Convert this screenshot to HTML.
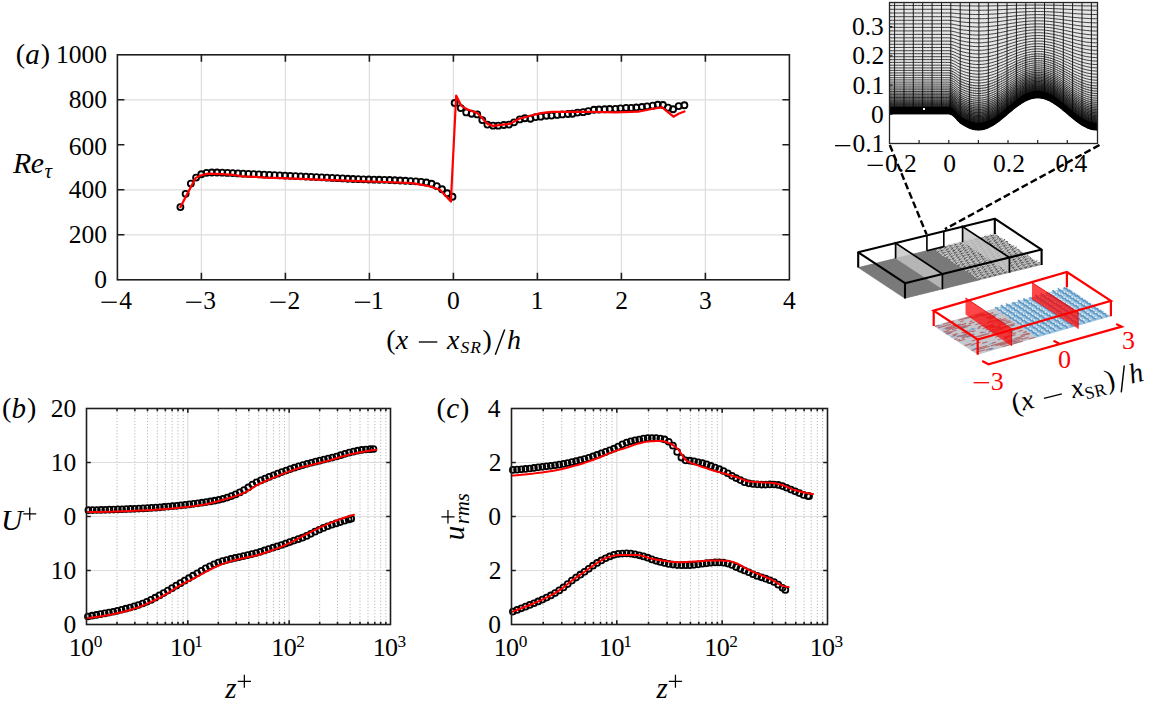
<!DOCTYPE html>
<html><head><meta charset="utf-8"><style>
html,body{margin:0;padding:0;background:#fff;}
svg{display:block;}
</style></head><body>
<svg width="1149" height="706" viewBox="0 0 1149 706" font-family="'Liberation Serif', serif" fill="#000">
<rect width="1149" height="706" fill="#fff"/>
<path d="M201.4 54.8 V279.8 M285.4 54.8 V279.8 M369.4 54.8 V279.8 M453.4 54.8 V279.8 M537.4 54.8 V279.8 M621.4 54.8 V279.8 M705.4 54.8 V279.8 M117.4 234.8 H789.4 M117.4 189.8 H789.4 M117.4 99.8 H789.4" stroke="#dedede" stroke-width="1.2" fill="none"/>
<g fill="none" stroke="#000" stroke-width="1.85"><circle cx="180.4" cy="207.12" r="3.0"/><circle cx="185.63" cy="193.87" r="3.0"/><circle cx="190.86" cy="183.55" r="3.0"/><circle cx="196.1" cy="177.61" r="3.0"/><circle cx="201.33" cy="174.29" r="3.0"/><circle cx="206.56" cy="172.85" r="3.0"/><circle cx="211.79" cy="172.48" r="3.0"/><circle cx="217.03" cy="172.48" r="3.0"/><circle cx="222.26" cy="172.69" r="3.0"/><circle cx="227.49" cy="172.9" r="3.0"/><circle cx="232.72" cy="173.12" r="3.0"/><circle cx="237.95" cy="173.39" r="3.0"/><circle cx="243.19" cy="173.68" r="3.0"/><circle cx="248.42" cy="173.92" r="3.0"/><circle cx="253.65" cy="174.14" r="3.0"/><circle cx="258.88" cy="174.36" r="3.0"/><circle cx="264.12" cy="174.61" r="3.0"/><circle cx="269.35" cy="174.87" r="3.0"/><circle cx="274.58" cy="175.13" r="3.0"/><circle cx="279.81" cy="175.36" r="3.0"/><circle cx="285.04" cy="175.58" r="3.0"/><circle cx="290.28" cy="175.82" r="3.0"/><circle cx="295.51" cy="176.07" r="3.0"/><circle cx="300.74" cy="176.33" r="3.0"/><circle cx="305.97" cy="176.59" r="3.0"/><circle cx="311.21" cy="176.85" r="3.0"/><circle cx="316.44" cy="177.11" r="3.0"/><circle cx="321.67" cy="177.37" r="3.0"/><circle cx="326.9" cy="177.63" r="3.0"/><circle cx="332.13" cy="177.88" r="3.0"/><circle cx="337.37" cy="178.16" r="3.0"/><circle cx="342.6" cy="178.43" r="3.0"/><circle cx="347.83" cy="178.7" r="3.0"/><circle cx="353.06" cy="178.95" r="3.0"/><circle cx="358.3" cy="179.18" r="3.0"/><circle cx="363.53" cy="179.37" r="3.0"/><circle cx="368.76" cy="179.52" r="3.0"/><circle cx="373.99" cy="179.63" r="3.0"/><circle cx="379.22" cy="179.72" r="3.0"/><circle cx="384.46" cy="179.83" r="3.0"/><circle cx="389.69" cy="179.99" r="3.0"/><circle cx="394.92" cy="180.22" r="3.0"/><circle cx="400.15" cy="180.48" r="3.0"/><circle cx="405.39" cy="180.76" r="3.0"/><circle cx="410.62" cy="181.06" r="3.0"/><circle cx="415.85" cy="181.37" r="3.0"/><circle cx="421.08" cy="181.81" r="3.0"/><circle cx="426.31" cy="182.5" r="3.0"/><circle cx="431.55" cy="183.75" r="3.0"/><circle cx="436.78" cy="186.12" r="3.0"/><circle cx="442.01" cy="189.29" r="3.0"/><circle cx="447.24" cy="193.28" r="3.0"/><circle cx="452.48" cy="196.78" r="3.0"/><circle cx="454.66" cy="102.95" r="3.0"/><circle cx="460.79" cy="108.12" r="3.0"/><circle cx="466.25" cy="112.4" r="3.0"/><circle cx="471.63" cy="113.75" r="3.0"/><circle cx="477.26" cy="114.43" r="3.0"/><circle cx="482.3" cy="120.05" r="3.0"/><circle cx="487.42" cy="124.55" r="3.0"/><circle cx="493.13" cy="125.68" r="3.0"/><circle cx="498.26" cy="125.68" r="3.0"/><circle cx="503.8" cy="125" r="3.0"/><circle cx="508.92" cy="124.55" r="3.0"/><circle cx="514.05" cy="122.3" r="3.0"/><circle cx="519.76" cy="119.38" r="3.0"/><circle cx="524.88" cy="118.25" r="3.0"/><circle cx="530.43" cy="118.7" r="3.0"/><circle cx="535.55" cy="117.12" r="3.0"/><circle cx="540.68" cy="116.68" r="3.0"/><circle cx="546.39" cy="115.78" r="3.0"/><circle cx="551.51" cy="115.55" r="3.0"/><circle cx="557.14" cy="114.88" r="3.0"/><circle cx="562.26" cy="114.43" r="3.0"/><circle cx="567.98" cy="113.97" r="3.0"/><circle cx="572.43" cy="113.75" r="3.0"/><circle cx="577.47" cy="112.62" r="3.0"/><circle cx="583.1" cy="112.18" r="3.0"/><circle cx="588.22" cy="111.05" r="3.0"/><circle cx="593.93" cy="109.7" r="3.0"/><circle cx="598.97" cy="109.47" r="3.0"/><circle cx="604.6" cy="109.25" r="3.0"/><circle cx="609.72" cy="109.03" r="3.0"/><circle cx="615.44" cy="108.8" r="3.0"/><circle cx="620.48" cy="108.35" r="3.0"/><circle cx="626.1" cy="107.9" r="3.0"/><circle cx="631.23" cy="107.9" r="3.0"/><circle cx="636.27" cy="107.45" r="3.0"/><circle cx="641.9" cy="107" r="3.0"/><circle cx="647.02" cy="106.33" r="3.0"/><circle cx="652.73" cy="105.65" r="3.0"/><circle cx="657.77" cy="104.75" r="3.0"/><circle cx="662.9" cy="104.97" r="3.0"/><circle cx="668.02" cy="107.68" r="3.0"/><circle cx="673.06" cy="109.25" r="3.0"/><circle cx="678.69" cy="106.1" r="3.0"/><circle cx="684.4" cy="105.2" r="3.0"/></g>
<path d="M180.4 207.12 L195.52 178.1 L200.31 175.51 L208.2 173.6 L221.22 174.21 L233.4 174.79 L242.14 176.3 L256 176.8 L264.74 177.61 L282.04 178.1 L295.06 178.55 L327.4 179.9 L359.82 181.09 L386.2 181.99 L412.24 183.1 L429.46 186.29 L439.96 189.8 L450.88 201.59 L456.17 95.53 L461.3 105.65 L466.84 109.25 L477.26 113.08 L481.71 117.58 L487.42 123.88 L493.13 125.9 L503.38 124.55 L510.18 123.88 L519.17 118.7 L529.42 116 L540.76 113.08 L551.68 111.95 L570.16 111.95 L592.84 111.95 L615.52 112.4 L638.2 111.72 L649.12 109.47 L661.72 107.22 L663.99 108.8 L673.48 116.68 L678.52 113.75 L684.4 111.5" fill="none" stroke="#ff0000" stroke-width="2.2" stroke-linejoin="round" stroke-linecap="round"/>
<path d="M201.4 279.8 v-7 M201.4 54.8 v7 M285.4 279.8 v-7 M285.4 54.8 v7 M369.4 279.8 v-7 M369.4 54.8 v7 M453.4 279.8 v-7 M453.4 54.8 v7 M537.4 279.8 v-7 M537.4 54.8 v7 M621.4 279.8 v-7 M621.4 54.8 v7 M705.4 279.8 v-7 M705.4 54.8 v7 M117.4 234.8 h7 M789.4 234.8 h-7 M117.4 189.8 h7 M789.4 189.8 h-7 M117.4 144.8 h7 M789.4 144.8 h-7 M117.4 99.8 h7 M789.4 99.8 h-7" stroke="#1e1e1e" stroke-width="1.6" fill="none"/>
<rect x="117.4" y="54.8" width="672.0" height="225.0" fill="none" stroke="#1e1e1e" stroke-width="1.6"/>
<text x="94.22" y="288.2" font-size="25.5">0</text>
<text x="68.72" y="243.2" font-size="25.5">200</text>
<text x="68.72" y="198.2" font-size="25.5">400</text>
<text x="68.72" y="155.2" font-size="25.5">600</text>
<text x="68.72" y="108.2" font-size="25.5">800</text>
<text x="55.97" y="63.2" font-size="25.5">1000</text>
<path d="M101.49 302.25 H116.79" stroke="#000" stroke-width="1.3"/><text x="119.36" y="308.5" font-size="25.5">4</text>
<path d="M186.15 302.25 H201.45" stroke="#000" stroke-width="1.3"/><text x="203.29" y="308.5" font-size="25.5">3</text>
<path d="M270.31 302.25 H285.61" stroke="#000" stroke-width="1.3"/><text x="287.55" y="308.5" font-size="25.5">2</text>
<path d="M354.93 302.25 H370.23" stroke="#000" stroke-width="1.3"/><text x="371.05" y="308.5" font-size="25.5">1</text>
<text x="447.02" y="308.5" font-size="25.5">0</text>
<text x="530.67" y="308.5" font-size="25.5">1</text>
<text x="615.17" y="308.5" font-size="25.5">2</text>
<text x="698.91" y="308.5" font-size="25.5">3</text>
<text x="782.98" y="308.5" font-size="25.5">4</text>
<text x="15.67" y="63.4" font-size="28">(</text><text x="25.24" y="63.6" font-size="29" font-style="italic">a</text><text x="40.8" y="63.4" font-size="28">)</text>
<text x="13.06" y="173" font-size="29.8" font-style="italic">R</text><text x="30.68" y="173" font-size="29.8" font-style="italic">e</text><text x="44.44" y="177.6" font-size="21" font-style="italic">τ</text>
<text x="386.27" y="348.8" font-size="28">(</text><text x="395.84" y="348.8" font-size="28" font-style="italic">x</text><path d="M418.8 342 H437.3" stroke="#000" stroke-width="1.35"/><text x="447.04" y="348.8" font-size="28" font-style="italic">x</text><text x="460.59" y="353.4" font-size="17.5" font-style="italic">S</text><text x="470.19" y="353.4" font-size="17.5" font-style="italic">R</text><text x="482.6" y="348.8" font-size="28">)</text><path d="M504.7 329.5 L495.3 354.8" stroke="#000" stroke-width="1.45"/><text x="507.09" y="348.8" font-size="28" font-style="italic">h</text>
<path d="M117 408.5 V624.5 M134.85 408.5 V624.5 M147.51 408.5 V624.5 M157.33 408.5 V624.5 M165.35 408.5 V624.5 M172.13 408.5 V624.5 M178.01 408.5 V624.5 M183.19 408.5 V624.5 M218.33 408.5 V624.5 M236.18 408.5 V624.5 M248.84 408.5 V624.5 M258.66 408.5 V624.5 M266.68 408.5 V624.5 M273.46 408.5 V624.5 M279.34 408.5 V624.5 M284.52 408.5 V624.5 M319.66 408.5 V624.5 M337.51 408.5 V624.5 M350.17 408.5 V624.5 M359.99 408.5 V624.5 M368.01 408.5 V624.5 M374.79 408.5 V624.5 M380.67 408.5 V624.5 M385.85 408.5 V624.5" stroke="#b8b8b8" stroke-width="1" stroke-dasharray="1.2 1.9" fill="none"/>
<path d="M187.83 408.5 V624.5 M289.16 408.5 V624.5 M86.5 462.5 H390.49 M86.5 516.5 H390.49 M86.5 570.5 H390.49" stroke="#dedede" stroke-width="1.2" fill="none"/>
<g fill="none" stroke="#000" stroke-width="1.8"><circle cx="87.92" cy="616.51" r="2.95"/><circle cx="92.12" cy="615.72" r="2.95"/><circle cx="96.33" cy="614.93" r="2.95"/><circle cx="100.53" cy="614.17" r="2.95"/><circle cx="104.74" cy="613.41" r="2.95"/><circle cx="108.94" cy="612.61" r="2.95"/><circle cx="113.15" cy="611.73" r="2.95"/><circle cx="117.35" cy="610.78" r="2.95"/><circle cx="121.56" cy="609.77" r="2.95"/><circle cx="125.77" cy="608.72" r="2.95"/><circle cx="129.97" cy="607.6" r="2.95"/><circle cx="134.18" cy="606.38" r="2.95"/><circle cx="138.38" cy="605.02" r="2.95"/><circle cx="142.59" cy="603.52" r="2.95"/><circle cx="146.79" cy="601.84" r="2.95"/><circle cx="151" cy="599.9" r="2.95"/><circle cx="155.2" cy="597.7" r="2.95"/><circle cx="159.41" cy="595.42" r="2.95"/><circle cx="163.61" cy="593.07" r="2.95"/><circle cx="167.82" cy="590.62" r="2.95"/><circle cx="172.02" cy="588.14" r="2.95"/><circle cx="176.23" cy="585.66" r="2.95"/><circle cx="180.43" cy="583.15" r="2.95"/><circle cx="184.64" cy="580.65" r="2.95"/><circle cx="188.84" cy="578.18" r="2.95"/><circle cx="193.05" cy="575.72" r="2.95"/><circle cx="197.25" cy="573.26" r="2.95"/><circle cx="201.46" cy="570.75" r="2.95"/><circle cx="205.66" cy="568.41" r="2.95"/><circle cx="209.87" cy="566.28" r="2.95"/><circle cx="214.07" cy="564.28" r="2.95"/><circle cx="218.28" cy="562.55" r="2.95"/><circle cx="222.48" cy="561.16" r="2.95"/><circle cx="226.69" cy="560" r="2.95"/><circle cx="230.9" cy="558.95" r="2.95"/><circle cx="235.1" cy="557.95" r="2.95"/><circle cx="239.31" cy="557.03" r="2.95"/><circle cx="243.51" cy="556.1" r="2.95"/><circle cx="247.72" cy="555.11" r="2.95"/><circle cx="251.92" cy="554.09" r="2.95"/><circle cx="256.13" cy="553" r="2.95"/><circle cx="260.33" cy="551.8" r="2.95"/><circle cx="264.54" cy="550.46" r="2.95"/><circle cx="268.74" cy="549.08" r="2.95"/><circle cx="272.95" cy="547.72" r="2.95"/><circle cx="277.15" cy="546.38" r="2.95"/><circle cx="281.36" cy="545.01" r="2.95"/><circle cx="285.56" cy="543.57" r="2.95"/><circle cx="289.77" cy="542.08" r="2.95"/><circle cx="293.97" cy="540.59" r="2.95"/><circle cx="298.18" cy="539.17" r="2.95"/><circle cx="302.38" cy="537.69" r="2.95"/><circle cx="306.59" cy="535.96" r="2.95"/><circle cx="310.79" cy="533.84" r="2.95"/><circle cx="315" cy="531.66" r="2.95"/><circle cx="319.2" cy="529.73" r="2.95"/><circle cx="323.41" cy="527.94" r="2.95"/><circle cx="327.61" cy="526.27" r="2.95"/><circle cx="331.82" cy="524.76" r="2.95"/><circle cx="336.03" cy="523.38" r="2.95"/><circle cx="340.23" cy="522.07" r="2.95"/><circle cx="344.44" cy="520.76" r="2.95"/><circle cx="348.64" cy="519.46" r="2.95"/><circle cx="351.17" cy="518.7" r="2.95"/></g>
<path d="M86.5 618.2 L88.75 617.96 L91 617.7 L93.24 617.42 L95.49 617.11 L97.74 616.78 L99.99 616.44 L102.24 616.08 L104.48 615.7 L106.73 615.3 L108.98 614.9 L111.23 614.48 L113.48 614.03 L115.72 613.56 L117.97 613.06 L120.22 612.53 L122.47 611.98 L124.72 611.41 L126.96 610.8 L129.21 610.17 L131.46 609.51 L133.71 608.83 L135.96 608.11 L138.2 607.32 L140.45 606.48 L142.7 605.58 L144.95 604.64 L147.2 603.66 L149.44 602.64 L151.69 601.59 L153.94 600.51 L156.19 599.42 L158.44 598.31 L160.68 597.17 L162.93 595.94 L165.18 594.65 L167.43 593.29 L169.68 591.89 L171.92 590.47 L174.17 589.05 L176.42 587.64 L178.67 586.26 L180.92 584.93 L183.16 583.67 L185.41 582.49 L187.66 581.45 L189.91 580.42 L192.16 579.29 L194.4 578.09 L196.65 576.86 L198.9 575.61 L201.15 574.37 L203.4 573.16 L205.64 571.98 L207.89 570.79 L210.14 569.6 L212.39 568.42 L214.64 567.29 L216.88 566.23 L219.13 565.27 L221.38 564.4 L223.63 563.58 L225.88 562.81 L228.12 562.08 L230.37 561.38 L232.62 560.73 L234.87 560.11 L237.12 559.52 L239.36 558.99 L241.61 558.49 L243.86 558.02 L246.11 557.56 L248.36 557.11 L250.6 556.64 L252.85 556.16 L255.1 555.63 L257.35 555.06 L259.6 554.44 L261.84 553.77 L264.09 553.07 L266.34 552.33 L268.59 551.56 L270.84 550.75 L273.08 549.93 L275.33 549.08 L277.58 548.21 L279.83 547.33 L282.08 546.42 L284.32 545.46 L286.57 544.45 L288.82 543.41 L291.07 542.33 L293.32 541.22 L295.56 540.04 L297.81 538.81 L300.06 537.57 L302.31 536.34 L304.56 535.15 L306.8 534 L309.05 532.86 L311.3 531.73 L313.55 530.62 L315.8 529.53 L318.04 528.46 L320.29 527.42 L322.54 526.39 L324.79 525.38 L327.04 524.38 L329.28 523.41 L331.53 522.47 L333.78 521.57 L336.03 520.71 L338.28 519.88 L340.52 519.06 L342.77 518.27 L345.02 517.5 L347.27 516.76 L349.52 516.04 L351.76 515.36 L354.01 514.7" fill="none" stroke="#ff0000" stroke-width="2.0" stroke-linejoin="round" stroke-linecap="round"/>
<g fill="none" stroke="#000" stroke-width="1.8"><circle cx="88.43" cy="510.2" r="2.95"/><circle cx="92.63" cy="510.11" r="2.95"/><circle cx="96.84" cy="510.01" r="2.95"/><circle cx="101.04" cy="509.9" r="2.95"/><circle cx="105.25" cy="509.79" r="2.95"/><circle cx="109.45" cy="509.67" r="2.95"/><circle cx="113.66" cy="509.54" r="2.95"/><circle cx="117.86" cy="509.4" r="2.95"/><circle cx="122.07" cy="509.26" r="2.95"/><circle cx="126.27" cy="509.11" r="2.95"/><circle cx="130.48" cy="508.95" r="2.95"/><circle cx="134.68" cy="508.78" r="2.95"/><circle cx="138.89" cy="508.59" r="2.95"/><circle cx="143.09" cy="508.38" r="2.95"/><circle cx="147.3" cy="508.15" r="2.95"/><circle cx="151.5" cy="507.89" r="2.95"/><circle cx="155.71" cy="507.6" r="2.95"/><circle cx="159.91" cy="507.28" r="2.95"/><circle cx="164.12" cy="506.95" r="2.95"/><circle cx="168.32" cy="506.59" r="2.95"/><circle cx="172.53" cy="506.22" r="2.95"/><circle cx="176.73" cy="505.81" r="2.95"/><circle cx="180.94" cy="505.37" r="2.95"/><circle cx="185.14" cy="504.89" r="2.95"/><circle cx="189.35" cy="504.38" r="2.95"/><circle cx="193.56" cy="503.84" r="2.95"/><circle cx="197.76" cy="503.28" r="2.95"/><circle cx="201.97" cy="502.7" r="2.95"/><circle cx="206.17" cy="502.09" r="2.95"/><circle cx="210.38" cy="501.43" r="2.95"/><circle cx="214.58" cy="500.68" r="2.95"/><circle cx="218.79" cy="499.82" r="2.95"/><circle cx="222.99" cy="498.79" r="2.95"/><circle cx="227.2" cy="497.53" r="2.95"/><circle cx="231.4" cy="496.06" r="2.95"/><circle cx="235.61" cy="494.42" r="2.95"/><circle cx="239.81" cy="492.42" r="2.95"/><circle cx="244.02" cy="490.13" r="2.95"/><circle cx="248.22" cy="487.47" r="2.95"/><circle cx="252.43" cy="484.54" r="2.95"/><circle cx="256.63" cy="482.3" r="2.95"/><circle cx="260.84" cy="480.41" r="2.95"/><circle cx="265.04" cy="478.66" r="2.95"/><circle cx="269.25" cy="476.92" r="2.95"/><circle cx="273.45" cy="475.24" r="2.95"/><circle cx="277.66" cy="473.63" r="2.95"/><circle cx="281.86" cy="472.07" r="2.95"/><circle cx="286.07" cy="470.55" r="2.95"/><circle cx="290.27" cy="469.08" r="2.95"/><circle cx="294.48" cy="467.68" r="2.95"/><circle cx="298.69" cy="466.35" r="2.95"/><circle cx="302.89" cy="465.07" r="2.95"/><circle cx="307.1" cy="463.85" r="2.95"/><circle cx="311.3" cy="462.73" r="2.95"/><circle cx="315.51" cy="461.67" r="2.95"/><circle cx="319.71" cy="460.64" r="2.95"/><circle cx="323.92" cy="459.61" r="2.95"/><circle cx="328.12" cy="458.61" r="2.95"/><circle cx="332.33" cy="457.59" r="2.95"/><circle cx="336.53" cy="456.49" r="2.95"/><circle cx="340.74" cy="455.2" r="2.95"/><circle cx="344.94" cy="453.85" r="2.95"/><circle cx="349.15" cy="452.65" r="2.95"/><circle cx="353.35" cy="451.63" r="2.95"/><circle cx="357.56" cy="450.69" r="2.95"/><circle cx="361.76" cy="449.95" r="2.95"/><circle cx="365.97" cy="449.48" r="2.95"/><circle cx="370.17" cy="449.14" r="2.95"/><circle cx="373.47" cy="449" r="2.95"/></g>
<path d="M87.01 512.1 L89.44 512.09 L91.87 512.07 L94.3 512.05 L96.73 512.01 L99.16 511.97 L101.59 511.92 L104.02 511.87 L106.45 511.81 L108.88 511.74 L111.31 511.67 L113.74 511.59 L116.17 511.51 L118.6 511.42 L121.03 511.33 L123.46 511.23 L125.89 511.14 L128.32 511.04 L130.75 510.93 L133.18 510.83 L135.61 510.72 L138.04 510.61 L140.47 510.5 L142.9 510.39 L145.33 510.28 L147.76 510.15 L150.19 510.02 L152.62 509.88 L155.05 509.73 L157.48 509.58 L159.91 509.41 L162.34 509.23 L164.77 509.05 L167.2 508.86 L169.63 508.65 L172.06 508.44 L174.49 508.22 L176.92 507.99 L179.35 507.74 L181.79 507.49 L184.22 507.23 L186.65 506.96 L189.08 506.68 L191.51 506.38 L193.94 506.08 L196.37 505.77 L198.8 505.44 L201.23 505.07 L203.66 504.65 L206.09 504.17 L208.52 503.65 L210.95 503.09 L213.38 502.49 L215.81 501.86 L218.24 501.21 L220.67 500.53 L223.1 499.83 L225.53 499.12 L227.96 498.4 L230.39 497.68 L232.82 496.94 L235.25 496.16 L237.68 495.34 L240.11 494.45 L242.54 493.49 L244.97 492.44 L247.4 491.21 L249.83 489.71 L252.26 488.08 L254.69 486.47 L257.12 484.99 L259.55 483.74 L261.98 482.57 L264.41 481.47 L266.84 480.41 L269.27 479.38 L271.7 478.35 L274.13 477.34 L276.56 476.35 L278.99 475.38 L281.42 474.43 L283.85 473.5 L286.28 472.58 L288.71 471.67 L291.14 470.76 L293.58 469.88 L296.01 469.03 L298.44 468.25 L300.87 467.54 L303.3 466.89 L305.73 466.29 L308.16 465.71 L310.59 465.13 L313.02 464.54 L315.45 463.94 L317.88 463.34 L320.31 462.74 L322.74 462.13 L325.17 461.51 L327.6 460.86 L330.03 460.17 L332.46 459.44 L334.89 458.7 L337.32 457.96 L339.75 457.24 L342.18 456.57 L344.61 455.91 L347.04 455.27 L349.47 454.64 L351.9 454.05 L354.33 453.51 L356.76 453.01 L359.19 452.53 L361.62 452.07 L364.05 451.63 L366.48 451.2 L368.91 450.81 L371.34 450.44 L373.77 450.1 L376.2 449.8" fill="none" stroke="#ff0000" stroke-width="2.0" stroke-linejoin="round" stroke-linecap="round"/>
<path d="M117 624.5 v-2.8 M117 408.5 v2.8 M134.85 624.5 v-2.8 M134.85 408.5 v2.8 M147.51 624.5 v-2.8 M147.51 408.5 v2.8 M157.33 624.5 v-2.8 M157.33 408.5 v2.8 M165.35 624.5 v-2.8 M165.35 408.5 v2.8 M172.13 624.5 v-2.8 M172.13 408.5 v2.8 M178.01 624.5 v-2.8 M178.01 408.5 v2.8 M183.19 624.5 v-2.8 M183.19 408.5 v2.8 M218.33 624.5 v-2.8 M218.33 408.5 v2.8 M236.18 624.5 v-2.8 M236.18 408.5 v2.8 M248.84 624.5 v-2.8 M248.84 408.5 v2.8 M258.66 624.5 v-2.8 M258.66 408.5 v2.8 M266.68 624.5 v-2.8 M266.68 408.5 v2.8 M273.46 624.5 v-2.8 M273.46 408.5 v2.8 M279.34 624.5 v-2.8 M279.34 408.5 v2.8 M284.52 624.5 v-2.8 M284.52 408.5 v2.8 M319.66 624.5 v-2.8 M319.66 408.5 v2.8 M337.51 624.5 v-2.8 M337.51 408.5 v2.8 M350.17 624.5 v-2.8 M350.17 408.5 v2.8 M359.99 624.5 v-2.8 M359.99 408.5 v2.8 M368.01 624.5 v-2.8 M368.01 408.5 v2.8 M374.79 624.5 v-2.8 M374.79 408.5 v2.8 M380.67 624.5 v-2.8 M380.67 408.5 v2.8 M385.85 624.5 v-2.8 M385.85 408.5 v2.8 M187.83 624.5 v-4.3 M187.83 408.5 v4.3 M289.16 624.5 v-4.3 M289.16 408.5 v4.3 M86.5 462.5 h4.3 M390.49 462.5 h-4.3 M86.5 516.5 h4.3 M390.49 516.5 h-4.3 M86.5 570.5 h4.3 M390.49 570.5 h-4.3" stroke="#1e1e1e" stroke-width="1.6" fill="none"/>
<rect x="86.5" y="408.5" width="303.99" height="216" fill="none" stroke="#1e1e1e" stroke-width="1.6"/>
<text x="68.71" y="655.7" font-size="26">1</text><text x="81.11" y="655.7" font-size="26">0</text><text x="93.74" y="646.6" font-size="17.3">0</text>
<text x="170.04" y="655.7" font-size="26">1</text><text x="182.44" y="655.7" font-size="26">0</text><text x="194.21" y="646.6" font-size="17.3">1</text>
<text x="271.37" y="655.7" font-size="26">1</text><text x="283.77" y="655.7" font-size="26">0</text><text x="296.3" y="646.6" font-size="17.3">2</text>
<text x="372.7" y="655.7" font-size="26">1</text><text x="385.1" y="655.7" font-size="26">0</text><text x="397.56" y="646.6" font-size="17.3">3</text>
<text x="50.87" y="416.9" font-size="25.5">20</text>
<text x="50.87" y="470.9" font-size="25.5">10</text>
<text x="63.62" y="524.9" font-size="25.5">0</text>
<text x="50.87" y="578.9" font-size="25.5">10</text>
<text x="63.62" y="632.9" font-size="25.5">0</text>
<text x="1.97" y="416.8" font-size="28">(</text><text x="11.52" y="417.5" font-size="29" font-style="italic">b</text><text x="27.1" y="416.8" font-size="28">)</text>
<text x="0.95" y="530" font-size="30" font-style="italic">U</text><path d="M23.3 513.85 h12.9 M29.75 507.4 v12.9" stroke="#000" stroke-width="1.25"/>
<text x="225.33" y="697.6" font-size="29" font-style="italic">z</text><path d="M237.7 681.3 h13.3 M244.35 674.8 v13" stroke="#000" stroke-width="1.25"/>
<path d="M543.21 408.5 V624.5 M561.76 408.5 V624.5 M574.91 408.5 V624.5 M585.12 408.5 V624.5 M593.46 408.5 V624.5 M600.51 408.5 V624.5 M606.62 408.5 V624.5 M612.01 408.5 V624.5 M648.54 408.5 V624.5 M667.09 408.5 V624.5 M680.24 408.5 V624.5 M690.45 408.5 V624.5 M698.79 408.5 V624.5 M705.84 408.5 V624.5 M711.95 408.5 V624.5 M717.34 408.5 V624.5 M753.87 408.5 V624.5 M772.42 408.5 V624.5 M785.57 408.5 V624.5 M795.78 408.5 V624.5 M804.12 408.5 V624.5 M811.17 408.5 V624.5 M817.28 408.5 V624.5 M822.67 408.5 V624.5" stroke="#b8b8b8" stroke-width="1" stroke-dasharray="1.2 1.9" fill="none"/>
<path d="M616.83 408.5 V624.5 M722.16 408.5 V624.5 M511.5 462.5 H827.49 M511.5 516.5 H827.49 M511.5 570.5 H827.49" stroke="#dedede" stroke-width="1.2" fill="none"/>
<g fill="none" stroke="#000" stroke-width="1.8"><circle cx="512.87" cy="469.9" r="2.95"/><circle cx="517.08" cy="469.63" r="2.95"/><circle cx="521.3" cy="469.3" r="2.95"/><circle cx="525.51" cy="468.93" r="2.95"/><circle cx="529.72" cy="468.49" r="2.95"/><circle cx="533.94" cy="467.96" r="2.95"/><circle cx="538.15" cy="467.37" r="2.95"/><circle cx="542.36" cy="466.79" r="2.95"/><circle cx="546.57" cy="466.28" r="2.95"/><circle cx="550.79" cy="465.79" r="2.95"/><circle cx="555" cy="465.26" r="2.95"/><circle cx="559.21" cy="464.65" r="2.95"/><circle cx="563.43" cy="463.9" r="2.95"/><circle cx="567.64" cy="463.06" r="2.95"/><circle cx="571.85" cy="462.16" r="2.95"/><circle cx="576.07" cy="461.22" r="2.95"/><circle cx="580.28" cy="460.21" r="2.95"/><circle cx="584.49" cy="459.1" r="2.95"/><circle cx="588.71" cy="457.87" r="2.95"/><circle cx="592.92" cy="456.46" r="2.95"/><circle cx="597.13" cy="454.94" r="2.95"/><circle cx="601.35" cy="453.4" r="2.95"/><circle cx="605.56" cy="451.9" r="2.95"/><circle cx="609.77" cy="450.37" r="2.95"/><circle cx="613.98" cy="448.7" r="2.95"/><circle cx="618.2" cy="446.67" r="2.95"/><circle cx="622.41" cy="444.33" r="2.95"/><circle cx="626.62" cy="442.5" r="2.95"/><circle cx="630.84" cy="441.28" r="2.95"/><circle cx="635.05" cy="440.31" r="2.95"/><circle cx="639.26" cy="439.48" r="2.95"/><circle cx="643.48" cy="438.65" r="2.95"/><circle cx="647.69" cy="438.13" r="2.95"/><circle cx="651.9" cy="438.09" r="2.95"/><circle cx="656.12" cy="438.09" r="2.95"/><circle cx="660.33" cy="438.51" r="2.95"/><circle cx="664.54" cy="439.45" r="2.95"/><circle cx="668.76" cy="441.77" r="2.95"/><circle cx="672.97" cy="445.65" r="2.95"/><circle cx="677.18" cy="451.92" r="2.95"/><circle cx="681.4" cy="457.55" r="2.95"/><circle cx="685.61" cy="460.34" r="2.95"/><circle cx="689.82" cy="460.69" r="2.95"/><circle cx="694.03" cy="461.39" r="2.95"/><circle cx="698.25" cy="462.26" r="2.95"/><circle cx="702.46" cy="463.22" r="2.95"/><circle cx="706.67" cy="464.38" r="2.95"/><circle cx="710.89" cy="465.94" r="2.95"/><circle cx="715.1" cy="467.64" r="2.95"/><circle cx="719.31" cy="469.19" r="2.95"/><circle cx="723.53" cy="470.98" r="2.95"/><circle cx="727.74" cy="473.23" r="2.95"/><circle cx="731.95" cy="475.84" r="2.95"/><circle cx="736.17" cy="478.04" r="2.95"/><circle cx="740.38" cy="480.12" r="2.95"/><circle cx="744.59" cy="482.14" r="2.95"/><circle cx="748.81" cy="483.34" r="2.95"/><circle cx="753.02" cy="484" r="2.95"/><circle cx="757.23" cy="484.35" r="2.95"/><circle cx="761.45" cy="484.54" r="2.95"/><circle cx="765.66" cy="484.61" r="2.95"/><circle cx="769.87" cy="484.43" r="2.95"/><circle cx="774.08" cy="484.49" r="2.95"/><circle cx="778.3" cy="484.96" r="2.95"/><circle cx="782.51" cy="486.11" r="2.95"/><circle cx="786.72" cy="487.74" r="2.95"/><circle cx="790.94" cy="489.59" r="2.95"/><circle cx="795.15" cy="491.35" r="2.95"/><circle cx="799.36" cy="493.08" r="2.95"/><circle cx="803.58" cy="494.89" r="2.95"/><circle cx="807.79" cy="495.99" r="2.95"/><circle cx="809.06" cy="496.2" r="2.95"/></g>
<path d="M511.82 475.6 L514.35 475.38 L516.88 475.16 L519.41 474.93 L521.94 474.69 L524.47 474.44 L527 474.18 L529.53 473.92 L532.06 473.65 L534.59 473.37 L537.12 473.07 L539.65 472.76 L542.18 472.43 L544.71 472.09 L547.24 471.73 L549.77 471.36 L552.31 470.96 L554.84 470.53 L557.37 470.07 L559.9 469.57 L562.43 468.99 L564.96 468.37 L567.49 467.7 L570.02 467.02 L572.55 466.32 L575.08 465.64 L577.61 464.93 L580.14 464.21 L582.67 463.45 L585.2 462.66 L587.73 461.82 L590.26 460.92 L592.79 459.96 L595.32 458.97 L597.86 457.97 L600.39 456.96 L602.92 455.96 L605.45 454.92 L607.98 453.85 L610.51 452.81 L613.04 451.83 L615.57 450.93 L618.1 450.13 L620.63 449.39 L623.16 448.67 L625.69 447.9 L628.22 447.04 L630.75 446.08 L633.28 445.12 L635.81 444.24 L638.34 443.54 L640.88 442.92 L643.41 442.34 L645.94 441.87 L648.47 441.54 L651 441.33 L653.53 441.15 L656.06 441.01 L658.59 440.92 L661.12 440.93 L663.65 441.32 L666.18 442.04 L668.71 442.95 L671.24 444.05 L673.77 445.64 L676.3 447.59 L678.83 450.16 L681.36 454.09 L683.9 457.94 L686.43 460.54 L688.96 462.08 L691.49 463.09 L694.02 463.97 L696.55 464.91 L699.08 465.83 L701.61 466.71 L704.14 467.57 L706.67 468.39 L709.2 469.18 L711.73 469.95 L714.26 470.7 L716.79 471.43 L719.32 472.15 L721.85 472.84 L724.38 473.53 L726.91 474.23 L729.45 474.97 L731.98 475.72 L734.51 476.49 L737.04 477.28 L739.57 478.16 L742.1 479.2 L744.63 480.22 L747.16 481.03 L749.69 481.48 L752.22 481.75 L754.75 481.95 L757.28 482.12 L759.81 482.26 L762.34 482.39 L764.87 482.48 L767.4 482.57 L769.93 482.69 L772.47 482.88 L775 483.27 L777.53 483.84 L780.06 484.53 L782.59 485.26 L785.12 486.1 L787.65 487.16 L790.18 488.29 L792.71 489.35 L795.24 490.19 L797.77 490.91 L800.3 491.57 L802.83 492.17 L805.36 492.73 L807.89 493.23 L810.42 493.69 L812.95 494.09" fill="none" stroke="#ff0000" stroke-width="2.0" stroke-linejoin="round" stroke-linecap="round"/>
<g fill="none" stroke="#000" stroke-width="1.8"><circle cx="512.87" cy="611.59" r="2.95"/><circle cx="517.08" cy="609.95" r="2.95"/><circle cx="521.3" cy="608.29" r="2.95"/><circle cx="525.51" cy="606.63" r="2.95"/><circle cx="529.72" cy="604.96" r="2.95"/><circle cx="533.94" cy="603.23" r="2.95"/><circle cx="538.15" cy="601.47" r="2.95"/><circle cx="542.36" cy="599.6" r="2.95"/><circle cx="546.57" cy="597.59" r="2.95"/><circle cx="550.79" cy="595.43" r="2.95"/><circle cx="555" cy="593.07" r="2.95"/><circle cx="559.21" cy="590.42" r="2.95"/><circle cx="563.43" cy="587.45" r="2.95"/><circle cx="567.64" cy="584.03" r="2.95"/><circle cx="571.85" cy="580.58" r="2.95"/><circle cx="576.07" cy="577.55" r="2.95"/><circle cx="580.28" cy="574.72" r="2.95"/><circle cx="584.49" cy="571.86" r="2.95"/><circle cx="588.71" cy="568.78" r="2.95"/><circle cx="592.92" cy="565.7" r="2.95"/><circle cx="597.13" cy="562.95" r="2.95"/><circle cx="601.35" cy="560.43" r="2.95"/><circle cx="605.56" cy="558.24" r="2.95"/><circle cx="609.77" cy="556.45" r="2.95"/><circle cx="613.98" cy="554.86" r="2.95"/><circle cx="618.2" cy="553.92" r="2.95"/><circle cx="622.41" cy="553.58" r="2.95"/><circle cx="626.62" cy="553.41" r="2.95"/><circle cx="630.84" cy="553.67" r="2.95"/><circle cx="635.05" cy="554.42" r="2.95"/><circle cx="639.26" cy="555.28" r="2.95"/><circle cx="643.48" cy="556.38" r="2.95"/><circle cx="647.69" cy="557.72" r="2.95"/><circle cx="651.9" cy="559.4" r="2.95"/><circle cx="656.12" cy="560.8" r="2.95"/><circle cx="660.33" cy="561.9" r="2.95"/><circle cx="664.54" cy="562.9" r="2.95"/><circle cx="668.76" cy="563.88" r="2.95"/><circle cx="672.97" cy="564.57" r="2.95"/><circle cx="677.18" cy="565.06" r="2.95"/><circle cx="681.4" cy="565.21" r="2.95"/><circle cx="685.61" cy="565.21" r="2.95"/><circle cx="689.82" cy="565.19" r="2.95"/><circle cx="694.03" cy="564.83" r="2.95"/><circle cx="698.25" cy="564.34" r="2.95"/><circle cx="702.46" cy="563.77" r="2.95"/><circle cx="706.67" cy="563.22" r="2.95"/><circle cx="710.89" cy="562.73" r="2.95"/><circle cx="715.1" cy="562.41" r="2.95"/><circle cx="719.31" cy="562.46" r="2.95"/><circle cx="723.53" cy="562.67" r="2.95"/><circle cx="727.74" cy="563.55" r="2.95"/><circle cx="731.95" cy="565.02" r="2.95"/><circle cx="736.17" cy="567.04" r="2.95"/><circle cx="740.38" cy="568.82" r="2.95"/><circle cx="744.59" cy="570.5" r="2.95"/><circle cx="748.81" cy="572.27" r="2.95"/><circle cx="753.02" cy="574.26" r="2.95"/><circle cx="757.23" cy="575.97" r="2.95"/><circle cx="761.45" cy="577.29" r="2.95"/><circle cx="765.66" cy="578.72" r="2.95"/><circle cx="769.87" cy="580.27" r="2.95"/><circle cx="774.08" cy="582.01" r="2.95"/><circle cx="778.3" cy="584.63" r="2.95"/><circle cx="782.51" cy="587.83" r="2.95"/><circle cx="785.36" cy="589.91" r="2.95"/></g>
<path d="M512.87 611.59 L515.19 610.69 L517.5 609.79 L519.82 608.88 L522.14 607.96 L524.46 607.05 L526.77 606.13 L529.09 605.21 L531.41 604.27 L533.72 603.32 L536.04 602.35 L538.36 601.37 L540.68 600.37 L542.99 599.31 L545.31 598.21 L547.63 597.07 L549.95 595.88 L552.26 594.63 L554.58 593.31 L556.9 591.91 L559.21 590.42 L561.53 588.85 L563.85 587.13 L566.17 585.26 L568.48 583.32 L570.8 581.42 L573.12 579.63 L575.44 577.98 L577.75 576.4 L580.07 574.86 L582.39 573.31 L584.7 571.72 L587.02 570.03 L589.34 568.31 L591.66 566.6 L593.97 564.97 L596.29 563.47 L598.61 562 L600.93 560.55 L603.24 559.23 L605.56 558.13 L607.88 557.33 L610.19 556.62 L612.51 555.98 L614.83 555.47 L617.15 555.17 L619.46 555.1 L621.78 555.07 L624.1 555.05 L626.42 555.03 L628.73 555.02 L631.05 555.01 L633.37 555.01 L635.68 555 L638 555.07 L640.32 555.4 L642.64 555.94 L644.95 556.63 L647.27 557.39 L649.59 558.13 L651.9 558.8 L654.22 559.32 L656.54 559.68 L658.86 560.04 L661.17 560.4 L663.49 560.75 L665.81 561.08 L668.13 561.38 L670.44 561.64 L672.76 561.87 L675.08 562.04 L677.39 562.16 L679.71 562.21 L682.03 562.19 L684.35 562.12 L686.66 562.01 L688.98 561.87 L691.3 561.72 L693.62 561.56 L695.93 561.42 L698.25 561.29 L700.57 561.16 L702.88 561.02 L705.2 560.87 L707.52 560.73 L709.84 560.6 L712.15 560.5 L714.47 560.43 L716.79 560.4 L719.11 560.43 L721.42 560.5 L723.74 560.63 L726.06 560.79 L728.37 560.98 L730.69 561.34 L733.01 562 L735.33 562.85 L737.64 563.76 L739.96 564.81 L742.28 566.11 L744.6 567.5 L746.91 568.88 L749.23 570.09 L751.55 571.14 L753.86 572.13 L756.18 573.08 L758.5 574.04 L760.82 575.02 L763.13 576 L765.45 576.98 L767.77 577.97 L770.09 579.01 L772.4 580.13 L774.72 581.48 L777.04 582.93 L779.35 584.31 L781.67 585.42 L783.99 586.14 L786.31 586.67 L788.62 587" fill="none" stroke="#ff0000" stroke-width="2.0" stroke-linejoin="round" stroke-linecap="round"/>
<path d="M543.21 624.5 v-2.8 M543.21 408.5 v2.8 M561.76 624.5 v-2.8 M561.76 408.5 v2.8 M574.91 624.5 v-2.8 M574.91 408.5 v2.8 M585.12 624.5 v-2.8 M585.12 408.5 v2.8 M593.46 624.5 v-2.8 M593.46 408.5 v2.8 M600.51 624.5 v-2.8 M600.51 408.5 v2.8 M606.62 624.5 v-2.8 M606.62 408.5 v2.8 M612.01 624.5 v-2.8 M612.01 408.5 v2.8 M648.54 624.5 v-2.8 M648.54 408.5 v2.8 M667.09 624.5 v-2.8 M667.09 408.5 v2.8 M680.24 624.5 v-2.8 M680.24 408.5 v2.8 M690.45 624.5 v-2.8 M690.45 408.5 v2.8 M698.79 624.5 v-2.8 M698.79 408.5 v2.8 M705.84 624.5 v-2.8 M705.84 408.5 v2.8 M711.95 624.5 v-2.8 M711.95 408.5 v2.8 M717.34 624.5 v-2.8 M717.34 408.5 v2.8 M753.87 624.5 v-2.8 M753.87 408.5 v2.8 M772.42 624.5 v-2.8 M772.42 408.5 v2.8 M785.57 624.5 v-2.8 M785.57 408.5 v2.8 M795.78 624.5 v-2.8 M795.78 408.5 v2.8 M804.12 624.5 v-2.8 M804.12 408.5 v2.8 M811.17 624.5 v-2.8 M811.17 408.5 v2.8 M817.28 624.5 v-2.8 M817.28 408.5 v2.8 M822.67 624.5 v-2.8 M822.67 408.5 v2.8 M616.83 624.5 v-4.3 M616.83 408.5 v4.3 M722.16 624.5 v-4.3 M722.16 408.5 v4.3 M511.5 462.5 h4.3 M827.49 462.5 h-4.3 M511.5 516.5 h4.3 M827.49 516.5 h-4.3 M511.5 570.5 h4.3 M827.49 570.5 h-4.3" stroke="#1e1e1e" stroke-width="1.6" fill="none"/>
<rect x="511.5" y="408.5" width="315.99" height="216" fill="none" stroke="#1e1e1e" stroke-width="1.6"/>
<text x="493.71" y="655.7" font-size="26">1</text><text x="506.11" y="655.7" font-size="26">0</text><text x="518.74" y="646.6" font-size="17.3">0</text>
<text x="599.04" y="655.7" font-size="26">1</text><text x="611.44" y="655.7" font-size="26">0</text><text x="623.21" y="646.6" font-size="17.3">1</text>
<text x="704.37" y="655.7" font-size="26">1</text><text x="716.77" y="655.7" font-size="26">0</text><text x="729.3" y="646.6" font-size="17.3">2</text>
<text x="809.7" y="655.7" font-size="26">1</text><text x="822.1" y="655.7" font-size="26">0</text><text x="834.56" y="646.6" font-size="17.3">3</text>
<text x="487.65" y="416.9" font-size="25.5">4</text>
<text x="488.66" y="470.9" font-size="25.5">2</text>
<text x="488.22" y="524.9" font-size="25.5">0</text>
<text x="488.66" y="578.9" font-size="25.5">2</text>
<text x="488.22" y="632.9" font-size="25.5">0</text>
<text x="436.47" y="416.8" font-size="28">(</text><text x="446.21" y="417.5" font-size="29" font-style="italic">c</text><text x="460.1" y="416.8" font-size="28">)</text>
<text x="656.43" y="697.6" font-size="29" font-style="italic">z</text><path d="M668.8 681.3 h13.3 M675.45 674.8 v13" stroke="#000" stroke-width="1.25"/>
<g transform="translate(464.3 540.3) rotate(-90)"><text x="-0.04" y="0" font-size="29" font-style="italic">u</text><text x="16.27" y="4.7" font-size="20.5" font-style="italic">rms</text></g>
<path d="M441.4 516.8 h13.1 M447.95 510 v13.6" stroke="#000" stroke-width="1.25"/>
<defs><clipPath id="ic"><rect x="889.5" y="2.5" width="208" height="141"/></clipPath></defs>
<g clip-path="url(#ic)">
<rect x="889.5" y="2.5" width="208" height="141" fill="#e6e6e6"/>
<path d="M889.5 114.3 L891 114.3 L892.5 114.3 L893.9 114.3 L895.4 114.3 L896.9 114.3 L898.4 114.3 L899.9 114.3 L901.4 114.3 L902.8 114.3 L904.3 114.3 L905.8 114.3 L907.3 114.3 L908.8 114.3 L910.2 114.3 L911.7 114.3 L913.2 114.3 L914.7 114.3 L916.2 114.3 L917.6 114.3 L919.1 114.3 L920.6 114.3 L922.1 114.3 L923.6 114.3 L925.1 114.3 L926.5 114.3 L928 114.3 L929.5 114.3 L931 114.3 L932.5 114.3 L933.9 114.3 L935.4 114.3 L936.9 114.3 L938.4 114.3 L939.9 114.3 L941.4 114.3 L942.8 114.3 L944.3 114.3 L945.8 114.3 L947.3 114.3 L948.8 114.3 L950.2 114.6 L951.7 115.3 L953.2 116.4 L954.7 117.8 L956.2 119.4 L957.6 121.1 L959.1 122.6 L960.6 123.7 L962.1 124.7 L963.6 125.7 L965.1 126.5 L966.5 127.3 L968 128 L969.5 128.6 L971 129.1 L972.5 129.6 L973.9 129.9 L975.4 130.2 L976.9 130.3 L978.4 130.4 L979.9 130.3 L981.4 130.2 L982.8 129.9 L984.3 129.6 L985.8 129.1 L987.3 128.6 L988.8 128 L990.2 127.3 L991.7 126.5 L993.2 125.7 L994.7 124.7 L996.2 123.7 L997.6 122.7 L999.1 121.6 L1000.6 120.4 L1002.1 119.3 L1003.6 118 L1005.1 116.8 L1006.5 115.6 L1008 114.3 L1009.5 113 L1011 111.8 L1012.5 110.6 L1013.9 109.3 L1015.4 108.2 L1016.9 107 L1018.4 105.9 L1019.9 104.9 L1021.4 103.9 L1022.8 102.9 L1024.3 102.1 L1025.8 101.3 L1027.3 100.6 L1028.8 100 L1030.2 99.5 L1031.7 99 L1033.2 98.7 L1034.7 98.4 L1036.2 98.3 L1037.7 98.2 L1039.1 98.3 L1040.6 98.4 L1042.1 98.7 L1043.6 99 L1045.1 99.5 L1046.5 100 L1048 100.6 L1049.5 101.3 L1051 102.1 L1052.5 102.9 L1053.9 103.9 L1055.4 104.9 L1056.9 105.9 L1058.4 107 L1059.9 108.2 L1061.4 109.3 L1062.8 110.6 L1064.3 111.8 L1065.8 113 L1067.3 114.3 L1068.8 115.6 L1070.2 116.8 L1071.7 118 L1073.2 119.3 L1074.7 120.4 L1076.2 121.6 L1077.7 122.7 L1079.1 123.7 L1080.6 124.7 L1082.1 125.7 L1083.6 126.5 L1085.1 127.3 L1086.5 128 L1088 128.6 L1089.5 129.1 L1091 129.6 L1092.5 129.9 L1093.9 130.2 L1095.4 130.3 L1096.9 130.4 M889.5 114.1 L891 114.1 L892.5 114.1 L893.9 114.1 L895.4 114.1 L896.9 114.1 L898.4 114.1 L899.9 114.1 L901.4 114.1 L902.8 114.1 L904.3 114.1 L905.8 114.1 L907.3 114.1 L908.8 114.1 L910.2 114.1 L911.7 114.1 L913.2 114.1 L914.7 114.1 L916.2 114.1 L917.6 114.1 L919.1 114.1 L920.6 114.1 L922.1 114.1 L923.6 114.1 L925.1 114.1 L926.5 114.1 L928 114.1 L929.5 114.1 L931 114.1 L932.5 114.1 L933.9 114.1 L935.4 114.1 L936.9 114.1 L938.4 114.1 L939.9 114.1 L941.4 114.1 L942.8 114.1 L944.3 114.1 L945.8 114.1 L947.3 114.1 L948.8 114.1 L950.2 114.4 L951.7 115.1 L953.2 116.1 L954.7 117.5 L956.2 119.2 L957.6 120.8 L959.1 122.3 L960.6 123.5 L962.1 124.5 L963.6 125.4 L965.1 126.2 L966.5 127 L968 127.7 L969.5 128.3 L971 128.9 L972.5 129.3 L973.9 129.6 L975.4 129.9 L976.9 130 L978.4 130.1 L979.9 130 L981.4 129.9 L982.8 129.6 L984.3 129.3 L985.8 128.9 L987.3 128.3 L988.8 127.7 L990.2 127 L991.7 126.2 L993.2 125.4 L994.7 124.5 L996.2 123.5 L997.6 122.4 L999.1 121.3 L1000.6 120.2 L1002.1 119 L1003.6 117.8 L1005.1 116.6 L1006.5 115.3 L1008 114.1 L1009.5 112.8 L1011 111.5 L1012.5 110.3 L1013.9 109.1 L1015.4 107.9 L1016.9 106.8 L1018.4 105.7 L1019.9 104.6 L1021.4 103.6 L1022.8 102.7 L1024.3 101.9 L1025.8 101.1 L1027.3 100.4 L1028.8 99.8 L1030.2 99.2 L1031.7 98.8 L1033.2 98.5 L1034.7 98.2 L1036.2 98.1 L1037.7 98 L1039.1 98.1 L1040.6 98.2 L1042.1 98.5 L1043.6 98.8 L1045.1 99.2 L1046.5 99.8 L1048 100.4 L1049.5 101.1 L1051 101.9 L1052.5 102.7 L1053.9 103.6 L1055.4 104.6 L1056.9 105.7 L1058.4 106.8 L1059.9 107.9 L1061.4 109.1 L1062.8 110.3 L1064.3 111.5 L1065.8 112.8 L1067.3 114.1 L1068.8 115.3 L1070.2 116.6 L1071.7 117.8 L1073.2 119 L1074.7 120.2 L1076.2 121.3 L1077.7 122.4 L1079.1 123.5 L1080.6 124.5 L1082.1 125.4 L1083.6 126.2 L1085.1 127 L1086.5 127.7 L1088 128.3 L1089.5 128.9 L1091 129.3 L1092.5 129.6 L1093.9 129.9 L1095.4 130 L1096.9 130.1 M889.5 113.8 L891 113.8 L892.5 113.8 L893.9 113.8 L895.4 113.8 L896.9 113.8 L898.4 113.8 L899.9 113.8 L901.4 113.8 L902.8 113.8 L904.3 113.8 L905.8 113.8 L907.3 113.8 L908.8 113.8 L910.2 113.8 L911.7 113.8 L913.2 113.8 L914.7 113.8 L916.2 113.8 L917.6 113.8 L919.1 113.8 L920.6 113.8 L922.1 113.8 L923.6 113.8 L925.1 113.8 L926.5 113.8 L928 113.8 L929.5 113.8 L931 113.8 L932.5 113.8 L933.9 113.8 L935.4 113.8 L936.9 113.8 L938.4 113.8 L939.9 113.8 L941.4 113.8 L942.8 113.8 L944.3 113.8 L945.8 113.8 L947.3 113.8 L948.8 113.8 L950.2 114.1 L951.7 114.8 L953.2 115.9 L954.7 117.3 L956.2 118.9 L957.6 120.5 L959.1 122 L960.6 123.2 L962.1 124.2 L963.6 125.1 L965.1 125.9 L966.5 126.7 L968 127.4 L969.5 128 L971 128.5 L972.5 129 L973.9 129.3 L975.4 129.6 L976.9 129.7 L978.4 129.8 L979.9 129.7 L981.4 129.6 L982.8 129.3 L984.3 129 L985.8 128.5 L987.3 128 L988.8 127.4 L990.2 126.7 L991.7 125.9 L993.2 125.1 L994.7 124.2 L996.2 123.2 L997.6 122.1 L999.1 121 L1000.6 119.9 L1002.1 118.7 L1003.6 117.5 L1005.1 116.3 L1006.5 115 L1008 113.8 L1009.5 112.5 L1011 111.3 L1012.5 110 L1013.9 108.8 L1015.4 107.7 L1016.9 106.5 L1018.4 105.4 L1019.9 104.4 L1021.4 103.4 L1022.8 102.5 L1024.3 101.6 L1025.8 100.8 L1027.3 100.2 L1028.8 99.5 L1030.2 99 L1031.7 98.6 L1033.2 98.2 L1034.7 98 L1036.2 97.8 L1037.7 97.8 L1039.1 97.8 L1040.6 98 L1042.1 98.2 L1043.6 98.6 L1045.1 99 L1046.5 99.5 L1048 100.2 L1049.5 100.8 L1051 101.6 L1052.5 102.5 L1053.9 103.4 L1055.4 104.4 L1056.9 105.4 L1058.4 106.5 L1059.9 107.7 L1061.4 108.8 L1062.8 110 L1064.3 111.3 L1065.8 112.5 L1067.3 113.8 L1068.8 115 L1070.2 116.3 L1071.7 117.5 L1073.2 118.7 L1074.7 119.9 L1076.2 121 L1077.7 122.1 L1079.1 123.2 L1080.6 124.2 L1082.1 125.1 L1083.6 125.9 L1085.1 126.7 L1086.5 127.4 L1088 128 L1089.5 128.5 L1091 129 L1092.5 129.3 L1093.9 129.6 L1095.4 129.7 L1096.9 129.8 M889.5 113.5 L891 113.5 L892.5 113.5 L893.9 113.5 L895.4 113.5 L896.9 113.5 L898.4 113.5 L899.9 113.5 L901.4 113.5 L902.8 113.5 L904.3 113.5 L905.8 113.5 L907.3 113.5 L908.8 113.5 L910.2 113.5 L911.7 113.5 L913.2 113.5 L914.7 113.5 L916.2 113.5 L917.6 113.5 L919.1 113.5 L920.6 113.5 L922.1 113.5 L923.6 113.5 L925.1 113.5 L926.5 113.5 L928 113.5 L929.5 113.5 L931 113.5 L932.5 113.5 L933.9 113.5 L935.4 113.5 L936.9 113.5 L938.4 113.5 L939.9 113.5 L941.4 113.5 L942.8 113.5 L944.3 113.5 L945.8 113.5 L947.3 113.5 L948.8 113.5 L950.2 113.8 L951.7 114.5 L953.2 115.6 L954.7 117 L956.2 118.6 L957.6 120.2 L959.1 121.7 L960.6 122.9 L962.1 123.8 L963.6 124.8 L965.1 125.6 L966.5 126.4 L968 127.1 L969.5 127.7 L971 128.2 L972.5 128.7 L973.9 129 L975.4 129.2 L976.9 129.4 L978.4 129.4 L979.9 129.4 L981.4 129.2 L982.8 129 L984.3 128.7 L985.8 128.2 L987.3 127.7 L988.8 127.1 L990.2 126.4 L991.7 125.6 L993.2 124.8 L994.7 123.8 L996.2 122.9 L997.6 121.8 L999.1 120.7 L1000.6 119.6 L1002.1 118.4 L1003.6 117.2 L1005.1 116 L1006.5 114.7 L1008 113.5 L1009.5 112.2 L1011 111 L1012.5 109.8 L1013.9 108.6 L1015.4 107.4 L1016.9 106.3 L1018.4 105.2 L1019.9 104.1 L1021.4 103.1 L1022.8 102.2 L1024.3 101.4 L1025.8 100.6 L1027.3 99.9 L1028.8 99.3 L1030.2 98.8 L1031.7 98.3 L1033.2 98 L1034.7 97.7 L1036.2 97.6 L1037.7 97.5 L1039.1 97.6 L1040.6 97.7 L1042.1 98 L1043.6 98.3 L1045.1 98.8 L1046.5 99.3 L1048 99.9 L1049.5 100.6 L1051 101.4 L1052.5 102.2 L1053.9 103.1 L1055.4 104.1 L1056.9 105.2 L1058.4 106.3 L1059.9 107.4 L1061.4 108.6 L1062.8 109.8 L1064.3 111 L1065.8 112.2 L1067.3 113.5 L1068.8 114.7 L1070.2 116 L1071.7 117.2 L1073.2 118.4 L1074.7 119.6 L1076.2 120.7 L1077.7 121.8 L1079.1 122.9 L1080.6 123.8 L1082.1 124.8 L1083.6 125.6 L1085.1 126.4 L1086.5 127.1 L1088 127.7 L1089.5 128.2 L1091 128.7 L1092.5 129 L1093.9 129.2 L1095.4 129.4 L1096.9 129.4 M889.5 113.2 L891 113.2 L892.5 113.2 L893.9 113.2 L895.4 113.2 L896.9 113.2 L898.4 113.2 L899.9 113.2 L901.4 113.2 L902.8 113.2 L904.3 113.2 L905.8 113.2 L907.3 113.2 L908.8 113.2 L910.2 113.2 L911.7 113.2 L913.2 113.2 L914.7 113.2 L916.2 113.2 L917.6 113.2 L919.1 113.2 L920.6 113.2 L922.1 113.2 L923.6 113.2 L925.1 113.2 L926.5 113.2 L928 113.2 L929.5 113.2 L931 113.2 L932.5 113.2 L933.9 113.2 L935.4 113.2 L936.9 113.2 L938.4 113.2 L939.9 113.2 L941.4 113.2 L942.8 113.2 L944.3 113.2 L945.8 113.2 L947.3 113.2 L948.8 113.2 L950.2 113.5 L951.7 114.2 L953.2 115.3 L954.7 116.6 L956.2 118.2 L957.6 119.9 L959.1 121.4 L960.6 122.5 L962.1 123.5 L963.6 124.4 L965.1 125.3 L966.5 126 L968 126.7 L969.5 127.3 L971 127.9 L972.5 128.3 L973.9 128.6 L975.4 128.9 L976.9 129 L978.4 129.1 L979.9 129 L981.4 128.9 L982.8 128.6 L984.3 128.3 L985.8 127.9 L987.3 127.3 L988.8 126.7 L990.2 126 L991.7 125.3 L993.2 124.4 L994.7 123.5 L996.2 122.5 L997.6 121.5 L999.1 120.4 L1000.6 119.3 L1002.1 118.1 L1003.6 116.9 L1005.1 115.7 L1006.5 114.4 L1008 113.2 L1009.5 111.9 L1011 110.7 L1012.5 109.5 L1013.9 108.3 L1015.4 107.1 L1016.9 106 L1018.4 104.9 L1019.9 103.8 L1021.4 102.9 L1022.8 101.9 L1024.3 101.1 L1025.8 100.3 L1027.3 99.6 L1028.8 99 L1030.2 98.5 L1031.7 98.1 L1033.2 97.7 L1034.7 97.5 L1036.2 97.3 L1037.7 97.3 L1039.1 97.3 L1040.6 97.5 L1042.1 97.7 L1043.6 98.1 L1045.1 98.5 L1046.5 99 L1048 99.6 L1049.5 100.3 L1051 101.1 L1052.5 101.9 L1053.9 102.9 L1055.4 103.8 L1056.9 104.9 L1058.4 106 L1059.9 107.1 L1061.4 108.3 L1062.8 109.5 L1064.3 110.7 L1065.8 111.9 L1067.3 113.2 L1068.8 114.4 L1070.2 115.7 L1071.7 116.9 L1073.2 118.1 L1074.7 119.3 L1076.2 120.4 L1077.7 121.5 L1079.1 122.5 L1080.6 123.5 L1082.1 124.4 L1083.6 125.3 L1085.1 126 L1086.5 126.7 L1088 127.3 L1089.5 127.9 L1091 128.3 L1092.5 128.6 L1093.9 128.9 L1095.4 129 L1096.9 129.1 M889.5 112.8 L891 112.8 L892.5 112.8 L893.9 112.8 L895.4 112.8 L896.9 112.8 L898.4 112.8 L899.9 112.8 L901.4 112.8 L902.8 112.8 L904.3 112.8 L905.8 112.8 L907.3 112.8 L908.8 112.8 L910.2 112.8 L911.7 112.8 L913.2 112.8 L914.7 112.8 L916.2 112.8 L917.6 112.8 L919.1 112.8 L920.6 112.8 L922.1 112.8 L923.6 112.8 L925.1 112.8 L926.5 112.8 L928 112.8 L929.5 112.8 L931 112.8 L932.5 112.8 L933.9 112.8 L935.4 112.8 L936.9 112.8 L938.4 112.8 L939.9 112.8 L941.4 112.8 L942.8 112.8 L944.3 112.8 L945.8 112.8 L947.3 112.8 L948.8 112.8 L950.2 113.2 L951.7 113.9 L953.2 114.9 L954.7 116.3 L956.2 117.9 L957.6 119.5 L959.1 121 L960.6 122.2 L962.1 123.1 L963.6 124 L965.1 124.9 L966.5 125.7 L968 126.4 L969.5 127 L971 127.5 L972.5 127.9 L973.9 128.2 L975.4 128.5 L976.9 128.6 L978.4 128.7 L979.9 128.6 L981.4 128.5 L982.8 128.2 L984.3 127.9 L985.8 127.5 L987.3 127 L988.8 126.4 L990.2 125.7 L991.7 124.9 L993.2 124 L994.7 123.1 L996.2 122.2 L997.6 121.1 L999.1 120 L1000.6 118.9 L1002.1 117.7 L1003.6 116.5 L1005.1 115.3 L1006.5 114.1 L1008 112.8 L1009.5 111.6 L1011 110.4 L1012.5 109.1 L1013.9 107.9 L1015.4 106.8 L1016.9 105.6 L1018.4 104.6 L1019.9 103.5 L1021.4 102.5 L1022.8 101.6 L1024.3 100.8 L1025.8 100 L1027.3 99.3 L1028.8 98.7 L1030.2 98.2 L1031.7 97.8 L1033.2 97.4 L1034.7 97.2 L1036.2 97 L1037.7 97 L1039.1 97 L1040.6 97.2 L1042.1 97.4 L1043.6 97.8 L1045.1 98.2 L1046.5 98.7 L1048 99.3 L1049.5 100 L1051 100.8 L1052.5 101.6 L1053.9 102.5 L1055.4 103.5 L1056.9 104.6 L1058.4 105.6 L1059.9 106.8 L1061.4 107.9 L1062.8 109.1 L1064.3 110.4 L1065.8 111.6 L1067.3 112.8 L1068.8 114.1 L1070.2 115.3 L1071.7 116.5 L1073.2 117.7 L1074.7 118.9 L1076.2 120 L1077.7 121.1 L1079.1 122.2 L1080.6 123.1 L1082.1 124 L1083.6 124.9 L1085.1 125.7 L1086.5 126.4 L1088 127 L1089.5 127.5 L1091 127.9 L1092.5 128.2 L1093.9 128.5 L1095.4 128.6 L1096.9 128.7 M889.5 112.5 L891 112.5 L892.5 112.5 L893.9 112.5 L895.4 112.5 L896.9 112.5 L898.4 112.5 L899.9 112.5 L901.4 112.5 L902.8 112.5 L904.3 112.5 L905.8 112.5 L907.3 112.5 L908.8 112.5 L910.2 112.5 L911.7 112.5 L913.2 112.5 L914.7 112.5 L916.2 112.5 L917.6 112.5 L919.1 112.5 L920.6 112.5 L922.1 112.5 L923.6 112.5 L925.1 112.5 L926.5 112.5 L928 112.5 L929.5 112.5 L931 112.5 L932.5 112.5 L933.9 112.5 L935.4 112.5 L936.9 112.5 L938.4 112.5 L939.9 112.5 L941.4 112.5 L942.8 112.5 L944.3 112.5 L945.8 112.5 L947.3 112.5 L948.8 112.5 L950.2 112.8 L951.7 113.5 L953.2 114.5 L954.7 115.9 L956.2 117.5 L957.6 119.2 L959.1 120.6 L960.6 121.8 L962.1 122.7 L963.6 123.6 L965.1 124.5 L966.5 125.3 L968 125.9 L969.5 126.5 L971 127.1 L972.5 127.5 L973.9 127.8 L975.4 128.1 L976.9 128.2 L978.4 128.3 L979.9 128.2 L981.4 128.1 L982.8 127.8 L984.3 127.5 L985.8 127.1 L987.3 126.5 L988.8 125.9 L990.2 125.3 L991.7 124.5 L993.2 123.6 L994.7 122.7 L996.2 121.8 L997.6 120.7 L999.1 119.6 L1000.6 118.5 L1002.1 117.4 L1003.6 116.2 L1005.1 114.9 L1006.5 113.7 L1008 112.5 L1009.5 111.2 L1011 110 L1012.5 108.8 L1013.9 107.6 L1015.4 106.4 L1016.9 105.3 L1018.4 104.2 L1019.9 103.2 L1021.4 102.2 L1022.8 101.3 L1024.3 100.5 L1025.8 99.7 L1027.3 99 L1028.8 98.4 L1030.2 97.9 L1031.7 97.4 L1033.2 97.1 L1034.7 96.9 L1036.2 96.7 L1037.7 96.7 L1039.1 96.7 L1040.6 96.9 L1042.1 97.1 L1043.6 97.4 L1045.1 97.9 L1046.5 98.4 L1048 99 L1049.5 99.7 L1051 100.5 L1052.5 101.3 L1053.9 102.2 L1055.4 103.2 L1056.9 104.2 L1058.4 105.3 L1059.9 106.4 L1061.4 107.6 L1062.8 108.8 L1064.3 110 L1065.8 111.2 L1067.3 112.5 L1068.8 113.7 L1070.2 114.9 L1071.7 116.2 L1073.2 117.4 L1074.7 118.5 L1076.2 119.6 L1077.7 120.7 L1079.1 121.8 L1080.6 122.7 L1082.1 123.6 L1083.6 124.5 L1085.1 125.3 L1086.5 125.9 L1088 126.5 L1089.5 127.1 L1091 127.5 L1092.5 127.8 L1093.9 128.1 L1095.4 128.2 L1096.9 128.3 M889.5 112.1 L891 112.1 L892.5 112.1 L893.9 112.1 L895.4 112.1 L896.9 112.1 L898.4 112.1 L899.9 112.1 L901.4 112.1 L902.8 112.1 L904.3 112.1 L905.8 112.1 L907.3 112.1 L908.8 112.1 L910.2 112.1 L911.7 112.1 L913.2 112.1 L914.7 112.1 L916.2 112.1 L917.6 112.1 L919.1 112.1 L920.6 112.1 L922.1 112.1 L923.6 112.1 L925.1 112.1 L926.5 112.1 L928 112.1 L929.5 112.1 L931 112.1 L932.5 112.1 L933.9 112.1 L935.4 112.1 L936.9 112.1 L938.4 112.1 L939.9 112.1 L941.4 112.1 L942.8 112.1 L944.3 112.1 L945.8 112.1 L947.3 112.1 L948.8 112.1 L950.2 112.4 L951.7 113.1 L953.2 114.1 L954.7 115.5 L956.2 117.1 L957.6 118.7 L959.1 120.2 L960.6 121.3 L962.1 122.3 L963.6 123.2 L965.1 124 L966.5 124.8 L968 125.5 L969.5 126.1 L971 126.6 L972.5 127.1 L973.9 127.4 L975.4 127.6 L976.9 127.8 L978.4 127.8 L979.9 127.8 L981.4 127.6 L982.8 127.4 L984.3 127.1 L985.8 126.6 L987.3 126.1 L988.8 125.5 L990.2 124.8 L991.7 124 L993.2 123.2 L994.7 122.3 L996.2 121.3 L997.6 120.3 L999.1 119.2 L1000.6 118.1 L1002.1 116.9 L1003.6 115.8 L1005.1 114.5 L1006.5 113.3 L1008 112.1 L1009.5 110.8 L1011 109.6 L1012.5 108.4 L1013.9 107.2 L1015.4 106.1 L1016.9 104.9 L1018.4 103.9 L1019.9 102.8 L1021.4 101.9 L1022.8 100.9 L1024.3 100.1 L1025.8 99.3 L1027.3 98.7 L1028.8 98.1 L1030.2 97.5 L1031.7 97.1 L1033.2 96.8 L1034.7 96.5 L1036.2 96.4 L1037.7 96.3 L1039.1 96.4 L1040.6 96.5 L1042.1 96.8 L1043.6 97.1 L1045.1 97.5 L1046.5 98.1 L1048 98.7 L1049.5 99.3 L1051 100.1 L1052.5 100.9 L1053.9 101.9 L1055.4 102.8 L1056.9 103.9 L1058.4 104.9 L1059.9 106.1 L1061.4 107.2 L1062.8 108.4 L1064.3 109.6 L1065.8 110.8 L1067.3 112.1 L1068.8 113.3 L1070.2 114.5 L1071.7 115.8 L1073.2 116.9 L1074.7 118.1 L1076.2 119.2 L1077.7 120.3 L1079.1 121.3 L1080.6 122.3 L1082.1 123.2 L1083.6 124 L1085.1 124.8 L1086.5 125.5 L1088 126.1 L1089.5 126.6 L1091 127.1 L1092.5 127.4 L1093.9 127.6 L1095.4 127.8 L1096.9 127.8 M889.5 111.7 L891 111.7 L892.5 111.7 L893.9 111.7 L895.4 111.7 L896.9 111.7 L898.4 111.7 L899.9 111.7 L901.4 111.7 L902.8 111.7 L904.3 111.7 L905.8 111.7 L907.3 111.7 L908.8 111.7 L910.2 111.7 L911.7 111.7 L913.2 111.7 L914.7 111.7 L916.2 111.7 L917.6 111.7 L919.1 111.7 L920.6 111.7 L922.1 111.7 L923.6 111.7 L925.1 111.7 L926.5 111.7 L928 111.7 L929.5 111.7 L931 111.7 L932.5 111.7 L933.9 111.7 L935.4 111.7 L936.9 111.7 L938.4 111.7 L939.9 111.7 L941.4 111.7 L942.8 111.7 L944.3 111.7 L945.8 111.7 L947.3 111.7 L948.8 111.7 L950.2 112 L951.7 112.7 L953.2 113.7 L954.7 115.1 L956.2 116.7 L957.6 118.3 L959.1 119.8 L960.6 120.9 L962.1 121.8 L963.6 122.7 L965.1 123.6 L966.5 124.3 L968 125 L969.5 125.6 L971 126.1 L972.5 126.6 L973.9 126.9 L975.4 127.1 L976.9 127.3 L978.4 127.3 L979.9 127.3 L981.4 127.1 L982.8 126.9 L984.3 126.6 L985.8 126.1 L987.3 125.6 L988.8 125 L990.2 124.3 L991.7 123.6 L993.2 122.7 L994.7 121.8 L996.2 120.9 L997.6 119.8 L999.1 118.8 L1000.6 117.7 L1002.1 116.5 L1003.6 115.3 L1005.1 114.1 L1006.5 112.9 L1008 111.7 L1009.5 110.4 L1011 109.2 L1012.5 108 L1013.9 106.8 L1015.4 105.7 L1016.9 104.5 L1018.4 103.5 L1019.9 102.4 L1021.4 101.5 L1022.8 100.6 L1024.3 99.7 L1025.8 99 L1027.3 98.3 L1028.8 97.7 L1030.2 97.2 L1031.7 96.7 L1033.2 96.4 L1034.7 96.2 L1036.2 96 L1037.7 96 L1039.1 96 L1040.6 96.2 L1042.1 96.4 L1043.6 96.7 L1045.1 97.2 L1046.5 97.7 L1048 98.3 L1049.5 99 L1051 99.7 L1052.5 100.6 L1053.9 101.5 L1055.4 102.4 L1056.9 103.5 L1058.4 104.5 L1059.9 105.7 L1061.4 106.8 L1062.8 108 L1064.3 109.2 L1065.8 110.4 L1067.3 111.7 L1068.8 112.9 L1070.2 114.1 L1071.7 115.3 L1073.2 116.5 L1074.7 117.7 L1076.2 118.8 L1077.7 119.8 L1079.1 120.9 L1080.6 121.8 L1082.1 122.7 L1083.6 123.6 L1085.1 124.3 L1086.5 125 L1088 125.6 L1089.5 126.1 L1091 126.6 L1092.5 126.9 L1093.9 127.1 L1095.4 127.3 L1096.9 127.3 M889.5 111.2 L891 111.2 L892.5 111.2 L893.9 111.2 L895.4 111.2 L896.9 111.2 L898.4 111.2 L899.9 111.2 L901.4 111.2 L902.8 111.2 L904.3 111.2 L905.8 111.2 L907.3 111.2 L908.8 111.2 L910.2 111.2 L911.7 111.2 L913.2 111.2 L914.7 111.2 L916.2 111.2 L917.6 111.2 L919.1 111.2 L920.6 111.2 L922.1 111.2 L923.6 111.2 L925.1 111.2 L926.5 111.2 L928 111.2 L929.5 111.2 L931 111.2 L932.5 111.2 L933.9 111.2 L935.4 111.2 L936.9 111.2 L938.4 111.2 L939.9 111.2 L941.4 111.2 L942.8 111.2 L944.3 111.2 L945.8 111.2 L947.3 111.2 L948.8 111.2 L950.2 111.5 L951.7 112.2 L953.2 113.2 L954.7 114.6 L956.2 116.2 L957.6 117.8 L959.1 119.3 L960.6 120.4 L962.1 121.3 L963.6 122.2 L965.1 123.1 L966.5 123.8 L968 124.5 L969.5 125.1 L971 125.6 L972.5 126.1 L973.9 126.4 L975.4 126.6 L976.9 126.8 L978.4 126.8 L979.9 126.8 L981.4 126.6 L982.8 126.4 L984.3 126.1 L985.8 125.6 L987.3 125.1 L988.8 124.5 L990.2 123.8 L991.7 123.1 L993.2 122.2 L994.7 121.3 L996.2 120.4 L997.6 119.4 L999.1 118.3 L1000.6 117.2 L1002.1 116 L1003.6 114.8 L1005.1 113.6 L1006.5 112.4 L1008 111.2 L1009.5 110 L1011 108.8 L1012.5 107.6 L1013.9 106.4 L1015.4 105.2 L1016.9 104.1 L1018.4 103 L1019.9 102 L1021.4 101.1 L1022.8 100.2 L1024.3 99.3 L1025.8 98.6 L1027.3 97.9 L1028.8 97.3 L1030.2 96.8 L1031.7 96.4 L1033.2 96 L1034.7 95.8 L1036.2 95.6 L1037.7 95.6 L1039.1 95.6 L1040.6 95.8 L1042.1 96 L1043.6 96.4 L1045.1 96.8 L1046.5 97.3 L1048 97.9 L1049.5 98.6 L1051 99.3 L1052.5 100.2 L1053.9 101.1 L1055.4 102 L1056.9 103 L1058.4 104.1 L1059.9 105.2 L1061.4 106.4 L1062.8 107.6 L1064.3 108.8 L1065.8 110 L1067.3 111.2 L1068.8 112.4 L1070.2 113.6 L1071.7 114.8 L1073.2 116 L1074.7 117.2 L1076.2 118.3 L1077.7 119.4 L1079.1 120.4 L1080.6 121.3 L1082.1 122.2 L1083.6 123.1 L1085.1 123.8 L1086.5 124.5 L1088 125.1 L1089.5 125.6 L1091 126.1 L1092.5 126.4 L1093.9 126.6 L1095.4 126.8 L1096.9 126.8 M889.5 110.7 L891 110.7 L892.5 110.7 L893.9 110.7 L895.4 110.7 L896.9 110.7 L898.4 110.7 L899.9 110.7 L901.4 110.7 L902.8 110.7 L904.3 110.7 L905.8 110.7 L907.3 110.7 L908.8 110.7 L910.2 110.7 L911.7 110.7 L913.2 110.7 L914.7 110.7 L916.2 110.7 L917.6 110.7 L919.1 110.7 L920.6 110.7 L922.1 110.7 L923.6 110.7 L925.1 110.7 L926.5 110.7 L928 110.7 L929.5 110.7 L931 110.7 L932.5 110.7 L933.9 110.7 L935.4 110.7 L936.9 110.7 L938.4 110.7 L939.9 110.7 L941.4 110.7 L942.8 110.7 L944.3 110.7 L945.8 110.7 L947.3 110.7 L948.8 110.7 L950.2 111 L951.7 111.7 L953.2 112.7 L954.7 114.1 L956.2 115.7 L957.6 117.3 L959.1 118.7 L960.6 119.8 L962.1 120.8 L963.6 121.7 L965.1 122.5 L966.5 123.3 L968 124 L969.5 124.6 L971 125.1 L972.5 125.5 L973.9 125.8 L975.4 126.1 L976.9 126.2 L978.4 126.3 L979.9 126.2 L981.4 126.1 L982.8 125.8 L984.3 125.5 L985.8 125.1 L987.3 124.6 L988.8 124 L990.2 123.3 L991.7 122.5 L993.2 121.7 L994.7 120.8 L996.2 119.8 L997.6 118.8 L999.1 117.8 L1000.6 116.7 L1002.1 115.5 L1003.6 114.3 L1005.1 113.1 L1006.5 111.9 L1008 110.7 L1009.5 109.5 L1011 108.3 L1012.5 107.1 L1013.9 105.9 L1015.4 104.8 L1016.9 103.7 L1018.4 102.6 L1019.9 101.6 L1021.4 100.6 L1022.8 99.7 L1024.3 98.9 L1025.8 98.1 L1027.3 97.5 L1028.8 96.9 L1030.2 96.4 L1031.7 95.9 L1033.2 95.6 L1034.7 95.4 L1036.2 95.2 L1037.7 95.2 L1039.1 95.2 L1040.6 95.4 L1042.1 95.6 L1043.6 95.9 L1045.1 96.4 L1046.5 96.9 L1048 97.5 L1049.5 98.1 L1051 98.9 L1052.5 99.7 L1053.9 100.6 L1055.4 101.6 L1056.9 102.6 L1058.4 103.7 L1059.9 104.8 L1061.4 105.9 L1062.8 107.1 L1064.3 108.3 L1065.8 109.5 L1067.3 110.7 L1068.8 111.9 L1070.2 113.1 L1071.7 114.3 L1073.2 115.5 L1074.7 116.7 L1076.2 117.8 L1077.7 118.8 L1079.1 119.8 L1080.6 120.8 L1082.1 121.7 L1083.6 122.5 L1085.1 123.3 L1086.5 124 L1088 124.6 L1089.5 125.1 L1091 125.5 L1092.5 125.8 L1093.9 126.1 L1095.4 126.2 L1096.9 126.3 M889.5 110.2 L891 110.2 L892.5 110.2 L893.9 110.2 L895.4 110.2 L896.9 110.2 L898.4 110.2 L899.9 110.2 L901.4 110.2 L902.8 110.2 L904.3 110.2 L905.8 110.2 L907.3 110.2 L908.8 110.2 L910.2 110.2 L911.7 110.2 L913.2 110.2 L914.7 110.2 L916.2 110.2 L917.6 110.2 L919.1 110.2 L920.6 110.2 L922.1 110.2 L923.6 110.2 L925.1 110.2 L926.5 110.2 L928 110.2 L929.5 110.2 L931 110.2 L932.5 110.2 L933.9 110.2 L935.4 110.2 L936.9 110.2 L938.4 110.2 L939.9 110.2 L941.4 110.2 L942.8 110.2 L944.3 110.2 L945.8 110.2 L947.3 110.2 L948.8 110.2 L950.2 110.5 L951.7 111.2 L953.2 112.2 L954.7 113.6 L956.2 115.1 L957.6 116.7 L959.1 118.2 L960.6 119.3 L962.1 120.2 L963.6 121.1 L965.1 121.9 L966.5 122.7 L968 123.4 L969.5 124 L971 124.5 L972.5 124.9 L973.9 125.2 L975.4 125.5 L976.9 125.6 L978.4 125.7 L979.9 125.6 L981.4 125.5 L982.8 125.2 L984.3 124.9 L985.8 124.5 L987.3 124 L988.8 123.4 L990.2 122.7 L991.7 121.9 L993.2 121.1 L994.7 120.2 L996.2 119.3 L997.6 118.3 L999.1 117.2 L1000.6 116.1 L1002.1 115 L1003.6 113.8 L1005.1 112.6 L1006.5 111.4 L1008 110.2 L1009.5 109 L1011 107.8 L1012.5 106.6 L1013.9 105.4 L1015.4 104.3 L1016.9 103.2 L1018.4 102.1 L1019.9 101.1 L1021.4 100.1 L1022.8 99.2 L1024.3 98.4 L1025.8 97.7 L1027.3 97 L1028.8 96.4 L1030.2 95.9 L1031.7 95.5 L1033.2 95.1 L1034.7 94.9 L1036.2 94.8 L1037.7 94.7 L1039.1 94.8 L1040.6 94.9 L1042.1 95.1 L1043.6 95.5 L1045.1 95.9 L1046.5 96.4 L1048 97 L1049.5 97.7 L1051 98.4 L1052.5 99.2 L1053.9 100.1 L1055.4 101.1 L1056.9 102.1 L1058.4 103.2 L1059.9 104.3 L1061.4 105.4 L1062.8 106.6 L1064.3 107.8 L1065.8 109 L1067.3 110.2 L1068.8 111.4 L1070.2 112.6 L1071.7 113.8 L1073.2 115 L1074.7 116.1 L1076.2 117.2 L1077.7 118.3 L1079.1 119.3 L1080.6 120.2 L1082.1 121.1 L1083.6 121.9 L1085.1 122.7 L1086.5 123.4 L1088 124 L1089.5 124.5 L1091 124.9 L1092.5 125.2 L1093.9 125.5 L1095.4 125.6 L1096.9 125.7 M889.5 109.6 L891 109.6 L892.5 109.6 L893.9 109.6 L895.4 109.6 L896.9 109.6 L898.4 109.6 L899.9 109.6 L901.4 109.6 L902.8 109.6 L904.3 109.6 L905.8 109.6 L907.3 109.6 L908.8 109.6 L910.2 109.6 L911.7 109.6 L913.2 109.6 L914.7 109.6 L916.2 109.6 L917.6 109.6 L919.1 109.6 L920.6 109.6 L922.1 109.6 L923.6 109.6 L925.1 109.6 L926.5 109.6 L928 109.6 L929.5 109.6 L931 109.6 L932.5 109.6 L933.9 109.6 L935.4 109.6 L936.9 109.6 L938.4 109.6 L939.9 109.6 L941.4 109.6 L942.8 109.6 L944.3 109.6 L945.8 109.6 L947.3 109.6 L948.8 109.6 L950.2 109.9 L951.7 110.6 L953.2 111.6 L954.7 113 L956.2 114.5 L957.6 116.1 L959.1 117.6 L960.6 118.7 L962.1 119.6 L963.6 120.5 L965.1 121.3 L966.5 122.1 L968 122.7 L969.5 123.3 L971 123.8 L972.5 124.3 L973.9 124.6 L975.4 124.8 L976.9 125 L978.4 125 L979.9 125 L981.4 124.8 L982.8 124.6 L984.3 124.3 L985.8 123.8 L987.3 123.3 L988.8 122.7 L990.2 122.1 L991.7 121.3 L993.2 120.5 L994.7 119.6 L996.2 118.7 L997.6 117.7 L999.1 116.6 L1000.6 115.5 L1002.1 114.4 L1003.6 113.2 L1005.1 112 L1006.5 110.8 L1008 109.6 L1009.5 108.4 L1011 107.2 L1012.5 106 L1013.9 104.9 L1015.4 103.7 L1016.9 102.6 L1018.4 101.6 L1019.9 100.6 L1021.4 99.6 L1022.8 98.7 L1024.3 97.9 L1025.8 97.2 L1027.3 96.5 L1028.8 95.9 L1030.2 95.4 L1031.7 95 L1033.2 94.7 L1034.7 94.4 L1036.2 94.3 L1037.7 94.2 L1039.1 94.3 L1040.6 94.4 L1042.1 94.7 L1043.6 95 L1045.1 95.4 L1046.5 95.9 L1048 96.5 L1049.5 97.2 L1051 97.9 L1052.5 98.7 L1053.9 99.6 L1055.4 100.6 L1056.9 101.6 L1058.4 102.6 L1059.9 103.7 L1061.4 104.9 L1062.8 106 L1064.3 107.2 L1065.8 108.4 L1067.3 109.6 L1068.8 110.8 L1070.2 112 L1071.7 113.2 L1073.2 114.4 L1074.7 115.5 L1076.2 116.6 L1077.7 117.7 L1079.1 118.7 L1080.6 119.6 L1082.1 120.5 L1083.6 121.3 L1085.1 122.1 L1086.5 122.7 L1088 123.3 L1089.5 123.8 L1091 124.3 L1092.5 124.6 L1093.9 124.8 L1095.4 125 L1096.9 125 M889.5 109 L891 109 L892.5 109 L893.9 109 L895.4 109 L896.9 109 L898.4 109 L899.9 109 L901.4 109 L902.8 109 L904.3 109 L905.8 109 L907.3 109 L908.8 109 L910.2 109 L911.7 109 L913.2 109 L914.7 109 L916.2 109 L917.6 109 L919.1 109 L920.6 109 L922.1 109 L923.6 109 L925.1 109 L926.5 109 L928 109 L929.5 109 L931 109 L932.5 109 L933.9 109 L935.4 109 L936.9 109 L938.4 109 L939.9 109 L941.4 109 L942.8 109 L944.3 109 L945.8 109 L947.3 109 L948.8 109 L950.2 109.3 L951.7 110 L953.2 111 L954.7 112.3 L956.2 113.9 L957.6 115.5 L959.1 116.9 L960.6 118 L962.1 118.9 L963.6 119.8 L965.1 120.6 L966.5 121.4 L968 122.1 L969.5 122.6 L971 123.1 L972.5 123.6 L973.9 123.9 L975.4 124.1 L976.9 124.3 L978.4 124.3 L979.9 124.3 L981.4 124.1 L982.8 123.9 L984.3 123.6 L985.8 123.1 L987.3 122.6 L988.8 122.1 L990.2 121.4 L991.7 120.6 L993.2 119.8 L994.7 118.9 L996.2 118 L997.6 117 L999.1 116 L1000.6 114.9 L1002.1 113.7 L1003.6 112.6 L1005.1 111.4 L1006.5 110.2 L1008 109 L1009.5 107.8 L1011 106.6 L1012.5 105.4 L1013.9 104.3 L1015.4 103.2 L1016.9 102.1 L1018.4 101 L1019.9 100 L1021.4 99.1 L1022.8 98.2 L1024.3 97.4 L1025.8 96.6 L1027.3 96 L1028.8 95.4 L1030.2 94.9 L1031.7 94.5 L1033.2 94.1 L1034.7 93.9 L1036.2 93.8 L1037.7 93.7 L1039.1 93.8 L1040.6 93.9 L1042.1 94.1 L1043.6 94.5 L1045.1 94.9 L1046.5 95.4 L1048 96 L1049.5 96.6 L1051 97.4 L1052.5 98.2 L1053.9 99.1 L1055.4 100 L1056.9 101 L1058.4 102.1 L1059.9 103.2 L1061.4 104.3 L1062.8 105.4 L1064.3 106.6 L1065.8 107.8 L1067.3 109 L1068.8 110.2 L1070.2 111.4 L1071.7 112.6 L1073.2 113.7 L1074.7 114.9 L1076.2 116 L1077.7 117 L1079.1 118 L1080.6 118.9 L1082.1 119.8 L1083.6 120.6 L1085.1 121.4 L1086.5 122.1 L1088 122.6 L1089.5 123.1 L1091 123.6 L1092.5 123.9 L1093.9 124.1 L1095.4 124.3 L1096.9 124.3 M889.5 108.4 L891 108.4 L892.5 108.4 L893.9 108.4 L895.4 108.4 L896.9 108.4 L898.4 108.4 L899.9 108.4 L901.4 108.4 L902.8 108.4 L904.3 108.4 L905.8 108.4 L907.3 108.4 L908.8 108.4 L910.2 108.4 L911.7 108.4 L913.2 108.4 L914.7 108.4 L916.2 108.4 L917.6 108.4 L919.1 108.4 L920.6 108.4 L922.1 108.4 L923.6 108.4 L925.1 108.4 L926.5 108.4 L928 108.4 L929.5 108.4 L931 108.4 L932.5 108.4 L933.9 108.4 L935.4 108.4 L936.9 108.4 L938.4 108.4 L939.9 108.4 L941.4 108.4 L942.8 108.4 L944.3 108.4 L945.8 108.4 L947.3 108.4 L948.8 108.4 L950.2 108.7 L951.7 109.3 L953.2 110.3 L954.7 111.7 L956.2 113.2 L957.6 114.8 L959.1 116.2 L960.6 117.3 L962.1 118.2 L963.6 119.1 L965.1 119.9 L966.5 120.7 L968 121.3 L969.5 121.9 L971 122.4 L972.5 122.8 L973.9 123.1 L975.4 123.4 L976.9 123.5 L978.4 123.6 L979.9 123.5 L981.4 123.4 L982.8 123.1 L984.3 122.8 L985.8 122.4 L987.3 121.9 L988.8 121.3 L990.2 120.7 L991.7 119.9 L993.2 119.1 L994.7 118.2 L996.2 117.3 L997.6 116.3 L999.1 115.3 L1000.6 114.2 L1002.1 113.1 L1003.6 111.9 L1005.1 110.7 L1006.5 109.6 L1008 108.4 L1009.5 107.2 L1011 106 L1012.5 104.8 L1013.9 103.7 L1015.4 102.5 L1016.9 101.5 L1018.4 100.4 L1019.9 99.4 L1021.4 98.5 L1022.8 97.6 L1024.3 96.8 L1025.8 96.1 L1027.3 95.4 L1028.8 94.8 L1030.2 94.3 L1031.7 93.9 L1033.2 93.6 L1034.7 93.3 L1036.2 93.2 L1037.7 93.2 L1039.1 93.2 L1040.6 93.3 L1042.1 93.6 L1043.6 93.9 L1045.1 94.3 L1046.5 94.8 L1048 95.4 L1049.5 96.1 L1051 96.8 L1052.5 97.6 L1053.9 98.5 L1055.4 99.4 L1056.9 100.4 L1058.4 101.5 L1059.9 102.5 L1061.4 103.7 L1062.8 104.8 L1064.3 106 L1065.8 107.2 L1067.3 108.4 L1068.8 109.6 L1070.2 110.7 L1071.7 111.9 L1073.2 113.1 L1074.7 114.2 L1076.2 115.3 L1077.7 116.3 L1079.1 117.3 L1080.6 118.2 L1082.1 119.1 L1083.6 119.9 L1085.1 120.7 L1086.5 121.3 L1088 121.9 L1089.5 122.4 L1091 122.8 L1092.5 123.1 L1093.9 123.4 L1095.4 123.5 L1096.9 123.6 M889.5 107.7 L891 107.7 L892.5 107.7 L893.9 107.7 L895.4 107.7 L896.9 107.7 L898.4 107.7 L899.9 107.7 L901.4 107.7 L902.8 107.7 L904.3 107.7 L905.8 107.7 L907.3 107.7 L908.8 107.7 L910.2 107.7 L911.7 107.7 L913.2 107.7 L914.7 107.7 L916.2 107.7 L917.6 107.7 L919.1 107.7 L920.6 107.7 L922.1 107.7 L923.6 107.7 L925.1 107.7 L926.5 107.7 L928 107.7 L929.5 107.7 L931 107.7 L932.5 107.7 L933.9 107.7 L935.4 107.7 L936.9 107.7 L938.4 107.7 L939.9 107.7 L941.4 107.7 L942.8 107.7 L944.3 107.7 L945.8 107.7 L947.3 107.7 L948.8 107.7 L950.2 108 L951.7 108.6 L953.2 109.6 L954.7 111 L956.2 112.5 L957.6 114.1 L959.1 115.5 L960.6 116.5 L962.1 117.5 L963.6 118.3 L965.1 119.2 L966.5 119.9 L968 120.5 L969.5 121.1 L971 121.6 L972.5 122 L973.9 122.4 L975.4 122.6 L976.9 122.7 L978.4 122.8 L979.9 122.7 L981.4 122.6 L982.8 122.4 L984.3 122 L985.8 121.6 L987.3 121.1 L988.8 120.5 L990.2 119.9 L991.7 119.2 L993.2 118.3 L994.7 117.5 L996.2 116.5 L997.6 115.6 L999.1 114.5 L1000.6 113.4 L1002.1 112.3 L1003.6 111.2 L1005.1 110 L1006.5 108.8 L1008 107.7 L1009.5 106.5 L1011 105.3 L1012.5 104.1 L1013.9 103 L1015.4 101.9 L1016.9 100.8 L1018.4 99.8 L1019.9 98.8 L1021.4 97.9 L1022.8 97 L1024.3 96.2 L1025.8 95.4 L1027.3 94.8 L1028.8 94.2 L1030.2 93.7 L1031.7 93.3 L1033.2 93 L1034.7 92.7 L1036.2 92.6 L1037.7 92.6 L1039.1 92.6 L1040.6 92.7 L1042.1 93 L1043.6 93.3 L1045.1 93.7 L1046.5 94.2 L1048 94.8 L1049.5 95.4 L1051 96.2 L1052.5 97 L1053.9 97.9 L1055.4 98.8 L1056.9 99.8 L1058.4 100.8 L1059.9 101.9 L1061.4 103 L1062.8 104.1 L1064.3 105.3 L1065.8 106.5 L1067.3 107.7 L1068.8 108.8 L1070.2 110 L1071.7 111.2 L1073.2 112.3 L1074.7 113.4 L1076.2 114.5 L1077.7 115.6 L1079.1 116.5 L1080.6 117.5 L1082.1 118.3 L1083.6 119.2 L1085.1 119.9 L1086.5 120.5 L1088 121.1 L1089.5 121.6 L1091 122 L1092.5 122.4 L1093.9 122.6 L1095.4 122.7 L1096.9 122.8 M889.5 106.9 L891 106.9 L892.5 106.9 L893.9 106.9 L895.4 106.9 L896.9 106.9 L898.4 106.9 L899.9 106.9 L901.4 106.9 L902.8 106.9 L904.3 106.9 L905.8 106.9 L907.3 106.9 L908.8 106.9 L910.2 106.9 L911.7 106.9 L913.2 106.9 L914.7 106.9 L916.2 106.9 L917.6 106.9 L919.1 106.9 L920.6 106.9 L922.1 106.9 L923.6 106.9 L925.1 106.9 L926.5 106.9 L928 106.9 L929.5 106.9 L931 106.9 L932.5 106.9 L933.9 106.9 L935.4 106.9 L936.9 106.9 L938.4 106.9 L939.9 106.9 L941.4 106.9 L942.8 106.9 L944.3 106.9 L945.8 106.9 L947.3 106.9 L948.8 106.9 L950.2 107.2 L951.7 107.9 L953.2 108.9 L954.7 110.2 L956.2 111.7 L957.6 113.3 L959.1 114.7 L960.6 115.7 L962.1 116.7 L963.6 117.5 L965.1 118.3 L966.5 119.1 L968 119.7 L969.5 120.3 L971 120.8 L972.5 121.2 L973.9 121.5 L975.4 121.7 L976.9 121.9 L978.4 121.9 L979.9 121.9 L981.4 121.7 L982.8 121.5 L984.3 121.2 L985.8 120.8 L987.3 120.3 L988.8 119.7 L990.2 119.1 L991.7 118.3 L993.2 117.5 L994.7 116.7 L996.2 115.7 L997.6 114.8 L999.1 113.7 L1000.6 112.7 L1002.1 111.6 L1003.6 110.4 L1005.1 109.3 L1006.5 108.1 L1008 106.9 L1009.5 105.7 L1011 104.6 L1012.5 103.4 L1013.9 102.3 L1015.4 101.2 L1016.9 100.1 L1018.4 99.1 L1019.9 98.1 L1021.4 97.2 L1022.8 96.3 L1024.3 95.5 L1025.8 94.8 L1027.3 94.1 L1028.8 93.6 L1030.2 93.1 L1031.7 92.7 L1033.2 92.3 L1034.7 92.1 L1036.2 92 L1037.7 91.9 L1039.1 92 L1040.6 92.1 L1042.1 92.3 L1043.6 92.7 L1045.1 93.1 L1046.5 93.6 L1048 94.1 L1049.5 94.8 L1051 95.5 L1052.5 96.3 L1053.9 97.2 L1055.4 98.1 L1056.9 99.1 L1058.4 100.1 L1059.9 101.2 L1061.4 102.3 L1062.8 103.4 L1064.3 104.6 L1065.8 105.7 L1067.3 106.9 L1068.8 108.1 L1070.2 109.3 L1071.7 110.4 L1073.2 111.6 L1074.7 112.7 L1076.2 113.7 L1077.7 114.8 L1079.1 115.7 L1080.6 116.7 L1082.1 117.5 L1083.6 118.3 L1085.1 119.1 L1086.5 119.7 L1088 120.3 L1089.5 120.8 L1091 121.2 L1092.5 121.5 L1093.9 121.7 L1095.4 121.9 L1096.9 121.9 M889.5 106.1 L891 106.1 L892.5 106.1 L893.9 106.1 L895.4 106.1 L896.9 106.1 L898.4 106.1 L899.9 106.1 L901.4 106.1 L902.8 106.1 L904.3 106.1 L905.8 106.1 L907.3 106.1 L908.8 106.1 L910.2 106.1 L911.7 106.1 L913.2 106.1 L914.7 106.1 L916.2 106.1 L917.6 106.1 L919.1 106.1 L920.6 106.1 L922.1 106.1 L923.6 106.1 L925.1 106.1 L926.5 106.1 L928 106.1 L929.5 106.1 L931 106.1 L932.5 106.1 L933.9 106.1 L935.4 106.1 L936.9 106.1 L938.4 106.1 L939.9 106.1 L941.4 106.1 L942.8 106.1 L944.3 106.1 L945.8 106.1 L947.3 106.1 L948.8 106.1 L950.2 106.4 L951.7 107.1 L953.2 108.1 L954.7 109.4 L956.2 110.9 L957.6 112.4 L959.1 113.8 L960.6 114.9 L962.1 115.8 L963.6 116.6 L965.1 117.4 L966.5 118.2 L968 118.8 L969.5 119.4 L971 119.9 L972.5 120.3 L973.9 120.6 L975.4 120.8 L976.9 121 L978.4 121 L979.9 121 L981.4 120.8 L982.8 120.6 L984.3 120.3 L985.8 119.9 L987.3 119.4 L988.8 118.8 L990.2 118.2 L991.7 117.4 L993.2 116.6 L994.7 115.8 L996.2 114.9 L997.6 113.9 L999.1 112.9 L1000.6 111.8 L1002.1 110.7 L1003.6 109.6 L1005.1 108.4 L1006.5 107.3 L1008 106.1 L1009.5 105 L1011 103.8 L1012.5 102.6 L1013.9 101.5 L1015.4 100.4 L1016.9 99.4 L1018.4 98.3 L1019.9 97.4 L1021.4 96.5 L1022.8 95.6 L1024.3 94.8 L1025.8 94.1 L1027.3 93.4 L1028.8 92.9 L1030.2 92.4 L1031.7 92 L1033.2 91.6 L1034.7 91.4 L1036.2 91.3 L1037.7 91.2 L1039.1 91.3 L1040.6 91.4 L1042.1 91.6 L1043.6 92 L1045.1 92.4 L1046.5 92.9 L1048 93.4 L1049.5 94.1 L1051 94.8 L1052.5 95.6 L1053.9 96.5 L1055.4 97.4 L1056.9 98.3 L1058.4 99.4 L1059.9 100.4 L1061.4 101.5 L1062.8 102.6 L1064.3 103.8 L1065.8 105 L1067.3 106.1 L1068.8 107.3 L1070.2 108.4 L1071.7 109.6 L1073.2 110.7 L1074.7 111.8 L1076.2 112.9 L1077.7 113.9 L1079.1 114.9 L1080.6 115.8 L1082.1 116.6 L1083.6 117.4 L1085.1 118.2 L1086.5 118.8 L1088 119.4 L1089.5 119.9 L1091 120.3 L1092.5 120.6 L1093.9 120.8 L1095.4 121 L1096.9 121 M889.5 105.3 L891 105.3 L892.5 105.3 L893.9 105.3 L895.4 105.3 L896.9 105.3 L898.4 105.3 L899.9 105.3 L901.4 105.3 L902.8 105.3 L904.3 105.3 L905.8 105.3 L907.3 105.3 L908.8 105.3 L910.2 105.3 L911.7 105.3 L913.2 105.3 L914.7 105.3 L916.2 105.3 L917.6 105.3 L919.1 105.3 L920.6 105.3 L922.1 105.3 L923.6 105.3 L925.1 105.3 L926.5 105.3 L928 105.3 L929.5 105.3 L931 105.3 L932.5 105.3 L933.9 105.3 L935.4 105.3 L936.9 105.3 L938.4 105.3 L939.9 105.3 L941.4 105.3 L942.8 105.3 L944.3 105.3 L945.8 105.3 L947.3 105.3 L948.8 105.3 L950.2 105.6 L951.7 106.2 L953.2 107.2 L954.7 108.5 L956.2 110 L957.6 111.5 L959.1 112.9 L960.6 113.9 L962.1 114.9 L963.6 115.7 L965.1 116.5 L966.5 117.2 L968 117.9 L969.5 118.4 L971 118.9 L972.5 119.3 L973.9 119.6 L975.4 119.8 L976.9 120 L978.4 120 L979.9 120 L981.4 119.8 L982.8 119.6 L984.3 119.3 L985.8 118.9 L987.3 118.4 L988.8 117.9 L990.2 117.2 L991.7 116.5 L993.2 115.7 L994.7 114.9 L996.2 113.9 L997.6 113 L999.1 112 L1000.6 110.9 L1002.1 109.8 L1003.6 108.7 L1005.1 107.6 L1006.5 106.4 L1008 105.3 L1009.5 104.1 L1011 103 L1012.5 101.8 L1013.9 100.7 L1015.4 99.6 L1016.9 98.6 L1018.4 97.6 L1019.9 96.6 L1021.4 95.7 L1022.8 94.8 L1024.3 94 L1025.8 93.3 L1027.3 92.7 L1028.8 92.1 L1030.2 91.6 L1031.7 91.2 L1033.2 90.9 L1034.7 90.7 L1036.2 90.5 L1037.7 90.5 L1039.1 90.5 L1040.6 90.7 L1042.1 90.9 L1043.6 91.2 L1045.1 91.6 L1046.5 92.1 L1048 92.7 L1049.5 93.3 L1051 94 L1052.5 94.8 L1053.9 95.7 L1055.4 96.6 L1056.9 97.6 L1058.4 98.6 L1059.9 99.6 L1061.4 100.7 L1062.8 101.8 L1064.3 103 L1065.8 104.1 L1067.3 105.3 L1068.8 106.4 L1070.2 107.6 L1071.7 108.7 L1073.2 109.8 L1074.7 110.9 L1076.2 112 L1077.7 113 L1079.1 113.9 L1080.6 114.9 L1082.1 115.7 L1083.6 116.5 L1085.1 117.2 L1086.5 117.9 L1088 118.4 L1089.5 118.9 L1091 119.3 L1092.5 119.6 L1093.9 119.8 L1095.4 120 L1096.9 120 M889.5 104.4 L891 104.4 L892.5 104.4 L893.9 104.4 L895.4 104.4 L896.9 104.4 L898.4 104.4 L899.9 104.4 L901.4 104.4 L902.8 104.4 L904.3 104.4 L905.8 104.4 L907.3 104.4 L908.8 104.4 L910.2 104.4 L911.7 104.4 L913.2 104.4 L914.7 104.4 L916.2 104.4 L917.6 104.4 L919.1 104.4 L920.6 104.4 L922.1 104.4 L923.6 104.4 L925.1 104.4 L926.5 104.4 L928 104.4 L929.5 104.4 L931 104.4 L932.5 104.4 L933.9 104.4 L935.4 104.4 L936.9 104.4 L938.4 104.4 L939.9 104.4 L941.4 104.4 L942.8 104.4 L944.3 104.4 L945.8 104.4 L947.3 104.4 L948.8 104.4 L950.2 104.7 L951.7 105.3 L953.2 106.3 L954.7 107.5 L956.2 109 L957.6 110.5 L959.1 111.9 L960.6 113 L962.1 113.9 L963.6 114.7 L965.1 115.5 L966.5 116.2 L968 116.8 L969.5 117.4 L971 117.9 L972.5 118.3 L973.9 118.6 L975.4 118.8 L976.9 118.9 L978.4 119 L979.9 118.9 L981.4 118.8 L982.8 118.6 L984.3 118.3 L985.8 117.9 L987.3 117.4 L988.8 116.8 L990.2 116.2 L991.7 115.5 L993.2 114.7 L994.7 113.9 L996.2 113 L997.6 112 L999.1 111 L1000.6 110 L1002.1 108.9 L1003.6 107.8 L1005.1 106.6 L1006.5 105.5 L1008 104.4 L1009.5 103.2 L1011 102.1 L1012.5 100.9 L1013.9 99.8 L1015.4 98.8 L1016.9 97.7 L1018.4 96.7 L1019.9 95.8 L1021.4 94.9 L1022.8 94 L1024.3 93.2 L1025.8 92.5 L1027.3 91.9 L1028.8 91.3 L1030.2 90.8 L1031.7 90.4 L1033.2 90.1 L1034.7 89.9 L1036.2 89.8 L1037.7 89.7 L1039.1 89.8 L1040.6 89.9 L1042.1 90.1 L1043.6 90.4 L1045.1 90.8 L1046.5 91.3 L1048 91.9 L1049.5 92.5 L1051 93.2 L1052.5 94 L1053.9 94.9 L1055.4 95.8 L1056.9 96.7 L1058.4 97.7 L1059.9 98.8 L1061.4 99.8 L1062.8 100.9 L1064.3 102.1 L1065.8 103.2 L1067.3 104.4 L1068.8 105.5 L1070.2 106.6 L1071.7 107.8 L1073.2 108.9 L1074.7 110 L1076.2 111 L1077.7 112 L1079.1 113 L1080.6 113.9 L1082.1 114.7 L1083.6 115.5 L1085.1 116.2 L1086.5 116.8 L1088 117.4 L1089.5 117.9 L1091 118.3 L1092.5 118.6 L1093.9 118.8 L1095.4 118.9 L1096.9 119 M889.5 103.4 L891 103.4 L892.5 103.4 L893.9 103.4 L895.4 103.4 L896.9 103.4 L898.4 103.4 L899.9 103.4 L901.4 103.4 L902.8 103.4 L904.3 103.4 L905.8 103.4 L907.3 103.4 L908.8 103.4 L910.2 103.4 L911.7 103.4 L913.2 103.4 L914.7 103.4 L916.2 103.4 L917.6 103.4 L919.1 103.4 L920.6 103.4 L922.1 103.4 L923.6 103.4 L925.1 103.4 L926.5 103.4 L928 103.4 L929.5 103.4 L931 103.4 L932.5 103.4 L933.9 103.4 L935.4 103.4 L936.9 103.4 L938.4 103.4 L939.9 103.4 L941.4 103.4 L942.8 103.4 L944.3 103.4 L945.8 103.4 L947.3 103.4 L948.8 103.4 L950.2 103.7 L951.7 104.3 L953.2 105.3 L954.7 106.5 L956.2 108 L957.6 109.5 L959.1 110.9 L960.6 111.9 L962.1 112.8 L963.6 113.6 L965.1 114.4 L966.5 115.1 L968 115.7 L969.5 116.3 L971 116.8 L972.5 117.2 L973.9 117.5 L975.4 117.7 L976.9 117.8 L978.4 117.9 L979.9 117.8 L981.4 117.7 L982.8 117.5 L984.3 117.2 L985.8 116.8 L987.3 116.3 L988.8 115.7 L990.2 115.1 L991.7 114.4 L993.2 113.6 L994.7 112.8 L996.2 111.9 L997.6 111 L999.1 110 L1000.6 108.9 L1002.1 107.9 L1003.6 106.8 L1005.1 105.7 L1006.5 104.5 L1008 103.4 L1009.5 102.2 L1011 101.1 L1012.5 100 L1013.9 98.9 L1015.4 97.8 L1016.9 96.8 L1018.4 95.8 L1019.9 94.9 L1021.4 94 L1022.8 93.1 L1024.3 92.4 L1025.8 91.7 L1027.3 91 L1028.8 90.5 L1030.2 90 L1031.7 89.6 L1033.2 89.3 L1034.7 89.1 L1036.2 88.9 L1037.7 88.9 L1039.1 88.9 L1040.6 89.1 L1042.1 89.3 L1043.6 89.6 L1045.1 90 L1046.5 90.5 L1048 91 L1049.5 91.7 L1051 92.4 L1052.5 93.1 L1053.9 94 L1055.4 94.9 L1056.9 95.8 L1058.4 96.8 L1059.9 97.8 L1061.4 98.9 L1062.8 100 L1064.3 101.1 L1065.8 102.2 L1067.3 103.4 L1068.8 104.5 L1070.2 105.7 L1071.7 106.8 L1073.2 107.9 L1074.7 108.9 L1076.2 110 L1077.7 111 L1079.1 111.9 L1080.6 112.8 L1082.1 113.6 L1083.6 114.4 L1085.1 115.1 L1086.5 115.7 L1088 116.3 L1089.5 116.8 L1091 117.2 L1092.5 117.5 L1093.9 117.7 L1095.4 117.8 L1096.9 117.9 M889.5 102.3 L891 102.3 L892.5 102.3 L893.9 102.3 L895.4 102.3 L896.9 102.3 L898.4 102.3 L899.9 102.3 L901.4 102.3 L902.8 102.3 L904.3 102.3 L905.8 102.3 L907.3 102.3 L908.8 102.3 L910.2 102.3 L911.7 102.3 L913.2 102.3 L914.7 102.3 L916.2 102.3 L917.6 102.3 L919.1 102.3 L920.6 102.3 L922.1 102.3 L923.6 102.3 L925.1 102.3 L926.5 102.3 L928 102.3 L929.5 102.3 L931 102.3 L932.5 102.3 L933.9 102.3 L935.4 102.3 L936.9 102.3 L938.4 102.3 L939.9 102.3 L941.4 102.3 L942.8 102.3 L944.3 102.3 L945.8 102.3 L947.3 102.3 L948.8 102.3 L950.2 102.7 L951.7 103.3 L953.2 104.2 L954.7 105.5 L956.2 106.9 L957.6 108.4 L959.1 109.8 L960.6 110.8 L962.1 111.7 L963.6 112.5 L965.1 113.3 L966.5 114 L968 114.6 L969.5 115.1 L971 115.6 L972.5 116 L973.9 116.3 L975.4 116.5 L976.9 116.6 L978.4 116.7 L979.9 116.6 L981.4 116.5 L982.8 116.3 L984.3 116 L985.8 115.6 L987.3 115.1 L988.8 114.6 L990.2 114 L991.7 113.3 L993.2 112.5 L994.7 111.7 L996.2 110.8 L997.6 109.8 L999.1 108.9 L1000.6 107.8 L1002.1 106.8 L1003.6 105.7 L1005.1 104.6 L1006.5 103.5 L1008 102.3 L1009.5 101.2 L1011 100.1 L1012.5 99 L1013.9 97.9 L1015.4 96.9 L1016.9 95.8 L1018.4 94.9 L1019.9 93.9 L1021.4 93 L1022.8 92.2 L1024.3 91.4 L1025.8 90.7 L1027.3 90.1 L1028.8 89.6 L1030.2 89.1 L1031.7 88.7 L1033.2 88.4 L1034.7 88.2 L1036.2 88.1 L1037.7 88 L1039.1 88.1 L1040.6 88.2 L1042.1 88.4 L1043.6 88.7 L1045.1 89.1 L1046.5 89.6 L1048 90.1 L1049.5 90.7 L1051 91.4 L1052.5 92.2 L1053.9 93 L1055.4 93.9 L1056.9 94.9 L1058.4 95.8 L1059.9 96.9 L1061.4 97.9 L1062.8 99 L1064.3 100.1 L1065.8 101.2 L1067.3 102.3 L1068.8 103.5 L1070.2 104.6 L1071.7 105.7 L1073.2 106.8 L1074.7 107.8 L1076.2 108.9 L1077.7 109.8 L1079.1 110.8 L1080.6 111.7 L1082.1 112.5 L1083.6 113.3 L1085.1 114 L1086.5 114.6 L1088 115.1 L1089.5 115.6 L1091 116 L1092.5 116.3 L1093.9 116.5 L1095.4 116.6 L1096.9 116.7 M889.5 101.2 L891 101.2 L892.5 101.2 L893.9 101.2 L895.4 101.2 L896.9 101.2 L898.4 101.2 L899.9 101.2 L901.4 101.2 L902.8 101.2 L904.3 101.2 L905.8 101.2 L907.3 101.2 L908.8 101.2 L910.2 101.2 L911.7 101.2 L913.2 101.2 L914.7 101.2 L916.2 101.2 L917.6 101.2 L919.1 101.2 L920.6 101.2 L922.1 101.2 L923.6 101.2 L925.1 101.2 L926.5 101.2 L928 101.2 L929.5 101.2 L931 101.2 L932.5 101.2 L933.9 101.2 L935.4 101.2 L936.9 101.2 L938.4 101.2 L939.9 101.2 L941.4 101.2 L942.8 101.2 L944.3 101.2 L945.8 101.2 L947.3 101.2 L948.8 101.2 L950.2 101.5 L951.7 102.2 L953.2 103.1 L954.7 104.3 L956.2 105.8 L957.6 107.2 L959.1 108.6 L960.6 109.6 L962.1 110.5 L963.6 111.3 L965.1 112 L966.5 112.7 L968 113.3 L969.5 113.9 L971 114.4 L972.5 114.7 L973.9 115 L975.4 115.3 L976.9 115.4 L978.4 115.4 L979.9 115.4 L981.4 115.3 L982.8 115 L984.3 114.7 L985.8 114.4 L987.3 113.9 L988.8 113.3 L990.2 112.7 L991.7 112 L993.2 111.3 L994.7 110.5 L996.2 109.6 L997.6 108.7 L999.1 107.7 L1000.6 106.7 L1002.1 105.6 L1003.6 104.6 L1005.1 103.5 L1006.5 102.4 L1008 101.2 L1009.5 100.1 L1011 99 L1012.5 97.9 L1013.9 96.9 L1015.4 95.8 L1016.9 94.8 L1018.4 93.8 L1019.9 92.9 L1021.4 92 L1022.8 91.2 L1024.3 90.5 L1025.8 89.8 L1027.3 89.2 L1028.8 88.6 L1030.2 88.1 L1031.7 87.8 L1033.2 87.5 L1034.7 87.2 L1036.2 87.1 L1037.7 87.1 L1039.1 87.1 L1040.6 87.2 L1042.1 87.5 L1043.6 87.8 L1045.1 88.1 L1046.5 88.6 L1048 89.2 L1049.5 89.8 L1051 90.5 L1052.5 91.2 L1053.9 92 L1055.4 92.9 L1056.9 93.8 L1058.4 94.8 L1059.9 95.8 L1061.4 96.9 L1062.8 97.9 L1064.3 99 L1065.8 100.1 L1067.3 101.2 L1068.8 102.4 L1070.2 103.5 L1071.7 104.6 L1073.2 105.6 L1074.7 106.7 L1076.2 107.7 L1077.7 108.7 L1079.1 109.6 L1080.6 110.5 L1082.1 111.3 L1083.6 112 L1085.1 112.7 L1086.5 113.3 L1088 113.9 L1089.5 114.4 L1091 114.7 L1092.5 115 L1093.9 115.3 L1095.4 115.4 L1096.9 115.4 M889.5 100.1 L891 100.1 L892.5 100.1 L893.9 100.1 L895.4 100.1 L896.9 100.1 L898.4 100.1 L899.9 100.1 L901.4 100.1 L902.8 100.1 L904.3 100.1 L905.8 100.1 L907.3 100.1 L908.8 100.1 L910.2 100.1 L911.7 100.1 L913.2 100.1 L914.7 100.1 L916.2 100.1 L917.6 100.1 L919.1 100.1 L920.6 100.1 L922.1 100.1 L923.6 100.1 L925.1 100.1 L926.5 100.1 L928 100.1 L929.5 100.1 L931 100.1 L932.5 100.1 L933.9 100.1 L935.4 100.1 L936.9 100.1 L938.4 100.1 L939.9 100.1 L941.4 100.1 L942.8 100.1 L944.3 100.1 L945.8 100.1 L947.3 100.1 L948.8 100.1 L950.2 100.4 L951.7 101 L953.2 101.9 L954.7 103.1 L956.2 104.5 L957.6 106 L959.1 107.3 L960.6 108.3 L962.1 109.2 L963.6 110 L965.1 110.7 L966.5 111.4 L968 112 L969.5 112.6 L971 113 L972.5 113.4 L973.9 113.7 L975.4 113.9 L976.9 114.1 L978.4 114.1 L979.9 114.1 L981.4 113.9 L982.8 113.7 L984.3 113.4 L985.8 113 L987.3 112.6 L988.8 112 L990.2 111.4 L991.7 110.7 L993.2 110 L994.7 109.2 L996.2 108.3 L997.6 107.4 L999.1 106.4 L1000.6 105.4 L1002.1 104.4 L1003.6 103.4 L1005.1 102.3 L1006.5 101.2 L1008 100.1 L1009.5 99 L1011 97.9 L1012.5 96.8 L1013.9 95.7 L1015.4 94.7 L1016.9 93.7 L1018.4 92.8 L1019.9 91.8 L1021.4 91 L1022.8 90.2 L1024.3 89.4 L1025.8 88.7 L1027.3 88.1 L1028.8 87.6 L1030.2 87.1 L1031.7 86.8 L1033.2 86.5 L1034.7 86.2 L1036.2 86.1 L1037.7 86.1 L1039.1 86.1 L1040.6 86.2 L1042.1 86.5 L1043.6 86.8 L1045.1 87.1 L1046.5 87.6 L1048 88.1 L1049.5 88.7 L1051 89.4 L1052.5 90.2 L1053.9 91 L1055.4 91.8 L1056.9 92.8 L1058.4 93.7 L1059.9 94.7 L1061.4 95.7 L1062.8 96.8 L1064.3 97.9 L1065.8 99 L1067.3 100.1 L1068.8 101.2 L1070.2 102.3 L1071.7 103.4 L1073.2 104.4 L1074.7 105.4 L1076.2 106.4 L1077.7 107.4 L1079.1 108.3 L1080.6 109.2 L1082.1 110 L1083.6 110.7 L1085.1 111.4 L1086.5 112 L1088 112.6 L1089.5 113 L1091 113.4 L1092.5 113.7 L1093.9 113.9 L1095.4 114.1 L1096.9 114.1 M889.5 98.8 L891 98.8 L892.5 98.8 L893.9 98.8 L895.4 98.8 L896.9 98.8 L898.4 98.8 L899.9 98.8 L901.4 98.8 L902.8 98.8 L904.3 98.8 L905.8 98.8 L907.3 98.8 L908.8 98.8 L910.2 98.8 L911.7 98.8 L913.2 98.8 L914.7 98.8 L916.2 98.8 L917.6 98.8 L919.1 98.8 L920.6 98.8 L922.1 98.8 L923.6 98.8 L925.1 98.8 L926.5 98.8 L928 98.8 L929.5 98.8 L931 98.8 L932.5 98.8 L933.9 98.8 L935.4 98.8 L936.9 98.8 L938.4 98.8 L939.9 98.8 L941.4 98.8 L942.8 98.8 L944.3 98.8 L945.8 98.8 L947.3 98.8 L948.8 98.8 L950.2 99.1 L951.7 99.7 L953.2 100.7 L954.7 101.9 L956.2 103.3 L957.6 104.7 L959.1 106 L960.6 107 L962.1 107.8 L963.6 108.6 L965.1 109.4 L966.5 110 L968 110.6 L969.5 111.2 L971 111.6 L972.5 112 L973.9 112.3 L975.4 112.5 L976.9 112.6 L978.4 112.7 L979.9 112.6 L981.4 112.5 L982.8 112.3 L984.3 112 L985.8 111.6 L987.3 111.2 L988.8 110.6 L990.2 110 L991.7 109.4 L993.2 108.6 L994.7 107.8 L996.2 107 L997.6 106.1 L999.1 105.1 L1000.6 104.1 L1002.1 103.1 L1003.6 102.1 L1005.1 101 L1006.5 99.9 L1008 98.8 L1009.5 97.8 L1011 96.7 L1012.5 95.6 L1013.9 94.6 L1015.4 93.5 L1016.9 92.6 L1018.4 91.6 L1019.9 90.7 L1021.4 89.9 L1022.8 89.1 L1024.3 88.3 L1025.8 87.6 L1027.3 87 L1028.8 86.5 L1030.2 86.1 L1031.7 85.7 L1033.2 85.4 L1034.7 85.2 L1036.2 85 L1037.7 85 L1039.1 85 L1040.6 85.2 L1042.1 85.4 L1043.6 85.7 L1045.1 86.1 L1046.5 86.5 L1048 87 L1049.5 87.6 L1051 88.3 L1052.5 89.1 L1053.9 89.9 L1055.4 90.7 L1056.9 91.6 L1058.4 92.6 L1059.9 93.5 L1061.4 94.6 L1062.8 95.6 L1064.3 96.7 L1065.8 97.8 L1067.3 98.8 L1068.8 99.9 L1070.2 101 L1071.7 102.1 L1073.2 103.1 L1074.7 104.1 L1076.2 105.1 L1077.7 106.1 L1079.1 107 L1080.6 107.8 L1082.1 108.6 L1083.6 109.4 L1085.1 110 L1086.5 110.6 L1088 111.2 L1089.5 111.6 L1091 112 L1092.5 112.3 L1093.9 112.5 L1095.4 112.6 L1096.9 112.7 M889.5 97.5 L891 97.5 L892.5 97.5 L893.9 97.5 L895.4 97.5 L896.9 97.5 L898.4 97.5 L899.9 97.5 L901.4 97.5 L902.8 97.5 L904.3 97.5 L905.8 97.5 L907.3 97.5 L908.8 97.5 L910.2 97.5 L911.7 97.5 L913.2 97.5 L914.7 97.5 L916.2 97.5 L917.6 97.5 L919.1 97.5 L920.6 97.5 L922.1 97.5 L923.6 97.5 L925.1 97.5 L926.5 97.5 L928 97.5 L929.5 97.5 L931 97.5 L932.5 97.5 L933.9 97.5 L935.4 97.5 L936.9 97.5 L938.4 97.5 L939.9 97.5 L941.4 97.5 L942.8 97.5 L944.3 97.5 L945.8 97.5 L947.3 97.5 L948.8 97.5 L950.2 97.8 L951.7 98.4 L953.2 99.3 L954.7 100.5 L956.2 101.9 L957.6 103.3 L959.1 104.6 L960.6 105.6 L962.1 106.4 L963.6 107.2 L965.1 107.9 L966.5 108.6 L968 109.2 L969.5 109.7 L971 110.1 L972.5 110.5 L973.9 110.8 L975.4 111 L976.9 111.1 L978.4 111.2 L979.9 111.1 L981.4 111 L982.8 110.8 L984.3 110.5 L985.8 110.1 L987.3 109.7 L988.8 109.2 L990.2 108.6 L991.7 107.9 L993.2 107.2 L994.7 106.4 L996.2 105.6 L997.6 104.7 L999.1 103.7 L1000.6 102.8 L1002.1 101.7 L1003.6 100.7 L1005.1 99.7 L1006.5 98.6 L1008 97.5 L1009.5 96.5 L1011 95.4 L1012.5 94.3 L1013.9 93.3 L1015.4 92.3 L1016.9 91.3 L1018.4 90.4 L1019.9 89.5 L1021.4 88.7 L1022.8 87.9 L1024.3 87.1 L1025.8 86.5 L1027.3 85.9 L1028.8 85.4 L1030.2 84.9 L1031.7 84.5 L1033.2 84.3 L1034.7 84 L1036.2 83.9 L1037.7 83.9 L1039.1 83.9 L1040.6 84 L1042.1 84.3 L1043.6 84.5 L1045.1 84.9 L1046.5 85.4 L1048 85.9 L1049.5 86.5 L1051 87.1 L1052.5 87.9 L1053.9 88.7 L1055.4 89.5 L1056.9 90.4 L1058.4 91.3 L1059.9 92.3 L1061.4 93.3 L1062.8 94.3 L1064.3 95.4 L1065.8 96.5 L1067.3 97.5 L1068.8 98.6 L1070.2 99.7 L1071.7 100.7 L1073.2 101.7 L1074.7 102.8 L1076.2 103.7 L1077.7 104.7 L1079.1 105.6 L1080.6 106.4 L1082.1 107.2 L1083.6 107.9 L1085.1 108.6 L1086.5 109.2 L1088 109.7 L1089.5 110.1 L1091 110.5 L1092.5 110.8 L1093.9 111 L1095.4 111.1 L1096.9 111.2 M889.5 96.1 L891 96.1 L892.5 96.1 L893.9 96.1 L895.4 96.1 L896.9 96.1 L898.4 96.1 L899.9 96.1 L901.4 96.1 L902.8 96.1 L904.3 96.1 L905.8 96.1 L907.3 96.1 L908.8 96.1 L910.2 96.1 L911.7 96.1 L913.2 96.1 L914.7 96.1 L916.2 96.1 L917.6 96.1 L919.1 96.1 L920.6 96.1 L922.1 96.1 L923.6 96.1 L925.1 96.1 L926.5 96.1 L928 96.1 L929.5 96.1 L931 96.1 L932.5 96.1 L933.9 96.1 L935.4 96.1 L936.9 96.1 L938.4 96.1 L939.9 96.1 L941.4 96.1 L942.8 96.1 L944.3 96.1 L945.8 96.1 L947.3 96.1 L948.8 96.1 L950.2 96.4 L951.7 97 L953.2 97.9 L954.7 99.1 L956.2 100.4 L957.6 101.8 L959.1 103.1 L960.6 104 L962.1 104.9 L963.6 105.7 L965.1 106.4 L966.5 107 L968 107.6 L969.5 108.1 L971 108.6 L972.5 108.9 L973.9 109.2 L975.4 109.4 L976.9 109.6 L978.4 109.6 L979.9 109.6 L981.4 109.4 L982.8 109.2 L984.3 108.9 L985.8 108.6 L987.3 108.1 L988.8 107.6 L990.2 107 L991.7 106.4 L993.2 105.7 L994.7 104.9 L996.2 104 L997.6 103.2 L999.1 102.2 L1000.6 101.3 L1002.1 100.3 L1003.6 99.3 L1005.1 98.2 L1006.5 97.2 L1008 96.1 L1009.5 95.1 L1011 94 L1012.5 93 L1013.9 92 L1015.4 91 L1016.9 90 L1018.4 89.1 L1019.9 88.2 L1021.4 87.4 L1022.8 86.6 L1024.3 85.9 L1025.8 85.3 L1027.3 84.7 L1028.8 84.2 L1030.2 83.7 L1031.7 83.3 L1033.2 83.1 L1034.7 82.9 L1036.2 82.7 L1037.7 82.7 L1039.1 82.7 L1040.6 82.9 L1042.1 83.1 L1043.6 83.3 L1045.1 83.7 L1046.5 84.2 L1048 84.7 L1049.5 85.3 L1051 85.9 L1052.5 86.6 L1053.9 87.4 L1055.4 88.2 L1056.9 89.1 L1058.4 90 L1059.9 91 L1061.4 92 L1062.8 93 L1064.3 94 L1065.8 95.1 L1067.3 96.1 L1068.8 97.2 L1070.2 98.2 L1071.7 99.3 L1073.2 100.3 L1074.7 101.3 L1076.2 102.2 L1077.7 103.2 L1079.1 104 L1080.6 104.9 L1082.1 105.7 L1083.6 106.4 L1085.1 107 L1086.5 107.6 L1088 108.1 L1089.5 108.6 L1091 108.9 L1092.5 109.2 L1093.9 109.4 L1095.4 109.6 L1096.9 109.6 M889.5 94.7 L891 94.7 L892.5 94.7 L893.9 94.7 L895.4 94.7 L896.9 94.7 L898.4 94.7 L899.9 94.7 L901.4 94.7 L902.8 94.7 L904.3 94.7 L905.8 94.7 L907.3 94.7 L908.8 94.7 L910.2 94.7 L911.7 94.7 L913.2 94.7 L914.7 94.7 L916.2 94.7 L917.6 94.7 L919.1 94.7 L920.6 94.7 L922.1 94.7 L923.6 94.7 L925.1 94.7 L926.5 94.7 L928 94.7 L929.5 94.7 L931 94.7 L932.5 94.7 L933.9 94.7 L935.4 94.7 L936.9 94.7 L938.4 94.7 L939.9 94.7 L941.4 94.7 L942.8 94.7 L944.3 94.7 L945.8 94.7 L947.3 94.7 L948.8 94.7 L950.2 95 L951.7 95.5 L953.2 96.4 L954.7 97.6 L956.2 98.9 L957.6 100.3 L959.1 101.5 L960.6 102.5 L962.1 103.3 L963.6 104 L965.1 104.7 L966.5 105.4 L968 106 L969.5 106.5 L971 106.9 L972.5 107.3 L973.9 107.5 L975.4 107.8 L976.9 107.9 L978.4 107.9 L979.9 107.9 L981.4 107.8 L982.8 107.5 L984.3 107.3 L985.8 106.9 L987.3 106.5 L988.8 106 L990.2 105.4 L991.7 104.7 L993.2 104 L994.7 103.3 L996.2 102.5 L997.6 101.6 L999.1 100.7 L1000.6 99.7 L1002.1 98.8 L1003.6 97.8 L1005.1 96.7 L1006.5 95.7 L1008 94.7 L1009.5 93.6 L1011 92.6 L1012.5 91.6 L1013.9 90.6 L1015.4 89.6 L1016.9 88.7 L1018.4 87.8 L1019.9 86.9 L1021.4 86.1 L1022.8 85.3 L1024.3 84.6 L1025.8 84 L1027.3 83.4 L1028.8 82.9 L1030.2 82.4 L1031.7 82.1 L1033.2 81.8 L1034.7 81.6 L1036.2 81.5 L1037.7 81.4 L1039.1 81.5 L1040.6 81.6 L1042.1 81.8 L1043.6 82.1 L1045.1 82.4 L1046.5 82.9 L1048 83.4 L1049.5 84 L1051 84.6 L1052.5 85.3 L1053.9 86.1 L1055.4 86.9 L1056.9 87.8 L1058.4 88.7 L1059.9 89.6 L1061.4 90.6 L1062.8 91.6 L1064.3 92.6 L1065.8 93.6 L1067.3 94.7 L1068.8 95.7 L1070.2 96.7 L1071.7 97.8 L1073.2 98.8 L1074.7 99.7 L1076.2 100.7 L1077.7 101.6 L1079.1 102.5 L1080.6 103.3 L1082.1 104 L1083.6 104.7 L1085.1 105.4 L1086.5 106 L1088 106.5 L1089.5 106.9 L1091 107.3 L1092.5 107.5 L1093.9 107.8 L1095.4 107.9 L1096.9 107.9 M889.5 93.1 L891 93.1 L892.5 93.1 L893.9 93.1 L895.4 93.1 L896.9 93.1 L898.4 93.1 L899.9 93.1 L901.4 93.1 L902.8 93.1 L904.3 93.1 L905.8 93.1 L907.3 93.1 L908.8 93.1 L910.2 93.1 L911.7 93.1 L913.2 93.1 L914.7 93.1 L916.2 93.1 L917.6 93.1 L919.1 93.1 L920.6 93.1 L922.1 93.1 L923.6 93.1 L925.1 93.1 L926.5 93.1 L928 93.1 L929.5 93.1 L931 93.1 L932.5 93.1 L933.9 93.1 L935.4 93.1 L936.9 93.1 L938.4 93.1 L939.9 93.1 L941.4 93.1 L942.8 93.1 L944.3 93.1 L945.8 93.1 L947.3 93.1 L948.8 93.1 L950.2 93.4 L951.7 94 L953.2 94.8 L954.7 96 L956.2 97.3 L957.6 98.6 L959.1 99.9 L960.6 100.8 L962.1 101.6 L963.6 102.3 L965.1 103 L966.5 103.7 L968 104.2 L969.5 104.7 L971 105.2 L972.5 105.5 L973.9 105.8 L975.4 106 L976.9 106.1 L978.4 106.1 L979.9 106.1 L981.4 106 L982.8 105.8 L984.3 105.5 L985.8 105.2 L987.3 104.7 L988.8 104.2 L990.2 103.7 L991.7 103 L993.2 102.3 L994.7 101.6 L996.2 100.8 L997.6 99.9 L999.1 99 L1000.6 98.1 L1002.1 97.1 L1003.6 96.2 L1005.1 95.2 L1006.5 94.1 L1008 93.1 L1009.5 92.1 L1011 91.1 L1012.5 90.1 L1013.9 89.1 L1015.4 88.1 L1016.9 87.2 L1018.4 86.3 L1019.9 85.5 L1021.4 84.7 L1022.8 83.9 L1024.3 83.2 L1025.8 82.6 L1027.3 82 L1028.8 81.5 L1030.2 81.1 L1031.7 80.7 L1033.2 80.5 L1034.7 80.3 L1036.2 80.1 L1037.7 80.1 L1039.1 80.1 L1040.6 80.3 L1042.1 80.5 L1043.6 80.7 L1045.1 81.1 L1046.5 81.5 L1048 82 L1049.5 82.6 L1051 83.2 L1052.5 83.9 L1053.9 84.7 L1055.4 85.5 L1056.9 86.3 L1058.4 87.2 L1059.9 88.1 L1061.4 89.1 L1062.8 90.1 L1064.3 91.1 L1065.8 92.1 L1067.3 93.1 L1068.8 94.1 L1070.2 95.2 L1071.7 96.2 L1073.2 97.1 L1074.7 98.1 L1076.2 99 L1077.7 99.9 L1079.1 100.8 L1080.6 101.6 L1082.1 102.3 L1083.6 103 L1085.1 103.7 L1086.5 104.2 L1088 104.7 L1089.5 105.2 L1091 105.5 L1092.5 105.8 L1093.9 106 L1095.4 106.1 L1096.9 106.1 M889.5 91.5 L891 91.5 L892.5 91.5 L893.9 91.5 L895.4 91.5 L896.9 91.5 L898.4 91.5 L899.9 91.5 L901.4 91.5 L902.8 91.5 L904.3 91.5 L905.8 91.5 L907.3 91.5 L908.8 91.5 L910.2 91.5 L911.7 91.5 L913.2 91.5 L914.7 91.5 L916.2 91.5 L917.6 91.5 L919.1 91.5 L920.6 91.5 L922.1 91.5 L923.6 91.5 L925.1 91.5 L926.5 91.5 L928 91.5 L929.5 91.5 L931 91.5 L932.5 91.5 L933.9 91.5 L935.4 91.5 L936.9 91.5 L938.4 91.5 L939.9 91.5 L941.4 91.5 L942.8 91.5 L944.3 91.5 L945.8 91.5 L947.3 91.5 L948.8 91.5 L950.2 91.8 L951.7 92.3 L953.2 93.2 L954.7 94.3 L956.2 95.6 L957.6 96.9 L959.1 98.1 L960.6 99 L962.1 99.8 L963.6 100.5 L965.1 101.2 L966.5 101.8 L968 102.4 L969.5 102.9 L971 103.3 L972.5 103.7 L973.9 103.9 L975.4 104.1 L976.9 104.2 L978.4 104.3 L979.9 104.2 L981.4 104.1 L982.8 103.9 L984.3 103.7 L985.8 103.3 L987.3 102.9 L988.8 102.4 L990.2 101.8 L991.7 101.2 L993.2 100.5 L994.7 99.8 L996.2 99 L997.6 98.2 L999.1 97.3 L1000.6 96.4 L1002.1 95.4 L1003.6 94.5 L1005.1 93.5 L1006.5 92.5 L1008 91.5 L1009.5 90.5 L1011 89.5 L1012.5 88.5 L1013.9 87.5 L1015.4 86.6 L1016.9 85.7 L1018.4 84.8 L1019.9 84 L1021.4 83.2 L1022.8 82.5 L1024.3 81.8 L1025.8 81.2 L1027.3 80.6 L1028.8 80.1 L1030.2 79.7 L1031.7 79.3 L1033.2 79.1 L1034.7 78.9 L1036.2 78.8 L1037.7 78.7 L1039.1 78.8 L1040.6 78.9 L1042.1 79.1 L1043.6 79.3 L1045.1 79.7 L1046.5 80.1 L1048 80.6 L1049.5 81.2 L1051 81.8 L1052.5 82.5 L1053.9 83.2 L1055.4 84 L1056.9 84.8 L1058.4 85.7 L1059.9 86.6 L1061.4 87.5 L1062.8 88.5 L1064.3 89.5 L1065.8 90.5 L1067.3 91.5 L1068.8 92.5 L1070.2 93.5 L1071.7 94.5 L1073.2 95.4 L1074.7 96.4 L1076.2 97.3 L1077.7 98.2 L1079.1 99 L1080.6 99.8 L1082.1 100.5 L1083.6 101.2 L1085.1 101.8 L1086.5 102.4 L1088 102.9 L1089.5 103.3 L1091 103.7 L1092.5 103.9 L1093.9 104.1 L1095.4 104.2 L1096.9 104.3 M889.5 89.8 L891 89.8 L892.5 89.8 L893.9 89.8 L895.4 89.8 L896.9 89.8 L898.4 89.8 L899.9 89.8 L901.4 89.8 L902.8 89.8 L904.3 89.8 L905.8 89.8 L907.3 89.8 L908.8 89.8 L910.2 89.8 L911.7 89.8 L913.2 89.8 L914.7 89.8 L916.2 89.8 L917.6 89.8 L919.1 89.8 L920.6 89.8 L922.1 89.8 L923.6 89.8 L925.1 89.8 L926.5 89.8 L928 89.8 L929.5 89.8 L931 89.8 L932.5 89.8 L933.9 89.8 L935.4 89.8 L936.9 89.8 L938.4 89.8 L939.9 89.8 L941.4 89.8 L942.8 89.8 L944.3 89.8 L945.8 89.8 L947.3 89.8 L948.8 89.8 L950.2 90 L951.7 90.6 L953.2 91.4 L954.7 92.5 L956.2 93.8 L957.6 95.1 L959.1 96.3 L960.6 97.2 L962.1 97.9 L963.6 98.6 L965.1 99.3 L966.5 99.9 L968 100.5 L969.5 101 L971 101.4 L972.5 101.7 L973.9 102 L975.4 102.2 L976.9 102.3 L978.4 102.3 L979.9 102.3 L981.4 102.2 L982.8 102 L984.3 101.7 L985.8 101.4 L987.3 101 L988.8 100.5 L990.2 99.9 L991.7 99.3 L993.2 98.6 L994.7 97.9 L996.2 97.2 L997.6 96.3 L999.1 95.5 L1000.6 94.6 L1002.1 93.7 L1003.6 92.7 L1005.1 91.7 L1006.5 90.8 L1008 89.8 L1009.5 88.8 L1011 87.8 L1012.5 86.9 L1013.9 85.9 L1015.4 85 L1016.9 84.1 L1018.4 83.2 L1019.9 82.4 L1021.4 81.6 L1022.8 80.9 L1024.3 80.2 L1025.8 79.6 L1027.3 79.1 L1028.8 78.6 L1030.2 78.2 L1031.7 77.9 L1033.2 77.6 L1034.7 77.4 L1036.2 77.3 L1037.7 77.2 L1039.1 77.3 L1040.6 77.4 L1042.1 77.6 L1043.6 77.9 L1045.1 78.2 L1046.5 78.6 L1048 79.1 L1049.5 79.6 L1051 80.2 L1052.5 80.9 L1053.9 81.6 L1055.4 82.4 L1056.9 83.2 L1058.4 84.1 L1059.9 85 L1061.4 85.9 L1062.8 86.9 L1064.3 87.8 L1065.8 88.8 L1067.3 89.8 L1068.8 90.8 L1070.2 91.7 L1071.7 92.7 L1073.2 93.7 L1074.7 94.6 L1076.2 95.5 L1077.7 96.3 L1079.1 97.2 L1080.6 97.9 L1082.1 98.6 L1083.6 99.3 L1085.1 99.9 L1086.5 100.5 L1088 101 L1089.5 101.4 L1091 101.7 L1092.5 102 L1093.9 102.2 L1095.4 102.3 L1096.9 102.3 M889.5 88 L891 88 L892.5 88 L893.9 88 L895.4 88 L896.9 88 L898.4 88 L899.9 88 L901.4 88 L902.8 88 L904.3 88 L905.8 88 L907.3 88 L908.8 88 L910.2 88 L911.7 88 L913.2 88 L914.7 88 L916.2 88 L917.6 88 L919.1 88 L920.6 88 L922.1 88 L923.6 88 L925.1 88 L926.5 88 L928 88 L929.5 88 L931 88 L932.5 88 L933.9 88 L935.4 88 L936.9 88 L938.4 88 L939.9 88 L941.4 88 L942.8 88 L944.3 88 L945.8 88 L947.3 88 L948.8 88 L950.2 88.2 L951.7 88.8 L953.2 89.6 L954.7 90.7 L956.2 91.9 L957.6 93.2 L959.1 94.3 L960.6 95.2 L962.1 96 L963.6 96.7 L965.1 97.3 L966.5 97.9 L968 98.5 L969.5 98.9 L971 99.3 L972.5 99.7 L973.9 99.9 L975.4 100.1 L976.9 100.2 L978.4 100.3 L979.9 100.2 L981.4 100.1 L982.8 99.9 L984.3 99.7 L985.8 99.3 L987.3 98.9 L988.8 98.5 L990.2 97.9 L991.7 97.3 L993.2 96.7 L994.7 96 L996.2 95.2 L997.6 94.4 L999.1 93.6 L1000.6 92.7 L1002.1 91.8 L1003.6 90.8 L1005.1 89.9 L1006.5 88.9 L1008 88 L1009.5 87 L1011 86.1 L1012.5 85.1 L1013.9 84.2 L1015.4 83.3 L1016.9 82.4 L1018.4 81.6 L1019.9 80.8 L1021.4 80 L1022.8 79.3 L1024.3 78.6 L1025.8 78 L1027.3 77.5 L1028.8 77 L1030.2 76.6 L1031.7 76.3 L1033.2 76 L1034.7 75.9 L1036.2 75.7 L1037.7 75.7 L1039.1 75.7 L1040.6 75.9 L1042.1 76 L1043.6 76.3 L1045.1 76.6 L1046.5 77 L1048 77.5 L1049.5 78 L1051 78.6 L1052.5 79.3 L1053.9 80 L1055.4 80.8 L1056.9 81.6 L1058.4 82.4 L1059.9 83.3 L1061.4 84.2 L1062.8 85.1 L1064.3 86.1 L1065.8 87 L1067.3 88 L1068.8 88.9 L1070.2 89.9 L1071.7 90.8 L1073.2 91.8 L1074.7 92.7 L1076.2 93.6 L1077.7 94.4 L1079.1 95.2 L1080.6 96 L1082.1 96.7 L1083.6 97.3 L1085.1 97.9 L1086.5 98.5 L1088 98.9 L1089.5 99.3 L1091 99.7 L1092.5 99.9 L1093.9 100.1 L1095.4 100.2 L1096.9 100.3 M889.5 86.1 L891 86.1 L892.5 86.1 L893.9 86.1 L895.4 86.1 L896.9 86.1 L898.4 86.1 L899.9 86.1 L901.4 86.1 L902.8 86.1 L904.3 86.1 L905.8 86.1 L907.3 86.1 L908.8 86.1 L910.2 86.1 L911.7 86.1 L913.2 86.1 L914.7 86.1 L916.2 86.1 L917.6 86.1 L919.1 86.1 L920.6 86.1 L922.1 86.1 L923.6 86.1 L925.1 86.1 L926.5 86.1 L928 86.1 L929.5 86.1 L931 86.1 L932.5 86.1 L933.9 86.1 L935.4 86.1 L936.9 86.1 L938.4 86.1 L939.9 86.1 L941.4 86.1 L942.8 86.1 L944.3 86.1 L945.8 86.1 L947.3 86.1 L948.8 86.1 L950.2 86.3 L951.7 86.9 L953.2 87.7 L954.7 88.7 L956.2 89.9 L957.6 91.2 L959.1 92.3 L960.6 93.2 L962.1 93.9 L963.6 94.6 L965.1 95.2 L966.5 95.8 L968 96.3 L969.5 96.8 L971 97.2 L972.5 97.5 L973.9 97.8 L975.4 98 L976.9 98.1 L978.4 98.1 L979.9 98.1 L981.4 98 L982.8 97.8 L984.3 97.5 L985.8 97.2 L987.3 96.8 L988.8 96.3 L990.2 95.8 L991.7 95.2 L993.2 94.6 L994.7 93.9 L996.2 93.2 L997.6 92.4 L999.1 91.5 L1000.6 90.7 L1002.1 89.8 L1003.6 88.9 L1005.1 88 L1006.5 87 L1008 86.1 L1009.5 85.2 L1011 84.2 L1012.5 83.3 L1013.9 82.4 L1015.4 81.5 L1016.9 80.6 L1018.4 79.8 L1019.9 79 L1021.4 78.3 L1022.8 77.6 L1024.3 77 L1025.8 76.4 L1027.3 75.9 L1028.8 75.4 L1030.2 75 L1031.7 74.7 L1033.2 74.4 L1034.7 74.2 L1036.2 74.1 L1037.7 74.1 L1039.1 74.1 L1040.6 74.2 L1042.1 74.4 L1043.6 74.7 L1045.1 75 L1046.5 75.4 L1048 75.9 L1049.5 76.4 L1051 77 L1052.5 77.6 L1053.9 78.3 L1055.4 79 L1056.9 79.8 L1058.4 80.6 L1059.9 81.5 L1061.4 82.4 L1062.8 83.3 L1064.3 84.2 L1065.8 85.2 L1067.3 86.1 L1068.8 87 L1070.2 88 L1071.7 88.9 L1073.2 89.8 L1074.7 90.7 L1076.2 91.5 L1077.7 92.4 L1079.1 93.2 L1080.6 93.9 L1082.1 94.6 L1083.6 95.2 L1085.1 95.8 L1086.5 96.3 L1088 96.8 L1089.5 97.2 L1091 97.5 L1092.5 97.8 L1093.9 98 L1095.4 98.1 L1096.9 98.1 M889.5 84.1 L891 84.1 L892.5 84.1 L893.9 84.1 L895.4 84.1 L896.9 84.1 L898.4 84.1 L899.9 84.1 L901.4 84.1 L902.8 84.1 L904.3 84.1 L905.8 84.1 L907.3 84.1 L908.8 84.1 L910.2 84.1 L911.7 84.1 L913.2 84.1 L914.7 84.1 L916.2 84.1 L917.6 84.1 L919.1 84.1 L920.6 84.1 L922.1 84.1 L923.6 84.1 L925.1 84.1 L926.5 84.1 L928 84.1 L929.5 84.1 L931 84.1 L932.5 84.1 L933.9 84.1 L935.4 84.1 L936.9 84.1 L938.4 84.1 L939.9 84.1 L941.4 84.1 L942.8 84.1 L944.3 84.1 L945.8 84.1 L947.3 84.1 L948.8 84.1 L950.2 84.4 L951.7 84.9 L953.2 85.7 L954.7 86.7 L956.2 87.9 L957.6 89.1 L959.1 90.2 L960.6 91 L962.1 91.7 L963.6 92.4 L965.1 93 L966.5 93.6 L968 94.1 L969.5 94.6 L971 95 L972.5 95.3 L973.9 95.5 L975.4 95.7 L976.9 95.8 L978.4 95.8 L979.9 95.8 L981.4 95.7 L982.8 95.5 L984.3 95.3 L985.8 95 L987.3 94.6 L988.8 94.1 L990.2 93.6 L991.7 93 L993.2 92.4 L994.7 91.7 L996.2 91 L997.6 90.2 L999.1 89.4 L1000.6 88.6 L1002.1 87.7 L1003.6 86.9 L1005.1 86 L1006.5 85 L1008 84.1 L1009.5 83.2 L1011 82.3 L1012.5 81.4 L1013.9 80.5 L1015.4 79.6 L1016.9 78.8 L1018.4 78 L1019.9 77.2 L1021.4 76.5 L1022.8 75.8 L1024.3 75.2 L1025.8 74.6 L1027.3 74.1 L1028.8 73.7 L1030.2 73.3 L1031.7 73 L1033.2 72.7 L1034.7 72.5 L1036.2 72.4 L1037.7 72.4 L1039.1 72.4 L1040.6 72.5 L1042.1 72.7 L1043.6 73 L1045.1 73.3 L1046.5 73.7 L1048 74.1 L1049.5 74.6 L1051 75.2 L1052.5 75.8 L1053.9 76.5 L1055.4 77.2 L1056.9 78 L1058.4 78.8 L1059.9 79.6 L1061.4 80.5 L1062.8 81.4 L1064.3 82.3 L1065.8 83.2 L1067.3 84.1 L1068.8 85 L1070.2 86 L1071.7 86.9 L1073.2 87.7 L1074.7 88.6 L1076.2 89.4 L1077.7 90.2 L1079.1 91 L1080.6 91.7 L1082.1 92.4 L1083.6 93 L1085.1 93.6 L1086.5 94.1 L1088 94.6 L1089.5 95 L1091 95.3 L1092.5 95.5 L1093.9 95.7 L1095.4 95.8 L1096.9 95.8 M889.5 82.1 L891 82.1 L892.5 82.1 L893.9 82.1 L895.4 82.1 L896.9 82.1 L898.4 82.1 L899.9 82.1 L901.4 82.1 L902.8 82.1 L904.3 82.1 L905.8 82.1 L907.3 82.1 L908.8 82.1 L910.2 82.1 L911.7 82.1 L913.2 82.1 L914.7 82.1 L916.2 82.1 L917.6 82.1 L919.1 82.1 L920.6 82.1 L922.1 82.1 L923.6 82.1 L925.1 82.1 L926.5 82.1 L928 82.1 L929.5 82.1 L931 82.1 L932.5 82.1 L933.9 82.1 L935.4 82.1 L936.9 82.1 L938.4 82.1 L939.9 82.1 L941.4 82.1 L942.8 82.1 L944.3 82.1 L945.8 82.1 L947.3 82.1 L948.8 82.1 L950.2 82.3 L951.7 82.8 L953.2 83.6 L954.7 84.5 L956.2 85.7 L957.6 86.9 L959.1 88 L960.6 88.8 L962.1 89.5 L963.6 90.1 L965.1 90.8 L966.5 91.3 L968 91.8 L969.5 92.2 L971 92.6 L972.5 92.9 L973.9 93.2 L975.4 93.3 L976.9 93.5 L978.4 93.5 L979.9 93.5 L981.4 93.3 L982.8 93.2 L984.3 92.9 L985.8 92.6 L987.3 92.2 L988.8 91.8 L990.2 91.3 L991.7 90.8 L993.2 90.1 L994.7 89.5 L996.2 88.8 L997.6 88 L999.1 87.2 L1000.6 86.4 L1002.1 85.6 L1003.6 84.7 L1005.1 83.8 L1006.5 83 L1008 82.1 L1009.5 81.2 L1011 80.3 L1012.5 79.4 L1013.9 78.5 L1015.4 77.7 L1016.9 76.9 L1018.4 76.1 L1019.9 75.3 L1021.4 74.6 L1022.8 74 L1024.3 73.4 L1025.8 72.8 L1027.3 72.3 L1028.8 71.9 L1030.2 71.5 L1031.7 71.2 L1033.2 70.9 L1034.7 70.8 L1036.2 70.7 L1037.7 70.6 L1039.1 70.7 L1040.6 70.8 L1042.1 70.9 L1043.6 71.2 L1045.1 71.5 L1046.5 71.9 L1048 72.3 L1049.5 72.8 L1051 73.4 L1052.5 74 L1053.9 74.6 L1055.4 75.3 L1056.9 76.1 L1058.4 76.9 L1059.9 77.7 L1061.4 78.5 L1062.8 79.4 L1064.3 80.3 L1065.8 81.2 L1067.3 82.1 L1068.8 83 L1070.2 83.8 L1071.7 84.7 L1073.2 85.6 L1074.7 86.4 L1076.2 87.2 L1077.7 88 L1079.1 88.8 L1080.6 89.5 L1082.1 90.1 L1083.6 90.8 L1085.1 91.3 L1086.5 91.8 L1088 92.2 L1089.5 92.6 L1091 92.9 L1092.5 93.2 L1093.9 93.3 L1095.4 93.5 L1096.9 93.5 M889.5 79.9 L891 79.9 L892.5 79.9 L893.9 79.9 L895.4 79.9 L896.9 79.9 L898.4 79.9 L899.9 79.9 L901.4 79.9 L902.8 79.9 L904.3 79.9 L905.8 79.9 L907.3 79.9 L908.8 79.9 L910.2 79.9 L911.7 79.9 L913.2 79.9 L914.7 79.9 L916.2 79.9 L917.6 79.9 L919.1 79.9 L920.6 79.9 L922.1 79.9 L923.6 79.9 L925.1 79.9 L926.5 79.9 L928 79.9 L929.5 79.9 L931 79.9 L932.5 79.9 L933.9 79.9 L935.4 79.9 L936.9 79.9 L938.4 79.9 L939.9 79.9 L941.4 79.9 L942.8 79.9 L944.3 79.9 L945.8 79.9 L947.3 79.9 L948.8 79.9 L950.2 80.1 L951.7 80.6 L953.2 81.4 L954.7 82.3 L956.2 83.5 L957.6 84.6 L959.1 85.7 L960.6 86.4 L962.1 87.1 L963.6 87.8 L965.1 88.4 L966.5 88.9 L968 89.4 L969.5 89.8 L971 90.2 L972.5 90.5 L973.9 90.7 L975.4 90.9 L976.9 91 L978.4 91 L979.9 91 L981.4 90.9 L982.8 90.7 L984.3 90.5 L985.8 90.2 L987.3 89.8 L988.8 89.4 L990.2 88.9 L991.7 88.4 L993.2 87.8 L994.7 87.1 L996.2 86.4 L997.6 85.7 L999.1 85 L1000.6 84.2 L1002.1 83.3 L1003.6 82.5 L1005.1 81.7 L1006.5 80.8 L1008 79.9 L1009.5 79 L1011 78.2 L1012.5 77.3 L1013.9 76.5 L1015.4 75.7 L1016.9 74.9 L1018.4 74.1 L1019.9 73.4 L1021.4 72.7 L1022.8 72 L1024.3 71.5 L1025.8 70.9 L1027.3 70.4 L1028.8 70 L1030.2 69.6 L1031.7 69.3 L1033.2 69.1 L1034.7 68.9 L1036.2 68.8 L1037.7 68.8 L1039.1 68.8 L1040.6 68.9 L1042.1 69.1 L1043.6 69.3 L1045.1 69.6 L1046.5 70 L1048 70.4 L1049.5 70.9 L1051 71.5 L1052.5 72 L1053.9 72.7 L1055.4 73.4 L1056.9 74.1 L1058.4 74.9 L1059.9 75.7 L1061.4 76.5 L1062.8 77.3 L1064.3 78.2 L1065.8 79 L1067.3 79.9 L1068.8 80.8 L1070.2 81.7 L1071.7 82.5 L1073.2 83.3 L1074.7 84.2 L1076.2 85 L1077.7 85.7 L1079.1 86.4 L1080.6 87.1 L1082.1 87.8 L1083.6 88.4 L1085.1 88.9 L1086.5 89.4 L1088 89.8 L1089.5 90.2 L1091 90.5 L1092.5 90.7 L1093.9 90.9 L1095.4 91 L1096.9 91 M889.5 77.7 L891 77.7 L892.5 77.7 L893.9 77.7 L895.4 77.7 L896.9 77.7 L898.4 77.7 L899.9 77.7 L901.4 77.7 L902.8 77.7 L904.3 77.7 L905.8 77.7 L907.3 77.7 L908.8 77.7 L910.2 77.7 L911.7 77.7 L913.2 77.7 L914.7 77.7 L916.2 77.7 L917.6 77.7 L919.1 77.7 L920.6 77.7 L922.1 77.7 L923.6 77.7 L925.1 77.7 L926.5 77.7 L928 77.7 L929.5 77.7 L931 77.7 L932.5 77.7 L933.9 77.7 L935.4 77.7 L936.9 77.7 L938.4 77.7 L939.9 77.7 L941.4 77.7 L942.8 77.7 L944.3 77.7 L945.8 77.7 L947.3 77.7 L948.8 77.7 L950.2 77.9 L951.7 78.4 L953.2 79.1 L954.7 80 L956.2 81.1 L957.6 82.2 L959.1 83.3 L960.6 84 L962.1 84.7 L963.6 85.3 L965.1 85.9 L966.5 86.4 L968 86.9 L969.5 87.3 L971 87.7 L972.5 87.9 L973.9 88.2 L975.4 88.3 L976.9 88.4 L978.4 88.5 L979.9 88.4 L981.4 88.3 L982.8 88.2 L984.3 87.9 L985.8 87.7 L987.3 87.3 L988.8 86.9 L990.2 86.4 L991.7 85.9 L993.2 85.3 L994.7 84.7 L996.2 84 L997.6 83.3 L999.1 82.6 L1000.6 81.8 L1002.1 81 L1003.6 80.2 L1005.1 79.4 L1006.5 78.5 L1008 77.7 L1009.5 76.8 L1011 76 L1012.5 75.2 L1013.9 74.3 L1015.4 73.5 L1016.9 72.8 L1018.4 72 L1019.9 71.3 L1021.4 70.7 L1022.8 70 L1024.3 69.5 L1025.8 68.9 L1027.3 68.5 L1028.8 68.1 L1030.2 67.7 L1031.7 67.4 L1033.2 67.2 L1034.7 67 L1036.2 66.9 L1037.7 66.9 L1039.1 66.9 L1040.6 67 L1042.1 67.2 L1043.6 67.4 L1045.1 67.7 L1046.5 68.1 L1048 68.5 L1049.5 68.9 L1051 69.5 L1052.5 70 L1053.9 70.7 L1055.4 71.3 L1056.9 72 L1058.4 72.8 L1059.9 73.5 L1061.4 74.3 L1062.8 75.2 L1064.3 76 L1065.8 76.8 L1067.3 77.7 L1068.8 78.5 L1070.2 79.4 L1071.7 80.2 L1073.2 81 L1074.7 81.8 L1076.2 82.6 L1077.7 83.3 L1079.1 84 L1080.6 84.7 L1082.1 85.3 L1083.6 85.9 L1085.1 86.4 L1086.5 86.9 L1088 87.3 L1089.5 87.7 L1091 87.9 L1092.5 88.2 L1093.9 88.3 L1095.4 88.4 L1096.9 88.5 M889.5 75.3 L891 75.3 L892.5 75.3 L893.9 75.3 L895.4 75.3 L896.9 75.3 L898.4 75.3 L899.9 75.3 L901.4 75.3 L902.8 75.3 L904.3 75.3 L905.8 75.3 L907.3 75.3 L908.8 75.3 L910.2 75.3 L911.7 75.3 L913.2 75.3 L914.7 75.3 L916.2 75.3 L917.6 75.3 L919.1 75.3 L920.6 75.3 L922.1 75.3 L923.6 75.3 L925.1 75.3 L926.5 75.3 L928 75.3 L929.5 75.3 L931 75.3 L932.5 75.3 L933.9 75.3 L935.4 75.3 L936.9 75.3 L938.4 75.3 L939.9 75.3 L941.4 75.3 L942.8 75.3 L944.3 75.3 L945.8 75.3 L947.3 75.3 L948.8 75.3 L950.2 75.6 L951.7 76 L953.2 76.7 L954.7 77.6 L956.2 78.7 L957.6 79.8 L959.1 80.8 L960.6 81.5 L962.1 82.1 L963.6 82.7 L965.1 83.3 L966.5 83.8 L968 84.3 L969.5 84.7 L971 85 L972.5 85.3 L973.9 85.5 L975.4 85.7 L976.9 85.8 L978.4 85.8 L979.9 85.8 L981.4 85.7 L982.8 85.5 L984.3 85.3 L985.8 85 L987.3 84.7 L988.8 84.3 L990.2 83.8 L991.7 83.3 L993.2 82.7 L994.7 82.1 L996.2 81.5 L997.6 80.8 L999.1 80.1 L1000.6 79.4 L1002.1 78.6 L1003.6 77.8 L1005.1 77 L1006.5 76.2 L1008 75.3 L1009.5 74.5 L1011 73.7 L1012.5 72.9 L1013.9 72.1 L1015.4 71.3 L1016.9 70.6 L1018.4 69.9 L1019.9 69.2 L1021.4 68.6 L1022.8 67.9 L1024.3 67.4 L1025.8 66.9 L1027.3 66.4 L1028.8 66 L1030.2 65.7 L1031.7 65.4 L1033.2 65.2 L1034.7 65 L1036.2 64.9 L1037.7 64.9 L1039.1 64.9 L1040.6 65 L1042.1 65.2 L1043.6 65.4 L1045.1 65.7 L1046.5 66 L1048 66.4 L1049.5 66.9 L1051 67.4 L1052.5 67.9 L1053.9 68.6 L1055.4 69.2 L1056.9 69.9 L1058.4 70.6 L1059.9 71.3 L1061.4 72.1 L1062.8 72.9 L1064.3 73.7 L1065.8 74.5 L1067.3 75.3 L1068.8 76.2 L1070.2 77 L1071.7 77.8 L1073.2 78.6 L1074.7 79.4 L1076.2 80.1 L1077.7 80.8 L1079.1 81.5 L1080.6 82.1 L1082.1 82.7 L1083.6 83.3 L1085.1 83.8 L1086.5 84.3 L1088 84.7 L1089.5 85 L1091 85.3 L1092.5 85.5 L1093.9 85.7 L1095.4 85.8 L1096.9 85.8 M889.5 72.9 L891 72.9 L892.5 72.9 L893.9 72.9 L895.4 72.9 L896.9 72.9 L898.4 72.9 L899.9 72.9 L901.4 72.9 L902.8 72.9 L904.3 72.9 L905.8 72.9 L907.3 72.9 L908.8 72.9 L910.2 72.9 L911.7 72.9 L913.2 72.9 L914.7 72.9 L916.2 72.9 L917.6 72.9 L919.1 72.9 L920.6 72.9 L922.1 72.9 L923.6 72.9 L925.1 72.9 L926.5 72.9 L928 72.9 L929.5 72.9 L931 72.9 L932.5 72.9 L933.9 72.9 L935.4 72.9 L936.9 72.9 L938.4 72.9 L939.9 72.9 L941.4 72.9 L942.8 72.9 L944.3 72.9 L945.8 72.9 L947.3 72.9 L948.8 72.9 L950.2 73.1 L951.7 73.6 L953.2 74.3 L954.7 75.1 L956.2 76.2 L957.6 77.2 L959.1 78.2 L960.6 78.9 L962.1 79.5 L963.6 80.1 L965.1 80.6 L966.5 81.1 L968 81.6 L969.5 82 L971 82.3 L972.5 82.6 L973.9 82.8 L975.4 82.9 L976.9 83 L978.4 83.1 L979.9 83 L981.4 82.9 L982.8 82.8 L984.3 82.6 L985.8 82.3 L987.3 82 L988.8 81.6 L990.2 81.1 L991.7 80.6 L993.2 80.1 L994.7 79.5 L996.2 78.9 L997.6 78.2 L999.1 77.5 L1000.6 76.8 L1002.1 76.1 L1003.6 75.3 L1005.1 74.5 L1006.5 73.7 L1008 72.9 L1009.5 72.1 L1011 71.4 L1012.5 70.6 L1013.9 69.8 L1015.4 69.1 L1016.9 68.3 L1018.4 67.6 L1019.9 67 L1021.4 66.4 L1022.8 65.8 L1024.3 65.2 L1025.8 64.8 L1027.3 64.3 L1028.8 63.9 L1030.2 63.6 L1031.7 63.3 L1033.2 63.1 L1034.7 62.9 L1036.2 62.8 L1037.7 62.8 L1039.1 62.8 L1040.6 62.9 L1042.1 63.1 L1043.6 63.3 L1045.1 63.6 L1046.5 63.9 L1048 64.3 L1049.5 64.8 L1051 65.2 L1052.5 65.8 L1053.9 66.4 L1055.4 67 L1056.9 67.6 L1058.4 68.3 L1059.9 69.1 L1061.4 69.8 L1062.8 70.6 L1064.3 71.4 L1065.8 72.1 L1067.3 72.9 L1068.8 73.7 L1070.2 74.5 L1071.7 75.3 L1073.2 76.1 L1074.7 76.8 L1076.2 77.5 L1077.7 78.2 L1079.1 78.9 L1080.6 79.5 L1082.1 80.1 L1083.6 80.6 L1085.1 81.1 L1086.5 81.6 L1088 82 L1089.5 82.3 L1091 82.6 L1092.5 82.8 L1093.9 82.9 L1095.4 83 L1096.9 83.1 M889.5 70.4 L891 70.4 L892.5 70.4 L893.9 70.4 L895.4 70.4 L896.9 70.4 L898.4 70.4 L899.9 70.4 L901.4 70.4 L902.8 70.4 L904.3 70.4 L905.8 70.4 L907.3 70.4 L908.8 70.4 L910.2 70.4 L911.7 70.4 L913.2 70.4 L914.7 70.4 L916.2 70.4 L917.6 70.4 L919.1 70.4 L920.6 70.4 L922.1 70.4 L923.6 70.4 L925.1 70.4 L926.5 70.4 L928 70.4 L929.5 70.4 L931 70.4 L932.5 70.4 L933.9 70.4 L935.4 70.4 L936.9 70.4 L938.4 70.4 L939.9 70.4 L941.4 70.4 L942.8 70.4 L944.3 70.4 L945.8 70.4 L947.3 70.4 L948.8 70.4 L950.2 70.6 L951.7 71.1 L953.2 71.7 L954.7 72.6 L956.2 73.5 L957.6 74.6 L959.1 75.5 L960.6 76.2 L962.1 76.8 L963.6 77.3 L965.1 77.9 L966.5 78.3 L968 78.8 L969.5 79.1 L971 79.5 L972.5 79.7 L973.9 79.9 L975.4 80.1 L976.9 80.2 L978.4 80.2 L979.9 80.2 L981.4 80.1 L982.8 79.9 L984.3 79.7 L985.8 79.5 L987.3 79.1 L988.8 78.8 L990.2 78.3 L991.7 77.9 L993.2 77.3 L994.7 76.8 L996.2 76.2 L997.6 75.5 L999.1 74.9 L1000.6 74.2 L1002.1 73.5 L1003.6 72.7 L1005.1 72 L1006.5 71.2 L1008 70.4 L1009.5 69.7 L1011 68.9 L1012.5 68.2 L1013.9 67.4 L1015.4 66.7 L1016.9 66 L1018.4 65.3 L1019.9 64.7 L1021.4 64.1 L1022.8 63.5 L1024.3 63 L1025.8 62.5 L1027.3 62.1 L1028.8 61.7 L1030.2 61.4 L1031.7 61.2 L1033.2 60.9 L1034.7 60.8 L1036.2 60.7 L1037.7 60.7 L1039.1 60.7 L1040.6 60.8 L1042.1 60.9 L1043.6 61.2 L1045.1 61.4 L1046.5 61.7 L1048 62.1 L1049.5 62.5 L1051 63 L1052.5 63.5 L1053.9 64.1 L1055.4 64.7 L1056.9 65.3 L1058.4 66 L1059.9 66.7 L1061.4 67.4 L1062.8 68.2 L1064.3 68.9 L1065.8 69.7 L1067.3 70.4 L1068.8 71.2 L1070.2 72 L1071.7 72.7 L1073.2 73.5 L1074.7 74.2 L1076.2 74.9 L1077.7 75.5 L1079.1 76.2 L1080.6 76.8 L1082.1 77.3 L1083.6 77.9 L1085.1 78.3 L1086.5 78.8 L1088 79.1 L1089.5 79.5 L1091 79.7 L1092.5 79.9 L1093.9 80.1 L1095.4 80.2 L1096.9 80.2 M889.5 67.9 L891 67.9 L892.5 67.9 L893.9 67.9 L895.4 67.9 L896.9 67.9 L898.4 67.9 L899.9 67.9 L901.4 67.9 L902.8 67.9 L904.3 67.9 L905.8 67.9 L907.3 67.9 L908.8 67.9 L910.2 67.9 L911.7 67.9 L913.2 67.9 L914.7 67.9 L916.2 67.9 L917.6 67.9 L919.1 67.9 L920.6 67.9 L922.1 67.9 L923.6 67.9 L925.1 67.9 L926.5 67.9 L928 67.9 L929.5 67.9 L931 67.9 L932.5 67.9 L933.9 67.9 L935.4 67.9 L936.9 67.9 L938.4 67.9 L939.9 67.9 L941.4 67.9 L942.8 67.9 L944.3 67.9 L945.8 67.9 L947.3 67.9 L948.8 67.9 L950.2 68 L951.7 68.5 L953.2 69.1 L954.7 69.9 L956.2 70.8 L957.6 71.8 L959.1 72.7 L960.6 73.4 L962.1 73.9 L963.6 74.5 L965.1 75 L966.5 75.4 L968 75.9 L969.5 76.2 L971 76.5 L972.5 76.8 L973.9 77 L975.4 77.1 L976.9 77.2 L978.4 77.2 L979.9 77.2 L981.4 77.1 L982.8 77 L984.3 76.8 L985.8 76.5 L987.3 76.2 L988.8 75.9 L990.2 75.4 L991.7 75 L993.2 74.5 L994.7 73.9 L996.2 73.4 L997.6 72.8 L999.1 72.1 L1000.6 71.4 L1002.1 70.8 L1003.6 70 L1005.1 69.3 L1006.5 68.6 L1008 67.9 L1009.5 67.1 L1011 66.4 L1012.5 65.7 L1013.9 65 L1015.4 64.3 L1016.9 63.6 L1018.4 62.9 L1019.9 62.3 L1021.4 61.8 L1022.8 61.2 L1024.3 60.7 L1025.8 60.3 L1027.3 59.8 L1028.8 59.5 L1030.2 59.2 L1031.7 58.9 L1033.2 58.7 L1034.7 58.6 L1036.2 58.5 L1037.7 58.5 L1039.1 58.5 L1040.6 58.6 L1042.1 58.7 L1043.6 58.9 L1045.1 59.2 L1046.5 59.5 L1048 59.8 L1049.5 60.3 L1051 60.7 L1052.5 61.2 L1053.9 61.8 L1055.4 62.3 L1056.9 62.9 L1058.4 63.6 L1059.9 64.3 L1061.4 65 L1062.8 65.7 L1064.3 66.4 L1065.8 67.1 L1067.3 67.9 L1068.8 68.6 L1070.2 69.3 L1071.7 70 L1073.2 70.8 L1074.7 71.4 L1076.2 72.1 L1077.7 72.8 L1079.1 73.4 L1080.6 73.9 L1082.1 74.5 L1083.6 75 L1085.1 75.4 L1086.5 75.9 L1088 76.2 L1089.5 76.5 L1091 76.8 L1092.5 77 L1093.9 77.1 L1095.4 77.2 L1096.9 77.2 M889.5 65.2 L891 65.2 L892.5 65.2 L893.9 65.2 L895.4 65.2 L896.9 65.2 L898.4 65.2 L899.9 65.2 L901.4 65.2 L902.8 65.2 L904.3 65.2 L905.8 65.2 L907.3 65.2 L908.8 65.2 L910.2 65.2 L911.7 65.2 L913.2 65.2 L914.7 65.2 L916.2 65.2 L917.6 65.2 L919.1 65.2 L920.6 65.2 L922.1 65.2 L923.6 65.2 L925.1 65.2 L926.5 65.2 L928 65.2 L929.5 65.2 L931 65.2 L932.5 65.2 L933.9 65.2 L935.4 65.2 L936.9 65.2 L938.4 65.2 L939.9 65.2 L941.4 65.2 L942.8 65.2 L944.3 65.2 L945.8 65.2 L947.3 65.2 L948.8 65.2 L950.2 65.4 L951.7 65.8 L953.2 66.4 L954.7 67.1 L956.2 68.1 L957.6 69 L959.1 69.8 L960.6 70.5 L962.1 71 L963.6 71.6 L965.1 72 L966.5 72.5 L968 72.9 L969.5 73.2 L971 73.5 L972.5 73.7 L973.9 73.9 L975.4 74.1 L976.9 74.2 L978.4 74.2 L979.9 74.2 L981.4 74.1 L982.8 73.9 L984.3 73.7 L985.8 73.5 L987.3 73.2 L988.8 72.9 L990.2 72.5 L991.7 72 L993.2 71.6 L994.7 71 L996.2 70.5 L997.6 69.9 L999.1 69.3 L1000.6 68.6 L1002.1 68 L1003.6 67.3 L1005.1 66.6 L1006.5 65.9 L1008 65.2 L1009.5 64.5 L1011 63.8 L1012.5 63.1 L1013.9 62.4 L1015.4 61.7 L1016.9 61.1 L1018.4 60.5 L1019.9 59.9 L1021.4 59.3 L1022.8 58.8 L1024.3 58.3 L1025.8 57.9 L1027.3 57.5 L1028.8 57.2 L1030.2 56.9 L1031.7 56.6 L1033.2 56.4 L1034.7 56.3 L1036.2 56.2 L1037.7 56.2 L1039.1 56.2 L1040.6 56.3 L1042.1 56.4 L1043.6 56.6 L1045.1 56.9 L1046.5 57.2 L1048 57.5 L1049.5 57.9 L1051 58.3 L1052.5 58.8 L1053.9 59.3 L1055.4 59.9 L1056.9 60.5 L1058.4 61.1 L1059.9 61.7 L1061.4 62.4 L1062.8 63.1 L1064.3 63.8 L1065.8 64.5 L1067.3 65.2 L1068.8 65.9 L1070.2 66.6 L1071.7 67.3 L1073.2 68 L1074.7 68.6 L1076.2 69.3 L1077.7 69.9 L1079.1 70.5 L1080.6 71 L1082.1 71.6 L1083.6 72 L1085.1 72.5 L1086.5 72.9 L1088 73.2 L1089.5 73.5 L1091 73.7 L1092.5 73.9 L1093.9 74.1 L1095.4 74.2 L1096.9 74.2 M889.5 62.4 L891 62.4 L892.5 62.4 L893.9 62.4 L895.4 62.4 L896.9 62.4 L898.4 62.4 L899.9 62.4 L901.4 62.4 L902.8 62.4 L904.3 62.4 L905.8 62.4 L907.3 62.4 L908.8 62.4 L910.2 62.4 L911.7 62.4 L913.2 62.4 L914.7 62.4 L916.2 62.4 L917.6 62.4 L919.1 62.4 L920.6 62.4 L922.1 62.4 L923.6 62.4 L925.1 62.4 L926.5 62.4 L928 62.4 L929.5 62.4 L931 62.4 L932.5 62.4 L933.9 62.4 L935.4 62.4 L936.9 62.4 L938.4 62.4 L939.9 62.4 L941.4 62.4 L942.8 62.4 L944.3 62.4 L945.8 62.4 L947.3 62.4 L948.8 62.4 L950.2 62.6 L951.7 63 L953.2 63.6 L954.7 64.3 L956.2 65.2 L957.6 66.1 L959.1 66.9 L960.6 67.5 L962.1 68 L963.6 68.5 L965.1 69 L966.5 69.4 L968 69.8 L969.5 70.1 L971 70.4 L972.5 70.6 L973.9 70.8 L975.4 70.9 L976.9 71 L978.4 71 L979.9 71 L981.4 70.9 L982.8 70.8 L984.3 70.6 L985.8 70.4 L987.3 70.1 L988.8 69.8 L990.2 69.4 L991.7 69 L993.2 68.5 L994.7 68 L996.2 67.5 L997.6 66.9 L999.1 66.3 L1000.6 65.7 L1002.1 65.1 L1003.6 64.4 L1005.1 63.8 L1006.5 63.1 L1008 62.4 L1009.5 61.8 L1011 61.1 L1012.5 60.4 L1013.9 59.8 L1015.4 59.1 L1016.9 58.5 L1018.4 57.9 L1019.9 57.4 L1021.4 56.8 L1022.8 56.3 L1024.3 55.9 L1025.8 55.5 L1027.3 55.1 L1028.8 54.8 L1030.2 54.5 L1031.7 54.2 L1033.2 54.1 L1034.7 53.9 L1036.2 53.9 L1037.7 53.8 L1039.1 53.9 L1040.6 53.9 L1042.1 54.1 L1043.6 54.2 L1045.1 54.5 L1046.5 54.8 L1048 55.1 L1049.5 55.5 L1051 55.9 L1052.5 56.3 L1053.9 56.8 L1055.4 57.4 L1056.9 57.9 L1058.4 58.5 L1059.9 59.1 L1061.4 59.8 L1062.8 60.4 L1064.3 61.1 L1065.8 61.8 L1067.3 62.4 L1068.8 63.1 L1070.2 63.8 L1071.7 64.4 L1073.2 65.1 L1074.7 65.7 L1076.2 66.3 L1077.7 66.9 L1079.1 67.5 L1080.6 68 L1082.1 68.5 L1083.6 69 L1085.1 69.4 L1086.5 69.8 L1088 70.1 L1089.5 70.4 L1091 70.6 L1092.5 70.8 L1093.9 70.9 L1095.4 71 L1096.9 71 M889.5 59.6 L891 59.6 L892.5 59.6 L893.9 59.6 L895.4 59.6 L896.9 59.6 L898.4 59.6 L899.9 59.6 L901.4 59.6 L902.8 59.6 L904.3 59.6 L905.8 59.6 L907.3 59.6 L908.8 59.6 L910.2 59.6 L911.7 59.6 L913.2 59.6 L914.7 59.6 L916.2 59.6 L917.6 59.6 L919.1 59.6 L920.6 59.6 L922.1 59.6 L923.6 59.6 L925.1 59.6 L926.5 59.6 L928 59.6 L929.5 59.6 L931 59.6 L932.5 59.6 L933.9 59.6 L935.4 59.6 L936.9 59.6 L938.4 59.6 L939.9 59.6 L941.4 59.6 L942.8 59.6 L944.3 59.6 L945.8 59.6 L947.3 59.6 L948.8 59.6 L950.2 59.8 L951.7 60.1 L953.2 60.7 L954.7 61.4 L956.2 62.2 L957.6 63.1 L959.1 63.8 L960.6 64.4 L962.1 64.9 L963.6 65.4 L965.1 65.8 L966.5 66.2 L968 66.6 L969.5 66.9 L971 67.2 L972.5 67.4 L973.9 67.6 L975.4 67.7 L976.9 67.8 L978.4 67.8 L979.9 67.8 L981.4 67.7 L982.8 67.6 L984.3 67.4 L985.8 67.2 L987.3 66.9 L988.8 66.6 L990.2 66.2 L991.7 65.8 L993.2 65.4 L994.7 64.9 L996.2 64.4 L997.6 63.9 L999.1 63.3 L1000.6 62.7 L1002.1 62.1 L1003.6 61.5 L1005.1 60.9 L1006.5 60.2 L1008 59.6 L1009.5 59 L1011 58.3 L1012.5 57.7 L1013.9 57.1 L1015.4 56.5 L1016.9 55.9 L1018.4 55.3 L1019.9 54.8 L1021.4 54.3 L1022.8 53.8 L1024.3 53.4 L1025.8 53 L1027.3 52.6 L1028.8 52.3 L1030.2 52 L1031.7 51.8 L1033.2 51.6 L1034.7 51.5 L1036.2 51.4 L1037.7 51.4 L1039.1 51.4 L1040.6 51.5 L1042.1 51.6 L1043.6 51.8 L1045.1 52 L1046.5 52.3 L1048 52.6 L1049.5 53 L1051 53.4 L1052.5 53.8 L1053.9 54.3 L1055.4 54.8 L1056.9 55.3 L1058.4 55.9 L1059.9 56.5 L1061.4 57.1 L1062.8 57.7 L1064.3 58.3 L1065.8 59 L1067.3 59.6 L1068.8 60.2 L1070.2 60.9 L1071.7 61.5 L1073.2 62.1 L1074.7 62.7 L1076.2 63.3 L1077.7 63.9 L1079.1 64.4 L1080.6 64.9 L1082.1 65.4 L1083.6 65.8 L1085.1 66.2 L1086.5 66.6 L1088 66.9 L1089.5 67.2 L1091 67.4 L1092.5 67.6 L1093.9 67.7 L1095.4 67.8 L1096.9 67.8 M889.5 56.7 L891 56.7 L892.5 56.7 L893.9 56.7 L895.4 56.7 L896.9 56.7 L898.4 56.7 L899.9 56.7 L901.4 56.7 L902.8 56.7 L904.3 56.7 L905.8 56.7 L907.3 56.7 L908.8 56.7 L910.2 56.7 L911.7 56.7 L913.2 56.7 L914.7 56.7 L916.2 56.7 L917.6 56.7 L919.1 56.7 L920.6 56.7 L922.1 56.7 L923.6 56.7 L925.1 56.7 L926.5 56.7 L928 56.7 L929.5 56.7 L931 56.7 L932.5 56.7 L933.9 56.7 L935.4 56.7 L936.9 56.7 L938.4 56.7 L939.9 56.7 L941.4 56.7 L942.8 56.7 L944.3 56.7 L945.8 56.7 L947.3 56.7 L948.8 56.7 L950.2 56.9 L951.7 57.2 L953.2 57.7 L954.7 58.4 L956.2 59.2 L957.6 60 L959.1 60.7 L960.6 61.3 L962.1 61.8 L963.6 62.2 L965.1 62.6 L966.5 63 L968 63.3 L969.5 63.6 L971 63.9 L972.5 64.1 L973.9 64.3 L975.4 64.4 L976.9 64.5 L978.4 64.5 L979.9 64.5 L981.4 64.4 L982.8 64.3 L984.3 64.1 L985.8 63.9 L987.3 63.6 L988.8 63.3 L990.2 63 L991.7 62.6 L993.2 62.2 L994.7 61.8 L996.2 61.3 L997.6 60.8 L999.1 60.2 L1000.6 59.7 L1002.1 59.1 L1003.6 58.5 L1005.1 57.9 L1006.5 57.3 L1008 56.7 L1009.5 56.1 L1011 55.5 L1012.5 54.9 L1013.9 54.3 L1015.4 53.7 L1016.9 53.2 L1018.4 52.6 L1019.9 52.1 L1021.4 51.6 L1022.8 51.2 L1024.3 50.8 L1025.8 50.4 L1027.3 50.1 L1028.8 49.8 L1030.2 49.5 L1031.7 49.3 L1033.2 49.1 L1034.7 49 L1036.2 48.9 L1037.7 48.9 L1039.1 48.9 L1040.6 49 L1042.1 49.1 L1043.6 49.3 L1045.1 49.5 L1046.5 49.8 L1048 50.1 L1049.5 50.4 L1051 50.8 L1052.5 51.2 L1053.9 51.6 L1055.4 52.1 L1056.9 52.6 L1058.4 53.2 L1059.9 53.7 L1061.4 54.3 L1062.8 54.9 L1064.3 55.5 L1065.8 56.1 L1067.3 56.7 L1068.8 57.3 L1070.2 57.9 L1071.7 58.5 L1073.2 59.1 L1074.7 59.7 L1076.2 60.2 L1077.7 60.8 L1079.1 61.3 L1080.6 61.8 L1082.1 62.2 L1083.6 62.6 L1085.1 63 L1086.5 63.3 L1088 63.6 L1089.5 63.9 L1091 64.1 L1092.5 64.3 L1093.9 64.4 L1095.4 64.5 L1096.9 64.5 M889.5 53.7 L891 53.7 L892.5 53.7 L893.9 53.7 L895.4 53.7 L896.9 53.7 L898.4 53.7 L899.9 53.7 L901.4 53.7 L902.8 53.7 L904.3 53.7 L905.8 53.7 L907.3 53.7 L908.8 53.7 L910.2 53.7 L911.7 53.7 L913.2 53.7 L914.7 53.7 L916.2 53.7 L917.6 53.7 L919.1 53.7 L920.6 53.7 L922.1 53.7 L923.6 53.7 L925.1 53.7 L926.5 53.7 L928 53.7 L929.5 53.7 L931 53.7 L932.5 53.7 L933.9 53.7 L935.4 53.7 L936.9 53.7 L938.4 53.7 L939.9 53.7 L941.4 53.7 L942.8 53.7 L944.3 53.7 L945.8 53.7 L947.3 53.7 L948.8 53.7 L950.2 53.9 L951.7 54.2 L953.2 54.7 L954.7 55.3 L956.2 56.1 L957.6 56.8 L959.1 57.5 L960.6 58 L962.1 58.5 L963.6 58.9 L965.1 59.3 L966.5 59.7 L968 60 L969.5 60.3 L971 60.5 L972.5 60.7 L973.9 60.9 L975.4 61 L976.9 61 L978.4 61.1 L979.9 61 L981.4 61 L982.8 60.9 L984.3 60.7 L985.8 60.5 L987.3 60.3 L988.8 60 L990.2 59.7 L991.7 59.3 L993.2 58.9 L994.7 58.5 L996.2 58 L997.6 57.6 L999.1 57.1 L1000.6 56.5 L1002.1 56 L1003.6 55.4 L1005.1 54.9 L1006.5 54.3 L1008 53.7 L1009.5 53.1 L1011 52.6 L1012.5 52 L1013.9 51.4 L1015.4 50.9 L1016.9 50.4 L1018.4 49.9 L1019.9 49.4 L1021.4 48.9 L1022.8 48.5 L1024.3 48.1 L1025.8 47.8 L1027.3 47.4 L1028.8 47.2 L1030.2 46.9 L1031.7 46.7 L1033.2 46.6 L1034.7 46.4 L1036.2 46.4 L1037.7 46.4 L1039.1 46.4 L1040.6 46.4 L1042.1 46.6 L1043.6 46.7 L1045.1 46.9 L1046.5 47.2 L1048 47.4 L1049.5 47.8 L1051 48.1 L1052.5 48.5 L1053.9 48.9 L1055.4 49.4 L1056.9 49.9 L1058.4 50.4 L1059.9 50.9 L1061.4 51.4 L1062.8 52 L1064.3 52.6 L1065.8 53.1 L1067.3 53.7 L1068.8 54.3 L1070.2 54.9 L1071.7 55.4 L1073.2 56 L1074.7 56.5 L1076.2 57.1 L1077.7 57.6 L1079.1 58 L1080.6 58.5 L1082.1 58.9 L1083.6 59.3 L1085.1 59.7 L1086.5 60 L1088 60.3 L1089.5 60.5 L1091 60.7 L1092.5 60.9 L1093.9 61 L1095.4 61 L1096.9 61.1 M889.5 50.7 L891 50.7 L892.5 50.7 L893.9 50.7 L895.4 50.7 L896.9 50.7 L898.4 50.7 L899.9 50.7 L901.4 50.7 L902.8 50.7 L904.3 50.7 L905.8 50.7 L907.3 50.7 L908.8 50.7 L910.2 50.7 L911.7 50.7 L913.2 50.7 L914.7 50.7 L916.2 50.7 L917.6 50.7 L919.1 50.7 L920.6 50.7 L922.1 50.7 L923.6 50.7 L925.1 50.7 L926.5 50.7 L928 50.7 L929.5 50.7 L931 50.7 L932.5 50.7 L933.9 50.7 L935.4 50.7 L936.9 50.7 L938.4 50.7 L939.9 50.7 L941.4 50.7 L942.8 50.7 L944.3 50.7 L945.8 50.7 L947.3 50.7 L948.8 50.7 L950.2 50.8 L951.7 51.1 L953.2 51.6 L954.7 52.2 L956.2 52.9 L957.6 53.6 L959.1 54.2 L960.6 54.7 L962.1 55.1 L963.6 55.5 L965.1 55.9 L966.5 56.3 L968 56.6 L969.5 56.8 L971 57 L972.5 57.2 L973.9 57.4 L975.4 57.5 L976.9 57.6 L978.4 57.6 L979.9 57.6 L981.4 57.5 L982.8 57.4 L984.3 57.2 L985.8 57 L987.3 56.8 L988.8 56.6 L990.2 56.3 L991.7 55.9 L993.2 55.5 L994.7 55.1 L996.2 54.7 L997.6 54.3 L999.1 53.8 L1000.6 53.3 L1002.1 52.8 L1003.6 52.3 L1005.1 51.7 L1006.5 51.2 L1008 50.7 L1009.5 50.1 L1011 49.6 L1012.5 49 L1013.9 48.5 L1015.4 48 L1016.9 47.5 L1018.4 47 L1019.9 46.6 L1021.4 46.2 L1022.8 45.8 L1024.3 45.4 L1025.8 45.1 L1027.3 44.8 L1028.8 44.5 L1030.2 44.3 L1031.7 44.1 L1033.2 43.9 L1034.7 43.8 L1036.2 43.8 L1037.7 43.7 L1039.1 43.8 L1040.6 43.8 L1042.1 43.9 L1043.6 44.1 L1045.1 44.3 L1046.5 44.5 L1048 44.8 L1049.5 45.1 L1051 45.4 L1052.5 45.8 L1053.9 46.2 L1055.4 46.6 L1056.9 47 L1058.4 47.5 L1059.9 48 L1061.4 48.5 L1062.8 49 L1064.3 49.6 L1065.8 50.1 L1067.3 50.7 L1068.8 51.2 L1070.2 51.7 L1071.7 52.3 L1073.2 52.8 L1074.7 53.3 L1076.2 53.8 L1077.7 54.3 L1079.1 54.7 L1080.6 55.1 L1082.1 55.5 L1083.6 55.9 L1085.1 56.3 L1086.5 56.6 L1088 56.8 L1089.5 57 L1091 57.2 L1092.5 57.4 L1093.9 57.5 L1095.4 57.6 L1096.9 57.6 M889.5 47.5 L891 47.5 L892.5 47.5 L893.9 47.5 L895.4 47.5 L896.9 47.5 L898.4 47.5 L899.9 47.5 L901.4 47.5 L902.8 47.5 L904.3 47.5 L905.8 47.5 L907.3 47.5 L908.8 47.5 L910.2 47.5 L911.7 47.5 L913.2 47.5 L914.7 47.5 L916.2 47.5 L917.6 47.5 L919.1 47.5 L920.6 47.5 L922.1 47.5 L923.6 47.5 L925.1 47.5 L926.5 47.5 L928 47.5 L929.5 47.5 L931 47.5 L932.5 47.5 L933.9 47.5 L935.4 47.5 L936.9 47.5 L938.4 47.5 L939.9 47.5 L941.4 47.5 L942.8 47.5 L944.3 47.5 L945.8 47.5 L947.3 47.5 L948.8 47.5 L950.2 47.7 L951.7 47.9 L953.2 48.4 L954.7 48.9 L956.2 49.6 L957.6 50.3 L959.1 50.9 L960.6 51.3 L962.1 51.7 L963.6 52.1 L965.1 52.4 L966.5 52.8 L968 53 L969.5 53.3 L971 53.5 L972.5 53.7 L973.9 53.8 L975.4 53.9 L976.9 54 L978.4 54 L979.9 54 L981.4 53.9 L982.8 53.8 L984.3 53.7 L985.8 53.5 L987.3 53.3 L988.8 53 L990.2 52.8 L991.7 52.4 L993.2 52.1 L994.7 51.7 L996.2 51.3 L997.6 50.9 L999.1 50.5 L1000.6 50 L1002.1 49.5 L1003.6 49 L1005.1 48.5 L1006.5 48 L1008 47.5 L1009.5 47 L1011 46.5 L1012.5 46 L1013.9 45.5 L1015.4 45.1 L1016.9 44.6 L1018.4 44.2 L1019.9 43.7 L1021.4 43.3 L1022.8 43 L1024.3 42.6 L1025.8 42.3 L1027.3 42 L1028.8 41.8 L1030.2 41.6 L1031.7 41.4 L1033.2 41.2 L1034.7 41.1 L1036.2 41.1 L1037.7 41.1 L1039.1 41.1 L1040.6 41.1 L1042.1 41.2 L1043.6 41.4 L1045.1 41.6 L1046.5 41.8 L1048 42 L1049.5 42.3 L1051 42.6 L1052.5 43 L1053.9 43.3 L1055.4 43.7 L1056.9 44.2 L1058.4 44.6 L1059.9 45.1 L1061.4 45.5 L1062.8 46 L1064.3 46.5 L1065.8 47 L1067.3 47.5 L1068.8 48 L1070.2 48.5 L1071.7 49 L1073.2 49.5 L1074.7 50 L1076.2 50.5 L1077.7 50.9 L1079.1 51.3 L1080.6 51.7 L1082.1 52.1 L1083.6 52.4 L1085.1 52.8 L1086.5 53 L1088 53.3 L1089.5 53.5 L1091 53.7 L1092.5 53.8 L1093.9 53.9 L1095.4 54 L1096.9 54 M889.5 44.3 L891 44.3 L892.5 44.3 L893.9 44.3 L895.4 44.3 L896.9 44.3 L898.4 44.3 L899.9 44.3 L901.4 44.3 L902.8 44.3 L904.3 44.3 L905.8 44.3 L907.3 44.3 L908.8 44.3 L910.2 44.3 L911.7 44.3 L913.2 44.3 L914.7 44.3 L916.2 44.3 L917.6 44.3 L919.1 44.3 L920.6 44.3 L922.1 44.3 L923.6 44.3 L925.1 44.3 L926.5 44.3 L928 44.3 L929.5 44.3 L931 44.3 L932.5 44.3 L933.9 44.3 L935.4 44.3 L936.9 44.3 L938.4 44.3 L939.9 44.3 L941.4 44.3 L942.8 44.3 L944.3 44.3 L945.8 44.3 L947.3 44.3 L948.8 44.3 L950.2 44.5 L951.7 44.7 L953.2 45.1 L954.7 45.6 L956.2 46.2 L957.6 46.9 L959.1 47.4 L960.6 47.9 L962.1 48.2 L963.6 48.6 L965.1 48.9 L966.5 49.2 L968 49.5 L969.5 49.7 L971 49.9 L972.5 50.1 L973.9 50.2 L975.4 50.3 L976.9 50.3 L978.4 50.3 L979.9 50.3 L981.4 50.3 L982.8 50.2 L984.3 50.1 L985.8 49.9 L987.3 49.7 L988.8 49.5 L990.2 49.2 L991.7 48.9 L993.2 48.6 L994.7 48.2 L996.2 47.9 L997.6 47.5 L999.1 47.1 L1000.6 46.6 L1002.1 46.2 L1003.6 45.7 L1005.1 45.3 L1006.5 44.8 L1008 44.3 L1009.5 43.9 L1011 43.4 L1012.5 42.9 L1013.9 42.5 L1015.4 42 L1016.9 41.6 L1018.4 41.2 L1019.9 40.8 L1021.4 40.4 L1022.8 40.1 L1024.3 39.8 L1025.8 39.5 L1027.3 39.2 L1028.8 39 L1030.2 38.8 L1031.7 38.6 L1033.2 38.5 L1034.7 38.4 L1036.2 38.3 L1037.7 38.3 L1039.1 38.3 L1040.6 38.4 L1042.1 38.5 L1043.6 38.6 L1045.1 38.8 L1046.5 39 L1048 39.2 L1049.5 39.5 L1051 39.8 L1052.5 40.1 L1053.9 40.4 L1055.4 40.8 L1056.9 41.2 L1058.4 41.6 L1059.9 42 L1061.4 42.5 L1062.8 42.9 L1064.3 43.4 L1065.8 43.9 L1067.3 44.3 L1068.8 44.8 L1070.2 45.3 L1071.7 45.7 L1073.2 46.2 L1074.7 46.6 L1076.2 47.1 L1077.7 47.5 L1079.1 47.9 L1080.6 48.2 L1082.1 48.6 L1083.6 48.9 L1085.1 49.2 L1086.5 49.5 L1088 49.7 L1089.5 49.9 L1091 50.1 L1092.5 50.2 L1093.9 50.3 L1095.4 50.3 L1096.9 50.3 M889.5 41.1 L891 41.1 L892.5 41.1 L893.9 41.1 L895.4 41.1 L896.9 41.1 L898.4 41.1 L899.9 41.1 L901.4 41.1 L902.8 41.1 L904.3 41.1 L905.8 41.1 L907.3 41.1 L908.8 41.1 L910.2 41.1 L911.7 41.1 L913.2 41.1 L914.7 41.1 L916.2 41.1 L917.6 41.1 L919.1 41.1 L920.6 41.1 L922.1 41.1 L923.6 41.1 L925.1 41.1 L926.5 41.1 L928 41.1 L929.5 41.1 L931 41.1 L932.5 41.1 L933.9 41.1 L935.4 41.1 L936.9 41.1 L938.4 41.1 L939.9 41.1 L941.4 41.1 L942.8 41.1 L944.3 41.1 L945.8 41.1 L947.3 41.1 L948.8 41.1 L950.2 41.2 L951.7 41.4 L953.2 41.8 L954.7 42.3 L956.2 42.8 L957.6 43.4 L959.1 43.9 L960.6 44.3 L962.1 44.7 L963.6 45 L965.1 45.3 L966.5 45.6 L968 45.8 L969.5 46 L971 46.2 L972.5 46.3 L973.9 46.5 L975.4 46.5 L976.9 46.6 L978.4 46.6 L979.9 46.6 L981.4 46.5 L982.8 46.5 L984.3 46.3 L985.8 46.2 L987.3 46 L988.8 45.8 L990.2 45.6 L991.7 45.3 L993.2 45 L994.7 44.7 L996.2 44.3 L997.6 44 L999.1 43.6 L1000.6 43.2 L1002.1 42.8 L1003.6 42.4 L1005.1 41.9 L1006.5 41.5 L1008 41.1 L1009.5 40.6 L1011 40.2 L1012.5 39.8 L1013.9 39.4 L1015.4 39 L1016.9 38.6 L1018.4 38.2 L1019.9 37.8 L1021.4 37.5 L1022.8 37.2 L1024.3 36.9 L1025.8 36.6 L1027.3 36.4 L1028.8 36.1 L1030.2 36 L1031.7 35.8 L1033.2 35.7 L1034.7 35.6 L1036.2 35.6 L1037.7 35.5 L1039.1 35.6 L1040.6 35.6 L1042.1 35.7 L1043.6 35.8 L1045.1 36 L1046.5 36.1 L1048 36.4 L1049.5 36.6 L1051 36.9 L1052.5 37.2 L1053.9 37.5 L1055.4 37.8 L1056.9 38.2 L1058.4 38.6 L1059.9 39 L1061.4 39.4 L1062.8 39.8 L1064.3 40.2 L1065.8 40.6 L1067.3 41.1 L1068.8 41.5 L1070.2 41.9 L1071.7 42.4 L1073.2 42.8 L1074.7 43.2 L1076.2 43.6 L1077.7 44 L1079.1 44.3 L1080.6 44.7 L1082.1 45 L1083.6 45.3 L1085.1 45.6 L1086.5 45.8 L1088 46 L1089.5 46.2 L1091 46.3 L1092.5 46.5 L1093.9 46.5 L1095.4 46.6 L1096.9 46.6 M889.5 37.8 L891 37.8 L892.5 37.8 L893.9 37.8 L895.4 37.8 L896.9 37.8 L898.4 37.8 L899.9 37.8 L901.4 37.8 L902.8 37.8 L904.3 37.8 L905.8 37.8 L907.3 37.8 L908.8 37.8 L910.2 37.8 L911.7 37.8 L913.2 37.8 L914.7 37.8 L916.2 37.8 L917.6 37.8 L919.1 37.8 L920.6 37.8 L922.1 37.8 L923.6 37.8 L925.1 37.8 L926.5 37.8 L928 37.8 L929.5 37.8 L931 37.8 L932.5 37.8 L933.9 37.8 L935.4 37.8 L936.9 37.8 L938.4 37.8 L939.9 37.8 L941.4 37.8 L942.8 37.8 L944.3 37.8 L945.8 37.8 L947.3 37.8 L948.8 37.8 L950.2 37.9 L951.7 38.1 L953.2 38.4 L954.7 38.9 L956.2 39.4 L957.6 39.9 L959.1 40.4 L960.6 40.7 L962.1 41 L963.6 41.3 L965.1 41.6 L966.5 41.9 L968 42.1 L969.5 42.3 L971 42.4 L972.5 42.6 L973.9 42.7 L975.4 42.8 L976.9 42.8 L978.4 42.8 L979.9 42.8 L981.4 42.8 L982.8 42.7 L984.3 42.6 L985.8 42.4 L987.3 42.3 L988.8 42.1 L990.2 41.9 L991.7 41.6 L993.2 41.3 L994.7 41 L996.2 40.7 L997.6 40.4 L999.1 40.1 L1000.6 39.7 L1002.1 39.3 L1003.6 38.9 L1005.1 38.5 L1006.5 38.2 L1008 37.8 L1009.5 37.4 L1011 37 L1012.5 36.6 L1013.9 36.2 L1015.4 35.8 L1016.9 35.5 L1018.4 35.1 L1019.9 34.8 L1021.4 34.5 L1022.8 34.2 L1024.3 33.9 L1025.8 33.7 L1027.3 33.4 L1028.8 33.2 L1030.2 33.1 L1031.7 32.9 L1033.2 32.8 L1034.7 32.8 L1036.2 32.7 L1037.7 32.7 L1039.1 32.7 L1040.6 32.8 L1042.1 32.8 L1043.6 32.9 L1045.1 33.1 L1046.5 33.2 L1048 33.4 L1049.5 33.7 L1051 33.9 L1052.5 34.2 L1053.9 34.5 L1055.4 34.8 L1056.9 35.1 L1058.4 35.5 L1059.9 35.8 L1061.4 36.2 L1062.8 36.6 L1064.3 37 L1065.8 37.4 L1067.3 37.8 L1068.8 38.2 L1070.2 38.5 L1071.7 38.9 L1073.2 39.3 L1074.7 39.7 L1076.2 40.1 L1077.7 40.4 L1079.1 40.7 L1080.6 41 L1082.1 41.3 L1083.6 41.6 L1085.1 41.9 L1086.5 42.1 L1088 42.3 L1089.5 42.4 L1091 42.6 L1092.5 42.7 L1093.9 42.8 L1095.4 42.8 L1096.9 42.8 M889.5 34.4 L891 34.4 L892.5 34.4 L893.9 34.4 L895.4 34.4 L896.9 34.4 L898.4 34.4 L899.9 34.4 L901.4 34.4 L902.8 34.4 L904.3 34.4 L905.8 34.4 L907.3 34.4 L908.8 34.4 L910.2 34.4 L911.7 34.4 L913.2 34.4 L914.7 34.4 L916.2 34.4 L917.6 34.4 L919.1 34.4 L920.6 34.4 L922.1 34.4 L923.6 34.4 L925.1 34.4 L926.5 34.4 L928 34.4 L929.5 34.4 L931 34.4 L932.5 34.4 L933.9 34.4 L935.4 34.4 L936.9 34.4 L938.4 34.4 L939.9 34.4 L941.4 34.4 L942.8 34.4 L944.3 34.4 L945.8 34.4 L947.3 34.4 L948.8 34.4 L950.2 34.5 L951.7 34.7 L953.2 35 L954.7 35.4 L956.2 35.8 L957.6 36.3 L959.1 36.7 L960.6 37.1 L962.1 37.3 L963.6 37.6 L965.1 37.9 L966.5 38.1 L968 38.3 L969.5 38.5 L971 38.6 L972.5 38.7 L973.9 38.8 L975.4 38.9 L976.9 38.9 L978.4 39 L979.9 38.9 L981.4 38.9 L982.8 38.8 L984.3 38.7 L985.8 38.6 L987.3 38.5 L988.8 38.3 L990.2 38.1 L991.7 37.9 L993.2 37.6 L994.7 37.3 L996.2 37.1 L997.6 36.8 L999.1 36.5 L1000.6 36.1 L1002.1 35.8 L1003.6 35.4 L1005.1 35.1 L1006.5 34.7 L1008 34.4 L1009.5 34 L1011 33.7 L1012.5 33.3 L1013.9 33 L1015.4 32.6 L1016.9 32.3 L1018.4 32 L1019.9 31.7 L1021.4 31.4 L1022.8 31.1 L1024.3 30.9 L1025.8 30.7 L1027.3 30.5 L1028.8 30.3 L1030.2 30.1 L1031.7 30 L1033.2 29.9 L1034.7 29.9 L1036.2 29.8 L1037.7 29.8 L1039.1 29.8 L1040.6 29.9 L1042.1 29.9 L1043.6 30 L1045.1 30.1 L1046.5 30.3 L1048 30.5 L1049.5 30.7 L1051 30.9 L1052.5 31.1 L1053.9 31.4 L1055.4 31.7 L1056.9 32 L1058.4 32.3 L1059.9 32.6 L1061.4 33 L1062.8 33.3 L1064.3 33.7 L1065.8 34 L1067.3 34.4 L1068.8 34.7 L1070.2 35.1 L1071.7 35.4 L1073.2 35.8 L1074.7 36.1 L1076.2 36.5 L1077.7 36.8 L1079.1 37.1 L1080.6 37.3 L1082.1 37.6 L1083.6 37.9 L1085.1 38.1 L1086.5 38.3 L1088 38.5 L1089.5 38.6 L1091 38.7 L1092.5 38.8 L1093.9 38.9 L1095.4 38.9 L1096.9 39 M889.5 30.9 L891 30.9 L892.5 30.9 L893.9 30.9 L895.4 30.9 L896.9 30.9 L898.4 30.9 L899.9 30.9 L901.4 30.9 L902.8 30.9 L904.3 30.9 L905.8 30.9 L907.3 30.9 L908.8 30.9 L910.2 30.9 L911.7 30.9 L913.2 30.9 L914.7 30.9 L916.2 30.9 L917.6 30.9 L919.1 30.9 L920.6 30.9 L922.1 30.9 L923.6 30.9 L925.1 30.9 L926.5 30.9 L928 30.9 L929.5 30.9 L931 30.9 L932.5 30.9 L933.9 30.9 L935.4 30.9 L936.9 30.9 L938.4 30.9 L939.9 30.9 L941.4 30.9 L942.8 30.9 L944.3 30.9 L945.8 30.9 L947.3 30.9 L948.8 30.9 L950.2 31 L951.7 31.2 L953.2 31.5 L954.7 31.8 L956.2 32.2 L957.6 32.7 L959.1 33 L960.6 33.3 L962.1 33.6 L963.6 33.8 L965.1 34 L966.5 34.2 L968 34.4 L969.5 34.6 L971 34.7 L972.5 34.8 L973.9 34.9 L975.4 35 L976.9 35 L978.4 35 L979.9 35 L981.4 35 L982.8 34.9 L984.3 34.8 L985.8 34.7 L987.3 34.6 L988.8 34.4 L990.2 34.2 L991.7 34 L993.2 33.8 L994.7 33.6 L996.2 33.3 L997.6 33.1 L999.1 32.8 L1000.6 32.5 L1002.1 32.2 L1003.6 31.9 L1005.1 31.6 L1006.5 31.3 L1008 30.9 L1009.5 30.6 L1011 30.3 L1012.5 30 L1013.9 29.7 L1015.4 29.4 L1016.9 29.1 L1018.4 28.8 L1019.9 28.5 L1021.4 28.3 L1022.8 28 L1024.3 27.8 L1025.8 27.6 L1027.3 27.5 L1028.8 27.3 L1030.2 27.2 L1031.7 27.1 L1033.2 27 L1034.7 26.9 L1036.2 26.9 L1037.7 26.9 L1039.1 26.9 L1040.6 26.9 L1042.1 27 L1043.6 27.1 L1045.1 27.2 L1046.5 27.3 L1048 27.5 L1049.5 27.6 L1051 27.8 L1052.5 28 L1053.9 28.3 L1055.4 28.5 L1056.9 28.8 L1058.4 29.1 L1059.9 29.4 L1061.4 29.7 L1062.8 30 L1064.3 30.3 L1065.8 30.6 L1067.3 30.9 L1068.8 31.3 L1070.2 31.6 L1071.7 31.9 L1073.2 32.2 L1074.7 32.5 L1076.2 32.8 L1077.7 33.1 L1079.1 33.3 L1080.6 33.6 L1082.1 33.8 L1083.6 34 L1085.1 34.2 L1086.5 34.4 L1088 34.6 L1089.5 34.7 L1091 34.8 L1092.5 34.9 L1093.9 35 L1095.4 35 L1096.9 35 M889.5 27.4 L891 27.4 L892.5 27.4 L893.9 27.4 L895.4 27.4 L896.9 27.4 L898.4 27.4 L899.9 27.4 L901.4 27.4 L902.8 27.4 L904.3 27.4 L905.8 27.4 L907.3 27.4 L908.8 27.4 L910.2 27.4 L911.7 27.4 L913.2 27.4 L914.7 27.4 L916.2 27.4 L917.6 27.4 L919.1 27.4 L920.6 27.4 L922.1 27.4 L923.6 27.4 L925.1 27.4 L926.5 27.4 L928 27.4 L929.5 27.4 L931 27.4 L932.5 27.4 L933.9 27.4 L935.4 27.4 L936.9 27.4 L938.4 27.4 L939.9 27.4 L941.4 27.4 L942.8 27.4 L944.3 27.4 L945.8 27.4 L947.3 27.4 L948.8 27.4 L950.2 27.5 L951.7 27.7 L953.2 27.9 L954.7 28.2 L956.2 28.6 L957.6 29 L959.1 29.3 L960.6 29.6 L962.1 29.8 L963.6 30 L965.1 30.2 L966.5 30.3 L968 30.5 L969.5 30.6 L971 30.8 L972.5 30.9 L973.9 30.9 L975.4 31 L976.9 31 L978.4 31 L979.9 31 L981.4 31 L982.8 30.9 L984.3 30.9 L985.8 30.8 L987.3 30.6 L988.8 30.5 L990.2 30.3 L991.7 30.2 L993.2 30 L994.7 29.8 L996.2 29.6 L997.6 29.3 L999.1 29.1 L1000.6 28.8 L1002.1 28.6 L1003.6 28.3 L1005.1 28 L1006.5 27.7 L1008 27.4 L1009.5 27.2 L1011 26.9 L1012.5 26.6 L1013.9 26.3 L1015.4 26.1 L1016.9 25.8 L1018.4 25.6 L1019.9 25.3 L1021.4 25.1 L1022.8 24.9 L1024.3 24.7 L1025.8 24.5 L1027.3 24.4 L1028.8 24.3 L1030.2 24.1 L1031.7 24 L1033.2 24 L1034.7 23.9 L1036.2 23.9 L1037.7 23.9 L1039.1 23.9 L1040.6 23.9 L1042.1 24 L1043.6 24 L1045.1 24.1 L1046.5 24.3 L1048 24.4 L1049.5 24.5 L1051 24.7 L1052.5 24.9 L1053.9 25.1 L1055.4 25.3 L1056.9 25.6 L1058.4 25.8 L1059.9 26.1 L1061.4 26.3 L1062.8 26.6 L1064.3 26.9 L1065.8 27.2 L1067.3 27.4 L1068.8 27.7 L1070.2 28 L1071.7 28.3 L1073.2 28.6 L1074.7 28.8 L1076.2 29.1 L1077.7 29.3 L1079.1 29.6 L1080.6 29.8 L1082.1 30 L1083.6 30.2 L1085.1 30.3 L1086.5 30.5 L1088 30.6 L1089.5 30.8 L1091 30.9 L1092.5 30.9 L1093.9 31 L1095.4 31 L1096.9 31 M889.5 23.9 L891 23.9 L892.5 23.9 L893.9 23.9 L895.4 23.9 L896.9 23.9 L898.4 23.9 L899.9 23.9 L901.4 23.9 L902.8 23.9 L904.3 23.9 L905.8 23.9 L907.3 23.9 L908.8 23.9 L910.2 23.9 L911.7 23.9 L913.2 23.9 L914.7 23.9 L916.2 23.9 L917.6 23.9 L919.1 23.9 L920.6 23.9 L922.1 23.9 L923.6 23.9 L925.1 23.9 L926.5 23.9 L928 23.9 L929.5 23.9 L931 23.9 L932.5 23.9 L933.9 23.9 L935.4 23.9 L936.9 23.9 L938.4 23.9 L939.9 23.9 L941.4 23.9 L942.8 23.9 L944.3 23.9 L945.8 23.9 L947.3 23.9 L948.8 23.9 L950.2 24 L951.7 24.1 L953.2 24.3 L954.7 24.6 L956.2 24.9 L957.6 25.2 L959.1 25.5 L960.6 25.7 L962.1 25.9 L963.6 26.1 L965.1 26.2 L966.5 26.4 L968 26.5 L969.5 26.6 L971 26.7 L972.5 26.8 L973.9 26.9 L975.4 26.9 L976.9 27 L978.4 27 L979.9 27 L981.4 26.9 L982.8 26.9 L984.3 26.8 L985.8 26.7 L987.3 26.6 L988.8 26.5 L990.2 26.4 L991.7 26.2 L993.2 26.1 L994.7 25.9 L996.2 25.7 L997.6 25.5 L999.1 25.3 L1000.6 25.1 L1002.1 24.9 L1003.6 24.6 L1005.1 24.4 L1006.5 24.1 L1008 23.9 L1009.5 23.7 L1011 23.4 L1012.5 23.2 L1013.9 23 L1015.4 22.7 L1016.9 22.5 L1018.4 22.3 L1019.9 22.1 L1021.4 21.9 L1022.8 21.7 L1024.3 21.6 L1025.8 21.4 L1027.3 21.3 L1028.8 21.2 L1030.2 21.1 L1031.7 21 L1033.2 20.9 L1034.7 20.9 L1036.2 20.8 L1037.7 20.8 L1039.1 20.8 L1040.6 20.9 L1042.1 20.9 L1043.6 21 L1045.1 21.1 L1046.5 21.2 L1048 21.3 L1049.5 21.4 L1051 21.6 L1052.5 21.7 L1053.9 21.9 L1055.4 22.1 L1056.9 22.3 L1058.4 22.5 L1059.9 22.7 L1061.4 23 L1062.8 23.2 L1064.3 23.4 L1065.8 23.7 L1067.3 23.9 L1068.8 24.1 L1070.2 24.4 L1071.7 24.6 L1073.2 24.9 L1074.7 25.1 L1076.2 25.3 L1077.7 25.5 L1079.1 25.7 L1080.6 25.9 L1082.1 26.1 L1083.6 26.2 L1085.1 26.4 L1086.5 26.5 L1088 26.6 L1089.5 26.7 L1091 26.8 L1092.5 26.9 L1093.9 26.9 L1095.4 27 L1096.9 27 M889.5 20.3 L891 20.3 L892.5 20.3 L893.9 20.3 L895.4 20.3 L896.9 20.3 L898.4 20.3 L899.9 20.3 L901.4 20.3 L902.8 20.3 L904.3 20.3 L905.8 20.3 L907.3 20.3 L908.8 20.3 L910.2 20.3 L911.7 20.3 L913.2 20.3 L914.7 20.3 L916.2 20.3 L917.6 20.3 L919.1 20.3 L920.6 20.3 L922.1 20.3 L923.6 20.3 L925.1 20.3 L926.5 20.3 L928 20.3 L929.5 20.3 L931 20.3 L932.5 20.3 L933.9 20.3 L935.4 20.3 L936.9 20.3 L938.4 20.3 L939.9 20.3 L941.4 20.3 L942.8 20.3 L944.3 20.3 L945.8 20.3 L947.3 20.3 L948.8 20.3 L950.2 20.4 L951.7 20.5 L953.2 20.6 L954.7 20.9 L956.2 21.1 L957.6 21.4 L959.1 21.6 L960.6 21.8 L962.1 22 L963.6 22.1 L965.1 22.3 L966.5 22.4 L968 22.5 L969.5 22.6 L971 22.7 L972.5 22.7 L973.9 22.8 L975.4 22.8 L976.9 22.9 L978.4 22.9 L979.9 22.9 L981.4 22.8 L982.8 22.8 L984.3 22.7 L985.8 22.7 L987.3 22.6 L988.8 22.5 L990.2 22.4 L991.7 22.3 L993.2 22.1 L994.7 22 L996.2 21.8 L997.6 21.7 L999.1 21.5 L1000.6 21.3 L1002.1 21.1 L1003.6 20.9 L1005.1 20.7 L1006.5 20.5 L1008 20.3 L1009.5 20.1 L1011 19.9 L1012.5 19.7 L1013.9 19.5 L1015.4 19.3 L1016.9 19.2 L1018.4 19 L1019.9 18.8 L1021.4 18.7 L1022.8 18.5 L1024.3 18.4 L1025.8 18.2 L1027.3 18.1 L1028.8 18 L1030.2 17.9 L1031.7 17.9 L1033.2 17.8 L1034.7 17.8 L1036.2 17.8 L1037.7 17.8 L1039.1 17.8 L1040.6 17.8 L1042.1 17.8 L1043.6 17.9 L1045.1 17.9 L1046.5 18 L1048 18.1 L1049.5 18.2 L1051 18.4 L1052.5 18.5 L1053.9 18.7 L1055.4 18.8 L1056.9 19 L1058.4 19.2 L1059.9 19.3 L1061.4 19.5 L1062.8 19.7 L1064.3 19.9 L1065.8 20.1 L1067.3 20.3 L1068.8 20.5 L1070.2 20.7 L1071.7 20.9 L1073.2 21.1 L1074.7 21.3 L1076.2 21.5 L1077.7 21.7 L1079.1 21.8 L1080.6 22 L1082.1 22.1 L1083.6 22.3 L1085.1 22.4 L1086.5 22.5 L1088 22.6 L1089.5 22.7 L1091 22.7 L1092.5 22.8 L1093.9 22.8 L1095.4 22.9 L1096.9 22.9 M889.5 16.7 L891 16.7 L892.5 16.7 L893.9 16.7 L895.4 16.7 L896.9 16.7 L898.4 16.7 L899.9 16.7 L901.4 16.7 L902.8 16.7 L904.3 16.7 L905.8 16.7 L907.3 16.7 L908.8 16.7 L910.2 16.7 L911.7 16.7 L913.2 16.7 L914.7 16.7 L916.2 16.7 L917.6 16.7 L919.1 16.7 L920.6 16.7 L922.1 16.7 L923.6 16.7 L925.1 16.7 L926.5 16.7 L928 16.7 L929.5 16.7 L931 16.7 L932.5 16.7 L933.9 16.7 L935.4 16.7 L936.9 16.7 L938.4 16.7 L939.9 16.7 L941.4 16.7 L942.8 16.7 L944.3 16.7 L945.8 16.7 L947.3 16.7 L948.8 16.7 L950.2 16.7 L951.7 16.8 L953.2 16.9 L954.7 17.1 L956.2 17.3 L957.6 17.5 L959.1 17.7 L960.6 17.9 L962.1 18 L963.6 18.1 L965.1 18.2 L966.5 18.3 L968 18.4 L969.5 18.5 L971 18.6 L972.5 18.6 L973.9 18.7 L975.4 18.7 L976.9 18.7 L978.4 18.7 L979.9 18.7 L981.4 18.7 L982.8 18.7 L984.3 18.6 L985.8 18.6 L987.3 18.5 L988.8 18.4 L990.2 18.3 L991.7 18.2 L993.2 18.1 L994.7 18 L996.2 17.9 L997.6 17.7 L999.1 17.6 L1000.6 17.5 L1002.1 17.3 L1003.6 17.2 L1005.1 17 L1006.5 16.8 L1008 16.7 L1009.5 16.5 L1011 16.4 L1012.5 16.2 L1013.9 16 L1015.4 15.9 L1016.9 15.8 L1018.4 15.6 L1019.9 15.5 L1021.4 15.4 L1022.8 15.2 L1024.3 15.1 L1025.8 15 L1027.3 14.9 L1028.8 14.9 L1030.2 14.8 L1031.7 14.7 L1033.2 14.7 L1034.7 14.7 L1036.2 14.6 L1037.7 14.6 L1039.1 14.6 L1040.6 14.7 L1042.1 14.7 L1043.6 14.7 L1045.1 14.8 L1046.5 14.9 L1048 14.9 L1049.5 15 L1051 15.1 L1052.5 15.2 L1053.9 15.4 L1055.4 15.5 L1056.9 15.6 L1058.4 15.8 L1059.9 15.9 L1061.4 16 L1062.8 16.2 L1064.3 16.4 L1065.8 16.5 L1067.3 16.7 L1068.8 16.8 L1070.2 17 L1071.7 17.2 L1073.2 17.3 L1074.7 17.5 L1076.2 17.6 L1077.7 17.7 L1079.1 17.9 L1080.6 18 L1082.1 18.1 L1083.6 18.2 L1085.1 18.3 L1086.5 18.4 L1088 18.5 L1089.5 18.6 L1091 18.6 L1092.5 18.7 L1093.9 18.7 L1095.4 18.7 L1096.9 18.7 M889.5 13 L891 13 L892.5 13 L893.9 13 L895.4 13 L896.9 13 L898.4 13 L899.9 13 L901.4 13 L902.8 13 L904.3 13 L905.8 13 L907.3 13 L908.8 13 L910.2 13 L911.7 13 L913.2 13 L914.7 13 L916.2 13 L917.6 13 L919.1 13 L920.6 13 L922.1 13 L923.6 13 L925.1 13 L926.5 13 L928 13 L929.5 13 L931 13 L932.5 13 L933.9 13 L935.4 13 L936.9 13 L938.4 13 L939.9 13 L941.4 13 L942.8 13 L944.3 13 L945.8 13 L947.3 13 L948.8 13 L950.2 13 L951.7 13.1 L953.2 13.2 L954.7 13.3 L956.2 13.5 L957.6 13.6 L959.1 13.8 L960.6 13.9 L962.1 14 L963.6 14.1 L965.1 14.1 L966.5 14.2 L968 14.3 L969.5 14.3 L971 14.4 L972.5 14.4 L973.9 14.5 L975.4 14.5 L976.9 14.5 L978.4 14.5 L979.9 14.5 L981.4 14.5 L982.8 14.5 L984.3 14.4 L985.8 14.4 L987.3 14.3 L988.8 14.3 L990.2 14.2 L991.7 14.1 L993.2 14.1 L994.7 14 L996.2 13.9 L997.6 13.8 L999.1 13.7 L1000.6 13.6 L1002.1 13.5 L1003.6 13.4 L1005.1 13.2 L1006.5 13.1 L1008 13 L1009.5 12.9 L1011 12.8 L1012.5 12.6 L1013.9 12.5 L1015.4 12.4 L1016.9 12.3 L1018.4 12.2 L1019.9 12.1 L1021.4 12 L1022.8 11.9 L1024.3 11.9 L1025.8 11.8 L1027.3 11.7 L1028.8 11.7 L1030.2 11.6 L1031.7 11.6 L1033.2 11.5 L1034.7 11.5 L1036.2 11.5 L1037.7 11.5 L1039.1 11.5 L1040.6 11.5 L1042.1 11.5 L1043.6 11.6 L1045.1 11.6 L1046.5 11.7 L1048 11.7 L1049.5 11.8 L1051 11.9 L1052.5 11.9 L1053.9 12 L1055.4 12.1 L1056.9 12.2 L1058.4 12.3 L1059.9 12.4 L1061.4 12.5 L1062.8 12.6 L1064.3 12.8 L1065.8 12.9 L1067.3 13 L1068.8 13.1 L1070.2 13.2 L1071.7 13.4 L1073.2 13.5 L1074.7 13.6 L1076.2 13.7 L1077.7 13.8 L1079.1 13.9 L1080.6 14 L1082.1 14.1 L1083.6 14.1 L1085.1 14.2 L1086.5 14.3 L1088 14.3 L1089.5 14.4 L1091 14.4 L1092.5 14.5 L1093.9 14.5 L1095.4 14.5 L1096.9 14.5 M889.5 9.3 L891 9.3 L892.5 9.3 L893.9 9.3 L895.4 9.3 L896.9 9.3 L898.4 9.3 L899.9 9.3 L901.4 9.3 L902.8 9.3 L904.3 9.3 L905.8 9.3 L907.3 9.3 L908.8 9.3 L910.2 9.3 L911.7 9.3 L913.2 9.3 L914.7 9.3 L916.2 9.3 L917.6 9.3 L919.1 9.3 L920.6 9.3 L922.1 9.3 L923.6 9.3 L925.1 9.3 L926.5 9.3 L928 9.3 L929.5 9.3 L931 9.3 L932.5 9.3 L933.9 9.3 L935.4 9.3 L936.9 9.3 L938.4 9.3 L939.9 9.3 L941.4 9.3 L942.8 9.3 L944.3 9.3 L945.8 9.3 L947.3 9.3 L948.8 9.3 L950.2 9.3 L951.7 9.3 L953.2 9.4 L954.7 9.5 L956.2 9.6 L957.6 9.7 L959.1 9.8 L960.6 9.9 L962.1 9.9 L963.6 10 L965.1 10 L966.5 10.1 L968 10.1 L969.5 10.2 L971 10.2 L972.5 10.2 L973.9 10.2 L975.4 10.2 L976.9 10.3 L978.4 10.3 L979.9 10.3 L981.4 10.2 L982.8 10.2 L984.3 10.2 L985.8 10.2 L987.3 10.2 L988.8 10.1 L990.2 10.1 L991.7 10 L993.2 10 L994.7 9.9 L996.2 9.9 L997.6 9.8 L999.1 9.7 L1000.6 9.7 L1002.1 9.6 L1003.6 9.5 L1005.1 9.4 L1006.5 9.4 L1008 9.3 L1009.5 9.2 L1011 9.1 L1012.5 9.1 L1013.9 9 L1015.4 8.9 L1016.9 8.8 L1018.4 8.8 L1019.9 8.7 L1021.4 8.7 L1022.8 8.6 L1024.3 8.5 L1025.8 8.5 L1027.3 8.5 L1028.8 8.4 L1030.2 8.4 L1031.7 8.4 L1033.2 8.3 L1034.7 8.3 L1036.2 8.3 L1037.7 8.3 L1039.1 8.3 L1040.6 8.3 L1042.1 8.3 L1043.6 8.4 L1045.1 8.4 L1046.5 8.4 L1048 8.5 L1049.5 8.5 L1051 8.5 L1052.5 8.6 L1053.9 8.7 L1055.4 8.7 L1056.9 8.8 L1058.4 8.8 L1059.9 8.9 L1061.4 9 L1062.8 9.1 L1064.3 9.1 L1065.8 9.2 L1067.3 9.3 L1068.8 9.4 L1070.2 9.4 L1071.7 9.5 L1073.2 9.6 L1074.7 9.7 L1076.2 9.7 L1077.7 9.8 L1079.1 9.9 L1080.6 9.9 L1082.1 10 L1083.6 10 L1085.1 10.1 L1086.5 10.1 L1088 10.2 L1089.5 10.2 L1091 10.2 L1092.5 10.2 L1093.9 10.2 L1095.4 10.3 L1096.9 10.3 M889.5 5.5 L891 5.5 L892.5 5.5 L893.9 5.5 L895.4 5.5 L896.9 5.5 L898.4 5.5 L899.9 5.5 L901.4 5.5 L902.8 5.5 L904.3 5.5 L905.8 5.5 L907.3 5.5 L908.8 5.5 L910.2 5.5 L911.7 5.5 L913.2 5.5 L914.7 5.5 L916.2 5.5 L917.6 5.5 L919.1 5.5 L920.6 5.5 L922.1 5.5 L923.6 5.5 L925.1 5.5 L926.5 5.5 L928 5.5 L929.5 5.5 L931 5.5 L932.5 5.5 L933.9 5.5 L935.4 5.5 L936.9 5.5 L938.4 5.5 L939.9 5.5 L941.4 5.5 L942.8 5.5 L944.3 5.5 L945.8 5.5 L947.3 5.5 L948.8 5.5 L950.2 5.5 L951.7 5.6 L953.2 5.6 L954.7 5.6 L956.2 5.7 L957.6 5.7 L959.1 5.8 L960.6 5.8 L962.1 5.8 L963.6 5.8 L965.1 5.9 L966.5 5.9 L968 5.9 L969.5 5.9 L971 5.9 L972.5 5.9 L973.9 6 L975.4 6 L976.9 6 L978.4 6 L979.9 6 L981.4 6 L982.8 6 L984.3 5.9 L985.8 5.9 L987.3 5.9 L988.8 5.9 L990.2 5.9 L991.7 5.9 L993.2 5.8 L994.7 5.8 L996.2 5.8 L997.6 5.8 L999.1 5.7 L1000.6 5.7 L1002.1 5.7 L1003.6 5.6 L1005.1 5.6 L1006.5 5.6 L1008 5.5 L1009.5 5.5 L1011 5.5 L1012.5 5.4 L1013.9 5.4 L1015.4 5.4 L1016.9 5.3 L1018.4 5.3 L1019.9 5.3 L1021.4 5.2 L1022.8 5.2 L1024.3 5.2 L1025.8 5.2 L1027.3 5.2 L1028.8 5.1 L1030.2 5.1 L1031.7 5.1 L1033.2 5.1 L1034.7 5.1 L1036.2 5.1 L1037.7 5.1 L1039.1 5.1 L1040.6 5.1 L1042.1 5.1 L1043.6 5.1 L1045.1 5.1 L1046.5 5.1 L1048 5.2 L1049.5 5.2 L1051 5.2 L1052.5 5.2 L1053.9 5.2 L1055.4 5.3 L1056.9 5.3 L1058.4 5.3 L1059.9 5.4 L1061.4 5.4 L1062.8 5.4 L1064.3 5.5 L1065.8 5.5 L1067.3 5.5 L1068.8 5.6 L1070.2 5.6 L1071.7 5.6 L1073.2 5.7 L1074.7 5.7 L1076.2 5.7 L1077.7 5.8 L1079.1 5.8 L1080.6 5.8 L1082.1 5.8 L1083.6 5.9 L1085.1 5.9 L1086.5 5.9 L1088 5.9 L1089.5 5.9 L1091 5.9 L1092.5 6 L1093.9 6 L1095.4 6 L1096.9 6" stroke="#1c1c1c" stroke-width="0.85" fill="none"/>
<path d="M894.6 2.5 V114.3 M904 2.5 V114.3 M913.3 2.5 V114.3 M922.7 2.5 V114.3 M932.1 2.5 V114.3 M941.5 2.5 V114.3 M950.8 2.5 V114.9 M960.2 2.5 V123.4 M969.6 2.5 V128.6 M978.9 2.5 V130.4 M988.3 2.5 V128.2 M997.7 2.5 V122.7 M1007 2.5 V115.1 M1016.4 2.5 V107.4 M1025.8 2.5 V101.3 M1035.1 2.5 V98.4 M1044.5 2.5 V99.3 M1053.9 2.5 V103.8 M1063.3 2.5 V110.9 M1072.6 2.5 V118.8 M1082 2.5 V125.6 M1091.4 2.5 V129.7" stroke="#111" stroke-width="0.95" fill="none"/>
<path d="M950 69.6 V114.6 M952.3 70.7 V115.7 M954.7 72.8 V117.8 M957 75.4 V120.4 M959.4 77.8 V122.8 M961.7 79.5 V124.5 M964 80.9 V125.9 M966.4 82.2 V127.2 M968.7 83.3 V128.3 M971.1 84.2 V129.2 M973.4 84.8 V129.8 M975.7 85.2 V130.2 M978.1 85.4 V130.4 M980.4 85.3 V130.3 M982.8 84.9 V129.9 M985.1 84.4 V129.4 M987.4 83.5 V128.5 M989.8 82.5 V127.5 M992.1 81.3 V126.3 M994.5 79.9 V124.9 M996.8 78.3 V123.3 M999.1 76.6 V121.6 M1001.5 74.8 V119.8 M1003.8 72.8 V117.8 M1006.2 70.9 V115.9 M1008.5 68.9 V113.9 M1010.8 66.9 V111.9 M1013.2 65 V110 M1015.5 63.1 V108.1 M1017.9 61.3 V106.3 M1020.2 59.6 V104.6 M1022.5 58.1 V103.1 M1024.9 56.8 V101.8 M1027.2 55.6 V100.6 M1029.6 54.7 V99.7 M1031.9 54 V99 M1034.2 53.5 V98.5 M1036.6 53.3 V98.3 M1038.9 53.3 V98.3 M1041.3 53.5 V98.5 M1043.6 54 V99 M1045.9 54.8 V99.8 M1048.3 55.7 V100.7 M1050.6 56.9 V101.9 M1053 58.2 V103.2 M1055.3 59.8 V104.8 M1057.6 61.4 V106.4 M1060 63.2 V108.2 M1062.3 65.1 V110.1 M1064.7 67.1 V112.1 M1067 69.1 V114.1 M1069.3 71.1 V116.1 M1071.7 73 V118 M1074 74.9 V119.9 M1076.4 76.7 V121.7 M1078.7 78.4 V123.4 M1081 80 V125 M1083.4 81.4 V126.4 M1085.7 82.6 V127.6 M1088.1 83.6 V128.6 M1090.4 84.4 V129.4 M1092.7 85 V130 M1095.1 85.3 V130.3 M1097.4 85.4 V130.4" stroke="#000" stroke-width="0.5" stroke-opacity="0.35" fill="none"/>
<path d="M889.5 114.3 L891 114.3 L892.5 114.3 L893.9 114.3 L895.4 114.3 L896.9 114.3 L898.4 114.3 L899.9 114.3 L901.4 114.3 L902.8 114.3 L904.3 114.3 L905.8 114.3 L907.3 114.3 L908.8 114.3 L910.2 114.3 L911.7 114.3 L913.2 114.3 L914.7 114.3 L916.2 114.3 L917.6 114.3 L919.1 114.3 L920.6 114.3 L922.1 114.3 L923.6 114.3 L925.1 114.3 L926.5 114.3 L928 114.3 L929.5 114.3 L931 114.3 L932.5 114.3 L933.9 114.3 L935.4 114.3 L936.9 114.3 L938.4 114.3 L939.9 114.3 L941.4 114.3 L942.8 114.3 L944.3 114.3 L945.8 114.3 L947.3 114.3 L948.8 114.3 L950.2 114.6 L951.7 115.3 L953.2 116.4 L954.7 117.8 L956.2 119.4 L957.6 121.1 L959.1 122.6 L960.6 123.7 L962.1 124.7 L963.6 125.7 L965.1 126.5 L966.5 127.3 L968 128 L969.5 128.6 L971 129.1 L972.5 129.6 L973.9 129.9 L975.4 130.2 L976.9 130.3 L978.4 130.4 L979.9 130.3 L981.4 130.2 L982.8 129.9 L984.3 129.6 L985.8 129.1 L987.3 128.6 L988.8 128 L990.2 127.3 L991.7 126.5 L993.2 125.7 L994.7 124.7 L996.2 123.7 L997.6 122.7 L999.1 121.6 L1000.6 120.4 L1002.1 119.3 L1003.6 118 L1005.1 116.8 L1006.5 115.6 L1008 114.3 L1009.5 113 L1011 111.8 L1012.5 110.6 L1013.9 109.3 L1015.4 108.2 L1016.9 107 L1018.4 105.9 L1019.9 104.9 L1021.4 103.9 L1022.8 102.9 L1024.3 102.1 L1025.8 101.3 L1027.3 100.6 L1028.8 100 L1030.2 99.5 L1031.7 99 L1033.2 98.7 L1034.7 98.4 L1036.2 98.3 L1037.7 98.2 L1039.1 98.3 L1040.6 98.4 L1042.1 98.7 L1043.6 99 L1045.1 99.5 L1046.5 100 L1048 100.6 L1049.5 101.3 L1051 102.1 L1052.5 102.9 L1053.9 103.9 L1055.4 104.9 L1056.9 105.9 L1058.4 107 L1059.9 108.2 L1061.4 109.3 L1062.8 110.6 L1064.3 111.8 L1065.8 113 L1067.3 114.3 L1068.8 115.6 L1070.2 116.8 L1071.7 118 L1073.2 119.3 L1074.7 120.4 L1076.2 121.6 L1077.7 122.7 L1079.1 123.7 L1080.6 124.7 L1082.1 125.7 L1083.6 126.5 L1085.1 127.3 L1086.5 128 L1088 128.6 L1089.5 129.1 L1091 129.6 L1092.5 129.9 L1093.9 130.2 L1095.4 130.3 L1096.9 130.4 L1096.9 122.6 L1095.4 122.5 L1093.9 122.4 L1092.5 122.1 L1091 121.8 L1089.5 121.3 L1088 120.8 L1086.5 120.2 L1085.1 119.5 L1083.6 118.7 L1082.1 117.9 L1080.6 116.9 L1079.1 115.9 L1077.7 114.9 L1076.2 113.8 L1074.7 112.6 L1073.2 111.5 L1071.7 110.2 L1070.2 109 L1068.8 107.8 L1067.3 106.5 L1065.8 105.2 L1064.3 104 L1062.8 102.8 L1061.4 101.5 L1059.9 100.4 L1058.4 99.2 L1056.9 98.1 L1055.4 97.1 L1053.9 96.1 L1052.5 95.1 L1051 94.3 L1049.5 93.5 L1048 92.8 L1046.5 92.2 L1045.1 91.7 L1043.6 91.2 L1042.1 90.9 L1040.6 90.6 L1039.1 90.5 L1037.7 90.4 L1036.2 90.5 L1034.7 90.6 L1033.2 90.9 L1031.7 91.2 L1030.2 91.7 L1028.8 92.2 L1027.3 92.8 L1025.8 93.5 L1024.3 94.3 L1022.8 95.1 L1021.4 96.1 L1019.9 97.1 L1018.4 98.1 L1016.9 99.2 L1015.4 100.4 L1013.9 101.5 L1012.5 102.8 L1011 104 L1009.5 105.2 L1008 106.5 L1006.5 107.8 L1005.1 109 L1003.6 110.2 L1002.1 111.5 L1000.6 112.6 L999.1 113.8 L997.6 114.9 L996.2 115.9 L994.7 116.9 L993.2 117.9 L991.7 118.7 L990.2 119.5 L988.8 120.2 L987.3 120.8 L985.8 121.3 L984.3 121.8 L982.8 122.1 L981.4 122.4 L979.9 122.5 L978.4 122.6 L976.9 122.5 L975.4 122.4 L973.9 122.1 L972.5 121.8 L971 121.3 L969.5 120.8 L968 120.2 L966.5 119.5 L965.1 118.7 L963.6 117.9 L962.1 116.9 L960.6 115.9 L959.1 114.8 L957.6 113.3 L956.2 111.6 L954.7 110 L953.2 108.6 L951.7 107.5 L950.2 106.8 L948.8 106.5 L947.3 106.5 L945.8 106.5 L944.3 106.5 L942.8 106.5 L941.4 106.5 L939.9 106.5 L938.4 106.5 L936.9 106.5 L935.4 106.5 L933.9 106.5 L932.5 106.5 L931 106.5 L929.5 106.5 L928 106.5 L926.5 106.5 L925.1 106.5 L923.6 106.5 L922.1 106.5 L920.6 106.5 L919.1 106.5 L917.6 106.5 L916.2 106.5 L914.7 106.5 L913.2 106.5 L911.7 106.5 L910.2 106.5 L908.8 106.5 L907.3 106.5 L905.8 106.5 L904.3 106.5 L902.8 106.5 L901.4 106.5 L899.9 106.5 L898.4 106.5 L896.9 106.5 L895.4 106.5 L893.9 106.5 L892.5 106.5 L891 106.5 L889.5 106.5 Z" fill="#000"/>
<path d="M889.5 106.7 L891 106.7 L892.5 106.7 L893.9 106.7 L895.4 106.7 L896.9 106.7 L898.4 106.7 L899.9 106.7 L901.4 106.7 L902.8 106.7 L904.3 106.7 L905.8 106.7 L907.3 106.7 L908.8 106.7 L910.2 106.7 L911.7 106.7 L913.2 106.7 L914.7 106.7 L916.2 106.7 L917.6 106.7 L919.1 106.7 L920.6 106.7 L922.1 106.7 L923.6 106.7 L925.1 106.7 L926.5 106.7 L928 106.7 L929.5 106.7 L931 106.7 L932.5 106.7 L933.9 106.7 L935.4 106.7 L936.9 106.7 L938.4 106.7 L939.9 106.7 L941.4 106.7 L942.8 106.7 L944.3 106.7 L945.8 106.7 L947.3 106.7 L948.8 106.7 L950.2 107 L951.7 107.7 L953.2 108.8 L954.7 110.2 L956.2 111.8 L957.6 113.5 L959.1 115 L960.6 116.1 L962.1 117.1 L963.6 118.1 L965.1 118.9 L966.5 119.7 L968 120.4 L969.5 121 L971 121.5 L972.5 122 L973.9 122.3 L975.4 122.6 L976.9 122.7 L978.4 122.8 L979.9 122.7 L981.4 122.6 L982.8 122.3 L984.3 122 L985.8 121.5 L987.3 121 L988.8 120.4 L990.2 119.7 L991.7 118.9 L993.2 118.1 L994.7 117.1 L996.2 116.1 L997.6 115.1 L999.1 114 L1000.6 112.8 L1002.1 111.7 L1003.6 110.4 L1005.1 109.2 L1006.5 108 L1008 106.7 L1009.5 105.4 L1011 104.2 L1012.5 103 L1013.9 101.7 L1015.4 100.6 L1016.9 99.4 L1018.4 98.3 L1019.9 97.3 L1021.4 96.3 L1022.8 95.3 L1024.3 94.5 L1025.8 93.7 L1027.3 93 L1028.8 92.4 L1030.2 91.9 L1031.7 91.4 L1033.2 91.1 L1034.7 90.8 L1036.2 90.7 L1037.7 90.6 L1039.1 90.7 L1040.6 90.8 L1042.1 91.1 L1043.6 91.4 L1045.1 91.9 L1046.5 92.4 L1048 93 L1049.5 93.7 L1051 94.5 L1052.5 95.3 L1053.9 96.3 L1055.4 97.3 L1056.9 98.3 L1058.4 99.4 L1059.9 100.6 L1061.4 101.7 L1062.8 103 L1064.3 104.2 L1065.8 105.4 L1067.3 106.7 L1068.8 108 L1070.2 109.2 L1071.7 110.4 L1073.2 111.7 L1074.7 112.8 L1076.2 114 L1077.7 115.1 L1079.1 116.1 L1080.6 117.1 L1082.1 118.1 L1083.6 118.9 L1085.1 119.7 L1086.5 120.4 L1088 121 L1089.5 121.5 L1091 122 L1092.5 122.3 L1093.9 122.6 L1095.4 122.7 L1096.9 122.8 L1096.9 120.6 L1095.4 120.5 L1093.9 120.4 L1092.5 120.1 L1091 119.8 L1089.5 119.3 L1088 118.8 L1086.5 118.2 L1085.1 117.5 L1083.6 116.7 L1082.1 115.9 L1080.6 114.9 L1079.1 113.9 L1077.7 112.9 L1076.2 111.8 L1074.7 110.6 L1073.2 109.5 L1071.7 108.2 L1070.2 107 L1068.8 105.8 L1067.3 104.5 L1065.8 103.2 L1064.3 102 L1062.8 100.8 L1061.4 99.5 L1059.9 98.4 L1058.4 97.2 L1056.9 96.1 L1055.4 95.1 L1053.9 94.1 L1052.5 93.1 L1051 92.3 L1049.5 91.5 L1048 90.8 L1046.5 90.2 L1045.1 89.7 L1043.6 89.2 L1042.1 88.9 L1040.6 88.6 L1039.1 88.5 L1037.7 88.4 L1036.2 88.5 L1034.7 88.6 L1033.2 88.9 L1031.7 89.2 L1030.2 89.7 L1028.8 90.2 L1027.3 90.8 L1025.8 91.5 L1024.3 92.3 L1022.8 93.1 L1021.4 94.1 L1019.9 95.1 L1018.4 96.1 L1016.9 97.2 L1015.4 98.4 L1013.9 99.5 L1012.5 100.8 L1011 102 L1009.5 103.2 L1008 104.5 L1006.5 105.8 L1005.1 107 L1003.6 108.2 L1002.1 109.5 L1000.6 110.6 L999.1 111.8 L997.6 112.9 L996.2 113.9 L994.7 114.9 L993.2 115.9 L991.7 116.7 L990.2 117.5 L988.8 118.2 L987.3 118.8 L985.8 119.3 L984.3 119.8 L982.8 120.1 L981.4 120.4 L979.9 120.5 L978.4 120.6 L976.9 120.5 L975.4 120.4 L973.9 120.1 L972.5 119.8 L971 119.3 L969.5 118.8 L968 118.2 L966.5 117.5 L965.1 116.7 L963.6 115.9 L962.1 114.9 L960.6 113.9 L959.1 112.8 L957.6 111.3 L956.2 109.6 L954.7 108 L953.2 106.6 L951.7 105.5 L950.2 104.8 L948.8 104.5 L947.3 104.5 L945.8 104.5 L944.3 104.5 L942.8 104.5 L941.4 104.5 L939.9 104.5 L938.4 104.5 L936.9 104.5 L935.4 104.5 L933.9 104.5 L932.5 104.5 L931 104.5 L929.5 104.5 L928 104.5 L926.5 104.5 L925.1 104.5 L923.6 104.5 L922.1 104.5 L920.6 104.5 L919.1 104.5 L917.6 104.5 L916.2 104.5 L914.7 104.5 L913.2 104.5 L911.7 104.5 L910.2 104.5 L908.8 104.5 L907.3 104.5 L905.8 104.5 L904.3 104.5 L902.8 104.5 L901.4 104.5 L899.9 104.5 L898.4 104.5 L896.9 104.5 L895.4 104.5 L893.9 104.5 L892.5 104.5 L891 104.5 L889.5 104.5 Z" fill="#000" fill-opacity="0.420"/>
<path d="M889.5 104.7 L891 104.7 L892.5 104.7 L893.9 104.7 L895.4 104.7 L896.9 104.7 L898.4 104.7 L899.9 104.7 L901.4 104.7 L902.8 104.7 L904.3 104.7 L905.8 104.7 L907.3 104.7 L908.8 104.7 L910.2 104.7 L911.7 104.7 L913.2 104.7 L914.7 104.7 L916.2 104.7 L917.6 104.7 L919.1 104.7 L920.6 104.7 L922.1 104.7 L923.6 104.7 L925.1 104.7 L926.5 104.7 L928 104.7 L929.5 104.7 L931 104.7 L932.5 104.7 L933.9 104.7 L935.4 104.7 L936.9 104.7 L938.4 104.7 L939.9 104.7 L941.4 104.7 L942.8 104.7 L944.3 104.7 L945.8 104.7 L947.3 104.7 L948.8 104.7 L950.2 105 L951.7 105.7 L953.2 106.8 L954.7 108.2 L956.2 109.8 L957.6 111.5 L959.1 113 L960.6 114.1 L962.1 115.1 L963.6 116.1 L965.1 116.9 L966.5 117.7 L968 118.4 L969.5 119 L971 119.5 L972.5 120 L973.9 120.3 L975.4 120.6 L976.9 120.7 L978.4 120.8 L979.9 120.7 L981.4 120.6 L982.8 120.3 L984.3 120 L985.8 119.5 L987.3 119 L988.8 118.4 L990.2 117.7 L991.7 116.9 L993.2 116.1 L994.7 115.1 L996.2 114.1 L997.6 113.1 L999.1 112 L1000.6 110.8 L1002.1 109.7 L1003.6 108.4 L1005.1 107.2 L1006.5 106 L1008 104.7 L1009.5 103.4 L1011 102.2 L1012.5 101 L1013.9 99.7 L1015.4 98.6 L1016.9 97.4 L1018.4 96.3 L1019.9 95.3 L1021.4 94.3 L1022.8 93.3 L1024.3 92.5 L1025.8 91.7 L1027.3 91 L1028.8 90.4 L1030.2 89.9 L1031.7 89.4 L1033.2 89.1 L1034.7 88.8 L1036.2 88.7 L1037.7 88.6 L1039.1 88.7 L1040.6 88.8 L1042.1 89.1 L1043.6 89.4 L1045.1 89.9 L1046.5 90.4 L1048 91 L1049.5 91.7 L1051 92.5 L1052.5 93.3 L1053.9 94.3 L1055.4 95.3 L1056.9 96.3 L1058.4 97.4 L1059.9 98.6 L1061.4 99.7 L1062.8 101 L1064.3 102.2 L1065.8 103.4 L1067.3 104.7 L1068.8 106 L1070.2 107.2 L1071.7 108.4 L1073.2 109.7 L1074.7 110.8 L1076.2 112 L1077.7 113.1 L1079.1 114.1 L1080.6 115.1 L1082.1 116.1 L1083.6 116.9 L1085.1 117.7 L1086.5 118.4 L1088 119 L1089.5 119.5 L1091 120 L1092.5 120.3 L1093.9 120.6 L1095.4 120.7 L1096.9 120.8 L1096.9 118.6 L1095.4 118.5 L1093.9 118.4 L1092.5 118.1 L1091 117.8 L1089.5 117.3 L1088 116.8 L1086.5 116.2 L1085.1 115.5 L1083.6 114.7 L1082.1 113.9 L1080.6 112.9 L1079.1 111.9 L1077.7 110.9 L1076.2 109.8 L1074.7 108.6 L1073.2 107.5 L1071.7 106.2 L1070.2 105 L1068.8 103.8 L1067.3 102.5 L1065.8 101.2 L1064.3 100 L1062.8 98.8 L1061.4 97.5 L1059.9 96.4 L1058.4 95.2 L1056.9 94.1 L1055.4 93.1 L1053.9 92.1 L1052.5 91.1 L1051 90.3 L1049.5 89.5 L1048 88.8 L1046.5 88.2 L1045.1 87.7 L1043.6 87.2 L1042.1 86.9 L1040.6 86.6 L1039.1 86.5 L1037.7 86.4 L1036.2 86.5 L1034.7 86.6 L1033.2 86.9 L1031.7 87.2 L1030.2 87.7 L1028.8 88.2 L1027.3 88.8 L1025.8 89.5 L1024.3 90.3 L1022.8 91.1 L1021.4 92.1 L1019.9 93.1 L1018.4 94.1 L1016.9 95.2 L1015.4 96.4 L1013.9 97.5 L1012.5 98.8 L1011 100 L1009.5 101.2 L1008 102.5 L1006.5 103.8 L1005.1 105 L1003.6 106.2 L1002.1 107.5 L1000.6 108.6 L999.1 109.8 L997.6 110.9 L996.2 111.9 L994.7 112.9 L993.2 113.9 L991.7 114.7 L990.2 115.5 L988.8 116.2 L987.3 116.8 L985.8 117.3 L984.3 117.8 L982.8 118.1 L981.4 118.4 L979.9 118.5 L978.4 118.6 L976.9 118.5 L975.4 118.4 L973.9 118.1 L972.5 117.8 L971 117.3 L969.5 116.8 L968 116.2 L966.5 115.5 L965.1 114.7 L963.6 113.9 L962.1 112.9 L960.6 111.9 L959.1 110.8 L957.6 109.3 L956.2 107.6 L954.7 106 L953.2 104.6 L951.7 103.5 L950.2 102.8 L948.8 102.5 L947.3 102.5 L945.8 102.5 L944.3 102.5 L942.8 102.5 L941.4 102.5 L939.9 102.5 L938.4 102.5 L936.9 102.5 L935.4 102.5 L933.9 102.5 L932.5 102.5 L931 102.5 L929.5 102.5 L928 102.5 L926.5 102.5 L925.1 102.5 L923.6 102.5 L922.1 102.5 L920.6 102.5 L919.1 102.5 L917.6 102.5 L916.2 102.5 L914.7 102.5 L913.2 102.5 L911.7 102.5 L910.2 102.5 L908.8 102.5 L907.3 102.5 L905.8 102.5 L904.3 102.5 L902.8 102.5 L901.4 102.5 L899.9 102.5 L898.4 102.5 L896.9 102.5 L895.4 102.5 L893.9 102.5 L892.5 102.5 L891 102.5 L889.5 102.5 Z" fill="#000" fill-opacity="0.375"/>
<path d="M889.5 102.7 L891 102.7 L892.5 102.7 L893.9 102.7 L895.4 102.7 L896.9 102.7 L898.4 102.7 L899.9 102.7 L901.4 102.7 L902.8 102.7 L904.3 102.7 L905.8 102.7 L907.3 102.7 L908.8 102.7 L910.2 102.7 L911.7 102.7 L913.2 102.7 L914.7 102.7 L916.2 102.7 L917.6 102.7 L919.1 102.7 L920.6 102.7 L922.1 102.7 L923.6 102.7 L925.1 102.7 L926.5 102.7 L928 102.7 L929.5 102.7 L931 102.7 L932.5 102.7 L933.9 102.7 L935.4 102.7 L936.9 102.7 L938.4 102.7 L939.9 102.7 L941.4 102.7 L942.8 102.7 L944.3 102.7 L945.8 102.7 L947.3 102.7 L948.8 102.7 L950.2 103 L951.7 103.7 L953.2 104.8 L954.7 106.2 L956.2 107.8 L957.6 109.5 L959.1 111 L960.6 112.1 L962.1 113.1 L963.6 114.1 L965.1 114.9 L966.5 115.7 L968 116.4 L969.5 117 L971 117.5 L972.5 118 L973.9 118.3 L975.4 118.6 L976.9 118.7 L978.4 118.8 L979.9 118.7 L981.4 118.6 L982.8 118.3 L984.3 118 L985.8 117.5 L987.3 117 L988.8 116.4 L990.2 115.7 L991.7 114.9 L993.2 114.1 L994.7 113.1 L996.2 112.1 L997.6 111.1 L999.1 110 L1000.6 108.8 L1002.1 107.7 L1003.6 106.4 L1005.1 105.2 L1006.5 104 L1008 102.7 L1009.5 101.4 L1011 100.2 L1012.5 99 L1013.9 97.7 L1015.4 96.6 L1016.9 95.4 L1018.4 94.3 L1019.9 93.3 L1021.4 92.3 L1022.8 91.3 L1024.3 90.5 L1025.8 89.7 L1027.3 89 L1028.8 88.4 L1030.2 87.9 L1031.7 87.4 L1033.2 87.1 L1034.7 86.8 L1036.2 86.7 L1037.7 86.6 L1039.1 86.7 L1040.6 86.8 L1042.1 87.1 L1043.6 87.4 L1045.1 87.9 L1046.5 88.4 L1048 89 L1049.5 89.7 L1051 90.5 L1052.5 91.3 L1053.9 92.3 L1055.4 93.3 L1056.9 94.3 L1058.4 95.4 L1059.9 96.6 L1061.4 97.7 L1062.8 99 L1064.3 100.2 L1065.8 101.4 L1067.3 102.7 L1068.8 104 L1070.2 105.2 L1071.7 106.4 L1073.2 107.7 L1074.7 108.8 L1076.2 110 L1077.7 111.1 L1079.1 112.1 L1080.6 113.1 L1082.1 114.1 L1083.6 114.9 L1085.1 115.7 L1086.5 116.4 L1088 117 L1089.5 117.5 L1091 118 L1092.5 118.3 L1093.9 118.6 L1095.4 118.7 L1096.9 118.8 L1096.9 116.6 L1095.4 116.5 L1093.9 116.4 L1092.5 116.1 L1091 115.8 L1089.5 115.3 L1088 114.8 L1086.5 114.2 L1085.1 113.5 L1083.6 112.7 L1082.1 111.9 L1080.6 110.9 L1079.1 109.9 L1077.7 108.9 L1076.2 107.8 L1074.7 106.6 L1073.2 105.5 L1071.7 104.2 L1070.2 103 L1068.8 101.8 L1067.3 100.5 L1065.8 99.2 L1064.3 98 L1062.8 96.8 L1061.4 95.5 L1059.9 94.4 L1058.4 93.2 L1056.9 92.1 L1055.4 91.1 L1053.9 90.1 L1052.5 89.1 L1051 88.3 L1049.5 87.5 L1048 86.8 L1046.5 86.2 L1045.1 85.7 L1043.6 85.2 L1042.1 84.9 L1040.6 84.6 L1039.1 84.5 L1037.7 84.4 L1036.2 84.5 L1034.7 84.6 L1033.2 84.9 L1031.7 85.2 L1030.2 85.7 L1028.8 86.2 L1027.3 86.8 L1025.8 87.5 L1024.3 88.3 L1022.8 89.1 L1021.4 90.1 L1019.9 91.1 L1018.4 92.1 L1016.9 93.2 L1015.4 94.4 L1013.9 95.5 L1012.5 96.8 L1011 98 L1009.5 99.2 L1008 100.5 L1006.5 101.8 L1005.1 103 L1003.6 104.2 L1002.1 105.5 L1000.6 106.6 L999.1 107.8 L997.6 108.9 L996.2 109.9 L994.7 110.9 L993.2 111.9 L991.7 112.7 L990.2 113.5 L988.8 114.2 L987.3 114.8 L985.8 115.3 L984.3 115.8 L982.8 116.1 L981.4 116.4 L979.9 116.5 L978.4 116.6 L976.9 116.5 L975.4 116.4 L973.9 116.1 L972.5 115.8 L971 115.3 L969.5 114.8 L968 114.2 L966.5 113.5 L965.1 112.7 L963.6 111.9 L962.1 110.9 L960.6 109.9 L959.1 108.8 L957.6 107.3 L956.2 105.6 L954.7 104 L953.2 102.6 L951.7 101.5 L950.2 100.8 L948.8 100.5 L947.3 100.5 L945.8 100.5 L944.3 100.5 L942.8 100.5 L941.4 100.5 L939.9 100.5 L938.4 100.5 L936.9 100.5 L935.4 100.5 L933.9 100.5 L932.5 100.5 L931 100.5 L929.5 100.5 L928 100.5 L926.5 100.5 L925.1 100.5 L923.6 100.5 L922.1 100.5 L920.6 100.5 L919.1 100.5 L917.6 100.5 L916.2 100.5 L914.7 100.5 L913.2 100.5 L911.7 100.5 L910.2 100.5 L908.8 100.5 L907.3 100.5 L905.8 100.5 L904.3 100.5 L902.8 100.5 L901.4 100.5 L899.9 100.5 L898.4 100.5 L896.9 100.5 L895.4 100.5 L893.9 100.5 L892.5 100.5 L891 100.5 L889.5 100.5 Z" fill="#000" fill-opacity="0.331"/>
<path d="M889.5 100.7 L891 100.7 L892.5 100.7 L893.9 100.7 L895.4 100.7 L896.9 100.7 L898.4 100.7 L899.9 100.7 L901.4 100.7 L902.8 100.7 L904.3 100.7 L905.8 100.7 L907.3 100.7 L908.8 100.7 L910.2 100.7 L911.7 100.7 L913.2 100.7 L914.7 100.7 L916.2 100.7 L917.6 100.7 L919.1 100.7 L920.6 100.7 L922.1 100.7 L923.6 100.7 L925.1 100.7 L926.5 100.7 L928 100.7 L929.5 100.7 L931 100.7 L932.5 100.7 L933.9 100.7 L935.4 100.7 L936.9 100.7 L938.4 100.7 L939.9 100.7 L941.4 100.7 L942.8 100.7 L944.3 100.7 L945.8 100.7 L947.3 100.7 L948.8 100.7 L950.2 101 L951.7 101.7 L953.2 102.8 L954.7 104.2 L956.2 105.8 L957.6 107.5 L959.1 109 L960.6 110.1 L962.1 111.1 L963.6 112.1 L965.1 112.9 L966.5 113.7 L968 114.4 L969.5 115 L971 115.5 L972.5 116 L973.9 116.3 L975.4 116.6 L976.9 116.7 L978.4 116.8 L979.9 116.7 L981.4 116.6 L982.8 116.3 L984.3 116 L985.8 115.5 L987.3 115 L988.8 114.4 L990.2 113.7 L991.7 112.9 L993.2 112.1 L994.7 111.1 L996.2 110.1 L997.6 109.1 L999.1 108 L1000.6 106.8 L1002.1 105.7 L1003.6 104.4 L1005.1 103.2 L1006.5 102 L1008 100.7 L1009.5 99.4 L1011 98.2 L1012.5 97 L1013.9 95.7 L1015.4 94.6 L1016.9 93.4 L1018.4 92.3 L1019.9 91.3 L1021.4 90.3 L1022.8 89.3 L1024.3 88.5 L1025.8 87.7 L1027.3 87 L1028.8 86.4 L1030.2 85.9 L1031.7 85.4 L1033.2 85.1 L1034.7 84.8 L1036.2 84.7 L1037.7 84.6 L1039.1 84.7 L1040.6 84.8 L1042.1 85.1 L1043.6 85.4 L1045.1 85.9 L1046.5 86.4 L1048 87 L1049.5 87.7 L1051 88.5 L1052.5 89.3 L1053.9 90.3 L1055.4 91.3 L1056.9 92.3 L1058.4 93.4 L1059.9 94.6 L1061.4 95.7 L1062.8 97 L1064.3 98.2 L1065.8 99.4 L1067.3 100.7 L1068.8 102 L1070.2 103.2 L1071.7 104.4 L1073.2 105.7 L1074.7 106.8 L1076.2 108 L1077.7 109.1 L1079.1 110.1 L1080.6 111.1 L1082.1 112.1 L1083.6 112.9 L1085.1 113.7 L1086.5 114.4 L1088 115 L1089.5 115.5 L1091 116 L1092.5 116.3 L1093.9 116.6 L1095.4 116.7 L1096.9 116.8 L1096.9 114.6 L1095.4 114.5 L1093.9 114.4 L1092.5 114.1 L1091 113.8 L1089.5 113.3 L1088 112.8 L1086.5 112.2 L1085.1 111.5 L1083.6 110.7 L1082.1 109.9 L1080.6 108.9 L1079.1 107.9 L1077.7 106.9 L1076.2 105.8 L1074.7 104.6 L1073.2 103.5 L1071.7 102.2 L1070.2 101 L1068.8 99.8 L1067.3 98.5 L1065.8 97.2 L1064.3 96 L1062.8 94.8 L1061.4 93.5 L1059.9 92.4 L1058.4 91.2 L1056.9 90.1 L1055.4 89.1 L1053.9 88.1 L1052.5 87.1 L1051 86.3 L1049.5 85.5 L1048 84.8 L1046.5 84.2 L1045.1 83.7 L1043.6 83.2 L1042.1 82.9 L1040.6 82.6 L1039.1 82.5 L1037.7 82.4 L1036.2 82.5 L1034.7 82.6 L1033.2 82.9 L1031.7 83.2 L1030.2 83.7 L1028.8 84.2 L1027.3 84.8 L1025.8 85.5 L1024.3 86.3 L1022.8 87.1 L1021.4 88.1 L1019.9 89.1 L1018.4 90.1 L1016.9 91.2 L1015.4 92.4 L1013.9 93.5 L1012.5 94.8 L1011 96 L1009.5 97.2 L1008 98.5 L1006.5 99.8 L1005.1 101 L1003.6 102.2 L1002.1 103.5 L1000.6 104.6 L999.1 105.8 L997.6 106.9 L996.2 107.9 L994.7 108.9 L993.2 109.9 L991.7 110.7 L990.2 111.5 L988.8 112.2 L987.3 112.8 L985.8 113.3 L984.3 113.8 L982.8 114.1 L981.4 114.4 L979.9 114.5 L978.4 114.6 L976.9 114.5 L975.4 114.4 L973.9 114.1 L972.5 113.8 L971 113.3 L969.5 112.8 L968 112.2 L966.5 111.5 L965.1 110.7 L963.6 109.9 L962.1 108.9 L960.6 107.9 L959.1 106.8 L957.6 105.3 L956.2 103.6 L954.7 102 L953.2 100.6 L951.7 99.5 L950.2 98.8 L948.8 98.5 L947.3 98.5 L945.8 98.5 L944.3 98.5 L942.8 98.5 L941.4 98.5 L939.9 98.5 L938.4 98.5 L936.9 98.5 L935.4 98.5 L933.9 98.5 L932.5 98.5 L931 98.5 L929.5 98.5 L928 98.5 L926.5 98.5 L925.1 98.5 L923.6 98.5 L922.1 98.5 L920.6 98.5 L919.1 98.5 L917.6 98.5 L916.2 98.5 L914.7 98.5 L913.2 98.5 L911.7 98.5 L910.2 98.5 L908.8 98.5 L907.3 98.5 L905.8 98.5 L904.3 98.5 L902.8 98.5 L901.4 98.5 L899.9 98.5 L898.4 98.5 L896.9 98.5 L895.4 98.5 L893.9 98.5 L892.5 98.5 L891 98.5 L889.5 98.5 Z" fill="#000" fill-opacity="0.289"/>
<path d="M889.5 98.7 L891 98.7 L892.5 98.7 L893.9 98.7 L895.4 98.7 L896.9 98.7 L898.4 98.7 L899.9 98.7 L901.4 98.7 L902.8 98.7 L904.3 98.7 L905.8 98.7 L907.3 98.7 L908.8 98.7 L910.2 98.7 L911.7 98.7 L913.2 98.7 L914.7 98.7 L916.2 98.7 L917.6 98.7 L919.1 98.7 L920.6 98.7 L922.1 98.7 L923.6 98.7 L925.1 98.7 L926.5 98.7 L928 98.7 L929.5 98.7 L931 98.7 L932.5 98.7 L933.9 98.7 L935.4 98.7 L936.9 98.7 L938.4 98.7 L939.9 98.7 L941.4 98.7 L942.8 98.7 L944.3 98.7 L945.8 98.7 L947.3 98.7 L948.8 98.7 L950.2 99 L951.7 99.7 L953.2 100.8 L954.7 102.2 L956.2 103.8 L957.6 105.5 L959.1 107 L960.6 108.1 L962.1 109.1 L963.6 110.1 L965.1 110.9 L966.5 111.7 L968 112.4 L969.5 113 L971 113.5 L972.5 114 L973.9 114.3 L975.4 114.6 L976.9 114.7 L978.4 114.8 L979.9 114.7 L981.4 114.6 L982.8 114.3 L984.3 114 L985.8 113.5 L987.3 113 L988.8 112.4 L990.2 111.7 L991.7 110.9 L993.2 110.1 L994.7 109.1 L996.2 108.1 L997.6 107.1 L999.1 106 L1000.6 104.8 L1002.1 103.7 L1003.6 102.4 L1005.1 101.2 L1006.5 100 L1008 98.7 L1009.5 97.4 L1011 96.2 L1012.5 95 L1013.9 93.7 L1015.4 92.6 L1016.9 91.4 L1018.4 90.3 L1019.9 89.3 L1021.4 88.3 L1022.8 87.3 L1024.3 86.5 L1025.8 85.7 L1027.3 85 L1028.8 84.4 L1030.2 83.9 L1031.7 83.4 L1033.2 83.1 L1034.7 82.8 L1036.2 82.7 L1037.7 82.6 L1039.1 82.7 L1040.6 82.8 L1042.1 83.1 L1043.6 83.4 L1045.1 83.9 L1046.5 84.4 L1048 85 L1049.5 85.7 L1051 86.5 L1052.5 87.3 L1053.9 88.3 L1055.4 89.3 L1056.9 90.3 L1058.4 91.4 L1059.9 92.6 L1061.4 93.7 L1062.8 95 L1064.3 96.2 L1065.8 97.4 L1067.3 98.7 L1068.8 100 L1070.2 101.2 L1071.7 102.4 L1073.2 103.7 L1074.7 104.8 L1076.2 106 L1077.7 107.1 L1079.1 108.1 L1080.6 109.1 L1082.1 110.1 L1083.6 110.9 L1085.1 111.7 L1086.5 112.4 L1088 113 L1089.5 113.5 L1091 114 L1092.5 114.3 L1093.9 114.6 L1095.4 114.7 L1096.9 114.8 L1096.9 112.6 L1095.4 112.5 L1093.9 112.4 L1092.5 112.1 L1091 111.8 L1089.5 111.3 L1088 110.8 L1086.5 110.2 L1085.1 109.5 L1083.6 108.7 L1082.1 107.9 L1080.6 106.9 L1079.1 105.9 L1077.7 104.9 L1076.2 103.8 L1074.7 102.6 L1073.2 101.5 L1071.7 100.2 L1070.2 99 L1068.8 97.8 L1067.3 96.5 L1065.8 95.2 L1064.3 94 L1062.8 92.8 L1061.4 91.5 L1059.9 90.4 L1058.4 89.2 L1056.9 88.1 L1055.4 87.1 L1053.9 86.1 L1052.5 85.1 L1051 84.3 L1049.5 83.5 L1048 82.8 L1046.5 82.2 L1045.1 81.7 L1043.6 81.2 L1042.1 80.9 L1040.6 80.6 L1039.1 80.5 L1037.7 80.4 L1036.2 80.5 L1034.7 80.6 L1033.2 80.9 L1031.7 81.2 L1030.2 81.7 L1028.8 82.2 L1027.3 82.8 L1025.8 83.5 L1024.3 84.3 L1022.8 85.1 L1021.4 86.1 L1019.9 87.1 L1018.4 88.1 L1016.9 89.2 L1015.4 90.4 L1013.9 91.5 L1012.5 92.8 L1011 94 L1009.5 95.2 L1008 96.5 L1006.5 97.8 L1005.1 99 L1003.6 100.2 L1002.1 101.5 L1000.6 102.6 L999.1 103.8 L997.6 104.9 L996.2 105.9 L994.7 106.9 L993.2 107.9 L991.7 108.7 L990.2 109.5 L988.8 110.2 L987.3 110.8 L985.8 111.3 L984.3 111.8 L982.8 112.1 L981.4 112.4 L979.9 112.5 L978.4 112.6 L976.9 112.5 L975.4 112.4 L973.9 112.1 L972.5 111.8 L971 111.3 L969.5 110.8 L968 110.2 L966.5 109.5 L965.1 108.7 L963.6 107.9 L962.1 106.9 L960.6 105.9 L959.1 104.8 L957.6 103.3 L956.2 101.6 L954.7 100 L953.2 98.6 L951.7 97.5 L950.2 96.8 L948.8 96.5 L947.3 96.5 L945.8 96.5 L944.3 96.5 L942.8 96.5 L941.4 96.5 L939.9 96.5 L938.4 96.5 L936.9 96.5 L935.4 96.5 L933.9 96.5 L932.5 96.5 L931 96.5 L929.5 96.5 L928 96.5 L926.5 96.5 L925.1 96.5 L923.6 96.5 L922.1 96.5 L920.6 96.5 L919.1 96.5 L917.6 96.5 L916.2 96.5 L914.7 96.5 L913.2 96.5 L911.7 96.5 L910.2 96.5 L908.8 96.5 L907.3 96.5 L905.8 96.5 L904.3 96.5 L902.8 96.5 L901.4 96.5 L899.9 96.5 L898.4 96.5 L896.9 96.5 L895.4 96.5 L893.9 96.5 L892.5 96.5 L891 96.5 L889.5 96.5 Z" fill="#000" fill-opacity="0.248"/>
<path d="M889.5 96.7 L891 96.7 L892.5 96.7 L893.9 96.7 L895.4 96.7 L896.9 96.7 L898.4 96.7 L899.9 96.7 L901.4 96.7 L902.8 96.7 L904.3 96.7 L905.8 96.7 L907.3 96.7 L908.8 96.7 L910.2 96.7 L911.7 96.7 L913.2 96.7 L914.7 96.7 L916.2 96.7 L917.6 96.7 L919.1 96.7 L920.6 96.7 L922.1 96.7 L923.6 96.7 L925.1 96.7 L926.5 96.7 L928 96.7 L929.5 96.7 L931 96.7 L932.5 96.7 L933.9 96.7 L935.4 96.7 L936.9 96.7 L938.4 96.7 L939.9 96.7 L941.4 96.7 L942.8 96.7 L944.3 96.7 L945.8 96.7 L947.3 96.7 L948.8 96.7 L950.2 97 L951.7 97.7 L953.2 98.8 L954.7 100.2 L956.2 101.8 L957.6 103.5 L959.1 105 L960.6 106.1 L962.1 107.1 L963.6 108.1 L965.1 108.9 L966.5 109.7 L968 110.4 L969.5 111 L971 111.5 L972.5 112 L973.9 112.3 L975.4 112.6 L976.9 112.7 L978.4 112.8 L979.9 112.7 L981.4 112.6 L982.8 112.3 L984.3 112 L985.8 111.5 L987.3 111 L988.8 110.4 L990.2 109.7 L991.7 108.9 L993.2 108.1 L994.7 107.1 L996.2 106.1 L997.6 105.1 L999.1 104 L1000.6 102.8 L1002.1 101.7 L1003.6 100.4 L1005.1 99.2 L1006.5 98 L1008 96.7 L1009.5 95.4 L1011 94.2 L1012.5 93 L1013.9 91.7 L1015.4 90.6 L1016.9 89.4 L1018.4 88.3 L1019.9 87.3 L1021.4 86.3 L1022.8 85.3 L1024.3 84.5 L1025.8 83.7 L1027.3 83 L1028.8 82.4 L1030.2 81.9 L1031.7 81.4 L1033.2 81.1 L1034.7 80.8 L1036.2 80.7 L1037.7 80.6 L1039.1 80.7 L1040.6 80.8 L1042.1 81.1 L1043.6 81.4 L1045.1 81.9 L1046.5 82.4 L1048 83 L1049.5 83.7 L1051 84.5 L1052.5 85.3 L1053.9 86.3 L1055.4 87.3 L1056.9 88.3 L1058.4 89.4 L1059.9 90.6 L1061.4 91.7 L1062.8 93 L1064.3 94.2 L1065.8 95.4 L1067.3 96.7 L1068.8 98 L1070.2 99.2 L1071.7 100.4 L1073.2 101.7 L1074.7 102.8 L1076.2 104 L1077.7 105.1 L1079.1 106.1 L1080.6 107.1 L1082.1 108.1 L1083.6 108.9 L1085.1 109.7 L1086.5 110.4 L1088 111 L1089.5 111.5 L1091 112 L1092.5 112.3 L1093.9 112.6 L1095.4 112.7 L1096.9 112.8 L1096.9 110.6 L1095.4 110.5 L1093.9 110.4 L1092.5 110.1 L1091 109.8 L1089.5 109.3 L1088 108.8 L1086.5 108.2 L1085.1 107.5 L1083.6 106.7 L1082.1 105.9 L1080.6 104.9 L1079.1 103.9 L1077.7 102.9 L1076.2 101.8 L1074.7 100.6 L1073.2 99.5 L1071.7 98.2 L1070.2 97 L1068.8 95.8 L1067.3 94.5 L1065.8 93.2 L1064.3 92 L1062.8 90.8 L1061.4 89.5 L1059.9 88.4 L1058.4 87.2 L1056.9 86.1 L1055.4 85.1 L1053.9 84.1 L1052.5 83.1 L1051 82.3 L1049.5 81.5 L1048 80.8 L1046.5 80.2 L1045.1 79.7 L1043.6 79.2 L1042.1 78.9 L1040.6 78.6 L1039.1 78.5 L1037.7 78.4 L1036.2 78.5 L1034.7 78.6 L1033.2 78.9 L1031.7 79.2 L1030.2 79.7 L1028.8 80.2 L1027.3 80.8 L1025.8 81.5 L1024.3 82.3 L1022.8 83.1 L1021.4 84.1 L1019.9 85.1 L1018.4 86.1 L1016.9 87.2 L1015.4 88.4 L1013.9 89.5 L1012.5 90.8 L1011 92 L1009.5 93.2 L1008 94.5 L1006.5 95.8 L1005.1 97 L1003.6 98.2 L1002.1 99.5 L1000.6 100.6 L999.1 101.8 L997.6 102.9 L996.2 103.9 L994.7 104.9 L993.2 105.9 L991.7 106.7 L990.2 107.5 L988.8 108.2 L987.3 108.8 L985.8 109.3 L984.3 109.8 L982.8 110.1 L981.4 110.4 L979.9 110.5 L978.4 110.6 L976.9 110.5 L975.4 110.4 L973.9 110.1 L972.5 109.8 L971 109.3 L969.5 108.8 L968 108.2 L966.5 107.5 L965.1 106.7 L963.6 105.9 L962.1 104.9 L960.6 103.9 L959.1 102.8 L957.6 101.3 L956.2 99.6 L954.7 98 L953.2 96.6 L951.7 95.5 L950.2 94.8 L948.8 94.5 L947.3 94.5 L945.8 94.5 L944.3 94.5 L942.8 94.5 L941.4 94.5 L939.9 94.5 L938.4 94.5 L936.9 94.5 L935.4 94.5 L933.9 94.5 L932.5 94.5 L931 94.5 L929.5 94.5 L928 94.5 L926.5 94.5 L925.1 94.5 L923.6 94.5 L922.1 94.5 L920.6 94.5 L919.1 94.5 L917.6 94.5 L916.2 94.5 L914.7 94.5 L913.2 94.5 L911.7 94.5 L910.2 94.5 L908.8 94.5 L907.3 94.5 L905.8 94.5 L904.3 94.5 L902.8 94.5 L901.4 94.5 L899.9 94.5 L898.4 94.5 L896.9 94.5 L895.4 94.5 L893.9 94.5 L892.5 94.5 L891 94.5 L889.5 94.5 Z" fill="#000" fill-opacity="0.208"/>
<path d="M889.5 94.7 L891 94.7 L892.5 94.7 L893.9 94.7 L895.4 94.7 L896.9 94.7 L898.4 94.7 L899.9 94.7 L901.4 94.7 L902.8 94.7 L904.3 94.7 L905.8 94.7 L907.3 94.7 L908.8 94.7 L910.2 94.7 L911.7 94.7 L913.2 94.7 L914.7 94.7 L916.2 94.7 L917.6 94.7 L919.1 94.7 L920.6 94.7 L922.1 94.7 L923.6 94.7 L925.1 94.7 L926.5 94.7 L928 94.7 L929.5 94.7 L931 94.7 L932.5 94.7 L933.9 94.7 L935.4 94.7 L936.9 94.7 L938.4 94.7 L939.9 94.7 L941.4 94.7 L942.8 94.7 L944.3 94.7 L945.8 94.7 L947.3 94.7 L948.8 94.7 L950.2 95 L951.7 95.7 L953.2 96.8 L954.7 98.2 L956.2 99.8 L957.6 101.5 L959.1 103 L960.6 104.1 L962.1 105.1 L963.6 106.1 L965.1 106.9 L966.5 107.7 L968 108.4 L969.5 109 L971 109.5 L972.5 110 L973.9 110.3 L975.4 110.6 L976.9 110.7 L978.4 110.8 L979.9 110.7 L981.4 110.6 L982.8 110.3 L984.3 110 L985.8 109.5 L987.3 109 L988.8 108.4 L990.2 107.7 L991.7 106.9 L993.2 106.1 L994.7 105.1 L996.2 104.1 L997.6 103.1 L999.1 102 L1000.6 100.8 L1002.1 99.7 L1003.6 98.4 L1005.1 97.2 L1006.5 96 L1008 94.7 L1009.5 93.4 L1011 92.2 L1012.5 91 L1013.9 89.7 L1015.4 88.6 L1016.9 87.4 L1018.4 86.3 L1019.9 85.3 L1021.4 84.3 L1022.8 83.3 L1024.3 82.5 L1025.8 81.7 L1027.3 81 L1028.8 80.4 L1030.2 79.9 L1031.7 79.4 L1033.2 79.1 L1034.7 78.8 L1036.2 78.7 L1037.7 78.6 L1039.1 78.7 L1040.6 78.8 L1042.1 79.1 L1043.6 79.4 L1045.1 79.9 L1046.5 80.4 L1048 81 L1049.5 81.7 L1051 82.5 L1052.5 83.3 L1053.9 84.3 L1055.4 85.3 L1056.9 86.3 L1058.4 87.4 L1059.9 88.6 L1061.4 89.7 L1062.8 91 L1064.3 92.2 L1065.8 93.4 L1067.3 94.7 L1068.8 96 L1070.2 97.2 L1071.7 98.4 L1073.2 99.7 L1074.7 100.8 L1076.2 102 L1077.7 103.1 L1079.1 104.1 L1080.6 105.1 L1082.1 106.1 L1083.6 106.9 L1085.1 107.7 L1086.5 108.4 L1088 109 L1089.5 109.5 L1091 110 L1092.5 110.3 L1093.9 110.6 L1095.4 110.7 L1096.9 110.8 L1096.9 108.6 L1095.4 108.5 L1093.9 108.4 L1092.5 108.1 L1091 107.8 L1089.5 107.3 L1088 106.8 L1086.5 106.2 L1085.1 105.5 L1083.6 104.7 L1082.1 103.9 L1080.6 102.9 L1079.1 101.9 L1077.7 100.9 L1076.2 99.8 L1074.7 98.6 L1073.2 97.5 L1071.7 96.2 L1070.2 95 L1068.8 93.8 L1067.3 92.5 L1065.8 91.2 L1064.3 90 L1062.8 88.8 L1061.4 87.5 L1059.9 86.4 L1058.4 85.2 L1056.9 84.1 L1055.4 83.1 L1053.9 82.1 L1052.5 81.1 L1051 80.3 L1049.5 79.5 L1048 78.8 L1046.5 78.2 L1045.1 77.7 L1043.6 77.2 L1042.1 76.9 L1040.6 76.6 L1039.1 76.5 L1037.7 76.4 L1036.2 76.5 L1034.7 76.6 L1033.2 76.9 L1031.7 77.2 L1030.2 77.7 L1028.8 78.2 L1027.3 78.8 L1025.8 79.5 L1024.3 80.3 L1022.8 81.1 L1021.4 82.1 L1019.9 83.1 L1018.4 84.1 L1016.9 85.2 L1015.4 86.4 L1013.9 87.5 L1012.5 88.8 L1011 90 L1009.5 91.2 L1008 92.5 L1006.5 93.8 L1005.1 95 L1003.6 96.2 L1002.1 97.5 L1000.6 98.6 L999.1 99.8 L997.6 100.9 L996.2 101.9 L994.7 102.9 L993.2 103.9 L991.7 104.7 L990.2 105.5 L988.8 106.2 L987.3 106.8 L985.8 107.3 L984.3 107.8 L982.8 108.1 L981.4 108.4 L979.9 108.5 L978.4 108.6 L976.9 108.5 L975.4 108.4 L973.9 108.1 L972.5 107.8 L971 107.3 L969.5 106.8 L968 106.2 L966.5 105.5 L965.1 104.7 L963.6 103.9 L962.1 102.9 L960.6 101.9 L959.1 100.8 L957.6 99.3 L956.2 97.6 L954.7 96 L953.2 94.6 L951.7 93.5 L950.2 92.8 L948.8 92.5 L947.3 92.5 L945.8 92.5 L944.3 92.5 L942.8 92.5 L941.4 92.5 L939.9 92.5 L938.4 92.5 L936.9 92.5 L935.4 92.5 L933.9 92.5 L932.5 92.5 L931 92.5 L929.5 92.5 L928 92.5 L926.5 92.5 L925.1 92.5 L923.6 92.5 L922.1 92.5 L920.6 92.5 L919.1 92.5 L917.6 92.5 L916.2 92.5 L914.7 92.5 L913.2 92.5 L911.7 92.5 L910.2 92.5 L908.8 92.5 L907.3 92.5 L905.8 92.5 L904.3 92.5 L902.8 92.5 L901.4 92.5 L899.9 92.5 L898.4 92.5 L896.9 92.5 L895.4 92.5 L893.9 92.5 L892.5 92.5 L891 92.5 L889.5 92.5 Z" fill="#000" fill-opacity="0.171"/>
<path d="M889.5 92.7 L891 92.7 L892.5 92.7 L893.9 92.7 L895.4 92.7 L896.9 92.7 L898.4 92.7 L899.9 92.7 L901.4 92.7 L902.8 92.7 L904.3 92.7 L905.8 92.7 L907.3 92.7 L908.8 92.7 L910.2 92.7 L911.7 92.7 L913.2 92.7 L914.7 92.7 L916.2 92.7 L917.6 92.7 L919.1 92.7 L920.6 92.7 L922.1 92.7 L923.6 92.7 L925.1 92.7 L926.5 92.7 L928 92.7 L929.5 92.7 L931 92.7 L932.5 92.7 L933.9 92.7 L935.4 92.7 L936.9 92.7 L938.4 92.7 L939.9 92.7 L941.4 92.7 L942.8 92.7 L944.3 92.7 L945.8 92.7 L947.3 92.7 L948.8 92.7 L950.2 93 L951.7 93.7 L953.2 94.8 L954.7 96.2 L956.2 97.8 L957.6 99.5 L959.1 101 L960.6 102.1 L962.1 103.1 L963.6 104.1 L965.1 104.9 L966.5 105.7 L968 106.4 L969.5 107 L971 107.5 L972.5 108 L973.9 108.3 L975.4 108.6 L976.9 108.7 L978.4 108.8 L979.9 108.7 L981.4 108.6 L982.8 108.3 L984.3 108 L985.8 107.5 L987.3 107 L988.8 106.4 L990.2 105.7 L991.7 104.9 L993.2 104.1 L994.7 103.1 L996.2 102.1 L997.6 101.1 L999.1 100 L1000.6 98.8 L1002.1 97.7 L1003.6 96.4 L1005.1 95.2 L1006.5 94 L1008 92.7 L1009.5 91.4 L1011 90.2 L1012.5 89 L1013.9 87.7 L1015.4 86.6 L1016.9 85.4 L1018.4 84.3 L1019.9 83.3 L1021.4 82.3 L1022.8 81.3 L1024.3 80.5 L1025.8 79.7 L1027.3 79 L1028.8 78.4 L1030.2 77.9 L1031.7 77.4 L1033.2 77.1 L1034.7 76.8 L1036.2 76.7 L1037.7 76.6 L1039.1 76.7 L1040.6 76.8 L1042.1 77.1 L1043.6 77.4 L1045.1 77.9 L1046.5 78.4 L1048 79 L1049.5 79.7 L1051 80.5 L1052.5 81.3 L1053.9 82.3 L1055.4 83.3 L1056.9 84.3 L1058.4 85.4 L1059.9 86.6 L1061.4 87.7 L1062.8 89 L1064.3 90.2 L1065.8 91.4 L1067.3 92.7 L1068.8 94 L1070.2 95.2 L1071.7 96.4 L1073.2 97.7 L1074.7 98.8 L1076.2 100 L1077.7 101.1 L1079.1 102.1 L1080.6 103.1 L1082.1 104.1 L1083.6 104.9 L1085.1 105.7 L1086.5 106.4 L1088 107 L1089.5 107.5 L1091 108 L1092.5 108.3 L1093.9 108.6 L1095.4 108.7 L1096.9 108.8 L1096.9 106.6 L1095.4 106.5 L1093.9 106.4 L1092.5 106.1 L1091 105.8 L1089.5 105.3 L1088 104.8 L1086.5 104.2 L1085.1 103.5 L1083.6 102.7 L1082.1 101.9 L1080.6 100.9 L1079.1 99.9 L1077.7 98.9 L1076.2 97.8 L1074.7 96.6 L1073.2 95.5 L1071.7 94.2 L1070.2 93 L1068.8 91.8 L1067.3 90.5 L1065.8 89.2 L1064.3 88 L1062.8 86.8 L1061.4 85.5 L1059.9 84.4 L1058.4 83.2 L1056.9 82.1 L1055.4 81.1 L1053.9 80.1 L1052.5 79.1 L1051 78.3 L1049.5 77.5 L1048 76.8 L1046.5 76.2 L1045.1 75.7 L1043.6 75.2 L1042.1 74.9 L1040.6 74.6 L1039.1 74.5 L1037.7 74.4 L1036.2 74.5 L1034.7 74.6 L1033.2 74.9 L1031.7 75.2 L1030.2 75.7 L1028.8 76.2 L1027.3 76.8 L1025.8 77.5 L1024.3 78.3 L1022.8 79.1 L1021.4 80.1 L1019.9 81.1 L1018.4 82.1 L1016.9 83.2 L1015.4 84.4 L1013.9 85.5 L1012.5 86.8 L1011 88 L1009.5 89.2 L1008 90.5 L1006.5 91.8 L1005.1 93 L1003.6 94.2 L1002.1 95.5 L1000.6 96.6 L999.1 97.8 L997.6 98.9 L996.2 99.9 L994.7 100.9 L993.2 101.9 L991.7 102.7 L990.2 103.5 L988.8 104.2 L987.3 104.8 L985.8 105.3 L984.3 105.8 L982.8 106.1 L981.4 106.4 L979.9 106.5 L978.4 106.6 L976.9 106.5 L975.4 106.4 L973.9 106.1 L972.5 105.8 L971 105.3 L969.5 104.8 L968 104.2 L966.5 103.5 L965.1 102.7 L963.6 101.9 L962.1 100.9 L960.6 99.9 L959.1 98.8 L957.6 97.3 L956.2 95.6 L954.7 94 L953.2 92.6 L951.7 91.5 L950.2 90.8 L948.8 90.5 L947.3 90.5 L945.8 90.5 L944.3 90.5 L942.8 90.5 L941.4 90.5 L939.9 90.5 L938.4 90.5 L936.9 90.5 L935.4 90.5 L933.9 90.5 L932.5 90.5 L931 90.5 L929.5 90.5 L928 90.5 L926.5 90.5 L925.1 90.5 L923.6 90.5 L922.1 90.5 L920.6 90.5 L919.1 90.5 L917.6 90.5 L916.2 90.5 L914.7 90.5 L913.2 90.5 L911.7 90.5 L910.2 90.5 L908.8 90.5 L907.3 90.5 L905.8 90.5 L904.3 90.5 L902.8 90.5 L901.4 90.5 L899.9 90.5 L898.4 90.5 L896.9 90.5 L895.4 90.5 L893.9 90.5 L892.5 90.5 L891 90.5 L889.5 90.5 Z" fill="#000" fill-opacity="0.135"/>
<path d="M889.5 90.7 L891 90.7 L892.5 90.7 L893.9 90.7 L895.4 90.7 L896.9 90.7 L898.4 90.7 L899.9 90.7 L901.4 90.7 L902.8 90.7 L904.3 90.7 L905.8 90.7 L907.3 90.7 L908.8 90.7 L910.2 90.7 L911.7 90.7 L913.2 90.7 L914.7 90.7 L916.2 90.7 L917.6 90.7 L919.1 90.7 L920.6 90.7 L922.1 90.7 L923.6 90.7 L925.1 90.7 L926.5 90.7 L928 90.7 L929.5 90.7 L931 90.7 L932.5 90.7 L933.9 90.7 L935.4 90.7 L936.9 90.7 L938.4 90.7 L939.9 90.7 L941.4 90.7 L942.8 90.7 L944.3 90.7 L945.8 90.7 L947.3 90.7 L948.8 90.7 L950.2 91 L951.7 91.7 L953.2 92.8 L954.7 94.2 L956.2 95.8 L957.6 97.5 L959.1 99 L960.6 100.1 L962.1 101.1 L963.6 102.1 L965.1 102.9 L966.5 103.7 L968 104.4 L969.5 105 L971 105.5 L972.5 106 L973.9 106.3 L975.4 106.6 L976.9 106.7 L978.4 106.8 L979.9 106.7 L981.4 106.6 L982.8 106.3 L984.3 106 L985.8 105.5 L987.3 105 L988.8 104.4 L990.2 103.7 L991.7 102.9 L993.2 102.1 L994.7 101.1 L996.2 100.1 L997.6 99.1 L999.1 98 L1000.6 96.8 L1002.1 95.7 L1003.6 94.4 L1005.1 93.2 L1006.5 92 L1008 90.7 L1009.5 89.4 L1011 88.2 L1012.5 87 L1013.9 85.7 L1015.4 84.6 L1016.9 83.4 L1018.4 82.3 L1019.9 81.3 L1021.4 80.3 L1022.8 79.3 L1024.3 78.5 L1025.8 77.7 L1027.3 77 L1028.8 76.4 L1030.2 75.9 L1031.7 75.4 L1033.2 75.1 L1034.7 74.8 L1036.2 74.7 L1037.7 74.6 L1039.1 74.7 L1040.6 74.8 L1042.1 75.1 L1043.6 75.4 L1045.1 75.9 L1046.5 76.4 L1048 77 L1049.5 77.7 L1051 78.5 L1052.5 79.3 L1053.9 80.3 L1055.4 81.3 L1056.9 82.3 L1058.4 83.4 L1059.9 84.6 L1061.4 85.7 L1062.8 87 L1064.3 88.2 L1065.8 89.4 L1067.3 90.7 L1068.8 92 L1070.2 93.2 L1071.7 94.4 L1073.2 95.7 L1074.7 96.8 L1076.2 98 L1077.7 99.1 L1079.1 100.1 L1080.6 101.1 L1082.1 102.1 L1083.6 102.9 L1085.1 103.7 L1086.5 104.4 L1088 105 L1089.5 105.5 L1091 106 L1092.5 106.3 L1093.9 106.6 L1095.4 106.7 L1096.9 106.8 L1096.9 104.6 L1095.4 104.5 L1093.9 104.4 L1092.5 104.1 L1091 103.8 L1089.5 103.3 L1088 102.8 L1086.5 102.2 L1085.1 101.5 L1083.6 100.7 L1082.1 99.9 L1080.6 98.9 L1079.1 97.9 L1077.7 96.9 L1076.2 95.8 L1074.7 94.6 L1073.2 93.5 L1071.7 92.2 L1070.2 91 L1068.8 89.8 L1067.3 88.5 L1065.8 87.2 L1064.3 86 L1062.8 84.8 L1061.4 83.5 L1059.9 82.4 L1058.4 81.2 L1056.9 80.1 L1055.4 79.1 L1053.9 78.1 L1052.5 77.1 L1051 76.3 L1049.5 75.5 L1048 74.8 L1046.5 74.2 L1045.1 73.7 L1043.6 73.2 L1042.1 72.9 L1040.6 72.6 L1039.1 72.5 L1037.7 72.4 L1036.2 72.5 L1034.7 72.6 L1033.2 72.9 L1031.7 73.2 L1030.2 73.7 L1028.8 74.2 L1027.3 74.8 L1025.8 75.5 L1024.3 76.3 L1022.8 77.1 L1021.4 78.1 L1019.9 79.1 L1018.4 80.1 L1016.9 81.2 L1015.4 82.4 L1013.9 83.5 L1012.5 84.8 L1011 86 L1009.5 87.2 L1008 88.5 L1006.5 89.8 L1005.1 91 L1003.6 92.2 L1002.1 93.5 L1000.6 94.6 L999.1 95.8 L997.6 96.9 L996.2 97.9 L994.7 98.9 L993.2 99.9 L991.7 100.7 L990.2 101.5 L988.8 102.2 L987.3 102.8 L985.8 103.3 L984.3 103.8 L982.8 104.1 L981.4 104.4 L979.9 104.5 L978.4 104.6 L976.9 104.5 L975.4 104.4 L973.9 104.1 L972.5 103.8 L971 103.3 L969.5 102.8 L968 102.2 L966.5 101.5 L965.1 100.7 L963.6 99.9 L962.1 98.9 L960.6 97.9 L959.1 96.8 L957.6 95.3 L956.2 93.6 L954.7 92 L953.2 90.6 L951.7 89.5 L950.2 88.8 L948.8 88.5 L947.3 88.5 L945.8 88.5 L944.3 88.5 L942.8 88.5 L941.4 88.5 L939.9 88.5 L938.4 88.5 L936.9 88.5 L935.4 88.5 L933.9 88.5 L932.5 88.5 L931 88.5 L929.5 88.5 L928 88.5 L926.5 88.5 L925.1 88.5 L923.6 88.5 L922.1 88.5 L920.6 88.5 L919.1 88.5 L917.6 88.5 L916.2 88.5 L914.7 88.5 L913.2 88.5 L911.7 88.5 L910.2 88.5 L908.8 88.5 L907.3 88.5 L905.8 88.5 L904.3 88.5 L902.8 88.5 L901.4 88.5 L899.9 88.5 L898.4 88.5 L896.9 88.5 L895.4 88.5 L893.9 88.5 L892.5 88.5 L891 88.5 L889.5 88.5 Z" fill="#000" fill-opacity="0.101"/>
<path d="M889.5 88.7 L891 88.7 L892.5 88.7 L893.9 88.7 L895.4 88.7 L896.9 88.7 L898.4 88.7 L899.9 88.7 L901.4 88.7 L902.8 88.7 L904.3 88.7 L905.8 88.7 L907.3 88.7 L908.8 88.7 L910.2 88.7 L911.7 88.7 L913.2 88.7 L914.7 88.7 L916.2 88.7 L917.6 88.7 L919.1 88.7 L920.6 88.7 L922.1 88.7 L923.6 88.7 L925.1 88.7 L926.5 88.7 L928 88.7 L929.5 88.7 L931 88.7 L932.5 88.7 L933.9 88.7 L935.4 88.7 L936.9 88.7 L938.4 88.7 L939.9 88.7 L941.4 88.7 L942.8 88.7 L944.3 88.7 L945.8 88.7 L947.3 88.7 L948.8 88.7 L950.2 89 L951.7 89.7 L953.2 90.8 L954.7 92.2 L956.2 93.8 L957.6 95.5 L959.1 97 L960.6 98.1 L962.1 99.1 L963.6 100.1 L965.1 100.9 L966.5 101.7 L968 102.4 L969.5 103 L971 103.5 L972.5 104 L973.9 104.3 L975.4 104.6 L976.9 104.7 L978.4 104.8 L979.9 104.7 L981.4 104.6 L982.8 104.3 L984.3 104 L985.8 103.5 L987.3 103 L988.8 102.4 L990.2 101.7 L991.7 100.9 L993.2 100.1 L994.7 99.1 L996.2 98.1 L997.6 97.1 L999.1 96 L1000.6 94.8 L1002.1 93.7 L1003.6 92.4 L1005.1 91.2 L1006.5 90 L1008 88.7 L1009.5 87.4 L1011 86.2 L1012.5 85 L1013.9 83.7 L1015.4 82.6 L1016.9 81.4 L1018.4 80.3 L1019.9 79.3 L1021.4 78.3 L1022.8 77.3 L1024.3 76.5 L1025.8 75.7 L1027.3 75 L1028.8 74.4 L1030.2 73.9 L1031.7 73.4 L1033.2 73.1 L1034.7 72.8 L1036.2 72.7 L1037.7 72.6 L1039.1 72.7 L1040.6 72.8 L1042.1 73.1 L1043.6 73.4 L1045.1 73.9 L1046.5 74.4 L1048 75 L1049.5 75.7 L1051 76.5 L1052.5 77.3 L1053.9 78.3 L1055.4 79.3 L1056.9 80.3 L1058.4 81.4 L1059.9 82.6 L1061.4 83.7 L1062.8 85 L1064.3 86.2 L1065.8 87.4 L1067.3 88.7 L1068.8 90 L1070.2 91.2 L1071.7 92.4 L1073.2 93.7 L1074.7 94.8 L1076.2 96 L1077.7 97.1 L1079.1 98.1 L1080.6 99.1 L1082.1 100.1 L1083.6 100.9 L1085.1 101.7 L1086.5 102.4 L1088 103 L1089.5 103.5 L1091 104 L1092.5 104.3 L1093.9 104.6 L1095.4 104.7 L1096.9 104.8 L1096.9 102.6 L1095.4 102.5 L1093.9 102.4 L1092.5 102.1 L1091 101.8 L1089.5 101.3 L1088 100.8 L1086.5 100.2 L1085.1 99.5 L1083.6 98.7 L1082.1 97.9 L1080.6 96.9 L1079.1 95.9 L1077.7 94.9 L1076.2 93.8 L1074.7 92.6 L1073.2 91.5 L1071.7 90.2 L1070.2 89 L1068.8 87.8 L1067.3 86.5 L1065.8 85.2 L1064.3 84 L1062.8 82.8 L1061.4 81.5 L1059.9 80.4 L1058.4 79.2 L1056.9 78.1 L1055.4 77.1 L1053.9 76.1 L1052.5 75.1 L1051 74.3 L1049.5 73.5 L1048 72.8 L1046.5 72.2 L1045.1 71.7 L1043.6 71.2 L1042.1 70.9 L1040.6 70.6 L1039.1 70.5 L1037.7 70.4 L1036.2 70.5 L1034.7 70.6 L1033.2 70.9 L1031.7 71.2 L1030.2 71.7 L1028.8 72.2 L1027.3 72.8 L1025.8 73.5 L1024.3 74.3 L1022.8 75.1 L1021.4 76.1 L1019.9 77.1 L1018.4 78.1 L1016.9 79.2 L1015.4 80.4 L1013.9 81.5 L1012.5 82.8 L1011 84 L1009.5 85.2 L1008 86.5 L1006.5 87.8 L1005.1 89 L1003.6 90.2 L1002.1 91.5 L1000.6 92.6 L999.1 93.8 L997.6 94.9 L996.2 95.9 L994.7 96.9 L993.2 97.9 L991.7 98.7 L990.2 99.5 L988.8 100.2 L987.3 100.8 L985.8 101.3 L984.3 101.8 L982.8 102.1 L981.4 102.4 L979.9 102.5 L978.4 102.6 L976.9 102.5 L975.4 102.4 L973.9 102.1 L972.5 101.8 L971 101.3 L969.5 100.8 L968 100.2 L966.5 99.5 L965.1 98.7 L963.6 97.9 L962.1 96.9 L960.6 95.9 L959.1 94.8 L957.6 93.3 L956.2 91.6 L954.7 90 L953.2 88.6 L951.7 87.5 L950.2 86.8 L948.8 86.5 L947.3 86.5 L945.8 86.5 L944.3 86.5 L942.8 86.5 L941.4 86.5 L939.9 86.5 L938.4 86.5 L936.9 86.5 L935.4 86.5 L933.9 86.5 L932.5 86.5 L931 86.5 L929.5 86.5 L928 86.5 L926.5 86.5 L925.1 86.5 L923.6 86.5 L922.1 86.5 L920.6 86.5 L919.1 86.5 L917.6 86.5 L916.2 86.5 L914.7 86.5 L913.2 86.5 L911.7 86.5 L910.2 86.5 L908.8 86.5 L907.3 86.5 L905.8 86.5 L904.3 86.5 L902.8 86.5 L901.4 86.5 L899.9 86.5 L898.4 86.5 L896.9 86.5 L895.4 86.5 L893.9 86.5 L892.5 86.5 L891 86.5 L889.5 86.5 Z" fill="#000" fill-opacity="0.069"/>
<path d="M889.5 86.7 L891 86.7 L892.5 86.7 L893.9 86.7 L895.4 86.7 L896.9 86.7 L898.4 86.7 L899.9 86.7 L901.4 86.7 L902.8 86.7 L904.3 86.7 L905.8 86.7 L907.3 86.7 L908.8 86.7 L910.2 86.7 L911.7 86.7 L913.2 86.7 L914.7 86.7 L916.2 86.7 L917.6 86.7 L919.1 86.7 L920.6 86.7 L922.1 86.7 L923.6 86.7 L925.1 86.7 L926.5 86.7 L928 86.7 L929.5 86.7 L931 86.7 L932.5 86.7 L933.9 86.7 L935.4 86.7 L936.9 86.7 L938.4 86.7 L939.9 86.7 L941.4 86.7 L942.8 86.7 L944.3 86.7 L945.8 86.7 L947.3 86.7 L948.8 86.7 L950.2 87 L951.7 87.7 L953.2 88.8 L954.7 90.2 L956.2 91.8 L957.6 93.5 L959.1 95 L960.6 96.1 L962.1 97.1 L963.6 98.1 L965.1 98.9 L966.5 99.7 L968 100.4 L969.5 101 L971 101.5 L972.5 102 L973.9 102.3 L975.4 102.6 L976.9 102.7 L978.4 102.8 L979.9 102.7 L981.4 102.6 L982.8 102.3 L984.3 102 L985.8 101.5 L987.3 101 L988.8 100.4 L990.2 99.7 L991.7 98.9 L993.2 98.1 L994.7 97.1 L996.2 96.1 L997.6 95.1 L999.1 94 L1000.6 92.8 L1002.1 91.7 L1003.6 90.4 L1005.1 89.2 L1006.5 88 L1008 86.7 L1009.5 85.4 L1011 84.2 L1012.5 83 L1013.9 81.7 L1015.4 80.6 L1016.9 79.4 L1018.4 78.3 L1019.9 77.3 L1021.4 76.3 L1022.8 75.3 L1024.3 74.5 L1025.8 73.7 L1027.3 73 L1028.8 72.4 L1030.2 71.9 L1031.7 71.4 L1033.2 71.1 L1034.7 70.8 L1036.2 70.7 L1037.7 70.6 L1039.1 70.7 L1040.6 70.8 L1042.1 71.1 L1043.6 71.4 L1045.1 71.9 L1046.5 72.4 L1048 73 L1049.5 73.7 L1051 74.5 L1052.5 75.3 L1053.9 76.3 L1055.4 77.3 L1056.9 78.3 L1058.4 79.4 L1059.9 80.6 L1061.4 81.7 L1062.8 83 L1064.3 84.2 L1065.8 85.4 L1067.3 86.7 L1068.8 88 L1070.2 89.2 L1071.7 90.4 L1073.2 91.7 L1074.7 92.8 L1076.2 94 L1077.7 95.1 L1079.1 96.1 L1080.6 97.1 L1082.1 98.1 L1083.6 98.9 L1085.1 99.7 L1086.5 100.4 L1088 101 L1089.5 101.5 L1091 102 L1092.5 102.3 L1093.9 102.6 L1095.4 102.7 L1096.9 102.8 L1096.9 100.6 L1095.4 100.5 L1093.9 100.4 L1092.5 100.1 L1091 99.8 L1089.5 99.3 L1088 98.8 L1086.5 98.2 L1085.1 97.5 L1083.6 96.7 L1082.1 95.9 L1080.6 94.9 L1079.1 93.9 L1077.7 92.9 L1076.2 91.8 L1074.7 90.6 L1073.2 89.5 L1071.7 88.2 L1070.2 87 L1068.8 85.8 L1067.3 84.5 L1065.8 83.2 L1064.3 82 L1062.8 80.8 L1061.4 79.5 L1059.9 78.4 L1058.4 77.2 L1056.9 76.1 L1055.4 75.1 L1053.9 74.1 L1052.5 73.1 L1051 72.3 L1049.5 71.5 L1048 70.8 L1046.5 70.2 L1045.1 69.7 L1043.6 69.2 L1042.1 68.9 L1040.6 68.6 L1039.1 68.5 L1037.7 68.4 L1036.2 68.5 L1034.7 68.6 L1033.2 68.9 L1031.7 69.2 L1030.2 69.7 L1028.8 70.2 L1027.3 70.8 L1025.8 71.5 L1024.3 72.3 L1022.8 73.1 L1021.4 74.1 L1019.9 75.1 L1018.4 76.1 L1016.9 77.2 L1015.4 78.4 L1013.9 79.5 L1012.5 80.8 L1011 82 L1009.5 83.2 L1008 84.5 L1006.5 85.8 L1005.1 87 L1003.6 88.2 L1002.1 89.5 L1000.6 90.6 L999.1 91.8 L997.6 92.9 L996.2 93.9 L994.7 94.9 L993.2 95.9 L991.7 96.7 L990.2 97.5 L988.8 98.2 L987.3 98.8 L985.8 99.3 L984.3 99.8 L982.8 100.1 L981.4 100.4 L979.9 100.5 L978.4 100.6 L976.9 100.5 L975.4 100.4 L973.9 100.1 L972.5 99.8 L971 99.3 L969.5 98.8 L968 98.2 L966.5 97.5 L965.1 96.7 L963.6 95.9 L962.1 94.9 L960.6 93.9 L959.1 92.8 L957.6 91.3 L956.2 89.6 L954.7 88 L953.2 86.6 L951.7 85.5 L950.2 84.8 L948.8 84.5 L947.3 84.5 L945.8 84.5 L944.3 84.5 L942.8 84.5 L941.4 84.5 L939.9 84.5 L938.4 84.5 L936.9 84.5 L935.4 84.5 L933.9 84.5 L932.5 84.5 L931 84.5 L929.5 84.5 L928 84.5 L926.5 84.5 L925.1 84.5 L923.6 84.5 L922.1 84.5 L920.6 84.5 L919.1 84.5 L917.6 84.5 L916.2 84.5 L914.7 84.5 L913.2 84.5 L911.7 84.5 L910.2 84.5 L908.8 84.5 L907.3 84.5 L905.8 84.5 L904.3 84.5 L902.8 84.5 L901.4 84.5 L899.9 84.5 L898.4 84.5 L896.9 84.5 L895.4 84.5 L893.9 84.5 L892.5 84.5 L891 84.5 L889.5 84.5 Z" fill="#000" fill-opacity="0.041"/>
<path d="M889.5 84.7 L891 84.7 L892.5 84.7 L893.9 84.7 L895.4 84.7 L896.9 84.7 L898.4 84.7 L899.9 84.7 L901.4 84.7 L902.8 84.7 L904.3 84.7 L905.8 84.7 L907.3 84.7 L908.8 84.7 L910.2 84.7 L911.7 84.7 L913.2 84.7 L914.7 84.7 L916.2 84.7 L917.6 84.7 L919.1 84.7 L920.6 84.7 L922.1 84.7 L923.6 84.7 L925.1 84.7 L926.5 84.7 L928 84.7 L929.5 84.7 L931 84.7 L932.5 84.7 L933.9 84.7 L935.4 84.7 L936.9 84.7 L938.4 84.7 L939.9 84.7 L941.4 84.7 L942.8 84.7 L944.3 84.7 L945.8 84.7 L947.3 84.7 L948.8 84.7 L950.2 85 L951.7 85.7 L953.2 86.8 L954.7 88.2 L956.2 89.8 L957.6 91.5 L959.1 93 L960.6 94.1 L962.1 95.1 L963.6 96.1 L965.1 96.9 L966.5 97.7 L968 98.4 L969.5 99 L971 99.5 L972.5 100 L973.9 100.3 L975.4 100.6 L976.9 100.7 L978.4 100.8 L979.9 100.7 L981.4 100.6 L982.8 100.3 L984.3 100 L985.8 99.5 L987.3 99 L988.8 98.4 L990.2 97.7 L991.7 96.9 L993.2 96.1 L994.7 95.1 L996.2 94.1 L997.6 93.1 L999.1 92 L1000.6 90.8 L1002.1 89.7 L1003.6 88.4 L1005.1 87.2 L1006.5 86 L1008 84.7 L1009.5 83.4 L1011 82.2 L1012.5 81 L1013.9 79.7 L1015.4 78.6 L1016.9 77.4 L1018.4 76.3 L1019.9 75.3 L1021.4 74.3 L1022.8 73.3 L1024.3 72.5 L1025.8 71.7 L1027.3 71 L1028.8 70.4 L1030.2 69.9 L1031.7 69.4 L1033.2 69.1 L1034.7 68.8 L1036.2 68.7 L1037.7 68.6 L1039.1 68.7 L1040.6 68.8 L1042.1 69.1 L1043.6 69.4 L1045.1 69.9 L1046.5 70.4 L1048 71 L1049.5 71.7 L1051 72.5 L1052.5 73.3 L1053.9 74.3 L1055.4 75.3 L1056.9 76.3 L1058.4 77.4 L1059.9 78.6 L1061.4 79.7 L1062.8 81 L1064.3 82.2 L1065.8 83.4 L1067.3 84.7 L1068.8 86 L1070.2 87.2 L1071.7 88.4 L1073.2 89.7 L1074.7 90.8 L1076.2 92 L1077.7 93.1 L1079.1 94.1 L1080.6 95.1 L1082.1 96.1 L1083.6 96.9 L1085.1 97.7 L1086.5 98.4 L1088 99 L1089.5 99.5 L1091 100 L1092.5 100.3 L1093.9 100.6 L1095.4 100.7 L1096.9 100.8 L1096.9 98.6 L1095.4 98.5 L1093.9 98.4 L1092.5 98.1 L1091 97.8 L1089.5 97.3 L1088 96.8 L1086.5 96.2 L1085.1 95.5 L1083.6 94.7 L1082.1 93.9 L1080.6 92.9 L1079.1 91.9 L1077.7 90.9 L1076.2 89.8 L1074.7 88.6 L1073.2 87.5 L1071.7 86.2 L1070.2 85 L1068.8 83.8 L1067.3 82.5 L1065.8 81.2 L1064.3 80 L1062.8 78.8 L1061.4 77.5 L1059.9 76.4 L1058.4 75.2 L1056.9 74.1 L1055.4 73.1 L1053.9 72.1 L1052.5 71.1 L1051 70.3 L1049.5 69.5 L1048 68.8 L1046.5 68.2 L1045.1 67.7 L1043.6 67.2 L1042.1 66.9 L1040.6 66.6 L1039.1 66.5 L1037.7 66.4 L1036.2 66.5 L1034.7 66.6 L1033.2 66.9 L1031.7 67.2 L1030.2 67.7 L1028.8 68.2 L1027.3 68.8 L1025.8 69.5 L1024.3 70.3 L1022.8 71.1 L1021.4 72.1 L1019.9 73.1 L1018.4 74.1 L1016.9 75.2 L1015.4 76.4 L1013.9 77.5 L1012.5 78.8 L1011 80 L1009.5 81.2 L1008 82.5 L1006.5 83.8 L1005.1 85 L1003.6 86.2 L1002.1 87.5 L1000.6 88.6 L999.1 89.8 L997.6 90.9 L996.2 91.9 L994.7 92.9 L993.2 93.9 L991.7 94.7 L990.2 95.5 L988.8 96.2 L987.3 96.8 L985.8 97.3 L984.3 97.8 L982.8 98.1 L981.4 98.4 L979.9 98.5 L978.4 98.6 L976.9 98.5 L975.4 98.4 L973.9 98.1 L972.5 97.8 L971 97.3 L969.5 96.8 L968 96.2 L966.5 95.5 L965.1 94.7 L963.6 93.9 L962.1 92.9 L960.6 91.9 L959.1 90.8 L957.6 89.3 L956.2 87.6 L954.7 86 L953.2 84.6 L951.7 83.5 L950.2 82.8 L948.8 82.5 L947.3 82.5 L945.8 82.5 L944.3 82.5 L942.8 82.5 L941.4 82.5 L939.9 82.5 L938.4 82.5 L936.9 82.5 L935.4 82.5 L933.9 82.5 L932.5 82.5 L931 82.5 L929.5 82.5 L928 82.5 L926.5 82.5 L925.1 82.5 L923.6 82.5 L922.1 82.5 L920.6 82.5 L919.1 82.5 L917.6 82.5 L916.2 82.5 L914.7 82.5 L913.2 82.5 L911.7 82.5 L910.2 82.5 L908.8 82.5 L907.3 82.5 L905.8 82.5 L904.3 82.5 L902.8 82.5 L901.4 82.5 L899.9 82.5 L898.4 82.5 L896.9 82.5 L895.4 82.5 L893.9 82.5 L892.5 82.5 L891 82.5 L889.5 82.5 Z" fill="#000" fill-opacity="0.017"/>
<path d="M948.8 106.7 L950.2 107 L951.7 107.7 L953.2 108.8 L954.7 110.2 L956.2 111.8 L957.6 113.5 L959.1 115 L960.6 116.1 L962.1 117.1 L963.6 118.1 L965.1 118.9 L966.5 119.7 L968 120.4 L969.5 121 L971 121.5 L972.5 122 L973.9 122.3 L975.4 122.6 L976.9 122.7 L978.4 122.8 L979.9 122.7 L981.4 122.6 L982.8 122.3 L984.3 122 L985.8 121.5 L987.3 121 L988.8 120.4 L990.2 119.7 L991.7 118.9 L993.2 118.1 L994.7 117.1 L996.2 116.1 L997.6 115.1 L999.1 114 L1000.6 112.8 L1002.1 111.7 L1003.6 110.4 L1005.1 109.2 L1006.5 108 L1008 106.7 L1009.5 105.4 L1011 104.2 L1012.5 103 L1013.9 101.7 L1015.4 100.6 L1016.9 99.4 L1018.4 98.3 L1019.9 97.3 L1021.4 96.3 L1022.8 95.3 L1024.3 94.5 L1025.8 93.7 L1027.3 93 L1028.8 92.4 L1030.2 91.9 L1031.7 91.4 L1033.2 91.1 L1034.7 90.8 L1036.2 90.7 L1037.7 90.6 L1039.1 90.7 L1040.6 90.8 L1042.1 91.1 L1043.6 91.4 L1045.1 91.9 L1046.5 92.4 L1048 93 L1049.5 93.7 L1051 94.5 L1052.5 95.3 L1053.9 96.3 L1055.4 97.3 L1056.9 98.3 L1058.4 99.4 L1059.9 100.6 L1061.4 101.7 L1062.8 103 L1064.3 104.2 L1065.8 105.4 L1067.3 106.7 L1068.8 108 L1070.2 109.2 L1071.7 110.4 L1073.2 111.7 L1074.7 112.8 L1076.2 114 L1077.7 115.1 L1079.1 116.1 L1080.6 117.1 L1082.1 118.1 L1083.6 118.9 L1085.1 119.7 L1086.5 120.4 L1088 121 L1089.5 121.5 L1091 122 L1092.5 122.3 L1093.9 122.6 L1095.4 122.7 L1096.9 122.8 L1096.9 120.4 L1095.4 120.3 L1093.9 120.2 L1092.5 119.9 L1091 119.6 L1089.5 119.1 L1088 118.6 L1086.5 118 L1085.1 117.3 L1083.6 116.5 L1082.1 115.7 L1080.6 114.7 L1079.1 113.7 L1077.7 112.7 L1076.2 111.6 L1074.7 110.4 L1073.2 109.3 L1071.7 108 L1070.2 106.8 L1068.8 105.6 L1067.3 104.3 L1065.8 103 L1064.3 101.8 L1062.8 100.6 L1061.4 99.3 L1059.9 98.2 L1058.4 97 L1056.9 95.9 L1055.4 94.9 L1053.9 93.9 L1052.5 92.9 L1051 92.1 L1049.5 91.3 L1048 90.6 L1046.5 90 L1045.1 89.5 L1043.6 89 L1042.1 88.7 L1040.6 88.4 L1039.1 88.3 L1037.7 88.2 L1036.2 88.3 L1034.7 88.4 L1033.2 88.7 L1031.7 89 L1030.2 89.5 L1028.8 90 L1027.3 90.6 L1025.8 91.3 L1024.3 92.1 L1022.8 92.9 L1021.4 93.9 L1019.9 94.9 L1018.4 95.9 L1016.9 97 L1015.4 98.2 L1013.9 99.3 L1012.5 100.6 L1011 101.8 L1009.5 103 L1008 104.3 L1006.5 105.6 L1005.1 106.8 L1003.6 108 L1002.1 109.3 L1000.6 110.4 L999.1 111.6 L997.6 112.7 L996.2 113.7 L994.7 114.7 L993.2 115.7 L991.7 116.5 L990.2 117.3 L988.8 118 L987.3 118.6 L985.8 119.1 L984.3 119.6 L982.8 119.9 L981.4 120.2 L979.9 120.3 L978.4 120.4 L976.9 120.3 L975.4 120.2 L973.9 119.9 L972.5 119.6 L971 119.1 L969.5 118.6 L968 118 L966.5 117.3 L965.1 116.5 L963.6 115.7 L962.1 114.7 L960.6 113.7 L959.1 112.6 L957.6 111.1 L956.2 109.4 L954.7 107.8 L953.2 106.4 L951.7 105.3 L950.2 104.6 L948.8 104.3 Z" fill="#000" fill-opacity="0.380"/>
<path d="M948.8 104.5 L950.2 104.8 L951.7 105.5 L953.2 106.6 L954.7 108 L956.2 109.6 L957.6 111.3 L959.1 112.8 L960.6 113.9 L962.1 114.9 L963.6 115.9 L965.1 116.7 L966.5 117.5 L968 118.2 L969.5 118.8 L971 119.3 L972.5 119.8 L973.9 120.1 L975.4 120.4 L976.9 120.5 L978.4 120.6 L979.9 120.5 L981.4 120.4 L982.8 120.1 L984.3 119.8 L985.8 119.3 L987.3 118.8 L988.8 118.2 L990.2 117.5 L991.7 116.7 L993.2 115.9 L994.7 114.9 L996.2 113.9 L997.6 112.9 L999.1 111.8 L1000.6 110.6 L1002.1 109.5 L1003.6 108.2 L1005.1 107 L1006.5 105.8 L1008 104.5 L1009.5 103.2 L1011 102 L1012.5 100.8 L1013.9 99.5 L1015.4 98.4 L1016.9 97.2 L1018.4 96.1 L1019.9 95.1 L1021.4 94.1 L1022.8 93.1 L1024.3 92.3 L1025.8 91.5 L1027.3 90.8 L1028.8 90.2 L1030.2 89.7 L1031.7 89.2 L1033.2 88.9 L1034.7 88.6 L1036.2 88.5 L1037.7 88.4 L1039.1 88.5 L1040.6 88.6 L1042.1 88.9 L1043.6 89.2 L1045.1 89.7 L1046.5 90.2 L1048 90.8 L1049.5 91.5 L1051 92.3 L1052.5 93.1 L1053.9 94.1 L1055.4 95.1 L1056.9 96.1 L1058.4 97.2 L1059.9 98.4 L1061.4 99.5 L1062.8 100.8 L1064.3 102 L1065.8 103.2 L1067.3 104.5 L1068.8 105.8 L1070.2 107 L1071.7 108.2 L1073.2 109.5 L1074.7 110.6 L1076.2 111.8 L1077.7 112.9 L1079.1 113.9 L1080.6 114.9 L1082.1 115.9 L1083.6 116.7 L1085.1 117.5 L1086.5 118.2 L1088 118.8 L1089.5 119.3 L1091 119.8 L1092.5 120.1 L1093.9 120.4 L1095.4 120.5 L1096.9 120.6 L1096.9 118.2 L1095.4 118.1 L1093.9 118 L1092.5 117.7 L1091 117.4 L1089.5 116.9 L1088 116.4 L1086.5 115.8 L1085.1 115.1 L1083.6 114.3 L1082.1 113.5 L1080.6 112.5 L1079.1 111.5 L1077.7 110.5 L1076.2 109.4 L1074.7 108.2 L1073.2 107.1 L1071.7 105.8 L1070.2 104.6 L1068.8 103.4 L1067.3 102.1 L1065.8 100.8 L1064.3 99.6 L1062.8 98.4 L1061.4 97.1 L1059.9 96 L1058.4 94.8 L1056.9 93.7 L1055.4 92.7 L1053.9 91.7 L1052.5 90.7 L1051 89.9 L1049.5 89.1 L1048 88.4 L1046.5 87.8 L1045.1 87.3 L1043.6 86.8 L1042.1 86.5 L1040.6 86.2 L1039.1 86.1 L1037.7 86 L1036.2 86.1 L1034.7 86.2 L1033.2 86.5 L1031.7 86.8 L1030.2 87.3 L1028.8 87.8 L1027.3 88.4 L1025.8 89.1 L1024.3 89.9 L1022.8 90.7 L1021.4 91.7 L1019.9 92.7 L1018.4 93.7 L1016.9 94.8 L1015.4 96 L1013.9 97.1 L1012.5 98.4 L1011 99.6 L1009.5 100.8 L1008 102.1 L1006.5 103.4 L1005.1 104.6 L1003.6 105.8 L1002.1 107.1 L1000.6 108.2 L999.1 109.4 L997.6 110.5 L996.2 111.5 L994.7 112.5 L993.2 113.5 L991.7 114.3 L990.2 115.1 L988.8 115.8 L987.3 116.4 L985.8 116.9 L984.3 117.4 L982.8 117.7 L981.4 118 L979.9 118.1 L978.4 118.2 L976.9 118.1 L975.4 118 L973.9 117.7 L972.5 117.4 L971 116.9 L969.5 116.4 L968 115.8 L966.5 115.1 L965.1 114.3 L963.6 113.5 L962.1 112.5 L960.6 111.5 L959.1 110.4 L957.6 108.9 L956.2 107.2 L954.7 105.6 L953.2 104.2 L951.7 103.1 L950.2 102.4 L948.8 102.1 Z" fill="#000" fill-opacity="0.335"/>
<path d="M948.8 102.3 L950.2 102.6 L951.7 103.3 L953.2 104.4 L954.7 105.8 L956.2 107.4 L957.6 109.1 L959.1 110.6 L960.6 111.7 L962.1 112.7 L963.6 113.7 L965.1 114.5 L966.5 115.3 L968 116 L969.5 116.6 L971 117.1 L972.5 117.6 L973.9 117.9 L975.4 118.2 L976.9 118.3 L978.4 118.4 L979.9 118.3 L981.4 118.2 L982.8 117.9 L984.3 117.6 L985.8 117.1 L987.3 116.6 L988.8 116 L990.2 115.3 L991.7 114.5 L993.2 113.7 L994.7 112.7 L996.2 111.7 L997.6 110.7 L999.1 109.6 L1000.6 108.4 L1002.1 107.3 L1003.6 106 L1005.1 104.8 L1006.5 103.6 L1008 102.3 L1009.5 101 L1011 99.8 L1012.5 98.6 L1013.9 97.3 L1015.4 96.2 L1016.9 95 L1018.4 93.9 L1019.9 92.9 L1021.4 91.9 L1022.8 90.9 L1024.3 90.1 L1025.8 89.3 L1027.3 88.6 L1028.8 88 L1030.2 87.5 L1031.7 87 L1033.2 86.7 L1034.7 86.4 L1036.2 86.3 L1037.7 86.2 L1039.1 86.3 L1040.6 86.4 L1042.1 86.7 L1043.6 87 L1045.1 87.5 L1046.5 88 L1048 88.6 L1049.5 89.3 L1051 90.1 L1052.5 90.9 L1053.9 91.9 L1055.4 92.9 L1056.9 93.9 L1058.4 95 L1059.9 96.2 L1061.4 97.3 L1062.8 98.6 L1064.3 99.8 L1065.8 101 L1067.3 102.3 L1068.8 103.6 L1070.2 104.8 L1071.7 106 L1073.2 107.3 L1074.7 108.4 L1076.2 109.6 L1077.7 110.7 L1079.1 111.7 L1080.6 112.7 L1082.1 113.7 L1083.6 114.5 L1085.1 115.3 L1086.5 116 L1088 116.6 L1089.5 117.1 L1091 117.6 L1092.5 117.9 L1093.9 118.2 L1095.4 118.3 L1096.9 118.4 L1096.9 116 L1095.4 115.9 L1093.9 115.8 L1092.5 115.5 L1091 115.2 L1089.5 114.7 L1088 114.2 L1086.5 113.6 L1085.1 112.9 L1083.6 112.1 L1082.1 111.3 L1080.6 110.3 L1079.1 109.3 L1077.7 108.3 L1076.2 107.2 L1074.7 106 L1073.2 104.9 L1071.7 103.6 L1070.2 102.4 L1068.8 101.2 L1067.3 99.9 L1065.8 98.6 L1064.3 97.4 L1062.8 96.2 L1061.4 94.9 L1059.9 93.8 L1058.4 92.6 L1056.9 91.5 L1055.4 90.5 L1053.9 89.5 L1052.5 88.5 L1051 87.7 L1049.5 86.9 L1048 86.2 L1046.5 85.6 L1045.1 85.1 L1043.6 84.6 L1042.1 84.3 L1040.6 84 L1039.1 83.9 L1037.7 83.8 L1036.2 83.9 L1034.7 84 L1033.2 84.3 L1031.7 84.6 L1030.2 85.1 L1028.8 85.6 L1027.3 86.2 L1025.8 86.9 L1024.3 87.7 L1022.8 88.5 L1021.4 89.5 L1019.9 90.5 L1018.4 91.5 L1016.9 92.6 L1015.4 93.8 L1013.9 94.9 L1012.5 96.2 L1011 97.4 L1009.5 98.6 L1008 99.9 L1006.5 101.2 L1005.1 102.4 L1003.6 103.6 L1002.1 104.9 L1000.6 106 L999.1 107.2 L997.6 108.3 L996.2 109.3 L994.7 110.3 L993.2 111.3 L991.7 112.1 L990.2 112.9 L988.8 113.6 L987.3 114.2 L985.8 114.7 L984.3 115.2 L982.8 115.5 L981.4 115.8 L979.9 115.9 L978.4 116 L976.9 115.9 L975.4 115.8 L973.9 115.5 L972.5 115.2 L971 114.7 L969.5 114.2 L968 113.6 L966.5 112.9 L965.1 112.1 L963.6 111.3 L962.1 110.3 L960.6 109.3 L959.1 108.2 L957.6 106.7 L956.2 105 L954.7 103.4 L953.2 102 L951.7 100.9 L950.2 100.2 L948.8 99.9 Z" fill="#000" fill-opacity="0.291"/>
<path d="M948.8 100.1 L950.2 100.4 L951.7 101.1 L953.2 102.2 L954.7 103.6 L956.2 105.2 L957.6 106.9 L959.1 108.4 L960.6 109.5 L962.1 110.5 L963.6 111.5 L965.1 112.3 L966.5 113.1 L968 113.8 L969.5 114.4 L971 114.9 L972.5 115.4 L973.9 115.7 L975.4 116 L976.9 116.1 L978.4 116.2 L979.9 116.1 L981.4 116 L982.8 115.7 L984.3 115.4 L985.8 114.9 L987.3 114.4 L988.8 113.8 L990.2 113.1 L991.7 112.3 L993.2 111.5 L994.7 110.5 L996.2 109.5 L997.6 108.5 L999.1 107.4 L1000.6 106.2 L1002.1 105.1 L1003.6 103.8 L1005.1 102.6 L1006.5 101.4 L1008 100.1 L1009.5 98.8 L1011 97.6 L1012.5 96.4 L1013.9 95.1 L1015.4 94 L1016.9 92.8 L1018.4 91.7 L1019.9 90.7 L1021.4 89.7 L1022.8 88.7 L1024.3 87.9 L1025.8 87.1 L1027.3 86.4 L1028.8 85.8 L1030.2 85.3 L1031.7 84.8 L1033.2 84.5 L1034.7 84.2 L1036.2 84.1 L1037.7 84 L1039.1 84.1 L1040.6 84.2 L1042.1 84.5 L1043.6 84.8 L1045.1 85.3 L1046.5 85.8 L1048 86.4 L1049.5 87.1 L1051 87.9 L1052.5 88.7 L1053.9 89.7 L1055.4 90.7 L1056.9 91.7 L1058.4 92.8 L1059.9 94 L1061.4 95.1 L1062.8 96.4 L1064.3 97.6 L1065.8 98.8 L1067.3 100.1 L1068.8 101.4 L1070.2 102.6 L1071.7 103.8 L1073.2 105.1 L1074.7 106.2 L1076.2 107.4 L1077.7 108.5 L1079.1 109.5 L1080.6 110.5 L1082.1 111.5 L1083.6 112.3 L1085.1 113.1 L1086.5 113.8 L1088 114.4 L1089.5 114.9 L1091 115.4 L1092.5 115.7 L1093.9 116 L1095.4 116.1 L1096.9 116.2 L1096.9 113.8 L1095.4 113.7 L1093.9 113.6 L1092.5 113.3 L1091 113 L1089.5 112.5 L1088 112 L1086.5 111.4 L1085.1 110.7 L1083.6 109.9 L1082.1 109.1 L1080.6 108.1 L1079.1 107.1 L1077.7 106.1 L1076.2 105 L1074.7 103.8 L1073.2 102.7 L1071.7 101.4 L1070.2 100.2 L1068.8 99 L1067.3 97.7 L1065.8 96.4 L1064.3 95.2 L1062.8 94 L1061.4 92.7 L1059.9 91.6 L1058.4 90.4 L1056.9 89.3 L1055.4 88.3 L1053.9 87.3 L1052.5 86.3 L1051 85.5 L1049.5 84.7 L1048 84 L1046.5 83.4 L1045.1 82.9 L1043.6 82.4 L1042.1 82.1 L1040.6 81.8 L1039.1 81.7 L1037.7 81.6 L1036.2 81.7 L1034.7 81.8 L1033.2 82.1 L1031.7 82.4 L1030.2 82.9 L1028.8 83.4 L1027.3 84 L1025.8 84.7 L1024.3 85.5 L1022.8 86.3 L1021.4 87.3 L1019.9 88.3 L1018.4 89.3 L1016.9 90.4 L1015.4 91.6 L1013.9 92.7 L1012.5 94 L1011 95.2 L1009.5 96.4 L1008 97.7 L1006.5 99 L1005.1 100.2 L1003.6 101.4 L1002.1 102.7 L1000.6 103.8 L999.1 105 L997.6 106.1 L996.2 107.1 L994.7 108.1 L993.2 109.1 L991.7 109.9 L990.2 110.7 L988.8 111.4 L987.3 112 L985.8 112.5 L984.3 113 L982.8 113.3 L981.4 113.6 L979.9 113.7 L978.4 113.8 L976.9 113.7 L975.4 113.6 L973.9 113.3 L972.5 113 L971 112.5 L969.5 112 L968 111.4 L966.5 110.7 L965.1 109.9 L963.6 109.1 L962.1 108.1 L960.6 107.1 L959.1 106 L957.6 104.5 L956.2 102.8 L954.7 101.2 L953.2 99.8 L951.7 98.7 L950.2 98 L948.8 97.7 Z" fill="#000" fill-opacity="0.248"/>
<path d="M948.8 97.9 L950.2 98.2 L951.7 98.9 L953.2 100 L954.7 101.4 L956.2 103 L957.6 104.7 L959.1 106.2 L960.6 107.3 L962.1 108.3 L963.6 109.3 L965.1 110.1 L966.5 110.9 L968 111.6 L969.5 112.2 L971 112.7 L972.5 113.2 L973.9 113.5 L975.4 113.8 L976.9 113.9 L978.4 114 L979.9 113.9 L981.4 113.8 L982.8 113.5 L984.3 113.2 L985.8 112.7 L987.3 112.2 L988.8 111.6 L990.2 110.9 L991.7 110.1 L993.2 109.3 L994.7 108.3 L996.2 107.3 L997.6 106.3 L999.1 105.2 L1000.6 104 L1002.1 102.9 L1003.6 101.6 L1005.1 100.4 L1006.5 99.2 L1008 97.9 L1009.5 96.6 L1011 95.4 L1012.5 94.2 L1013.9 92.9 L1015.4 91.8 L1016.9 90.6 L1018.4 89.5 L1019.9 88.5 L1021.4 87.5 L1022.8 86.5 L1024.3 85.7 L1025.8 84.9 L1027.3 84.2 L1028.8 83.6 L1030.2 83.1 L1031.7 82.6 L1033.2 82.3 L1034.7 82 L1036.2 81.9 L1037.7 81.8 L1039.1 81.9 L1040.6 82 L1042.1 82.3 L1043.6 82.6 L1045.1 83.1 L1046.5 83.6 L1048 84.2 L1049.5 84.9 L1051 85.7 L1052.5 86.5 L1053.9 87.5 L1055.4 88.5 L1056.9 89.5 L1058.4 90.6 L1059.9 91.8 L1061.4 92.9 L1062.8 94.2 L1064.3 95.4 L1065.8 96.6 L1067.3 97.9 L1068.8 99.2 L1070.2 100.4 L1071.7 101.6 L1073.2 102.9 L1074.7 104 L1076.2 105.2 L1077.7 106.3 L1079.1 107.3 L1080.6 108.3 L1082.1 109.3 L1083.6 110.1 L1085.1 110.9 L1086.5 111.6 L1088 112.2 L1089.5 112.7 L1091 113.2 L1092.5 113.5 L1093.9 113.8 L1095.4 113.9 L1096.9 114 L1096.9 111.6 L1095.4 111.5 L1093.9 111.4 L1092.5 111.1 L1091 110.8 L1089.5 110.3 L1088 109.8 L1086.5 109.2 L1085.1 108.5 L1083.6 107.7 L1082.1 106.9 L1080.6 105.9 L1079.1 104.9 L1077.7 103.9 L1076.2 102.8 L1074.7 101.6 L1073.2 100.5 L1071.7 99.2 L1070.2 98 L1068.8 96.8 L1067.3 95.5 L1065.8 94.2 L1064.3 93 L1062.8 91.8 L1061.4 90.5 L1059.9 89.4 L1058.4 88.2 L1056.9 87.1 L1055.4 86.1 L1053.9 85.1 L1052.5 84.1 L1051 83.3 L1049.5 82.5 L1048 81.8 L1046.5 81.2 L1045.1 80.7 L1043.6 80.2 L1042.1 79.9 L1040.6 79.6 L1039.1 79.5 L1037.7 79.4 L1036.2 79.5 L1034.7 79.6 L1033.2 79.9 L1031.7 80.2 L1030.2 80.7 L1028.8 81.2 L1027.3 81.8 L1025.8 82.5 L1024.3 83.3 L1022.8 84.1 L1021.4 85.1 L1019.9 86.1 L1018.4 87.1 L1016.9 88.2 L1015.4 89.4 L1013.9 90.5 L1012.5 91.8 L1011 93 L1009.5 94.2 L1008 95.5 L1006.5 96.8 L1005.1 98 L1003.6 99.2 L1002.1 100.5 L1000.6 101.6 L999.1 102.8 L997.6 103.9 L996.2 104.9 L994.7 105.9 L993.2 106.9 L991.7 107.7 L990.2 108.5 L988.8 109.2 L987.3 109.8 L985.8 110.3 L984.3 110.8 L982.8 111.1 L981.4 111.4 L979.9 111.5 L978.4 111.6 L976.9 111.5 L975.4 111.4 L973.9 111.1 L972.5 110.8 L971 110.3 L969.5 109.8 L968 109.2 L966.5 108.5 L965.1 107.7 L963.6 106.9 L962.1 105.9 L960.6 104.9 L959.1 103.8 L957.6 102.3 L956.2 100.6 L954.7 99 L953.2 97.6 L951.7 96.5 L950.2 95.8 L948.8 95.5 Z" fill="#000" fill-opacity="0.206"/>
<path d="M948.8 95.7 L950.2 96 L951.7 96.7 L953.2 97.8 L954.7 99.2 L956.2 100.8 L957.6 102.5 L959.1 104 L960.6 105.1 L962.1 106.1 L963.6 107.1 L965.1 107.9 L966.5 108.7 L968 109.4 L969.5 110 L971 110.5 L972.5 111 L973.9 111.3 L975.4 111.6 L976.9 111.7 L978.4 111.8 L979.9 111.7 L981.4 111.6 L982.8 111.3 L984.3 111 L985.8 110.5 L987.3 110 L988.8 109.4 L990.2 108.7 L991.7 107.9 L993.2 107.1 L994.7 106.1 L996.2 105.1 L997.6 104.1 L999.1 103 L1000.6 101.8 L1002.1 100.7 L1003.6 99.4 L1005.1 98.2 L1006.5 97 L1008 95.7 L1009.5 94.4 L1011 93.2 L1012.5 92 L1013.9 90.7 L1015.4 89.6 L1016.9 88.4 L1018.4 87.3 L1019.9 86.3 L1021.4 85.3 L1022.8 84.3 L1024.3 83.5 L1025.8 82.7 L1027.3 82 L1028.8 81.4 L1030.2 80.9 L1031.7 80.4 L1033.2 80.1 L1034.7 79.8 L1036.2 79.7 L1037.7 79.6 L1039.1 79.7 L1040.6 79.8 L1042.1 80.1 L1043.6 80.4 L1045.1 80.9 L1046.5 81.4 L1048 82 L1049.5 82.7 L1051 83.5 L1052.5 84.3 L1053.9 85.3 L1055.4 86.3 L1056.9 87.3 L1058.4 88.4 L1059.9 89.6 L1061.4 90.7 L1062.8 92 L1064.3 93.2 L1065.8 94.4 L1067.3 95.7 L1068.8 97 L1070.2 98.2 L1071.7 99.4 L1073.2 100.7 L1074.7 101.8 L1076.2 103 L1077.7 104.1 L1079.1 105.1 L1080.6 106.1 L1082.1 107.1 L1083.6 107.9 L1085.1 108.7 L1086.5 109.4 L1088 110 L1089.5 110.5 L1091 111 L1092.5 111.3 L1093.9 111.6 L1095.4 111.7 L1096.9 111.8 L1096.9 109.4 L1095.4 109.3 L1093.9 109.2 L1092.5 108.9 L1091 108.6 L1089.5 108.1 L1088 107.6 L1086.5 107 L1085.1 106.3 L1083.6 105.5 L1082.1 104.7 L1080.6 103.7 L1079.1 102.7 L1077.7 101.7 L1076.2 100.6 L1074.7 99.4 L1073.2 98.3 L1071.7 97 L1070.2 95.8 L1068.8 94.6 L1067.3 93.3 L1065.8 92 L1064.3 90.8 L1062.8 89.6 L1061.4 88.3 L1059.9 87.2 L1058.4 86 L1056.9 84.9 L1055.4 83.9 L1053.9 82.9 L1052.5 81.9 L1051 81.1 L1049.5 80.3 L1048 79.6 L1046.5 79 L1045.1 78.5 L1043.6 78 L1042.1 77.7 L1040.6 77.4 L1039.1 77.3 L1037.7 77.2 L1036.2 77.3 L1034.7 77.4 L1033.2 77.7 L1031.7 78 L1030.2 78.5 L1028.8 79 L1027.3 79.6 L1025.8 80.3 L1024.3 81.1 L1022.8 81.9 L1021.4 82.9 L1019.9 83.9 L1018.4 84.9 L1016.9 86 L1015.4 87.2 L1013.9 88.3 L1012.5 89.6 L1011 90.8 L1009.5 92 L1008 93.3 L1006.5 94.6 L1005.1 95.8 L1003.6 97 L1002.1 98.3 L1000.6 99.4 L999.1 100.6 L997.6 101.7 L996.2 102.7 L994.7 103.7 L993.2 104.7 L991.7 105.5 L990.2 106.3 L988.8 107 L987.3 107.6 L985.8 108.1 L984.3 108.6 L982.8 108.9 L981.4 109.2 L979.9 109.3 L978.4 109.4 L976.9 109.3 L975.4 109.2 L973.9 108.9 L972.5 108.6 L971 108.1 L969.5 107.6 L968 107 L966.5 106.3 L965.1 105.5 L963.6 104.7 L962.1 103.7 L960.6 102.7 L959.1 101.6 L957.6 100.1 L956.2 98.4 L954.7 96.8 L953.2 95.4 L951.7 94.3 L950.2 93.6 L948.8 93.3 Z" fill="#000" fill-opacity="0.165"/>
<path d="M948.8 93.5 L950.2 93.8 L951.7 94.5 L953.2 95.6 L954.7 97 L956.2 98.6 L957.6 100.3 L959.1 101.8 L960.6 102.9 L962.1 103.9 L963.6 104.9 L965.1 105.7 L966.5 106.5 L968 107.2 L969.5 107.8 L971 108.3 L972.5 108.8 L973.9 109.1 L975.4 109.4 L976.9 109.5 L978.4 109.6 L979.9 109.5 L981.4 109.4 L982.8 109.1 L984.3 108.8 L985.8 108.3 L987.3 107.8 L988.8 107.2 L990.2 106.5 L991.7 105.7 L993.2 104.9 L994.7 103.9 L996.2 102.9 L997.6 101.9 L999.1 100.8 L1000.6 99.6 L1002.1 98.5 L1003.6 97.2 L1005.1 96 L1006.5 94.8 L1008 93.5 L1009.5 92.2 L1011 91 L1012.5 89.8 L1013.9 88.5 L1015.4 87.4 L1016.9 86.2 L1018.4 85.1 L1019.9 84.1 L1021.4 83.1 L1022.8 82.1 L1024.3 81.3 L1025.8 80.5 L1027.3 79.8 L1028.8 79.2 L1030.2 78.7 L1031.7 78.2 L1033.2 77.9 L1034.7 77.6 L1036.2 77.5 L1037.7 77.4 L1039.1 77.5 L1040.6 77.6 L1042.1 77.9 L1043.6 78.2 L1045.1 78.7 L1046.5 79.2 L1048 79.8 L1049.5 80.5 L1051 81.3 L1052.5 82.1 L1053.9 83.1 L1055.4 84.1 L1056.9 85.1 L1058.4 86.2 L1059.9 87.4 L1061.4 88.5 L1062.8 89.8 L1064.3 91 L1065.8 92.2 L1067.3 93.5 L1068.8 94.8 L1070.2 96 L1071.7 97.2 L1073.2 98.5 L1074.7 99.6 L1076.2 100.8 L1077.7 101.9 L1079.1 102.9 L1080.6 103.9 L1082.1 104.9 L1083.6 105.7 L1085.1 106.5 L1086.5 107.2 L1088 107.8 L1089.5 108.3 L1091 108.8 L1092.5 109.1 L1093.9 109.4 L1095.4 109.5 L1096.9 109.6 L1096.9 107.2 L1095.4 107.1 L1093.9 107 L1092.5 106.7 L1091 106.4 L1089.5 105.9 L1088 105.4 L1086.5 104.8 L1085.1 104.1 L1083.6 103.3 L1082.1 102.5 L1080.6 101.5 L1079.1 100.5 L1077.7 99.5 L1076.2 98.4 L1074.7 97.2 L1073.2 96.1 L1071.7 94.8 L1070.2 93.6 L1068.8 92.4 L1067.3 91.1 L1065.8 89.8 L1064.3 88.6 L1062.8 87.4 L1061.4 86.1 L1059.9 85 L1058.4 83.8 L1056.9 82.7 L1055.4 81.7 L1053.9 80.7 L1052.5 79.7 L1051 78.9 L1049.5 78.1 L1048 77.4 L1046.5 76.8 L1045.1 76.3 L1043.6 75.8 L1042.1 75.5 L1040.6 75.2 L1039.1 75.1 L1037.7 75 L1036.2 75.1 L1034.7 75.2 L1033.2 75.5 L1031.7 75.8 L1030.2 76.3 L1028.8 76.8 L1027.3 77.4 L1025.8 78.1 L1024.3 78.9 L1022.8 79.7 L1021.4 80.7 L1019.9 81.7 L1018.4 82.7 L1016.9 83.8 L1015.4 85 L1013.9 86.1 L1012.5 87.4 L1011 88.6 L1009.5 89.8 L1008 91.1 L1006.5 92.4 L1005.1 93.6 L1003.6 94.8 L1002.1 96.1 L1000.6 97.2 L999.1 98.4 L997.6 99.5 L996.2 100.5 L994.7 101.5 L993.2 102.5 L991.7 103.3 L990.2 104.1 L988.8 104.8 L987.3 105.4 L985.8 105.9 L984.3 106.4 L982.8 106.7 L981.4 107 L979.9 107.1 L978.4 107.2 L976.9 107.1 L975.4 107 L973.9 106.7 L972.5 106.4 L971 105.9 L969.5 105.4 L968 104.8 L966.5 104.1 L965.1 103.3 L963.6 102.5 L962.1 101.5 L960.6 100.5 L959.1 99.4 L957.6 97.9 L956.2 96.2 L954.7 94.6 L953.2 93.2 L951.7 92.1 L950.2 91.4 L948.8 91.1 Z" fill="#000" fill-opacity="0.127"/>
<path d="M948.8 91.3 L950.2 91.6 L951.7 92.3 L953.2 93.4 L954.7 94.8 L956.2 96.4 L957.6 98.1 L959.1 99.6 L960.6 100.7 L962.1 101.7 L963.6 102.7 L965.1 103.5 L966.5 104.3 L968 105 L969.5 105.6 L971 106.1 L972.5 106.6 L973.9 106.9 L975.4 107.2 L976.9 107.3 L978.4 107.4 L979.9 107.3 L981.4 107.2 L982.8 106.9 L984.3 106.6 L985.8 106.1 L987.3 105.6 L988.8 105 L990.2 104.3 L991.7 103.5 L993.2 102.7 L994.7 101.7 L996.2 100.7 L997.6 99.7 L999.1 98.6 L1000.6 97.4 L1002.1 96.3 L1003.6 95 L1005.1 93.8 L1006.5 92.6 L1008 91.3 L1009.5 90 L1011 88.8 L1012.5 87.6 L1013.9 86.3 L1015.4 85.2 L1016.9 84 L1018.4 82.9 L1019.9 81.9 L1021.4 80.9 L1022.8 79.9 L1024.3 79.1 L1025.8 78.3 L1027.3 77.6 L1028.8 77 L1030.2 76.5 L1031.7 76 L1033.2 75.7 L1034.7 75.4 L1036.2 75.3 L1037.7 75.2 L1039.1 75.3 L1040.6 75.4 L1042.1 75.7 L1043.6 76 L1045.1 76.5 L1046.5 77 L1048 77.6 L1049.5 78.3 L1051 79.1 L1052.5 79.9 L1053.9 80.9 L1055.4 81.9 L1056.9 82.9 L1058.4 84 L1059.9 85.2 L1061.4 86.3 L1062.8 87.6 L1064.3 88.8 L1065.8 90 L1067.3 91.3 L1068.8 92.6 L1070.2 93.8 L1071.7 95 L1073.2 96.3 L1074.7 97.4 L1076.2 98.6 L1077.7 99.7 L1079.1 100.7 L1080.6 101.7 L1082.1 102.7 L1083.6 103.5 L1085.1 104.3 L1086.5 105 L1088 105.6 L1089.5 106.1 L1091 106.6 L1092.5 106.9 L1093.9 107.2 L1095.4 107.3 L1096.9 107.4 L1096.9 105 L1095.4 104.9 L1093.9 104.8 L1092.5 104.5 L1091 104.2 L1089.5 103.7 L1088 103.2 L1086.5 102.6 L1085.1 101.9 L1083.6 101.1 L1082.1 100.3 L1080.6 99.3 L1079.1 98.3 L1077.7 97.3 L1076.2 96.2 L1074.7 95 L1073.2 93.9 L1071.7 92.6 L1070.2 91.4 L1068.8 90.2 L1067.3 88.9 L1065.8 87.6 L1064.3 86.4 L1062.8 85.2 L1061.4 83.9 L1059.9 82.8 L1058.4 81.6 L1056.9 80.5 L1055.4 79.5 L1053.9 78.5 L1052.5 77.5 L1051 76.7 L1049.5 75.9 L1048 75.2 L1046.5 74.6 L1045.1 74.1 L1043.6 73.6 L1042.1 73.3 L1040.6 73 L1039.1 72.9 L1037.7 72.8 L1036.2 72.9 L1034.7 73 L1033.2 73.3 L1031.7 73.6 L1030.2 74.1 L1028.8 74.6 L1027.3 75.2 L1025.8 75.9 L1024.3 76.7 L1022.8 77.5 L1021.4 78.5 L1019.9 79.5 L1018.4 80.5 L1016.9 81.6 L1015.4 82.8 L1013.9 83.9 L1012.5 85.2 L1011 86.4 L1009.5 87.6 L1008 88.9 L1006.5 90.2 L1005.1 91.4 L1003.6 92.6 L1002.1 93.9 L1000.6 95 L999.1 96.2 L997.6 97.3 L996.2 98.3 L994.7 99.3 L993.2 100.3 L991.7 101.1 L990.2 101.9 L988.8 102.6 L987.3 103.2 L985.8 103.7 L984.3 104.2 L982.8 104.5 L981.4 104.8 L979.9 104.9 L978.4 105 L976.9 104.9 L975.4 104.8 L973.9 104.5 L972.5 104.2 L971 103.7 L969.5 103.2 L968 102.6 L966.5 101.9 L965.1 101.1 L963.6 100.3 L962.1 99.3 L960.6 98.3 L959.1 97.2 L957.6 95.7 L956.2 94 L954.7 92.4 L953.2 91 L951.7 89.9 L950.2 89.2 L948.8 88.9 Z" fill="#000" fill-opacity="0.090"/>
<path d="M948.8 89.1 L950.2 89.4 L951.7 90.1 L953.2 91.2 L954.7 92.6 L956.2 94.2 L957.6 95.9 L959.1 97.4 L960.6 98.5 L962.1 99.5 L963.6 100.5 L965.1 101.3 L966.5 102.1 L968 102.8 L969.5 103.4 L971 103.9 L972.5 104.4 L973.9 104.7 L975.4 105 L976.9 105.1 L978.4 105.2 L979.9 105.1 L981.4 105 L982.8 104.7 L984.3 104.4 L985.8 103.9 L987.3 103.4 L988.8 102.8 L990.2 102.1 L991.7 101.3 L993.2 100.5 L994.7 99.5 L996.2 98.5 L997.6 97.5 L999.1 96.4 L1000.6 95.2 L1002.1 94.1 L1003.6 92.8 L1005.1 91.6 L1006.5 90.4 L1008 89.1 L1009.5 87.8 L1011 86.6 L1012.5 85.4 L1013.9 84.1 L1015.4 83 L1016.9 81.8 L1018.4 80.7 L1019.9 79.7 L1021.4 78.7 L1022.8 77.7 L1024.3 76.9 L1025.8 76.1 L1027.3 75.4 L1028.8 74.8 L1030.2 74.3 L1031.7 73.8 L1033.2 73.5 L1034.7 73.2 L1036.2 73.1 L1037.7 73 L1039.1 73.1 L1040.6 73.2 L1042.1 73.5 L1043.6 73.8 L1045.1 74.3 L1046.5 74.8 L1048 75.4 L1049.5 76.1 L1051 76.9 L1052.5 77.7 L1053.9 78.7 L1055.4 79.7 L1056.9 80.7 L1058.4 81.8 L1059.9 83 L1061.4 84.1 L1062.8 85.4 L1064.3 86.6 L1065.8 87.8 L1067.3 89.1 L1068.8 90.4 L1070.2 91.6 L1071.7 92.8 L1073.2 94.1 L1074.7 95.2 L1076.2 96.4 L1077.7 97.5 L1079.1 98.5 L1080.6 99.5 L1082.1 100.5 L1083.6 101.3 L1085.1 102.1 L1086.5 102.8 L1088 103.4 L1089.5 103.9 L1091 104.4 L1092.5 104.7 L1093.9 105 L1095.4 105.1 L1096.9 105.2 L1096.9 102.8 L1095.4 102.7 L1093.9 102.6 L1092.5 102.3 L1091 102 L1089.5 101.5 L1088 101 L1086.5 100.4 L1085.1 99.7 L1083.6 98.9 L1082.1 98.1 L1080.6 97.1 L1079.1 96.1 L1077.7 95.1 L1076.2 94 L1074.7 92.8 L1073.2 91.7 L1071.7 90.4 L1070.2 89.2 L1068.8 88 L1067.3 86.7 L1065.8 85.4 L1064.3 84.2 L1062.8 83 L1061.4 81.7 L1059.9 80.6 L1058.4 79.4 L1056.9 78.3 L1055.4 77.3 L1053.9 76.3 L1052.5 75.3 L1051 74.5 L1049.5 73.7 L1048 73 L1046.5 72.4 L1045.1 71.9 L1043.6 71.4 L1042.1 71.1 L1040.6 70.8 L1039.1 70.7 L1037.7 70.6 L1036.2 70.7 L1034.7 70.8 L1033.2 71.1 L1031.7 71.4 L1030.2 71.9 L1028.8 72.4 L1027.3 73 L1025.8 73.7 L1024.3 74.5 L1022.8 75.3 L1021.4 76.3 L1019.9 77.3 L1018.4 78.3 L1016.9 79.4 L1015.4 80.6 L1013.9 81.7 L1012.5 83 L1011 84.2 L1009.5 85.4 L1008 86.7 L1006.5 88 L1005.1 89.2 L1003.6 90.4 L1002.1 91.7 L1000.6 92.8 L999.1 94 L997.6 95.1 L996.2 96.1 L994.7 97.1 L993.2 98.1 L991.7 98.9 L990.2 99.7 L988.8 100.4 L987.3 101 L985.8 101.5 L984.3 102 L982.8 102.3 L981.4 102.6 L979.9 102.7 L978.4 102.8 L976.9 102.7 L975.4 102.6 L973.9 102.3 L972.5 102 L971 101.5 L969.5 101 L968 100.4 L966.5 99.7 L965.1 98.9 L963.6 98.1 L962.1 97.1 L960.6 96.1 L959.1 95 L957.6 93.5 L956.2 91.8 L954.7 90.2 L953.2 88.8 L951.7 87.7 L950.2 87 L948.8 86.7 Z" fill="#000" fill-opacity="0.055"/>
<path d="M948.8 86.9 L950.2 87.2 L951.7 87.9 L953.2 89 L954.7 90.4 L956.2 92 L957.6 93.7 L959.1 95.2 L960.6 96.3 L962.1 97.3 L963.6 98.3 L965.1 99.1 L966.5 99.9 L968 100.6 L969.5 101.2 L971 101.7 L972.5 102.2 L973.9 102.5 L975.4 102.8 L976.9 102.9 L978.4 103 L979.9 102.9 L981.4 102.8 L982.8 102.5 L984.3 102.2 L985.8 101.7 L987.3 101.2 L988.8 100.6 L990.2 99.9 L991.7 99.1 L993.2 98.3 L994.7 97.3 L996.2 96.3 L997.6 95.3 L999.1 94.2 L1000.6 93 L1002.1 91.9 L1003.6 90.6 L1005.1 89.4 L1006.5 88.2 L1008 86.9 L1009.5 85.6 L1011 84.4 L1012.5 83.2 L1013.9 81.9 L1015.4 80.8 L1016.9 79.6 L1018.4 78.5 L1019.9 77.5 L1021.4 76.5 L1022.8 75.5 L1024.3 74.7 L1025.8 73.9 L1027.3 73.2 L1028.8 72.6 L1030.2 72.1 L1031.7 71.6 L1033.2 71.3 L1034.7 71 L1036.2 70.9 L1037.7 70.8 L1039.1 70.9 L1040.6 71 L1042.1 71.3 L1043.6 71.6 L1045.1 72.1 L1046.5 72.6 L1048 73.2 L1049.5 73.9 L1051 74.7 L1052.5 75.5 L1053.9 76.5 L1055.4 77.5 L1056.9 78.5 L1058.4 79.6 L1059.9 80.8 L1061.4 81.9 L1062.8 83.2 L1064.3 84.4 L1065.8 85.6 L1067.3 86.9 L1068.8 88.2 L1070.2 89.4 L1071.7 90.6 L1073.2 91.9 L1074.7 93 L1076.2 94.2 L1077.7 95.3 L1079.1 96.3 L1080.6 97.3 L1082.1 98.3 L1083.6 99.1 L1085.1 99.9 L1086.5 100.6 L1088 101.2 L1089.5 101.7 L1091 102.2 L1092.5 102.5 L1093.9 102.8 L1095.4 102.9 L1096.9 103 L1096.9 100.6 L1095.4 100.5 L1093.9 100.4 L1092.5 100.1 L1091 99.8 L1089.5 99.3 L1088 98.8 L1086.5 98.2 L1085.1 97.5 L1083.6 96.7 L1082.1 95.9 L1080.6 94.9 L1079.1 93.9 L1077.7 92.9 L1076.2 91.8 L1074.7 90.6 L1073.2 89.5 L1071.7 88.2 L1070.2 87 L1068.8 85.8 L1067.3 84.5 L1065.8 83.2 L1064.3 82 L1062.8 80.8 L1061.4 79.5 L1059.9 78.4 L1058.4 77.2 L1056.9 76.1 L1055.4 75.1 L1053.9 74.1 L1052.5 73.1 L1051 72.3 L1049.5 71.5 L1048 70.8 L1046.5 70.2 L1045.1 69.7 L1043.6 69.2 L1042.1 68.9 L1040.6 68.6 L1039.1 68.5 L1037.7 68.4 L1036.2 68.5 L1034.7 68.6 L1033.2 68.9 L1031.7 69.2 L1030.2 69.7 L1028.8 70.2 L1027.3 70.8 L1025.8 71.5 L1024.3 72.3 L1022.8 73.1 L1021.4 74.1 L1019.9 75.1 L1018.4 76.1 L1016.9 77.2 L1015.4 78.4 L1013.9 79.5 L1012.5 80.8 L1011 82 L1009.5 83.2 L1008 84.5 L1006.5 85.8 L1005.1 87 L1003.6 88.2 L1002.1 89.5 L1000.6 90.6 L999.1 91.8 L997.6 92.9 L996.2 93.9 L994.7 94.9 L993.2 95.9 L991.7 96.7 L990.2 97.5 L988.8 98.2 L987.3 98.8 L985.8 99.3 L984.3 99.8 L982.8 100.1 L981.4 100.4 L979.9 100.5 L978.4 100.6 L976.9 100.5 L975.4 100.4 L973.9 100.1 L972.5 99.8 L971 99.3 L969.5 98.8 L968 98.2 L966.5 97.5 L965.1 96.7 L963.6 95.9 L962.1 94.9 L960.6 93.9 L959.1 92.8 L957.6 91.3 L956.2 89.6 L954.7 88 L953.2 86.6 L951.7 85.5 L950.2 84.8 L948.8 84.5 Z" fill="#000" fill-opacity="0.024"/>
<path d="M889.5 114.6 L891 114.6 L892.5 114.6 L893.9 114.6 L895.4 114.6 L896.9 114.6 L898.4 114.6 L899.9 114.6 L901.4 114.6 L902.8 114.6 L904.3 114.6 L905.8 114.6 L907.3 114.6 L908.8 114.6 L910.2 114.6 L911.7 114.6 L913.2 114.6 L914.7 114.6 L916.2 114.6 L917.6 114.6 L919.1 114.6 L920.6 114.6 L922.1 114.6 L923.6 114.6 L925.1 114.6 L926.5 114.6 L928 114.6 L929.5 114.6 L931 114.6 L932.5 114.6 L933.9 114.6 L935.4 114.6 L936.9 114.6 L938.4 114.6 L939.9 114.6 L941.4 114.6 L942.8 114.6 L944.3 114.6 L945.8 114.6 L947.3 114.6 L948.8 114.6 L950.2 114.9 L951.7 115.6 L953.2 116.7 L954.7 118.1 L956.2 119.7 L957.6 121.4 L959.1 122.9 L960.6 124 L962.1 125 L963.6 126 L965.1 126.8 L966.5 127.6 L968 128.3 L969.5 128.9 L971 129.4 L972.5 129.9 L973.9 130.2 L975.4 130.5 L976.9 130.6 L978.4 130.7 L979.9 130.6 L981.4 130.5 L982.8 130.2 L984.3 129.9 L985.8 129.4 L987.3 128.9 L988.8 128.3 L990.2 127.6 L991.7 126.8 L993.2 126 L994.7 125 L996.2 124 L997.6 123 L999.1 121.9 L1000.6 120.7 L1002.1 119.6 L1003.6 118.3 L1005.1 117.1 L1006.5 115.9 L1008 114.6 L1009.5 113.3 L1011 112.1 L1012.5 110.9 L1013.9 109.6 L1015.4 108.5 L1016.9 107.3 L1018.4 106.2 L1019.9 105.2 L1021.4 104.2 L1022.8 103.2 L1024.3 102.4 L1025.8 101.6 L1027.3 100.9 L1028.8 100.3 L1030.2 99.8 L1031.7 99.3 L1033.2 99 L1034.7 98.7 L1036.2 98.6 L1037.7 98.5 L1039.1 98.6 L1040.6 98.7 L1042.1 99 L1043.6 99.3 L1045.1 99.8 L1046.5 100.3 L1048 100.9 L1049.5 101.6 L1051 102.4 L1052.5 103.2 L1053.9 104.2 L1055.4 105.2 L1056.9 106.2 L1058.4 107.3 L1059.9 108.5 L1061.4 109.6 L1062.8 110.9 L1064.3 112.1 L1065.8 113.3 L1067.3 114.6 L1068.8 115.9 L1070.2 117.1 L1071.7 118.3 L1073.2 119.6 L1074.7 120.7 L1076.2 121.9 L1077.7 123 L1079.1 124 L1080.6 125 L1082.1 126 L1083.6 126.8 L1085.1 127.6 L1086.5 128.3 L1088 128.9 L1089.5 129.4 L1091 129.9 L1092.5 130.2 L1093.9 130.5 L1095.4 130.6 L1096.9 130.7 L1097.5 143.5 L889.5 143.5 Z" fill="#fff"/>
</g>
<rect x="923" y="108" width="2" height="2" fill="#fff"/>
<path d="M919.1 143.5 v-3.5 M948.8 143.5 v-3.5 M978.4 143.5 v-3.5 M1008 143.5 v-3.5 M1037.7 143.5 v-3.5 M1067.3 143.5 v-3.5 M889.5 114.3 h3 M889.5 85.1 h3 M889.5 55.9 h3 M889.5 26.7 h3" stroke="#262626" stroke-width="1.2" fill="none"/>
<rect x="889.5" y="2.5" width="208" height="141" fill="none" stroke="#262626" stroke-width="1.3"/>
<text x="851.92" y="35.1" font-size="25.5">0.3</text>
<text x="852.33" y="64.3" font-size="25.5">0.2</text>
<text x="852.46" y="93.5" font-size="25.5">0.1</text>
<text x="871.02" y="122.7" font-size="25.5">0</text>
<path d="M835.07 145.65 H850.37" stroke="#000" stroke-width="1.3"/><text x="852.46" y="151.9" font-size="25.5">0.1</text>
<path d="M867.57 165.35 H882.87" stroke="#000" stroke-width="1.3"/><text x="884.96" y="171.6" font-size="25.5">0.2</text>
<text x="943.18" y="171.6" font-size="25.5">0</text>
<text x="993.1" y="171.6" font-size="25.5">0.2</text>
<text x="1055.46" y="171.6" font-size="25.5">0.4</text>
<path d="M889.8 145 L926.6 234.4 M1099.5 145 L944.9 229.1" stroke="#000" stroke-width="2.4" stroke-dasharray="7 3.2" fill="none"/>
<path d="M858.2 267.6 L933.3 249.1 L980.1 280 L905 298.5 Z" fill="#8a8a8a"/>
<path d="M858.2 267.6 L933.3 249.1 M858.9 268 L934 249.6 M859.5 268.5 L934.7 250 M860.2 268.9 L935.3 250.4 M860.9 269.4 L936 250.9 M861.5 269.8 L936.7 251.3 M862.2 270.2 L937.3 251.8 M862.9 270.7 L938 252.2 M863.5 271.1 L938.7 252.7 M864.2 271.6 L939.3 253.1 M864.9 272 L940 253.5 M865.6 272.5 L940.7 254 M866.2 272.9 L941.4 254.4 M866.9 273.3 L942 254.9 M867.6 273.8 L942.7 255.3 M868.2 274.2 L943.4 255.7 M868.9 274.7 L944 256.2 M869.6 275.1 L944.7 256.6 M870.2 275.5 L945.4 257.1 M870.9 276 L946 257.5 M871.6 276.4 L946.7 257.9 M872.2 276.9 L947.4 258.4 M872.9 277.3 L948 258.8 M873.6 277.8 L948.7 259.3 M874.2 278.2 L949.4 259.7 M874.9 278.6 L950 260.2 M875.6 279.1 L950.7 260.6 M876.3 279.5 L951.4 261 M876.9 280 L952.1 261.5 M877.6 280.4 L952.7 261.9 M878.3 280.8 L953.4 262.4 M878.9 281.3 L954.1 262.8 M879.6 281.7 L954.7 263.2 M880.3 282.2 L955.4 263.7 M880.9 282.6 L956.1 264.1 M881.6 283.1 L956.7 264.6 M882.3 283.5 L957.4 265 M882.9 283.9 L958.1 265.5 M883.6 284.4 L958.7 265.9 M884.3 284.8 L959.4 266.3 M884.9 285.3 L960.1 266.8 M885.6 285.7 L960.7 267.2 M886.3 286.1 L961.4 267.7 M886.9 286.6 L962.1 268.1 M887.6 287 L962.7 268.5 M888.3 287.5 L963.4 269 M889 287.9 L964.1 269.4 M889.6 288.3 L964.8 269.9 M890.3 288.8 L965.4 270.3 M891 289.2 L966.1 270.8 M891.6 289.7 L966.8 271.2 M892.3 290.1 L967.4 271.6 M893 290.6 L968.1 272.1 M893.6 291 L968.8 272.5 M894.3 291.4 L969.4 273 M895 291.9 L970.1 273.4 M895.6 292.3 L970.8 273.8 M896.3 292.8 L971.4 274.3 M897 293.2 L972.1 274.7 M897.6 293.6 L972.8 275.2 M898.3 294.1 L973.4 275.6 M899 294.5 L974.1 276 M899.7 295 L974.8 276.5 M900.3 295.4 L975.5 276.9 M901 295.9 L976.1 277.4 M901.7 296.3 L976.8 277.8 M902.3 296.7 L977.5 278.3 M903 297.2 L978.1 278.7 M903.7 297.6 L978.8 279.1 M904.3 298.1 L979.5 279.6" stroke="#555" stroke-width="0.45" fill="none"/>
<path d="M858.2 267.6 L905 298.5 M859.5 267.3 L906.3 298.2 M860.7 267 L907.5 297.9 M862 266.7 L908.8 297.6 M863.2 266.4 L910 297.3 M864.5 266.1 L911.3 297 M865.7 265.8 L912.5 296.7 M867 265.4 L913.8 296.3 M868.2 265.1 L915 296 M869.5 264.8 L916.3 295.7 M870.7 264.5 L917.5 295.4 M872 264.2 L918.8 295.1 M873.2 263.9 L920 294.8 M874.5 263.6 L921.3 294.5 M875.7 263.3 L922.5 294.2 M877 263 L923.8 293.9 M878.2 262.7 L925 293.6 M879.5 262.4 L926.3 293.3 M880.7 262.1 L927.5 293 M882 261.7 L928.8 292.6 M883.2 261.4 L930 292.3 M884.5 261.1 L931.3 292 M885.7 260.8 L932.5 291.7 M887 260.5 L933.8 291.4 M888.3 260.2 L935.1 291.1 M889.5 259.9 L936.3 290.8 M890.8 259.6 L937.6 290.5 M892 259.3 L938.8 290.2 M893.3 259 L940.1 289.9 M894.5 258.7 L941.3 289.6 M895.8 258.4 L942.6 289.3 M897 258.1 L943.8 289 M898.3 257.7 L945.1 288.6 M899.5 257.4 L946.3 288.3 M900.8 257.1 L947.6 288 M902 256.8 L948.8 287.7 M903.3 256.5 L950.1 287.4 M904.5 256.2 L951.3 287.1 M905.8 255.9 L952.6 286.8 M907 255.6 L953.8 286.5 M908.3 255.3 L955.1 286.2 M909.5 255 L956.3 285.9 M910.8 254.7 L957.6 285.6 M912 254.4 L958.8 285.3 M913.3 254 L960.1 284.9 M914.5 253.7 L961.3 284.6 M915.8 253.4 L962.6 284.3 M917.1 253.1 L963.9 284 M918.3 252.8 L965.1 283.7 M919.6 252.5 L966.4 283.4 M920.8 252.2 L967.6 283.1 M922.1 251.9 L968.9 282.8 M923.3 251.6 L970.1 282.5 M924.6 251.3 L971.4 282.2 M925.8 251 L972.6 281.9 M927.1 250.7 L973.9 281.6 M928.3 250.4 L975.1 281.3 M929.6 250 L976.4 280.9 M930.8 249.7 L977.6 280.6 M932.1 249.4 L978.9 280.3" stroke="#9a9a9a" stroke-width="0.4" fill="none"/>
<path d="M933.3 249.1 L994.8 234 L1041.6 264.9 L980.1 280 Z" fill="#a0a0a0"/>
<path d="M934.8 249.5 L935.8 250.3 L936.8 249.6 L937.9 248.1 L938.9 247.4 L939.9 248.2 L940.9 249 L942 248.4 L943 246.9 L944 246.2 L945 246.9 L946.1 247.7 L947.1 247.2 L948.1 245.6 L949.1 244.9 L950.2 245.6 L951.2 246.5 L952.2 245.9 L953.2 244.4 L954.3 243.6 L955.3 244.3 L956.3 245.2 L957.3 244.7 L958.4 243.2 L959.4 242.4 L960.4 243 L961.4 243.9 L962.5 243.5 L963.5 242 L964.5 241.1 L965.5 241.7 L966.6 242.6 L967.6 242.2 L968.6 240.7 L969.6 239.8 L970.6 240.4 L971.7 241.3 L972.7 241 L973.7 239.5 L974.7 238.6 L975.8 239.1 L976.8 240.1 L977.8 239.8 L978.8 238.3 L979.9 237.3 L980.9 237.8 L981.9 238.8 L982.9 238.5 L984 237.1 L985 236 L986 236.5 L987 237.5 L988.1 237.3 L989.1 235.8 L990.1 234.8 L991.1 235.2 L992.2 236.2 L993.2 236.1 L994.2 234.6 L995.2 233.5 L996.3 233.9 M937.7 252.5 L938.7 251.4 L939.8 250 L940.8 249.8 L941.8 250.9 L942.8 251.3 L943.9 250.2 L944.9 248.7 L945.9 248.6 L946.9 249.6 L948 250 L949 248.9 L950 247.5 L951 247.3 L952.1 248.3 L953.1 248.7 L954.1 247.7 L955.1 246.2 L956.2 246 L957.2 247 L958.2 247.5 L959.2 246.5 L960.3 245 L961.3 244.7 L962.3 245.7 L963.3 246.2 L964.4 245.2 L965.4 243.8 L966.4 243.4 L967.4 244.4 L968.5 245 L969.5 244 L970.5 242.5 L971.5 242.2 L972.6 243.1 L973.6 243.7 L974.6 242.8 L975.6 241.3 L976.6 240.9 L977.7 241.8 L978.7 242.4 L979.7 241.6 L980.7 240 L981.8 239.6 L982.8 240.5 L983.8 241.2 L984.8 240.3 L985.9 238.8 L986.9 238.3 L987.9 239.2 L988.9 239.9 L990 239.1 L991 237.6 L992 237.1 L993 237.9 L994.1 238.6 L995.1 237.9 L996.1 236.3 L997.1 235.8 L998.2 236.6 L999.2 237.4 M940.6 253.1 L941.7 252 L942.7 252.4 L943.7 253.4 L944.7 253.3 L945.8 251.8 L946.8 250.7 L947.8 251.1 L948.8 252.1 L949.9 252 L950.9 250.6 L951.9 249.5 L952.9 249.8 L954 250.9 L955 250.8 L956 249.4 L957 248.2 L958.1 248.6 L959.1 249.6 L960.1 249.6 L961.1 248.2 L962.2 247 L963.2 247.3 L964.2 248.3 L965.2 248.3 L966.3 246.9 L967.3 245.7 L968.3 246 L969.3 247 L970.4 247.1 L971.4 245.7 L972.4 244.5 L973.4 244.7 L974.5 245.7 L975.5 245.8 L976.5 244.5 L977.5 243.2 L978.5 243.4 L979.6 244.4 L980.6 244.6 L981.6 243.3 L982.6 242 L983.7 242.1 L984.7 243.1 L985.7 243.3 L986.7 242.1 L987.8 240.7 L988.8 240.8 L989.8 241.8 L990.8 242.1 L991.9 240.8 L992.9 239.5 L993.9 239.5 L994.9 240.6 L996 240.8 L997 239.6 L998 238.2 L999 238.2 L1000.1 239.3 L1001.1 239.6 L1002.1 238.4 M943.6 254.3 L944.6 255.1 L945.6 255.8 L946.6 255.1 L947.7 253.6 L948.7 253 L949.7 253.8 L950.7 254.6 L951.8 253.9 L952.8 252.4 L953.8 251.7 L954.8 252.5 L955.9 253.3 L956.9 252.7 L957.9 251.1 L958.9 250.4 L960 251.2 L961 252 L962 251.4 L963 249.9 L964.1 249.2 L965.1 249.9 L966.1 250.8 L967.1 250.2 L968.2 248.7 L969.2 247.9 L970.2 248.6 L971.2 249.5 L972.3 249 L973.3 247.4 L974.3 246.6 L975.3 247.3 L976.4 248.2 L977.4 247.7 L978.4 246.2 L979.4 245.4 L980.4 246 L981.5 246.9 L982.5 246.5 L983.5 245 L984.5 244.1 L985.6 244.7 L986.6 245.7 L987.6 245.3 L988.6 243.8 L989.7 242.8 L990.7 243.4 L991.7 244.4 L992.7 244 L993.8 242.5 L994.8 241.6 L995.8 242.1 L996.8 243.1 L997.9 242.8 L998.9 241.3 L999.9 240.3 L1000.9 240.8 L1002 241.8 L1003 241.6 L1004 240.1 L1005 239.1 M946.5 257.8 L947.5 258 L948.5 256.8 L949.6 255.5 L950.6 255.4 L951.6 256.5 L952.6 256.8 L953.7 255.6 L954.7 254.2 L955.7 254.2 L956.7 255.2 L957.8 255.5 L958.8 254.4 L959.8 253 L960.8 252.9 L961.9 253.9 L962.9 254.3 L963.9 253.2 L964.9 251.7 L966 251.6 L967 252.6 L968 253 L969 251.9 L970.1 250.5 L971.1 250.3 L972.1 251.3 L973.1 251.8 L974.2 250.7 L975.2 249.3 L976.2 249 L977.2 250 L978.3 250.5 L979.3 249.5 L980.3 248 L981.3 247.7 L982.4 248.7 L983.4 249.2 L984.4 248.3 L985.4 246.8 L986.4 246.5 L987.5 247.4 L988.5 248 L989.5 247 L990.5 245.5 L991.6 245.2 L992.6 246.1 L993.6 246.7 L994.6 245.8 L995.7 244.3 L996.7 243.9 L997.7 244.8 L998.7 245.4 L999.8 244.6 L1000.8 243.1 L1001.8 242.6 L1002.8 243.5 L1003.9 244.2 L1004.9 243.4 L1005.9 241.8 L1006.9 241.3 L1008 242.2 M949.4 260 L950.4 258.5 L951.5 257.5 L952.5 258 L953.5 259 L954.5 258.8 L955.6 257.3 L956.6 256.3 L957.6 256.7 L958.6 257.7 L959.7 257.5 L960.7 256.1 L961.7 255 L962.7 255.5 L963.8 256.5 L964.8 256.3 L965.8 254.9 L966.8 253.8 L967.9 254.2 L968.9 255.2 L969.9 255.1 L970.9 253.6 L972 252.5 L973 252.9 L974 253.9 L975 253.8 L976.1 252.4 L977.1 251.3 L978.1 251.6 L979.1 252.6 L980.2 252.6 L981.2 251.2 L982.2 250 L983.2 250.3 L984.3 251.3 L985.3 251.3 L986.3 250 L987.3 248.7 L988.3 249 L989.4 250 L990.4 250.1 L991.4 248.7 L992.4 247.5 L993.5 247.7 L994.5 248.7 L995.5 248.8 L996.5 247.5 L997.6 246.2 L998.6 246.4 L999.6 247.4 L1000.6 247.6 L1001.7 246.3 L1002.7 245 L1003.7 245.1 L1004.7 246.2 L1005.8 246.3 L1006.8 245.1 L1007.8 243.7 L1008.8 243.8 L1009.9 244.9 L1010.9 245.1 M952.3 260.3 L953.4 259.8 L954.4 260.7 L955.4 261.4 L956.4 260.6 L957.5 259.1 L958.5 258.6 L959.5 259.4 L960.5 260.1 L961.6 259.4 L962.6 257.8 L963.6 257.3 L964.6 258.1 L965.7 258.9 L966.7 258.1 L967.7 256.6 L968.7 256 L969.8 256.8 L970.8 257.6 L971.8 256.9 L972.8 255.4 L973.9 254.7 L974.9 255.5 L975.9 256.3 L976.9 255.7 L978 254.1 L979 253.5 L980 254.2 L981 255 L982.1 254.5 L983.1 252.9 L984.1 252.2 L985.1 252.9 L986.2 253.8 L987.2 253.2 L988.2 251.7 L989.2 250.9 L990.2 251.6 L991.3 252.5 L992.3 252 L993.3 250.5 L994.3 249.7 L995.4 250.3 L996.4 251.2 L997.4 250.8 L998.4 249.2 L999.5 248.4 L1000.5 249 L1001.5 249.9 L1002.5 249.5 L1003.6 248 L1004.6 247.1 L1005.6 247.8 L1006.6 248.7 L1007.7 248.3 L1008.7 246.8 L1009.7 245.9 L1010.7 246.5 L1011.8 247.4 L1012.8 247 L1013.8 245.5 M955.3 262.3 L956.3 263.4 L957.3 263.6 L958.3 262.3 L959.4 261 L960.4 261 L961.4 262.1 L962.4 262.3 L963.5 261.1 L964.5 259.7 L965.5 259.7 L966.5 260.8 L967.6 261.1 L968.6 259.9 L969.6 258.5 L970.6 258.5 L971.7 259.5 L972.7 259.8 L973.7 258.6 L974.7 257.2 L975.8 257.2 L976.8 258.2 L977.8 258.6 L978.8 257.4 L979.9 256 L980.9 255.9 L981.9 256.9 L982.9 257.3 L984 256.2 L985 254.8 L986 254.6 L987 255.6 L988.1 256 L989.1 255 L990.1 253.5 L991.1 253.3 L992.1 254.3 L993.2 254.8 L994.2 253.7 L995.2 252.3 L996.2 252 L997.3 253 L998.3 253.5 L999.3 252.5 L1000.3 251 L1001.4 250.8 L1002.4 251.7 L1003.4 252.3 L1004.4 251.3 L1005.5 249.8 L1006.5 249.5 L1007.5 250.4 L1008.5 251 L1009.6 250.1 L1010.6 248.6 L1011.6 248.2 L1012.6 249.1 L1013.7 249.7 L1014.7 248.8 L1015.7 247.3 L1016.7 246.9 M958.2 265.9 L959.2 265.5 L960.2 264 L961.3 263.1 L962.3 263.7 L963.3 264.6 L964.3 264.3 L965.4 262.8 L966.4 261.8 L967.4 262.4 L968.4 263.3 L969.5 263 L970.5 261.6 L971.5 260.6 L972.5 261.1 L973.6 262 L974.6 261.8 L975.6 260.3 L976.6 259.3 L977.7 259.8 L978.7 260.8 L979.7 260.6 L980.7 259.1 L981.8 258 L982.8 258.5 L983.8 259.5 L984.8 259.3 L985.9 257.9 L986.9 256.8 L987.9 257.2 L988.9 258.2 L990 258.1 L991 256.7 L992 255.5 L993 255.9 L994 256.9 L995.1 256.8 L996.1 255.4 L997.1 254.3 L998.1 254.6 L999.2 255.6 L1000.2 255.6 L1001.2 254.2 L1002.2 253 L1003.3 253.3 L1004.3 254.3 L1005.3 254.4 L1006.3 253 L1007.4 251.8 L1008.4 252 L1009.4 253 L1010.4 253.1 L1011.5 251.8 L1012.5 250.5 L1013.5 250.7 L1014.5 251.8 L1015.6 251.9 L1016.6 250.5 L1017.6 249.3 L1018.6 249.4 L1019.7 250.5 M961.1 267.3 L962.1 265.8 L963.2 265.4 L964.2 266.3 L965.2 267 L966.2 266.1 L967.3 264.6 L968.3 264.1 L969.3 265 L970.3 265.7 L971.4 264.8 L972.4 263.3 L973.4 262.9 L974.4 263.7 L975.5 264.4 L976.5 263.6 L977.5 262.1 L978.5 261.6 L979.6 262.4 L980.6 263.2 L981.6 262.4 L982.6 260.9 L983.7 260.3 L984.7 261.1 L985.7 261.9 L986.7 261.2 L987.8 259.6 L988.8 259 L989.8 259.8 L990.8 260.6 L991.9 259.9 L992.9 258.4 L993.9 257.8 L994.9 258.6 L996 259.3 L997 258.7 L998 257.2 L999 256.5 L1000 257.3 L1001.1 258.1 L1002.1 257.5 L1003.1 255.9 L1004.1 255.2 L1005.2 256 L1006.2 256.8 L1007.2 256.2 L1008.2 254.7 L1009.3 254 L1010.3 254.7 L1011.3 255.5 L1012.3 255 L1013.4 253.5 L1014.4 252.7 L1015.4 253.4 L1016.4 254.2 L1017.5 253.8 L1018.5 252.2 L1019.5 251.4 L1020.5 252.1 L1021.6 253 L1022.6 252.5 M964 267.7 L965.1 267.9 L966.1 269 L967.1 269.1 L968.1 267.8 L969.2 266.5 L970.2 266.6 L971.2 267.7 L972.2 267.8 L973.3 266.6 L974.3 265.2 L975.3 265.3 L976.3 266.4 L977.4 266.6 L978.4 265.3 L979.4 264 L980.4 264.1 L981.5 265.1 L982.5 265.3 L983.5 264.1 L984.5 262.7 L985.6 262.8 L986.6 263.8 L987.6 264.1 L988.6 262.9 L989.7 261.5 L990.7 261.5 L991.7 262.5 L992.7 262.8 L993.8 261.7 L994.8 260.3 L995.8 260.2 L996.8 261.2 L997.9 261.6 L998.9 260.4 L999.9 259 L1000.9 258.9 L1001.9 259.9 L1003 260.3 L1004 259.2 L1005 257.8 L1006 257.6 L1007.1 258.6 L1008.1 259.1 L1009.1 258 L1010.1 256.5 L1011.2 256.3 L1012.2 257.3 L1013.2 257.8 L1014.2 256.8 L1015.3 255.3 L1016.3 255.1 L1017.3 256 L1018.3 256.5 L1019.4 255.5 L1020.4 254.1 L1021.4 253.8 L1022.4 254.7 L1023.5 255.3 L1024.5 254.3 L1025.5 252.8 M967 270.6 L968 271.5 L969 271 L970 269.5 L971.1 268.6 L972.1 269.3 L973.1 270.2 L974.1 269.8 L975.2 268.3 L976.2 267.4 L977.2 268 L978.2 268.9 L979.3 268.5 L980.3 267 L981.3 266.1 L982.3 266.7 L983.4 267.6 L984.4 267.3 L985.4 265.8 L986.4 264.8 L987.5 265.4 L988.5 266.3 L989.5 266.1 L990.5 264.6 L991.6 263.6 L992.6 264.1 L993.6 265.1 L994.6 264.8 L995.7 263.4 L996.7 262.3 L997.7 262.8 L998.7 263.8 L999.8 263.6 L1000.8 262.1 L1001.8 261.1 L1002.8 261.5 L1003.8 262.5 L1004.9 262.3 L1005.9 260.9 L1006.9 259.8 L1007.9 260.2 L1009 261.2 L1010 261.1 L1011 259.7 L1012 258.6 L1013.1 258.9 L1014.1 259.9 L1015.1 259.9 L1016.1 258.5 L1017.2 257.3 L1018.2 257.6 L1019.2 258.6 L1020.2 258.6 L1021.3 257.2 L1022.3 256 L1023.3 256.3 L1024.3 257.4 L1025.4 257.4 L1026.4 256 L1027.4 254.8 L1028.4 255 M969.9 273.8 L970.9 272.8 L971.9 271.3 L973 271 L974 271.9 L975 272.5 L976 271.6 L977.1 270.1 L978.1 269.7 L979.1 270.6 L980.1 271.2 L981.2 270.3 L982.2 268.8 L983.2 268.4 L984.2 269.4 L985.3 270 L986.3 269.1 L987.3 267.6 L988.3 267.2 L989.4 268.1 L990.4 268.7 L991.4 267.9 L992.4 266.3 L993.5 265.9 L994.5 266.8 L995.5 267.4 L996.5 266.6 L997.6 265.1 L998.6 264.6 L999.6 265.5 L1000.6 266.2 L1001.7 265.4 L1002.7 263.9 L1003.7 263.3 L1004.7 264.2 L1005.8 264.9 L1006.8 264.2 L1007.8 262.6 L1008.8 262.1 L1009.8 262.9 L1010.9 263.6 L1011.9 263 L1012.9 261.4 L1013.9 260.8 L1015 261.6 L1016 262.4 L1017 261.7 L1018 260.2 L1019.1 259.5 L1020.1 260.3 L1021.1 261.1 L1022.1 260.5 L1023.2 259 L1024.2 258.2 L1025.2 259 L1026.2 259.8 L1027.3 259.3 L1028.3 257.7 L1029.3 257 L1030.3 257.7 L1031.4 258.5 M972.8 274.5 L973.8 273.3 L974.9 273.5 L975.9 274.6 L976.9 274.6 L977.9 273.2 L979 272 L980 272.2 L981 273.3 L982 273.4 L983.1 272 L984.1 270.8 L985.1 270.9 L986.1 272 L987.2 272.1 L988.2 270.8 L989.2 269.5 L990.2 269.7 L991.3 270.7 L992.3 270.9 L993.3 269.6 L994.3 268.3 L995.4 268.4 L996.4 269.4 L997.4 269.6 L998.4 268.4 L999.5 267 L1000.5 267.1 L1001.5 268.1 L1002.5 268.4 L1003.6 267.1 L1004.6 265.8 L1005.6 265.8 L1006.6 266.8 L1007.7 267.1 L1008.7 265.9 L1009.7 264.5 L1010.7 264.5 L1011.7 265.5 L1012.8 265.8 L1013.8 264.7 L1014.8 263.3 L1015.8 263.2 L1016.9 264.2 L1017.9 264.6 L1018.9 263.5 L1019.9 262 L1021 261.9 L1022 262.9 L1023 263.3 L1024 262.2 L1025.1 260.8 L1026.1 260.7 L1027.1 261.6 L1028.1 262.1 L1029.2 261 L1030.2 259.6 L1031.2 259.4 L1032.2 260.4 L1033.3 260.8 L1034.3 259.8 M975.7 275.5 L976.8 276.2 L977.8 277 L978.8 276.5 L979.8 275 L980.9 274.2 L981.9 274.9 L982.9 275.8 L983.9 275.3 L985 273.7 L986 272.9 L987 273.6 L988 274.5 L989.1 274 L990.1 272.5 L991.1 271.7 L992.1 272.3 L993.2 273.2 L994.2 272.8 L995.2 271.3 L996.2 270.4 L997.3 271 L998.3 271.9 L999.3 271.6 L1000.3 270.1 L1001.4 269.1 L1002.4 269.7 L1003.4 270.6 L1004.4 270.3 L1005.5 268.8 L1006.5 267.9 L1007.5 268.4 L1008.5 269.4 L1009.6 269.1 L1010.6 267.6 L1011.6 266.6 L1012.6 267.1 L1013.6 268.1 L1014.7 267.8 L1015.7 266.4 L1016.7 265.3 L1017.7 265.8 L1018.8 266.8 L1019.8 266.6 L1020.8 265.2 L1021.8 264.1 L1022.9 264.5 L1023.9 265.5 L1024.9 265.4 L1025.9 263.9 L1027 262.8 L1028 263.2 L1029 264.2 L1030 264.1 L1031.1 262.7 L1032.1 261.6 L1033.1 261.9 L1034.1 262.9 L1035.2 262.9 L1036.2 261.5 L1037.2 260.3 M978.7 278.8 L979.7 279.3 L980.7 278.2 L981.7 276.8 L982.8 276.6 L983.8 277.6 L984.8 278 L985.8 277 L986.9 275.5 L987.9 275.3 L988.9 276.3 L989.9 276.8 L991 275.8 L992 274.3 L993 274 L994 275 L995.1 275.5 L996.1 274.6 L997.1 273.1 L998.1 272.7 L999.2 273.7 L1000.2 274.3 L1001.2 273.3 L1002.2 271.8 L1003.3 271.5 L1004.3 272.4 L1005.3 273 L1006.3 272.1 L1007.4 270.6 L1008.4 270.2 L1009.4 271.1 L1010.4 271.7 L1011.5 270.9 L1012.5 269.4 L1013.5 268.9 L1014.5 269.8 L1015.5 270.5 L1016.6 269.7 L1017.6 268.1 L1018.6 267.6 L1019.6 268.5 L1020.7 269.2 L1021.7 268.4 L1022.7 266.9 L1023.7 266.3 L1024.8 267.2 L1025.8 267.9 L1026.8 267.2 L1027.8 265.7 L1028.9 265.1 L1029.9 265.9 L1030.9 266.7 L1031.9 266 L1033 264.4 L1034 263.8 L1035 264.6 L1036 265.4 L1037.1 264.7 L1038.1 263.2 L1039.1 262.5 L1040.1 263.3" stroke="#404040" stroke-width="1.0" fill="none"/>
<path d="M933.3 249.6 L934.4 248.5 L935.4 247.4 L936.4 247.6 L937.4 248.4 L938.5 248.4 L939.5 247.2 L940.5 246.2 L941.5 246.3 L942.6 247.1 L943.6 247.1 L944.6 246 L945.6 244.9 L946.6 245 L947.7 245.8 L948.7 245.9 L949.7 244.8 L950.7 243.7 L951.8 243.8 L952.8 244.6 L953.8 244.6 L954.8 243.5 L955.9 242.4 L956.9 242.5 L957.9 243.3 L958.9 243.4 L960 242.3 L961 241.2 L962 241.2 L963 242 L964.1 242.1 L965.1 241.1 L966.1 239.9 L967.1 239.9 L968.2 240.7 L969.2 240.9 L970.2 239.9 L971.2 238.7 L972.3 238.6 L973.3 239.4 L974.3 239.6 L975.3 238.6 L976.4 237.4 L977.4 237.3 L978.4 238.1 L979.4 238.4 L980.5 237.4 L981.5 236.2 L982.5 236.1 L983.5 236.8 L984.6 237.1 L985.6 236.2 L986.6 234.9 L987.6 234.8 L988.7 235.5 L989.7 235.9 L990.7 234.9 L991.7 233.7 L992.8 233.5 L993.8 234.3 L994.8 234.6 M936.3 250.3 L937.3 249.6 L938.3 250.2 L939.3 250.8 L940.4 250.3 L941.4 249 L942.4 248.4 L943.4 248.9 L944.5 249.6 L945.5 249.1 L946.5 247.8 L947.5 247.1 L948.5 247.6 L949.6 248.3 L950.6 247.9 L951.6 246.6 L952.6 245.8 L953.7 246.3 L954.7 247 L955.7 246.6 L956.7 245.3 L957.8 244.6 L958.8 245 L959.8 245.7 L960.8 245.4 L961.9 244.1 L962.9 243.3 L963.9 243.7 L964.9 244.5 L966 244.1 L967 242.9 L968 242 L969 242.4 L970.1 243.2 L971.1 242.9 L972.1 241.6 L973.1 240.8 L974.2 241.1 L975.2 241.9 L976.2 241.7 L977.2 240.4 L978.3 239.5 L979.3 239.9 L980.3 240.6 L981.3 240.4 L982.4 239.2 L983.4 238.3 L984.4 238.6 L985.4 239.3 L986.5 239.2 L987.5 237.9 L988.5 237 L989.5 237.3 L990.6 238.1 L991.6 237.9 L992.6 236.7 L993.6 235.7 L994.7 236 L995.7 236.8 L996.7 236.7 L997.7 235.5 M939.2 252 L940.2 252.8 L941.2 253.1 L942.3 252.2 L943.3 250.9 L944.3 250.7 L945.3 251.5 L946.4 251.8 L947.4 250.9 L948.4 249.7 L949.4 249.4 L950.4 250.2 L951.5 250.6 L952.5 249.7 L953.5 248.4 L954.5 248.2 L955.6 248.9 L956.6 249.3 L957.6 248.5 L958.6 247.2 L959.7 246.9 L960.7 247.6 L961.7 248 L962.7 247.2 L963.8 246 L964.8 245.6 L965.8 246.3 L966.8 246.8 L967.9 246 L968.9 244.7 L969.9 244.3 L970.9 245 L972 245.5 L973 244.8 L974 243.5 L975 243.1 L976.1 243.7 L977.1 244.2 L978.1 243.5 L979.1 242.2 L980.2 241.8 L981.2 242.4 L982.2 243 L983.2 242.3 L984.3 241 L985.3 240.5 L986.3 241.2 L987.3 241.7 L988.4 241.1 L989.4 239.8 L990.4 239.2 L991.4 239.9 L992.5 240.4 L993.5 239.8 L994.5 238.5 L995.5 238 L996.6 238.6 L997.6 239.2 L998.6 238.6 L999.6 237.3 L1000.7 236.7 M942.1 255.3 L943.1 255.2 L944.2 254 L945.2 253 L946.2 253.2 L947.2 254 L948.3 253.9 L949.3 252.7 L950.3 251.7 L951.3 251.9 L952.4 252.7 L953.4 252.7 L954.4 251.5 L955.4 250.5 L956.4 250.6 L957.5 251.4 L958.5 251.4 L959.5 250.3 L960.5 249.2 L961.6 249.3 L962.6 250.1 L963.6 250.2 L964.6 249 L965.7 248 L966.7 248.1 L967.7 248.9 L968.7 248.9 L969.8 247.8 L970.8 246.7 L971.8 246.8 L972.8 247.6 L973.9 247.7 L974.9 246.6 L975.9 245.5 L976.9 245.5 L978 246.3 L979 246.4 L980 245.3 L981 244.2 L982.1 244.2 L983.1 245 L984.1 245.2 L985.1 244.1 L986.2 243 L987.2 242.9 L988.2 243.7 L989.2 243.9 L990.3 242.9 L991.3 241.7 L992.3 241.6 L993.3 242.4 L994.4 242.6 L995.4 241.7 L996.4 240.5 L997.4 240.4 L998.5 241.1 L999.5 241.4 L1000.5 240.4 L1001.5 239.2 L1002.6 239.1 L1003.6 239.9 M945 257.1 L946.1 255.8 L947.1 255.2 L948.1 255.8 L949.1 256.4 L950.2 255.8 L951.2 254.5 L952.2 253.9 L953.2 254.5 L954.3 255.1 L955.3 254.6 L956.3 253.3 L957.3 252.6 L958.3 253.2 L959.4 253.8 L960.4 253.4 L961.4 252.1 L962.4 251.4 L963.5 251.9 L964.5 252.6 L965.5 252.1 L966.5 250.8 L967.6 250.1 L968.6 250.6 L969.6 251.3 L970.6 250.9 L971.7 249.6 L972.7 248.8 L973.7 249.3 L974.7 250 L975.8 249.6 L976.8 248.4 L977.8 247.6 L978.8 248 L979.9 248.8 L980.9 248.4 L981.9 247.1 L982.9 246.3 L984 246.7 L985 247.5 L986 247.2 L987 245.9 L988.1 245.1 L989.1 245.5 L990.1 246.2 L991.1 245.9 L992.2 244.7 L993.2 243.8 L994.2 244.2 L995.2 244.9 L996.3 244.7 L997.3 243.4 L998.3 242.5 L999.3 242.9 L1000.4 243.6 L1001.4 243.4 L1002.4 242.2 L1003.4 241.3 L1004.5 241.6 L1005.5 242.4 L1006.5 242.2 M948 257.7 L949 257.6 L950 258.4 L951 258.6 L952.1 257.7 L953.1 256.4 L954.1 256.3 L955.1 257.1 L956.2 257.4 L957.2 256.4 L958.2 255.2 L959.2 255 L960.2 255.8 L961.3 256.1 L962.3 255.2 L963.3 254 L964.3 253.7 L965.4 254.5 L966.4 254.8 L967.4 254 L968.4 252.7 L969.5 252.5 L970.5 253.2 L971.5 253.6 L972.5 252.7 L973.6 251.5 L974.6 251.2 L975.6 251.9 L976.6 252.3 L977.7 251.5 L978.7 250.2 L979.7 249.9 L980.7 250.6 L981.8 251.1 L982.8 250.3 L983.8 249 L984.8 248.6 L985.9 249.3 L986.9 249.8 L987.9 249 L988.9 247.7 L990 247.3 L991 248 L992 248.5 L993 247.8 L994.1 246.5 L995.1 246.1 L996.1 246.8 L997.1 247.3 L998.2 246.6 L999.2 245.3 L1000.2 244.8 L1001.2 245.5 L1002.3 246 L1003.3 245.3 L1004.3 244 L1005.3 243.5 L1006.4 244.2 L1007.4 244.7 L1008.4 244.1 L1009.4 242.8 M950.9 260.1 L951.9 260.9 L952.9 260.7 L954 259.4 L955 258.5 L956 258.8 L957 259.6 L958.1 259.4 L959.1 258.2 L960.1 257.2 L961.1 257.5 L962.1 258.3 L963.2 258.2 L964.2 257 L965.2 256 L966.2 256.2 L967.3 257 L968.3 256.9 L969.3 255.7 L970.3 254.7 L971.4 254.9 L972.4 255.7 L973.4 255.7 L974.4 254.5 L975.5 253.5 L976.5 253.7 L977.5 254.4 L978.5 254.4 L979.6 253.3 L980.6 252.2 L981.6 252.4 L982.6 253.2 L983.7 253.2 L984.7 252.1 L985.7 251 L986.7 251.1 L987.8 251.9 L988.8 251.9 L989.8 250.8 L990.8 249.7 L991.9 249.8 L992.9 250.6 L993.9 250.7 L994.9 249.6 L996 248.5 L997 248.5 L998 249.3 L999 249.4 L1000.1 248.4 L1001.1 247.2 L1002.1 247.2 L1003.1 248 L1004.2 248.2 L1005.2 247.1 L1006.2 246 L1007.2 245.9 L1008.3 246.7 L1009.3 246.9 L1010.3 245.9 L1011.3 244.7 L1012.4 244.7 M953.8 263.2 L954.8 262.6 L955.9 261.3 L956.9 260.7 L957.9 261.4 L958.9 261.9 L960 261.3 L961 260 L962 259.5 L963 260.1 L964.1 260.7 L965.1 260.1 L966.1 258.8 L967.1 258.2 L968.1 258.8 L969.2 259.4 L970.2 258.9 L971.2 257.6 L972.2 256.9 L973.3 257.5 L974.3 258.1 L975.3 257.6 L976.3 256.3 L977.4 255.7 L978.4 256.2 L979.4 256.9 L980.4 256.4 L981.5 255.1 L982.5 254.4 L983.5 254.9 L984.5 255.6 L985.6 255.1 L986.6 253.8 L987.6 253.1 L988.6 253.6 L989.7 254.3 L990.7 253.9 L991.7 252.6 L992.7 251.9 L993.8 252.3 L994.8 253 L995.8 252.7 L996.8 251.4 L997.9 250.6 L998.9 251.1 L999.9 251.8 L1000.9 251.4 L1002 250.1 L1003 249.3 L1004 249.8 L1005 250.5 L1006.1 250.2 L1007.1 248.9 L1008.1 248.1 L1009.1 248.5 L1010.2 249.2 L1011.2 248.9 L1012.2 247.7 L1013.2 246.8 L1014.3 247.2 L1015.3 247.9 M956.7 264.4 L957.8 263.2 L958.8 263.2 L959.8 263.9 L960.8 264.1 L961.9 263.1 L962.9 262 L963.9 261.9 L964.9 262.7 L966 262.9 L967 261.9 L968 260.7 L969 260.6 L970 261.4 L971.1 261.6 L972.1 260.7 L973.1 259.5 L974.1 259.3 L975.2 260.1 L976.2 260.4 L977.2 259.4 L978.2 258.2 L979.3 258 L980.3 258.8 L981.3 259.1 L982.3 258.2 L983.4 257 L984.4 256.8 L985.4 257.5 L986.4 257.9 L987.5 257 L988.5 255.7 L989.5 255.5 L990.5 256.2 L991.6 256.6 L992.6 255.8 L993.6 254.5 L994.6 254.2 L995.7 254.9 L996.7 255.3 L997.7 254.5 L998.7 253.2 L999.8 252.9 L1000.8 253.6 L1001.8 254.1 L1002.8 253.3 L1003.9 252 L1004.9 251.6 L1005.9 252.4 L1006.9 252.8 L1008 252.1 L1009 250.8 L1010 250.4 L1011 251.1 L1012.1 251.6 L1013.1 250.8 L1014.1 249.5 L1015.1 249.1 L1016.2 249.8 L1017.2 250.3 L1018.2 249.6 M959.7 265.3 L960.7 265.7 L961.7 266.4 L962.7 266.2 L963.8 264.9 L964.8 264 L965.8 264.4 L966.8 265.2 L967.9 264.9 L968.9 263.7 L969.9 262.8 L970.9 263.1 L971.9 263.9 L973 263.7 L974 262.5 L975 261.5 L976 261.8 L977.1 262.6 L978.1 262.4 L979.1 261.2 L980.1 260.3 L981.2 260.5 L982.2 261.3 L983.2 261.2 L984.2 260 L985.3 259 L986.3 259.2 L987.3 260 L988.3 260 L989.4 258.8 L990.4 257.8 L991.4 258 L992.4 258.8 L993.5 258.7 L994.5 257.5 L995.5 256.5 L996.5 256.7 L997.6 257.5 L998.6 257.5 L999.6 256.3 L1000.6 255.2 L1001.7 255.4 L1002.7 256.2 L1003.7 256.2 L1004.7 255.1 L1005.8 254 L1006.8 254.1 L1007.8 254.9 L1008.8 255 L1009.9 253.8 L1010.9 252.7 L1011.9 252.8 L1012.9 253.6 L1014 253.7 L1015 252.6 L1016 251.5 L1017 251.5 L1018.1 252.3 L1019.1 252.5 L1020.1 251.4 L1021.1 250.2 M962.6 268.3 L963.6 268.8 L964.6 268.1 L965.7 266.8 L966.7 266.3 L967.7 267 L968.7 267.5 L969.8 266.8 L970.8 265.5 L971.8 265 L972.8 265.7 L973.8 266.2 L974.9 265.6 L975.9 264.3 L976.9 263.8 L977.9 264.4 L979 265 L980 264.3 L981 263 L982 262.5 L983.1 263.1 L984.1 263.7 L985.1 263.1 L986.1 261.8 L987.2 261.2 L988.2 261.8 L989.2 262.4 L990.2 261.9 L991.3 260.6 L992.3 260 L993.3 260.5 L994.3 261.2 L995.4 260.6 L996.4 259.3 L997.4 258.7 L998.4 259.2 L999.5 259.9 L1000.5 259.4 L1001.5 258.1 L1002.5 257.4 L1003.6 257.9 L1004.6 258.6 L1005.6 258.2 L1006.6 256.9 L1007.7 256.2 L1008.7 256.7 L1009.7 257.3 L1010.7 256.9 L1011.8 255.6 L1012.8 254.9 L1013.8 255.4 L1014.8 256.1 L1015.9 255.7 L1016.9 254.4 L1017.9 253.6 L1018.9 254.1 L1020 254.8 L1021 254.4 L1022 253.2 L1023 252.4 L1024.1 252.8 M965.5 270.9 L966.5 269.8 L967.6 268.7 L968.6 268.7 L969.6 269.5 L970.6 269.7 L971.7 268.6 L972.7 267.5 L973.7 267.5 L974.7 268.3 L975.8 268.4 L976.8 267.4 L977.8 266.2 L978.8 266.2 L979.8 267 L980.9 267.2 L981.9 266.2 L982.9 265 L983.9 264.9 L985 265.7 L986 265.9 L987 264.9 L988 263.7 L989.1 263.6 L990.1 264.4 L991.1 264.7 L992.1 263.7 L993.2 262.5 L994.2 262.3 L995.2 263.1 L996.2 263.4 L997.3 262.5 L998.3 261.2 L999.3 261.1 L1000.3 261.8 L1001.4 262.1 L1002.4 261.2 L1003.4 260 L1004.4 259.8 L1005.5 260.5 L1006.5 260.9 L1007.5 260 L1008.5 258.8 L1009.6 258.5 L1010.6 259.2 L1011.6 259.6 L1012.6 258.8 L1013.7 257.5 L1014.7 257.2 L1015.7 258 L1016.7 258.4 L1017.8 257.5 L1018.8 256.3 L1019.8 255.9 L1020.8 256.7 L1021.9 257.1 L1022.9 256.3 L1023.9 255 L1024.9 254.7 L1026 255.4 L1027 255.8 M968.4 271.6 L969.5 270.8 L970.5 271.3 L971.5 272 L972.5 271.7 L973.6 270.4 L974.6 269.6 L975.6 270 L976.6 270.7 L977.7 270.4 L978.7 269.2 L979.7 268.3 L980.7 268.7 L981.7 269.5 L982.8 269.2 L983.8 267.9 L984.8 267.1 L985.8 267.4 L986.9 268.2 L987.9 268 L988.9 266.7 L989.9 265.8 L991 266.1 L992 266.9 L993 266.7 L994 265.5 L995.1 264.5 L996.1 264.8 L997.1 265.6 L998.1 265.5 L999.2 264.2 L1000.2 263.3 L1001.2 263.6 L1002.2 264.3 L1003.3 264.2 L1004.3 263 L1005.3 262 L1006.3 262.3 L1007.4 263.1 L1008.4 263 L1009.4 261.8 L1010.4 260.8 L1011.5 261 L1012.5 261.8 L1013.5 261.7 L1014.5 260.6 L1015.6 259.5 L1016.6 259.7 L1017.6 260.5 L1018.6 260.5 L1019.7 259.3 L1020.7 258.3 L1021.7 258.4 L1022.7 259.2 L1023.8 259.2 L1024.8 258.1 L1025.8 257 L1026.8 257.1 L1027.9 257.9 L1028.9 258 L1029.9 256.9 M971.4 273.2 L972.4 273.9 L973.4 274.3 L974.4 273.5 L975.5 272.3 L976.5 271.9 L977.5 272.6 L978.5 273.1 L979.6 272.3 L980.6 271 L981.6 270.6 L982.6 271.3 L983.6 271.8 L984.7 271.1 L985.7 269.8 L986.7 269.3 L987.7 270 L988.8 270.5 L989.8 269.8 L990.8 268.5 L991.8 268.1 L992.9 268.7 L993.9 269.3 L994.9 268.6 L995.9 267.3 L997 266.8 L998 267.4 L999 268 L1000 267.4 L1001.1 266.1 L1002.1 265.5 L1003.1 266.1 L1004.1 266.7 L1005.2 266.1 L1006.2 264.8 L1007.2 264.2 L1008.2 264.8 L1009.3 265.5 L1010.3 264.9 L1011.3 263.6 L1012.3 263 L1013.4 263.6 L1014.4 264.2 L1015.4 263.7 L1016.4 262.4 L1017.5 261.7 L1018.5 262.3 L1019.5 262.9 L1020.5 262.4 L1021.6 261.1 L1022.6 260.4 L1023.6 261 L1024.6 261.6 L1025.7 261.2 L1026.7 259.9 L1027.7 259.2 L1028.7 259.7 L1029.8 260.4 L1030.8 259.9 L1031.8 258.7 L1032.8 257.9 M974.3 276.4 L975.3 276.5 L976.3 275.3 L977.4 274.2 L978.4 274.3 L979.4 275.1 L980.4 275.2 L981.5 274.1 L982.5 273 L983.5 273 L984.5 273.8 L985.5 274 L986.6 272.9 L987.6 271.7 L988.6 271.8 L989.6 272.6 L990.7 272.7 L991.7 271.6 L992.7 270.5 L993.7 270.5 L994.8 271.3 L995.8 271.4 L996.8 270.4 L997.8 269.2 L998.9 269.2 L999.9 270 L1000.9 270.2 L1001.9 269.2 L1003 268 L1004 267.9 L1005 268.7 L1006 268.9 L1007.1 267.9 L1008.1 266.7 L1009.1 266.6 L1010.1 267.4 L1011.2 267.7 L1012.2 266.7 L1013.2 265.5 L1014.2 265.4 L1015.3 266.1 L1016.3 266.4 L1017.3 265.5 L1018.3 264.3 L1019.4 264.1 L1020.4 264.8 L1021.4 265.2 L1022.4 264.3 L1023.5 263 L1024.5 262.8 L1025.5 263.6 L1026.5 263.9 L1027.6 263 L1028.6 261.8 L1029.6 261.5 L1030.6 262.3 L1031.7 262.6 L1032.7 261.8 L1033.7 260.5 L1034.7 260.2 L1035.8 261 M977.2 278.4 L978.2 277.1 L979.3 276.4 L980.3 276.9 L981.3 277.6 L982.3 277.2 L983.4 275.9 L984.4 275.1 L985.4 275.6 L986.4 276.3 L987.5 275.9 L988.5 274.7 L989.5 273.9 L990.5 274.3 L991.5 275 L992.6 274.7 L993.6 273.4 L994.6 272.6 L995.6 273 L996.7 273.8 L997.7 273.5 L998.7 272.2 L999.7 271.3 L1000.8 271.7 L1001.8 272.5 L1002.8 272.2 L1003.8 271 L1004.9 270.1 L1005.9 270.4 L1006.9 271.2 L1007.9 271 L1009 269.7 L1010 268.8 L1011 269.2 L1012 269.9 L1013.1 269.7 L1014.1 268.5 L1015.1 267.6 L1016.1 267.9 L1017.2 268.6 L1018.2 268.5 L1019.2 267.3 L1020.2 266.3 L1021.3 266.6 L1022.3 267.4 L1023.3 267.2 L1024.3 266 L1025.4 265.1 L1026.4 265.3 L1027.4 266.1 L1028.4 266 L1029.5 264.8 L1030.5 263.8 L1031.5 264 L1032.5 264.8 L1033.6 264.7 L1034.6 263.6 L1035.6 262.5 L1036.6 262.7 L1037.7 263.5 L1038.7 263.5" stroke="#e8e8e8" stroke-width="0.8" fill="none"/>
<path d="M895.6 243.1 L942.4 274 L942.4 289.3 L895.6 258.4 Z" fill="#c4c4c4" fill-opacity="0.8"/>
<path d="M895.6 258.4 L895.6 243.1 L942.4 274 L942.4 289.3" stroke="#000" stroke-width="1.7" fill="none"/>
<path d="M962.6 226.6 L1009.4 257.5 L1009.4 272.8 L962.6 241.9 Z" fill="#c4c4c4" fill-opacity="0.8"/>
<path d="M962.6 241.9 L962.6 226.6 L1009.4 257.5 L1009.4 272.8" stroke="#000" stroke-width="1.7" fill="none"/>
<path d="M926.9 235.4 L926.9 250.7 M926.9 250.7 L943.8 246.5 L943.8 231.2" stroke="#000" stroke-width="1.6" fill="none"/>
<path d="M858.2 252.3 L994.8 218.7 L1041.6 249.6 L905 283.2 Z" fill="none" stroke="#000" stroke-width="2.1" stroke-linejoin="round"/>
<path d="M858.2 252.3 L858.2 267.6 M905 283.2 L905 298.5 M1041.6 249.6 L1041.6 264.9 M994.8 218.7 L994.8 234" stroke="#000" stroke-width="2.1" fill="none"/>
<path d="M933.7 325.9 L997.6 307.4 L1036.3 337.8 L977.7 354.8 Z" fill="#c4c6cc"/>
<path d="M957.3 326 L966.1 323.4 M959 341 L965.1 339.3 M957 340.5 L960 339.6 M960.3 321.8 L963.8 320.8 M992.1 343.2 L995.9 342.1 M971.8 341 L983.3 337.7 M982.7 328.6 L994.4 325.2 M971.3 350.5 L976.6 349 M945.4 328.1 L950.9 326.5 M987.5 318.5 L995.5 316.1 M985.3 326.8 L993 324.6 M938.1 327.9 L942.7 326.5 M990 327.7 L995.6 326.1 M985.6 330 L991 328.4 M1008.3 333.4 L1013.2 331.9 M988 332.2 L998.8 329.1 M987 322.9 L998.8 319.5 M956.7 337 L966.4 334.1 M961.7 338.4 L964.7 337.5 M1003.7 337.3 L1011.7 335 M996.6 321.2 L1005.8 318.5 M991.5 333.4 L998.4 331.4 M1021.5 339.5 L1028.5 337.4 M973.4 317.7 L982.6 315 M1012.2 344.1 L1022.6 341.1 M965.1 333.2 L974 330.7 M954.3 339.4 L957.2 338.6 M941.3 326.9 L951.1 324.1 M950.1 332 L956.4 330.2 M986.4 314.7 L993.3 312.7 M1001.8 342.7 L1012.1 339.7 M994.4 320.4 L1001 318.5 M990.7 345.9 L1002.3 342.6 M948.3 329.6 L953.1 328.2 M966.3 336.9 L974.4 334.5 M947.5 322.9 L954.1 321 M977.7 336.9 L989.3 333.5 M994.4 330 L1002.8 327.5 M973.9 317.3 L984.9 314.1 M1015 338.5 L1025.1 335.6 M971.9 331.8 L975.6 330.7 M971.7 318.2 L975 317.3 M951.1 328.3 L956.9 326.6 M935 326.4 L939.1 325.2 M953.4 335.7 L956.3 334.9 M1009.4 329.6 L1013.4 328.4 M961.5 332.7 L967.6 330.9 M975.3 349 L987.3 345.5 M979.9 332.9 L983.3 331.9 M952.5 335.1 L957.7 333.6 M987.4 317.7 L990.3 316.9 M1010.2 325.9 L1014.2 324.7 M964.9 318.8 L972.5 316.6 M1026.1 334.8 L1030 333.7 M962.9 333.1 L967.1 331.9 M999.9 329.1 L1009.8 326.2 M960.8 327.9 L971 324.9 M1026 334.4 L1029.6 333.4 M1011.5 334.1 L1016.2 332.7 M977.4 328.4 L980.4 327.6 M946.5 334.3 L950.6 333.1 M1013.3 342.3 L1020.2 340.3 M1029 339 L1035.4 337.2 M962.7 327.2 L967.5 325.9 M952.2 329.6 L960.7 327.2 M1020.6 335.5 L1027.7 333.5 M1004.3 338.6 L1007.8 337.6 M1009.5 341.5 L1019.4 338.6 M996.3 327.9 L1000.6 326.7 M992.4 323.2 L1002.5 320.2 M1005.8 321.8 L1010.1 320.6 M1018.3 331.5 L1022.6 330.3 M945.8 329.3 L956.9 326.1 M985.4 317.7 L995.8 314.6 M1017.4 329 L1021.2 327.9 M969.7 321.6 L972.5 320.8 M1016.5 329 L1020.9 327.7 M1005.1 323.6 L1011.7 321.7 M989.3 319.1 L994.4 317.7 M959.4 329 L967.5 326.7 M965 334.6 L968.9 333.5 M1000.3 321.7 L1007.3 319.7 M1004.7 342.7 L1011.3 340.8 M1007.1 325.7 L1014.6 323.6 M963.4 318.9 L970.2 316.9 M942.8 324.3 L952.9 321.3 M962.2 337.6 L971.7 334.9 M978.4 326.9 L985.9 324.8 M997.9 339.8 L1001.6 338.7 M975.4 324.7 L980.6 323.2 M998.8 328.4 L1006.7 326.1 M1015.4 339.9 L1022.2 338 M989.4 331 L996.8 328.9 M991.8 328.2 L999.5 326 M1000.1 345.5 L1009.3 342.9 M1023.5 338.8 L1028.6 337.3 M1005 344.2 L1015.5 341.1 M945.1 328.3 L951.9 326.4 M946.4 332.8 L949.8 331.8 M1004.6 337.9 L1015.6 334.7 M971.5 344.7 L980.4 342.1 M978 349.6 L989.7 346.2 M985.4 350.2 L991.8 348.4 M1002.7 346.7 L1013.1 343.7 M959.8 336.6 L967.3 334.4 M960.1 327 L965.8 325.3 M975.1 315.5 L982.9 313.3 M958.5 320.3 L964.3 318.6 M990.3 331 L993.6 330.1 M1023.3 332.6 L1026.8 331.6 M949.4 332.9 L952.4 332 M989.1 321.6 L993 320.5 M995.6 345.6 L1005.9 342.6 M953.4 327 L964.7 323.8 M995.3 337.2 L998.7 336.2 M964.7 345.6 L971.3 343.6 M976.2 352.3 L984.8 349.8 M982.5 316 L993.1 312.9 M972.6 350.3 L979.5 348.3 M975.4 337 L986.7 333.7 M953.1 326.3 L960.7 324.1 M950.6 326.3 L954.7 325.1 M943.5 332.1 L949.1 330.4 M982.2 343.4 L987.6 341.8 M968.8 323.7 L974.7 322 M945.3 333.5 L946.5 333.1 M998.4 330.2 L1002.8 329 M999.6 345.4 L1003.3 344.3 M998.4 325.5 L1005.6 323.3 M997.6 324.1 L1005 322" stroke="#a83434" stroke-width="1.1" fill="none" stroke-opacity="0.6"/>
<path d="M1014.1 343.1 L1018.1 342 M988.8 344.4 L992.8 343.2 M1000.3 333.1 L1004.3 332 M971.5 329.8 L975.5 328.7 M943.1 329.3 L947.1 328.1 M970.1 346.1 L974.1 345 M955.5 327 L959.5 325.9 M975.1 348.7 L979.1 347.6 M1010.7 331.5 L1014.7 330.3 M960.3 328.8 L964.3 327.6 M970.2 334.7 L974.2 333.6 M962.2 336.5 L966.2 335.3 M990 349.3 L994 348.1 M1011 326.4 L1015 325.3 M989.1 349.7 L993.1 348.5 M966.7 331.6 L970.7 330.4 M950.9 337.2 L954.9 336 M982 333.1 L986 331.9 M967.1 337.4 L971.1 336.3 M946.1 333.8 L950.1 332.6 M956.5 336.3 L960.5 335.1 M937.8 326.4 L941.8 325.3 M961.1 328.2 L965.1 327 M989.1 332 L993.1 330.9 M1003.6 333 L1007.6 331.9 M1011.2 339.8 L1015.2 338.6 M969.8 329.5 L973.8 328.3 M994.7 315.1 L998.7 313.9 M1001.6 333 L1005.6 331.9 M972.6 349.2 L976.6 348" stroke="#4f86c0" stroke-width="1.0" fill="none" stroke-opacity="0.6"/>
<path d="M997.6 307.4 L1066.9 287.3 L1110.9 316.2 L1036.3 337.8 Z" fill="#9cc4de"/>
<path d="M995 308.1 L996.1 307.6 L997.2 308 L998.3 309.6 L999.4 310.3 L1000.5 310.2 L1001.6 311.2 L1002.7 313.2 L1003.8 312.7 L1004.9 313.1 L1006 314.7 L1007.1 315.4 L1008.2 315.2 L1009.3 316.3 L1010.4 318.2 L1011.5 317.7 L1012.6 318.2 L1013.7 319.8 L1014.8 320.4 L1015.9 320.3 L1017 321.4 L1018.1 323.2 L1019.2 322.7 L1020.3 323.2 L1021.4 324.9 L1022.5 325.4 L1023.6 325.3 L1024.7 326.5 L1025.8 328.3 L1026.9 327.8 L1028 328.3 L1029.1 330 L1030.2 330.5 L1031.3 330.4 L1032.4 331.5 L1033.5 333.3 L1034.6 332.8 L1035.7 333.4 L1036.8 335 L1037.9 335.5 L1039 335.5 M1000.7 305.1 L1001.8 305.7 L1002.9 307.4 L1004 307.8 L1005.1 307.8 L1006.2 309 L1007.3 310.6 L1008.4 310.2 L1009.5 310.8 L1010.6 312.5 L1011.7 312.8 L1012.8 312.8 L1013.9 314 L1015 315.7 L1016.1 315.2 L1017.2 315.8 L1018.3 317.6 L1019.4 317.9 L1020.5 317.9 L1021.6 319.1 L1022.7 320.7 L1023.8 320.3 L1024.9 320.9 L1026 322.6 L1027.1 322.9 L1028.2 322.9 L1029.3 324.2 L1030.4 325.7 L1031.5 325.3 L1032.6 326 L1033.7 327.7 L1034.8 327.9 L1035.9 328 L1037 329.3 L1038.1 330.8 L1039.2 330.4 L1040.3 331 L1041.4 332.8 L1042.5 333 L1043.6 333.1 L1044.7 334.4 M1006.4 303.4 L1007.5 305.2 L1008.6 305.3 L1009.7 305.4 L1010.8 306.7 L1011.9 308.1 L1013 307.7 L1014.1 308.4 L1015.2 310.2 L1016.3 310.3 L1017.4 310.4 L1018.5 311.8 L1019.6 313.1 L1020.7 312.8 L1021.8 313.5 L1022.9 315.3 L1024 315.4 L1025.1 315.5 L1026.2 316.9 L1027.3 318.2 L1028.4 317.8 L1029.5 318.6 L1030.6 320.4 L1031.7 320.4 L1032.8 320.6 L1033.9 321.9 L1035 323.2 L1036.1 322.9 L1037.2 323.6 L1038.3 325.5 L1039.4 325.4 L1040.5 325.6 L1041.6 327 L1042.7 328.2 L1043.8 327.9 L1044.9 328.7 L1046 330.6 L1047.1 330.5 L1048.2 330.7 L1049.3 332.1 L1050.4 333.3 M1012.2 302.9 L1013.3 302.8 L1014.4 303 L1015.5 304.5 L1016.6 305.6 L1017.7 305.3 L1018.8 306.1 L1019.9 308 L1021 307.8 L1022.1 308.1 L1023.2 309.5 L1024.3 310.6 L1025.4 310.3 L1026.5 311.2 L1027.6 313.1 L1028.7 312.9 L1029.8 313.1 L1030.9 314.6 L1032 315.6 L1033.1 315.4 L1034.2 316.3 L1035.3 318.2 L1036.4 317.9 L1037.5 318.2 L1038.6 319.7 L1039.7 320.7 L1040.8 320.4 L1041.9 321.3 L1043 323.3 L1044.1 322.9 L1045.2 323.3 L1046.3 324.8 L1047.4 325.7 L1048.5 325.5 L1049.6 326.4 L1050.7 328.4 L1051.8 328 L1052.9 328.3 L1054 329.9 L1055.1 330.7 L1056.2 330.5 M1017.9 300.3 L1019 300.7 L1020.1 302.2 L1021.2 303 L1022.3 302.8 L1023.4 303.8 L1024.5 305.8 L1025.6 305.3 L1026.7 305.7 L1027.8 307.3 L1028.9 308.1 L1030 307.9 L1031.1 308.9 L1032.2 310.9 L1033.3 310.4 L1034.4 310.8 L1035.5 312.4 L1036.6 313.1 L1037.7 312.9 L1038.8 314 L1039.9 315.9 L1041 315.4 L1042.1 315.8 L1043.2 317.5 L1044.3 318.1 L1045.4 318 L1046.5 319.1 L1047.6 321 L1048.7 320.5 L1049.8 320.9 L1050.9 322.5 L1052 323.2 L1053.1 323.1 L1054.2 324.1 L1055.3 326 L1056.4 325.5 L1057.5 326 L1058.6 327.6 L1059.7 328.2 L1060.8 328.1 L1061.9 329.2 M1023.6 298.3 L1024.7 300 L1025.8 300.5 L1026.9 300.4 L1028 301.6 L1029.1 303.3 L1030.2 302.9 L1031.3 303.4 L1032.4 305.1 L1033.5 305.5 L1034.6 305.5 L1035.7 306.6 L1036.8 308.4 L1037.9 307.9 L1039 308.4 L1040.1 310.1 L1041.2 310.6 L1042.3 310.5 L1043.4 311.7 L1044.5 313.4 L1045.6 312.9 L1046.7 313.5 L1047.8 315.2 L1048.9 315.6 L1050 315.6 L1051.1 316.8 L1052.2 318.4 L1053.3 318 L1054.4 318.6 L1055.5 320.3 L1056.6 320.6 L1057.7 320.6 L1058.8 321.9 L1059.9 323.5 L1061 323 L1062.1 323.6 L1063.2 325.4 L1064.3 325.7 L1065.4 325.7 L1066.5 326.9 L1067.6 328.5 M1029.3 297.7 L1030.4 298 L1031.5 298 L1032.6 299.3 L1033.7 300.8 L1034.8 300.4 L1035.9 301 L1037 302.8 L1038.1 303 L1039.2 303.1 L1040.3 304.4 L1041.4 305.8 L1042.5 305.4 L1043.6 306.1 L1044.7 307.9 L1045.8 308.1 L1046.9 308.1 L1048 309.4 L1049.1 310.9 L1050.2 310.5 L1051.3 311.2 L1052.4 313 L1053.5 313.1 L1054.6 313.2 L1055.7 314.5 L1056.8 315.9 L1057.9 315.5 L1059 316.3 L1060.1 318.1 L1061.2 318.1 L1062.3 318.3 L1063.4 319.6 L1064.5 320.9 L1065.6 320.6 L1066.7 321.3 L1067.8 323.2 L1068.9 323.2 L1070 323.3 L1071.1 324.7 L1072.2 326 L1073.3 325.6 M1035.1 295.5 L1036.2 295.6 L1037.3 297 L1038.4 298.3 L1039.5 297.9 L1040.6 298.7 L1041.7 300.6 L1042.8 300.5 L1043.9 300.7 L1045 302.1 L1046.1 303.3 L1047.2 303 L1048.3 303.8 L1049.4 305.7 L1050.5 305.5 L1051.6 305.8 L1052.7 307.2 L1053.8 308.3 L1054.9 308 L1056 308.9 L1057.1 310.8 L1058.2 310.6 L1059.3 310.8 L1060.4 312.3 L1061.5 313.4 L1062.6 313.1 L1063.7 314 L1064.8 315.8 L1065.9 315.6 L1067 315.9 L1068.1 317.4 L1069.2 318.4 L1070.3 318.1 L1071.4 319 L1072.5 320.9 L1073.6 320.7 L1074.7 320.9 L1075.8 322.4 L1076.9 323.4 L1078 323.2 L1079.1 324.1 M1040.8 293.3 L1041.9 294.8 L1043 295.7 L1044.1 295.5 L1045.2 296.4 L1046.3 298.4 L1047.4 298 L1048.5 298.3 L1049.6 299.9 L1050.7 300.8 L1051.8 300.6 L1052.9 301.5 L1054 303.5 L1055.1 303.1 L1056.2 303.4 L1057.3 304.9 L1058.4 305.8 L1059.5 305.6 L1060.6 306.6 L1061.7 308.5 L1062.8 308.1 L1063.9 308.5 L1065 310 L1066.1 310.8 L1067.2 310.7 L1068.3 311.7 L1069.4 313.6 L1070.5 313.1 L1071.6 313.5 L1072.7 315.1 L1073.8 315.9 L1074.9 315.7 L1076 316.7 L1077.1 318.7 L1078.2 318.2 L1079.3 318.6 L1080.4 320.2 L1081.5 320.9 L1082.6 320.8 L1083.7 321.8 L1084.8 323.7 M1046.5 292.5 L1047.6 293.2 L1048.7 293.1 L1049.8 294.2 L1050.9 296 L1052 295.5 L1053.1 296 L1054.2 297.6 L1055.3 298.2 L1056.4 298.1 L1057.5 299.2 L1058.6 301.1 L1059.7 300.6 L1060.8 301.1 L1061.9 302.7 L1063 303.3 L1064.1 303.2 L1065.2 304.3 L1066.3 306.1 L1067.4 305.6 L1068.5 306.1 L1069.6 307.8 L1070.7 308.3 L1071.8 308.2 L1072.9 309.4 L1074 311.1 L1075.1 310.7 L1076.2 311.2 L1077.3 312.9 L1078.4 313.3 L1079.5 313.3 L1080.6 314.5 L1081.7 316.2 L1082.8 315.7 L1083.9 316.3 L1085 318 L1086.1 318.4 L1087.2 318.3 L1088.3 319.5 L1089.4 321.2 L1090.5 320.7 M1052.2 290.7 L1053.3 290.7 L1054.4 291.9 L1055.5 293.5 L1056.6 293.1 L1057.7 293.7 L1058.8 295.4 L1059.9 295.7 L1061 295.7 L1062.1 297 L1063.2 298.5 L1064.3 298.1 L1065.4 298.7 L1066.5 300.5 L1067.6 300.7 L1068.7 300.8 L1069.8 302 L1070.9 303.6 L1072 303.1 L1073.1 303.8 L1074.2 305.6 L1075.3 305.8 L1076.4 305.8 L1077.5 307.1 L1078.6 308.6 L1079.7 308.2 L1080.8 308.9 L1081.9 310.6 L1083 310.8 L1084.1 310.9 L1085.2 312.2 L1086.3 313.6 L1087.4 313.2 L1088.5 313.9 L1089.6 315.7 L1090.7 315.9 L1091.8 316 L1092.9 317.3 L1094 318.7 L1095.1 318.3 L1096.2 319 M1058 288.3 L1059.1 289.6 L1060.2 291 L1061.3 290.6 L1062.4 291.3 L1063.5 293.2 L1064.6 293.2 L1065.7 293.3 L1066.8 294.7 L1067.9 296 L1069 295.7 L1070.1 296.4 L1071.2 298.3 L1072.3 298.2 L1073.4 298.4 L1074.5 299.8 L1075.6 301 L1076.7 300.7 L1077.8 301.5 L1078.9 303.3 L1080 303.3 L1081.1 303.5 L1082.2 304.9 L1083.3 306.1 L1084.4 305.7 L1085.5 306.6 L1086.6 308.4 L1087.7 308.3 L1088.8 308.5 L1089.9 309.9 L1091 311.1 L1092.1 310.8 L1093.2 311.6 L1094.3 313.5 L1095.4 313.3 L1096.5 313.6 L1097.6 315 L1098.7 316.1 L1099.8 315.8 L1100.9 316.7 L1102 318.6 M1063.7 287.4 L1064.8 288.4 L1065.9 288.2 L1067 289 L1068.1 290.9 L1069.2 290.7 L1070.3 291 L1071.4 292.4 L1072.5 293.5 L1073.6 293.2 L1074.7 294.1 L1075.8 296 L1076.9 295.7 L1078 296 L1079.1 297.5 L1080.2 298.5 L1081.3 298.3 L1082.4 299.2 L1083.5 301.1 L1084.6 300.8 L1085.7 301.1 L1086.8 302.6 L1087.9 303.5 L1089 303.3 L1090.1 304.3 L1091.2 306.2 L1092.3 305.8 L1093.4 306.2 L1094.5 307.7 L1095.6 308.6 L1096.7 308.4 L1097.8 309.3 L1098.9 311.3 L1100 310.9 L1101.1 311.2 L1102.2 312.8 L1103.3 313.6 L1104.4 313.4 L1105.5 314.4 L1106.6 316.4 L1107.7 315.9" stroke="#5f97c4" stroke-width="1.6" fill="none"/>
<path d="M996 306.9 L997.1 306.4 L998.2 306.8 L999.3 308.4 L1000.4 309.1 L1001.5 309 L1002.6 310 L1003.7 312 L1004.8 311.5 L1005.9 311.9 L1007 313.5 L1008.1 314.2 L1009.2 314 L1010.3 315.1 L1011.4 317 L1012.5 316.5 L1013.6 317 L1014.7 318.6 L1015.8 319.2 L1016.9 319.1 L1018 320.2 L1019.1 322 L1020.2 321.5 L1021.3 322 L1022.4 323.7 L1023.5 324.2 L1024.6 324.1 L1025.7 325.3 L1026.8 327.1 L1027.9 326.6 L1029 327.1 L1030.1 328.8 L1031.2 329.3 L1032.3 329.2 L1033.4 330.3 L1034.5 332.1 L1035.6 331.6 L1036.7 332.2 L1037.8 333.8 L1038.9 334.3 L1040 334.3 M1001.7 303.9 L1002.8 304.5 L1003.9 306.2 L1005 306.6 L1006.1 306.6 L1007.2 307.8 L1008.3 309.4 L1009.4 309 L1010.5 309.6 L1011.6 311.3 L1012.7 311.6 L1013.8 311.6 L1014.9 312.8 L1016 314.5 L1017.1 314 L1018.2 314.6 L1019.3 316.4 L1020.4 316.7 L1021.5 316.7 L1022.6 317.9 L1023.7 319.5 L1024.8 319.1 L1025.9 319.7 L1027 321.4 L1028.1 321.7 L1029.2 321.7 L1030.3 323 L1031.4 324.5 L1032.5 324.1 L1033.6 324.8 L1034.7 326.5 L1035.8 326.7 L1036.9 326.8 L1038 328.1 L1039.1 329.6 L1040.2 329.2 L1041.3 329.8 L1042.4 331.6 L1043.5 331.8 L1044.6 331.9 L1045.7 333.2 M1007.4 302.2 L1008.5 304 L1009.6 304.1 L1010.7 304.2 L1011.8 305.5 L1012.9 306.9 L1014 306.5 L1015.1 307.2 L1016.2 309 L1017.3 309.1 L1018.4 309.2 L1019.5 310.6 L1020.6 311.9 L1021.7 311.6 L1022.8 312.3 L1023.9 314.1 L1025 314.2 L1026.1 314.3 L1027.2 315.7 L1028.3 317 L1029.4 316.6 L1030.5 317.4 L1031.6 319.2 L1032.7 319.2 L1033.8 319.4 L1034.9 320.7 L1036 322 L1037.1 321.7 L1038.2 322.4 L1039.3 324.3 L1040.4 324.2 L1041.5 324.4 L1042.6 325.8 L1043.7 327 L1044.8 326.7 L1045.9 327.5 L1047 329.4 L1048.1 329.3 L1049.2 329.5 L1050.3 330.9 L1051.4 332.1 M1013.2 301.7 L1014.3 301.6 L1015.4 301.8 L1016.5 303.3 L1017.6 304.4 L1018.7 304.1 L1019.8 304.9 L1020.9 306.8 L1022 306.6 L1023.1 306.9 L1024.2 308.3 L1025.3 309.4 L1026.4 309.1 L1027.5 310 L1028.6 311.9 L1029.7 311.7 L1030.8 311.9 L1031.9 313.4 L1033 314.4 L1034.1 314.2 L1035.2 315.1 L1036.3 317 L1037.4 316.7 L1038.5 317 L1039.6 318.5 L1040.7 319.5 L1041.8 319.2 L1042.9 320.1 L1044 322.1 L1045.1 321.7 L1046.2 322.1 L1047.3 323.6 L1048.4 324.5 L1049.5 324.3 L1050.6 325.2 L1051.7 327.2 L1052.8 326.8 L1053.9 327.1 L1055 328.7 L1056.1 329.5 L1057.2 329.3 M1018.9 299.1 L1020 299.5 L1021.1 301 L1022.2 301.8 L1023.3 301.6 L1024.4 302.6 L1025.5 304.6 L1026.6 304.1 L1027.7 304.5 L1028.8 306.1 L1029.9 306.9 L1031 306.7 L1032.1 307.7 L1033.2 309.7 L1034.3 309.2 L1035.4 309.6 L1036.5 311.2 L1037.6 311.9 L1038.7 311.7 L1039.8 312.8 L1040.9 314.7 L1042 314.2 L1043.1 314.6 L1044.2 316.3 L1045.3 316.9 L1046.4 316.8 L1047.5 317.9 L1048.6 319.8 L1049.7 319.3 L1050.8 319.7 L1051.9 321.3 L1053 322 L1054.1 321.9 L1055.2 322.9 L1056.3 324.8 L1057.4 324.3 L1058.5 324.8 L1059.6 326.4 L1060.7 327 L1061.8 326.9 L1062.9 328 M1024.6 297.1 L1025.7 298.8 L1026.8 299.3 L1027.9 299.2 L1029 300.4 L1030.1 302.1 L1031.2 301.7 L1032.3 302.2 L1033.4 303.9 L1034.5 304.3 L1035.6 304.3 L1036.7 305.4 L1037.8 307.2 L1038.9 306.7 L1040 307.2 L1041.1 308.9 L1042.2 309.4 L1043.3 309.3 L1044.4 310.5 L1045.5 312.2 L1046.6 311.7 L1047.7 312.3 L1048.8 314 L1049.9 314.4 L1051 314.4 L1052.1 315.6 L1053.2 317.2 L1054.3 316.8 L1055.4 317.4 L1056.5 319.1 L1057.6 319.4 L1058.7 319.4 L1059.8 320.7 L1060.9 322.3 L1062 321.8 L1063.1 322.4 L1064.2 324.2 L1065.3 324.5 L1066.4 324.5 L1067.5 325.7 L1068.6 327.3 M1030.3 296.5 L1031.4 296.8 L1032.5 296.8 L1033.6 298.1 L1034.7 299.6 L1035.8 299.2 L1036.9 299.8 L1038 301.6 L1039.1 301.8 L1040.2 301.9 L1041.3 303.2 L1042.4 304.6 L1043.5 304.2 L1044.6 304.9 L1045.7 306.7 L1046.8 306.9 L1047.9 306.9 L1049 308.2 L1050.1 309.7 L1051.2 309.3 L1052.3 310 L1053.4 311.8 L1054.5 311.9 L1055.6 312 L1056.7 313.3 L1057.8 314.7 L1058.9 314.3 L1060 315.1 L1061.1 316.9 L1062.2 316.9 L1063.3 317.1 L1064.4 318.4 L1065.5 319.7 L1066.6 319.4 L1067.7 320.1 L1068.8 322 L1069.9 322 L1071 322.1 L1072.1 323.5 L1073.2 324.8 L1074.3 324.4 M1036.1 294.3 L1037.2 294.4 L1038.3 295.8 L1039.4 297.1 L1040.5 296.7 L1041.6 297.5 L1042.7 299.4 L1043.8 299.3 L1044.9 299.5 L1046 300.9 L1047.1 302.1 L1048.2 301.8 L1049.3 302.6 L1050.4 304.5 L1051.5 304.3 L1052.6 304.6 L1053.7 306 L1054.8 307.1 L1055.9 306.8 L1057 307.7 L1058.1 309.6 L1059.2 309.4 L1060.3 309.6 L1061.4 311.1 L1062.5 312.2 L1063.6 311.9 L1064.7 312.8 L1065.8 314.6 L1066.9 314.4 L1068 314.7 L1069.1 316.2 L1070.2 317.2 L1071.3 316.9 L1072.4 317.8 L1073.5 319.7 L1074.6 319.5 L1075.7 319.7 L1076.8 321.2 L1077.9 322.2 L1079 322 L1080.1 322.9 M1041.8 292.1 L1042.9 293.6 L1044 294.5 L1045.1 294.3 L1046.2 295.2 L1047.3 297.2 L1048.4 296.8 L1049.5 297.1 L1050.6 298.7 L1051.7 299.6 L1052.8 299.4 L1053.9 300.3 L1055 302.3 L1056.1 301.9 L1057.2 302.2 L1058.3 303.7 L1059.4 304.6 L1060.5 304.4 L1061.6 305.4 L1062.7 307.3 L1063.8 306.9 L1064.9 307.3 L1066 308.8 L1067.1 309.6 L1068.2 309.5 L1069.3 310.5 L1070.4 312.4 L1071.5 311.9 L1072.6 312.3 L1073.7 313.9 L1074.8 314.7 L1075.9 314.5 L1077 315.5 L1078.1 317.5 L1079.2 317 L1080.3 317.4 L1081.4 319 L1082.5 319.7 L1083.6 319.6 L1084.7 320.6 L1085.8 322.5 M1047.5 291.3 L1048.6 292 L1049.7 291.9 L1050.8 293 L1051.9 294.8 L1053 294.3 L1054.1 294.8 L1055.2 296.4 L1056.3 297 L1057.4 296.9 L1058.5 298 L1059.6 299.9 L1060.7 299.4 L1061.8 299.9 L1062.9 301.5 L1064 302.1 L1065.1 302 L1066.2 303.1 L1067.3 304.9 L1068.4 304.4 L1069.5 304.9 L1070.6 306.6 L1071.7 307.1 L1072.8 307 L1073.9 308.2 L1075 309.9 L1076.1 309.5 L1077.2 310 L1078.3 311.7 L1079.4 312.1 L1080.5 312.1 L1081.6 313.3 L1082.7 315 L1083.8 314.5 L1084.9 315.1 L1086 316.8 L1087.1 317.2 L1088.2 317.1 L1089.3 318.3 L1090.4 320 L1091.5 319.5 M1053.2 289.5 L1054.3 289.5 L1055.4 290.7 L1056.5 292.3 L1057.6 291.9 L1058.7 292.5 L1059.8 294.2 L1060.9 294.5 L1062 294.5 L1063.1 295.8 L1064.2 297.3 L1065.3 296.9 L1066.4 297.5 L1067.5 299.3 L1068.6 299.5 L1069.7 299.6 L1070.8 300.8 L1071.9 302.4 L1073 301.9 L1074.1 302.6 L1075.2 304.4 L1076.3 304.6 L1077.4 304.6 L1078.5 305.9 L1079.6 307.4 L1080.7 307 L1081.8 307.7 L1082.9 309.4 L1084 309.6 L1085.1 309.7 L1086.2 311 L1087.3 312.4 L1088.4 312 L1089.5 312.7 L1090.6 314.5 L1091.7 314.7 L1092.8 314.8 L1093.9 316.1 L1095 317.5 L1096.1 317.1 L1097.2 317.8 M1059 287.1 L1060.1 288.4 L1061.2 289.8 L1062.3 289.4 L1063.4 290.1 L1064.5 292 L1065.6 292 L1066.7 292.1 L1067.8 293.5 L1068.9 294.8 L1070 294.5 L1071.1 295.2 L1072.2 297.1 L1073.3 297 L1074.4 297.2 L1075.5 298.6 L1076.6 299.8 L1077.7 299.5 L1078.8 300.3 L1079.9 302.1 L1081 302.1 L1082.1 302.3 L1083.2 303.7 L1084.3 304.9 L1085.4 304.5 L1086.5 305.4 L1087.6 307.2 L1088.7 307.1 L1089.8 307.3 L1090.9 308.7 L1092 309.9 L1093.1 309.6 L1094.2 310.4 L1095.3 312.3 L1096.4 312.1 L1097.5 312.4 L1098.6 313.8 L1099.7 314.9 L1100.8 314.6 L1101.9 315.5 L1103 317.4 M1064.7 286.2 L1065.8 287.2 L1066.9 287 L1068 287.8 L1069.1 289.7 L1070.2 289.5 L1071.3 289.8 L1072.4 291.2 L1073.5 292.3 L1074.6 292 L1075.7 292.9 L1076.8 294.8 L1077.9 294.5 L1079 294.8 L1080.1 296.3 L1081.2 297.3 L1082.3 297.1 L1083.4 298 L1084.5 299.9 L1085.6 299.6 L1086.7 299.9 L1087.8 301.4 L1088.9 302.3 L1090 302.1 L1091.1 303.1 L1092.2 305 L1093.3 304.6 L1094.4 305 L1095.5 306.5 L1096.6 307.4 L1097.7 307.2 L1098.8 308.1 L1099.9 310.1 L1101 309.7 L1102.1 310 L1103.2 311.6 L1104.3 312.4 L1105.4 312.2 L1106.5 313.2 L1107.6 315.2 L1108.7 314.7" stroke="#eef6fb" stroke-width="1.1" fill="none" stroke-dasharray="2 1.5"/>
<path d="M965.5 297.8 L1011.6 328.7 L1011.6 345.9 L965.5 314.6 Z" fill="#ff0000" fill-opacity="0.72"/>
<path d="M1032 282.6 L1078.2 312.2 L1078.2 328.8 L1032 299.2 Z" fill="#ff0000" fill-opacity="0.72"/>
<path d="M965.5 297.8 L1011.6 328.7 L1011.6 345.9 M1032 282.6 L1078.2 312.2 L1078.2 328.8" stroke="#e00000" stroke-width="0.8" fill="none"/>
<path d="M933.7 310.6 L1066.9 272 L1110.9 300.9 L977.7 339.5 Z" fill="none" stroke="#ff0000" stroke-width="2.2"/>
<path d="M933.7 310.6 L933.7 325.9 M977.7 339.5 L977.7 354.8 M1110.9 300.9 L1110.9 316.2 M1066.9 272 L1066.9 287.3" stroke="#ff0000" stroke-width="2.2" fill="none"/>
<path d="M982.2 361 L988.5 364.2 L1121.7 326.6 L1116.2 323.9 M1059 343.5 L1053.5 340.8" stroke="#ff0000" stroke-width="2.2" fill="none" stroke-linejoin="miter"/>
<path d="M973.6 382.7 H989.1" stroke="#ff0000" stroke-width="1.3"/><text x="990.66" y="389.6" font-size="26" fill="#ff0000">3</text>
<text x="1058.01" y="368.1" font-size="26" fill="#ff0000">0</text>
<text x="1121.96" y="348.8" font-size="26" fill="#ff0000">3</text>
<g transform="translate(1015.2 412.6) rotate(-14)"><text x="-1.23" y="0" font-size="28">(</text><text x="8.34" y="0" font-size="28" font-style="italic">x</text><path d="M31.3 -6.8 H49.8" stroke="#000" stroke-width="1.35"/><text x="59.54" y="0" font-size="28" font-style="italic">x</text><text x="72.13" y="4.6" font-size="17.5">S</text><text x="82.1" y="4.6" font-size="17.5">R</text><text x="95.1" y="0" font-size="28">)</text><path d="M117.2 -19.3 L107.8 6" stroke="#000" stroke-width="1.45"/><text x="119.59" y="0" font-size="28" font-style="italic">h</text></g>
</svg>
</body></html>
